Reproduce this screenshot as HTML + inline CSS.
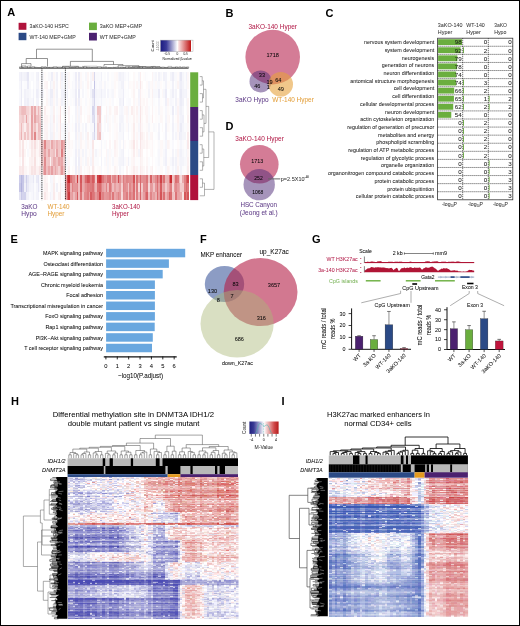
<!DOCTYPE html>
<html><head><meta charset="utf-8"><style>
html,body{margin:0;padding:0;background:#fff;}
body{width:520px;height:626px;overflow:hidden;}
svg{display:block;position:absolute;left:0;top:0;font-family:"Liberation Sans",sans-serif;will-change:transform;}
.hm{position:absolute;overflow:hidden;}
.hm i{position:absolute;left:0;width:100%;height:calc(var(--rh) + 0.6px);}
.hm2{position:absolute;transform-origin:0 0;}
.hm2 i{position:absolute;left:0;width:100%;height:1px;}
</style></head><body>
<div class="hm" style="left:19.20px;top:72.30px;width:169.90px;height:127.80px;--rh:8.520px"><i style="top:0.00px;background:linear-gradient(90deg,#f2f2fa 0 1%,#ededf7 0 2%,#f4f4fa 0 3%,#f2f2f9 0 4%,#efeff8 0 5%,#e6e6f4 0 6%,#fbfbfd 0 7%,#f9f9fd 0 8%,#f8f8fc 0 9%,#fdfdfe 0 10%,#f2f2f9 0 11%,#efeff8 0 12%,#fdfdfe 0 13%,#f7f7fc 0 14%,#f7f7fb 0 15%,#fefafa 0 16%,#fefdfd 0 17%,#f8f8fc 0 18%,#f9f9fc 0 19%,#eeeef8 0 20%,#fdf7f7 0 21%,#fafafd 0 22%,#f1f1f9 0 23%,#fefeff 0 24%,#fbf1f1 0 25%,#f0f0f9 0 26%,#f7f7fc 0 27%,#f8f8fc 0 28%,#f7f7fb 0 29%,#fdf7f7 0 30%,#fefefe 0 31%,#fdfdfe 0 32%,#fafafd 0 33%,#eeeef8 0 34%,#fefcfc 0 35%,#ececf7 0 36%,#fdf8f8 0 37%,#fcfcfe 0 38%,#fffdfd 0 39%,#f7f7fb 0 40%,#fdf6f6 0 41%,#fffefe 0 42%,#f6f6fb 0 43%,#fbf0f0 0 44%,#d8d8ee 0 45%,#f9f9fc 0 47%,#fafafd 0 48%,#f1f1f9 0 49%,#fdfdfe 0 50%,#fbfbfd 0 51%,#ffffff 0 52%,#f7f7fc 0 53%,#fefdfd 0 54%,#fbfbfd 0 56%,#fdf9f9 0 57%,#fdf7f7 0 58%,#f6f6fb 0 59%,#f1f1f9 0 60%,#f4f4fa 0 61%,#f2f2f9 0 62%,#f9f9fd 0 63%,#fcfcfe 0 64%,#f6f6fb 0 65%,#fefefe 0 66%,#ffffff 0 67%,#fdf9f9 0 68%,#fcfcfe 0 69%,#fefdfd 0 70%,#f6f6fb 0 71%,#fbeeee 0 72%,#fffefe 0 73%,#fefcfc 0 74%,#fafafd 0 75%,#fdfdfe 0 76%,#fefeff 0 77%,#ffffff 0 78%,#fcf4f5 0 79%,#f9f9fc 0 80%,#f6f6fb 0 81%,#fefdfd 0 82%,#f2f2f9 0 83%,#f8f8fc 0 84%,#fefcfc 0 85%,#f1f1f9 0 86%,#f3f3fa 0 87%,#fdfdfe 0 88%,#fefdfd 0 89%,#f4f4fa 0 90%,#ededf7 0 91%,#f8f8fc 0 92%,#f9f9fc 0 93%,#fefafa 0 94%,#f2f2f9 0 95%,#e8e8f5 0 96%,#f6f6fb 0 97%,#fbfbfd 0 98%,#f2f2fa 0 99%,#fdf7f8 0 100%)"></i><i style="top:8.52px;background:linear-gradient(90deg,#f6f6fb 0 1%,#ececf7 0 2%,#fcfcfe 0 3%,#fafafd 0 5%,#ebebf7 0 6%,#f9f9fc 0 7%,#ffffff 0 8%,#f8f8fc 0 9%,#fcfcfe 0 10%,#f4f4fa 0 11%,#f2f2f9 0 12%,#fefbfb 0 13%,#f4f4fa 0 14%,#ffffff 0 15%,#fdf6f7 0 16%,#fcf3f4 0 17%,#ffffff 0 18%,#f1f1f9 0 19%,#f7f7fb 0 20%,#fbf1f1 0 21%,#fbfbfd 0 22%,#f4f4fa 0 23%,#fffdfd 0 24%,#fbf1f1 0 25%,#f5f5fb 0 26%,#f9f9fc 0 27%,#fbfbfd 0 28%,#f5f5fa 0 29%,#fdf7f8 0 30%,#fefdfd 0 31%,#f8f8fc 0 32%,#fafafd 0 33%,#f0f0f9 0 34%,#fefafa 0 35%,#efeff8 0 36%,#fdf7f7 0 37%,#f8f8fc 0 38%,#fefefe 0 39%,#fbfbfd 0 40%,#fcf3f3 0 41%,#fefcfc 0 42%,#f4f4fa 0 43%,#fdfdfe 0 44%,#c5c5e6 0 45%,#f8f8fc 0 46%,#fbfbfd 0 47%,#f7f7fc 0 48%,#f5f5fb 0 49%,#fefbfb 0 50%,#f6f6fb 0 51%,#fefcfc 0 52%,#fbfbfd 0 53%,#fefdfd 0 54%,#fafafd 0 56%,#fdf8f8 0 57%,#fefcfc 0 58%,#f8f8fc 0 60%,#f2f2f9 0 61%,#f0f0f9 0 62%,#fefcfc 0 63%,#fffefe 0 64%,#f8f8fc 0 65%,#fefafa 0 66%,#fefbfb 0 67%,#fdf6f7 0 68%,#fcfcfe 0 69%,#fdf6f7 0 70%,#f9f9fc 0 71%,#f9e6e7 0 72%,#fdf8f8 0 73%,#ffffff 0 74%,#fefeff 0 75%,#fefafa 0 76%,#f7f7fc 0 77%,#fdf9f9 0 78%,#fdf6f6 0 79%,#fafafd 0 80%,#fdf9f9 0 81%,#f9f9fc 0 82%,#f8f8fc 0 83%,#fefafa 0 84%,#fffdfd 0 85%,#fbfbfd 0 86%,#f3f3fa 0 87%,#fefbfb 0 89%,#fcfcfe 0 90%,#f1f1f9 0 91%,#fffefe 0 92%,#f9f9fc 0 93%,#fcf4f4 0 94%,#f3f3fa 0 95%,#eeeef8 0 96%,#f4f4fa 0 97%,#fbfbfd 0 98%,#f6f6fb 0 99%,#fdf7f7 0 100%)"></i><i style="top:17.04px;background:linear-gradient(90deg,#f8f8fc 0 1%,#ebebf6 0 2%,#fbfbfd 0 3%,#f1f1f9 0 4%,#f5f5fb 0 5%,#f4f4fa 0 6%,#f7f7fc 0 7%,#fcfcfe 0 8%,#f3f3fa 0 9%,#fcfcfe 0 10%,#eeeef8 0 11%,#f1f1f9 0 12%,#fafafd 0 13%,#f0f0f9 0 14%,#f7f7fc 0 15%,#fefcfc 0 16%,#fdf7f8 0 17%,#f9f9fd 0 18%,#ededf7 0 20%,#fcf5f5 0 21%,#fafafd 0 22%,#f2f2f9 0 23%,#fffefe 0 24%,#fefcfc 0 25%,#f3f3fa 0 26%,#f2f2f9 0 27%,#f9f9fd 0 28%,#f2f2f9 0 29%,#fffefe 0 30%,#fbfbfd 0 31%,#f9f9fc 0 32%,#f8f8fc 0 33%,#ededf7 0 34%,#ffffff 0 35%,#e8e8f5 0 36%,#fefdfd 0 37%,#f6f6fb 0 38%,#fefeff 0 39%,#fbfbfd 0 40%,#fefafa 0 41%,#fefefe 0 42%,#f4f4fa 0 43%,#e2e2f2 0 44%,#d4d4ec 0 45%,#f4f4fa 0 46%,#f7f7fb 0 47%,#f6f6fb 0 48%,#efeff8 0 49%,#f7f7fc 0 50%,#f5f5fb 0 51%,#ffffff 0 52%,#f5f5fb 0 53%,#fbfbfd 0 54%,#f8f8fc 0 55%,#f6f6fb 0 56%,#fefafa 0 57%,#fffefe 0 58%,#f8f8fc 0 59%,#f7f7fb 0 60%,#f7f7fc 0 61%,#ededf7 0 62%,#fcfcfe 0 63%,#fdfdfe 0 64%,#fbfbfd 0 65%,#ffffff 0 66%,#fefbfb 0 67%,#fcf4f4 0 68%,#fdfdfe 0 69%,#fffefe 0 70%,#f3f3fa 0 71%,#fbeeef 0 72%,#fefafb 0 73%,#fefcfc 0 74%,#fcfcfe 0 75%,#fefcfc 0 76%,#f4f4fa 0 77%,#fefbfb 0 78%,#fbf1f1 0 79%,#f8f8fc 0 81%,#f9f9fc 0 82%,#ececf7 0 83%,#fdfdfe 0 84%,#fdf8f8 0 85%,#f6f6fb 0 86%,#ececf7 0 87%,#fefeff 0 88%,#fdfdfe 0 89%,#f7f7fb 0 90%,#efeff8 0 91%,#fafafd 0 92%,#f4f4fa 0 93%,#fffefe 0 94%,#f2f2f9 0 95%,#eaeaf6 0 96%,#f3f3fa 0 97%,#f5f5fb 0 98%,#f3f3fa 0 99%,#fefbfc 0 100%)"></i><i style="top:25.56px;background:linear-gradient(90deg,#f7f7fc 0 1%,#ebebf6 0 2%,#fefeff 0 3%,#f0f0f9 0 4%,#f3f3fa 0 5%,#eeeef7 0 6%,#f7f7fb 0 7%,#f7f7fc 0 8%,#efeff8 0 9%,#fefefe 0 10%,#f3f3fa 0 11%,#f2f2f9 0 12%,#ffffff 0 13%,#f8f8fc 0 14%,#fefeff 0 15%,#fefdfd 0 16%,#fcf5f5 0 17%,#f8f8fc 0 18%,#f0f0f9 0 19%,#f3f3fa 0 20%,#fdf6f6 0 21%,#fbfbfd 0 22%,#f4f4fa 0 23%,#fefafa 0 24%,#fdf5f6 0 25%,#f1f1f9 0 26%,#f7f7fc 0 27%,#fffefe 0 28%,#f5f5fb 0 29%,#fefbfb 0 30%,#fbfbfd 0 31%,#fefcfc 0 32%,#fafafd 0 33%,#ececf7 0 34%,#fdf8f8 0 35%,#eeeef8 0 36%,#fdf9f9 0 37%,#fdfdfe 0 38%,#fffdfd 0 39%,#f9f9fd 0 40%,#fefcfc 0 41%,#fdf9f9 0 42%,#f9f9fc 0 43%,#ececf7 0 44%,#d7d7ee 0 45%,#f7f7fc 0 46%,#f8f8fc 0 47%,#fafafd 0 48%,#f3f3fa 0 49%,#fbfbfd 0 51%,#fefbfb 0 52%,#fcfcfe 0 53%,#fefafa 0 54%,#fcfcfe 0 55%,#f9f9fd 0 56%,#ffffff 0 57%,#fefdfd 0 58%,#fefefe 0 59%,#f2f2f9 0 60%,#f5f5fb 0 61%,#ebebf6 0 62%,#ffffff 0 63%,#fcfcfe 0 64%,#fafafd 0 66%,#ffffff 0 67%,#fdf6f6 0 68%,#fbfbfd 0 69%,#fefafa 0 70%,#f5f5fb 0 71%,#faeded 0 72%,#fef9f9 0 73%,#fdf7f7 0 74%,#fffdfd 0 75%,#fdf7f8 0 76%,#fdfdfe 0 77%,#fefcfc 0 78%,#fcf5f5 0 79%,#fbfbfd 0 80%,#fdfdfe 0 81%,#fefefe 0 82%,#f5f5fb 0 83%,#fefcfc 0 84%,#fffdfd 0 85%,#fcfcfe 0 86%,#f0f0f9 0 87%,#fcf4f5 0 88%,#fafafd 0 89%,#f7f7fc 0 90%,#f9f9fd 0 91%,#fefefe 0 92%,#f2f2f9 0 93%,#fdf8f9 0 94%,#f3f3fa 0 95%,#ececf7 0 96%,#f1f1f9 0 97%,#fefeff 0 98%,#f7f7fc 0 99%,#fcf4f4 0 100%)"></i><i style="top:34.08px;background:linear-gradient(90deg,#f2cecf 0 1%,#efc0c1 0 2%,#eebbbd 0 3%,#eebdbe 0 4%,#f3d0d2 0 5%,#f4d4d5 0 6%,#f7dfdf 0 7%,#e9a9ab 0 8%,#f3cecf 0 9%,#e9a9ab 0 10%,#f6dadb 0 11%,#edb9bb 0 12%,#f4d5d6 0 13%,#fffefe 0 14%,#ffffff 0 15%,#fbeeee 0 16%,#fefafa 0 17%,#fefbfb 0 18%,#f8f8fc 0 19%,#f7f7fb 0 20%,#fbf1f1 0 21%,#fefefe 0 22%,#fafafd 0 23%,#fdf9f9 0 24%,#f7e1e1 0 25%,#fdfdfe 0 26%,#f9f9fc 0 27%,#fffdfd 0 28%,#fafafd 0 29%,#fcf3f4 0 30%,#fffefe 0 31%,#ffffff 0 32%,#fefeff 0 33%,#f3f3fa 0 34%,#fcf5f5 0 35%,#f5f5fb 0 36%,#fbf0f1 0 37%,#fdfdfe 0 38%,#fefbfb 0 39%,#fcfcfe 0 40%,#fefafa 0 41%,#fdf8f8 0 42%,#fafafd 0 43%,#d6d6ed 0 44%,#dedef1 0 45%,#f5f5fb 0 46%,#f0c4c5 0 47%,#f1c7c8 0 48%,#f2f2fa 0 49%,#ffffff 0 50%,#fffefe 0 51%,#fcf3f4 0 52%,#fbfbfd 0 53%,#fcf4f4 0 54%,#fefafa 0 55%,#fdfdfe 0 56%,#fcf3f3 0 57%,#fbf0f1 0 58%,#fffefe 0 59%,#f7f7fc 0 60%,#f5f5fb 0 61%,#f9f9fd 0 62%,#fdf7f7 0 63%,#fcf4f4 0 64%,#f6f6fb 0 65%,#fefcfc 0 66%,#fbeeee 0 67%,#fcf5f5 0 68%,#fefcfc 0 69%,#fcf2f2 0 70%,#f9f9fd 0 71%,#f8e5e6 0 72%,#fdf6f6 0 73%,#fefcfc 0 74%,#fdf5f6 0 75%,#fdf6f7 0 76%,#fafafd 0 77%,#fffefe 0 78%,#fcf3f3 0 79%,#fdfdfe 0 80%,#fefbfb 0 81%,#fffdfd 0 82%,#f6f6fb 0 83%,#fdf9f9 0 84%,#fef9f9 0 85%,#fdfdfe 0 86%,#f7f7fc 0 87%,#fdf9f9 0 88%,#fefcfc 0 89%,#fbfbfd 0 90%,#ececf7 0 91%,#ffffff 0 92%,#f7f7fc 0 93%,#fcf2f3 0 94%,#f4f4fa 0 95%,#f0f0f8 0 96%,#f6f6fb 0 97%,#ffffff 0 98%,#fbfbfd 0 99%,#fcf4f4 0 100%)"></i><i style="top:42.60px;background:linear-gradient(90deg,#f4d4d5 0 1%,#f3d0d1 0 2%,#f1c9ca 0 3%,#f6dbdc 0 4%,#e8a6a8 0 5%,#f5d8d9 0 6%,#f9e6e7 0 7%,#e7a1a4 0 8%,#f5d8d9 0 9%,#e7a3a5 0 10%,#efc1c3 0 11%,#edbabc 0 12%,#f2cbcc 0 13%,#fafafd 0 14%,#fefdfd 0 15%,#fcf2f3 0 16%,#fcf3f3 0 17%,#fdf9f9 0 18%,#f4f4fa 0 19%,#f7f7fb 0 20%,#faeced 0 21%,#fefefe 0 22%,#f8f8fc 0 23%,#fdf6f7 0 24%,#f6ddde 0 25%,#ffffff 0 26%,#fdfdfe 0 27%,#fefeff 0 28%,#ffffff 0 29%,#fcf4f5 0 30%,#fefeff 0 31%,#fbfbfd 0 32%,#fefefe 0 33%,#f4f4fa 0 34%,#fcf5f5 0 35%,#f4f4fa 0 36%,#fdf6f6 0 37%,#ffffff 0 38%,#fefafa 0 39%,#fefefe 0 40%,#fdf6f6 0 41%,#fcf3f3 0 42%,#f8f8fc 0 43%,#e1e1f2 0 44%,#d9d9ef 0 45%,#f8f8fc 0 46%,#f5d8d9 0 47%,#f1c8c9 0 48%,#f8f8fc 0 49%,#fffefe 0 50%,#f9f9fc 0 51%,#fcf3f3 0 52%,#f9f9fc 0 53%,#fdf9f9 0 54%,#fffdfd 0 55%,#fafafd 0 56%,#fdf7f7 0 57%,#fefbfb 0 58%,#fefeff 0 59%,#f4f4fa 0 60%,#f3f3fa 0 61%,#f6f6fb 0 62%,#fefdfd 0 63%,#fdf6f7 0 64%,#f9f9fc 0 65%,#fefbfb 0 66%,#fefcfc 0 67%,#fcf3f3 0 68%,#fefcfc 0 69%,#fdf6f6 0 70%,#f9f9fc 0 71%,#f8e3e4 0 72%,#fdf8f8 0 73%,#fffdfd 0 74%,#fefbfb 0 75%,#fcf4f4 0 76%,#fafafd 0 77%,#fefcfc 0 78%,#fbeeef 0 79%,#fffefe 0 80%,#fefbfb 0 81%,#fefcfc 0 82%,#fbfbfd 0 83%,#fdf7f7 0 84%,#fdf8f8 0 85%,#fefefe 0 86%,#f5f5fb 0 87%,#fdf8f8 0 88%,#fdf6f6 0 89%,#fefeff 0 90%,#f3f3fa 0 91%,#fffefe 0 92%,#fefbfb 0 93%,#fcf2f2 0 94%,#f7f7fc 0 95%,#f2f2fa 0 96%,#f0f0f9 0 97%,#fffefe 0 98%,#ffffff 0 99%,#fbf0f0 0 100%)"></i><i style="top:51.12px;background:linear-gradient(90deg,#f6dbdb 0 1%,#eebbbc 0 2%,#f7dedf 0 3%,#fbefef 0 4%,#f5d7d8 0 5%,#f2cccd 0 6%,#f8e5e5 0 7%,#e8a5a7 0 8%,#f4d5d6 0 9%,#efbfc0 0 10%,#f7e1e2 0 11%,#eebbbd 0 12%,#efbfc1 0 13%,#f8f8fc 0 14%,#fefeff 0 15%,#fcf3f4 0 16%,#fcf4f4 0 17%,#fafafd 0 18%,#f2f2f9 0 19%,#f6f6fb 0 20%,#fcf3f4 0 21%,#fffdfd 0 22%,#f6f6fb 0 23%,#fdf8f8 0 24%,#f8e4e5 0 25%,#f8f8fc 0 27%,#fbfbfd 0 28%,#f7f7fc 0 29%,#fdf8f9 0 30%,#fdfdfe 0 31%,#fefafa 0 32%,#fcfcfe 0 33%,#eeeef8 0 34%,#fdf9f9 0 35%,#f1f1f9 0 36%,#fefbfb 0 37%,#f8f8fc 0 38%,#fefefe 0 39%,#f3f3fa 0 40%,#fefcfc 0 41%,#fdfdfe 0 42%,#f8f8fc 0 44%,#cfcfea 0 45%,#f6f6fb 0 46%,#f2cccd 0 47%,#f5d9da 0 48%,#f3f3fa 0 49%,#fffefe 0 50%,#fafafd 0 51%,#ffffff 0 52%,#f8f8fc 0 53%,#fdf8f8 0 54%,#fffefe 0 55%,#fcfcfe 0 56%,#fefafa 0 57%,#fdf8f9 0 58%,#fefeff 0 59%,#f1f1f9 0 60%,#f7f7fb 0 61%,#f4f4fa 0 62%,#fcfcfe 0 63%,#fefafa 0 64%,#f4f4fa 0 65%,#fdfdfe 0 66%,#fefafa 0 67%,#faeded 0 68%,#fcfcfe 0 69%,#fefafa 0 70%,#f6f6fb 0 71%,#f9e9ea 0 72%,#fdf6f7 0 73%,#fefcfc 0 75%,#fdf9f9 0 76%,#f6f6fb 0 77%,#fefcfc 0 79%,#f9f9fc 0 80%,#fbfbfd 0 81%,#fffdfd 0 82%,#f4f4fa 0 83%,#fefeff 0 84%,#fdf9f9 0 85%,#fefeff 0 86%,#f0f0f8 0 87%,#fdf9f9 0 88%,#fefbfb 0 89%,#fdfdfe 0 90%,#f1f1f9 0 91%,#fcfcfe 0 92%,#fafafd 0 93%,#fcf4f4 0 94%,#f5f5fb 0 95%,#ebebf6 0 96%,#f5f5fb 0 97%,#fbfbfd 0 98%,#fafafd 0 99%,#fdf6f6 0 100%)"></i><i style="top:59.64px;background:linear-gradient(90deg,#f5d6d7 0 1%,#ecb3b5 0 2%,#f8e2e2 0 3%,#f0c3c4 0 4%,#f9e6e6 0 5%,#f1c9ca 0 6%,#f8e2e3 0 7%,#e8a4a6 0 8%,#f4d6d7 0 9%,#e08789 0 10%,#f5dadb 0 11%,#f0c3c4 0 12%,#f0c5c6 0 13%,#fdfdfe 0 15%,#fcf4f5 0 16%,#fbf1f2 0 17%,#fbfbfd 0 18%,#f1f1f9 0 19%,#f2f2f9 0 20%,#fbf1f1 0 21%,#fafafd 0 22%,#f9f9fc 0 23%,#fdf7f7 0 24%,#f8e3e3 0 25%,#fafafd 0 26%,#f9f9fc 0 27%,#fcfcfe 0 28%,#f9f9fd 0 29%,#fbefef 0 30%,#fffefe 0 32%,#fefefe 0 33%,#f1f1f9 0 34%,#fdf6f6 0 35%,#f6f6fb 0 36%,#fcf3f3 0 37%,#f8f8fc 0 38%,#fffefe 0 39%,#f7f7fb 0 40%,#fbf0f0 0 41%,#fefefe 0 42%,#fafafd 0 43%,#ececf7 0 44%,#d9d9ef 0 45%,#f5f5fb 0 46%,#f2cccd 0 47%,#efc1c2 0 48%,#f7f7fc 0 49%,#fafafd 0 50%,#fefeff 0 51%,#fffefe 0 52%,#fefeff 0 53%,#fefafa 0 54%,#ffffff 0 55%,#fcfcfe 0 56%,#fefafa 0 57%,#fdf7f7 0 58%,#fafafd 0 59%,#f8f8fc 0 61%,#f1f1f9 0 62%,#ffffff 0 63%,#fffefe 0 64%,#f7f7fc 0 65%,#ffffff 0 66%,#fefafa 0 67%,#fbefef 0 68%,#fbfbfd 0 69%,#fdf6f7 0 70%,#f9f9fd 0 71%,#f8e4e5 0 72%,#fbefef 0 73%,#fdf7f7 0 74%,#fffefe 0 75%,#fcf4f4 0 76%,#fafafd 0 77%,#fdf6f6 0 78%,#fcf4f4 0 79%,#fefeff 0 80%,#fdfdfe 0 81%,#fbfbfd 0 82%,#f2f2f9 0 83%,#ffffff 0 84%,#fffefe 0 85%,#fcfcfe 0 86%,#f1f1f9 0 87%,#fefdfd 0 88%,#fefcfc 0 89%,#fefefe 0 90%,#f3f3fa 0 91%,#fdfdfe 0 92%,#f5f5fb 0 93%,#fdf8f8 0 94%,#ededf7 0 95%,#f0f0f9 0 96%,#f5f5fa 0 98%,#fffefe 0 99%,#faeaeb 0 100%)"></i><i style="top:68.16px;background:linear-gradient(90deg,#faeaea 0 1%,#fdf9f9 0 2%,#f8e5e5 0 3%,#fefbfb 0 4%,#fdf6f6 0 5%,#fcfcfe 0 6%,#fcf5f5 0 7%,#f9e6e7 0 8%,#fbf1f1 0 9%,#f7dedf 0 10%,#fbf1f1 0 11%,#fdf8f8 0 12%,#faeaea 0 13%,#f0c3c5 0 14%,#f1c7c9 0 15%,#e08587 0 16%,#efc2c3 0 17%,#efc2c4 0 18%,#f4d5d6 0 19%,#e9a9ab 0 20%,#efbfc1 0 21%,#f2cccd 0 22%,#ecb3b5 0 23%,#f0c4c5 0 24%,#f1cacb 0 25%,#e49698 0 26%,#eaaeb0 0 27%,#fdf5f5 0 28%,#fafafd 0 29%,#fcf4f4 0 30%,#fefafa 0 31%,#fdf8f8 0 32%,#fcfcfe 0 33%,#f4f4fa 0 34%,#fdf9f9 0 35%,#f7f7fb 0 36%,#fcf4f4 0 37%,#fefbfb 0 39%,#f8f8fc 0 40%,#fcf5f5 0 41%,#fefbfb 0 42%,#fafafd 0 43%,#f9e7e8 0 44%,#fefefe 0 46%,#fefeff 0 47%,#fffdfd 0 48%,#f5f5fb 0 49%,#fefdfd 0 50%,#fbfbfd 0 51%,#fef9fa 0 52%,#ffffff 0 53%,#fdf5f6 0 54%,#ffffff 0 55%,#fcfcfe 0 56%,#fbf0f1 0 57%,#fdf7f7 0 58%,#fcfcfe 0 59%,#f7f7fc 0 60%,#fffdfd 0 61%,#f2f2f9 0 62%,#fefafb 0 63%,#fffefe 0 64%,#fdfdfe 0 65%,#fdf9f9 0 66%,#fcf4f4 0 67%,#f9e6e7 0 68%,#fefdfd 0 69%,#fcf3f4 0 70%,#fcfcfe 0 71%,#f8e5e6 0 72%,#fcf3f4 0 73%,#fcf5f5 0 74%,#fefafa 0 75%,#fcf3f3 0 76%,#fefafa 0 77%,#fefbfb 0 78%,#fdf6f7 0 79%,#fdfdfe 0 80%,#fffefe 0 81%,#fefcfd 0 82%,#f9f9fc 0 83%,#fdf8f8 0 84%,#fdf7f7 0 85%,#fbfbfd 0 86%,#f5f5fb 0 87%,#fcf4f4 0 88%,#fdf7f8 0 89%,#fdfdfe 0 90%,#f9f9fd 0 91%,#ffffff 0 92%,#fefeff 0 93%,#fefafa 0 94%,#fbfbfd 0 95%,#f5f5fb 0 96%,#fafafd 0 97%,#fefcfc 0 98%,#f9f9fc 0 99%,#f9e8e9 0 100%)"></i><i style="top:76.68px;background:linear-gradient(90deg,#faebec 0 1%,#fdf6f6 0 2%,#f8e2e3 0 3%,#fcf5f5 0 4%,#ffffff 0 5%,#f9f9fc 0 6%,#fefafa 0 7%,#faeaea 0 8%,#fcf2f2 0 9%,#f9e8e8 0 10%,#fdf7f7 0 11%,#fdf6f6 0 12%,#f9e9ea 0 13%,#f3d0d1 0 14%,#eebdbf 0 15%,#e8a4a6 0 16%,#f1c7c8 0 17%,#e8a7a9 0 18%,#f2cdce 0 19%,#f1c7c8 0 20%,#eebebf 0 21%,#f7dfe0 0 22%,#e8a5a8 0 23%,#f0c6c7 0 24%,#f4d2d3 0 25%,#de7f82 0 26%,#efc1c3 0 27%,#ffffff 0 28%,#f9f9fc 0 29%,#fdf8f8 0 30%,#fefbfb 0 31%,#fffdfd 0 32%,#fcfcfe 0 33%,#f0f0f9 0 34%,#fdf9f9 0 35%,#f1f1f9 0 36%,#fdf9f9 0 37%,#f4f4fa 0 38%,#fefbfb 0 39%,#f6f6fb 0 40%,#fefbfb 0 41%,#fdf8f8 0 42%,#f9f9fd 0 43%,#faeded 0 44%,#fbfbfd 0 45%,#f4f4fa 0 46%,#fbfbfd 0 47%,#fefafa 0 48%,#f5f5fb 0 49%,#fffefe 0 51%,#fdf5f6 0 52%,#f8f8fc 0 53%,#fdf8f9 0 54%,#fafafd 0 55%,#fcfcfe 0 56%,#fcf3f4 0 57%,#fdf7f7 0 58%,#fdfdfe 0 59%,#f7f7fb 0 60%,#f4f4fa 0 61%,#f0f0f8 0 62%,#fffefe 0 63%,#ffffff 0 64%,#fafafd 0 65%,#fffefe 0 66%,#fdf9f9 0 67%,#faedee 0 68%,#fefcfc 0 69%,#fdf6f6 0 70%,#f4f4fa 0 71%,#faeaea 0 72%,#fcf3f3 0 73%,#ffffff 0 75%,#fefafa 0 76%,#ffffff 0 77%,#fefafa 0 78%,#fdf6f6 0 79%,#fdfdfe 0 80%,#ffffff 0 81%,#fbfbfd 0 82%,#f7f7fc 0 83%,#fdf8f8 0 84%,#fefafa 0 85%,#f8f8fc 0 86%,#f1f1f9 0 87%,#fefdfd 0 88%,#fefcfd 0 89%,#fffdfd 0 90%,#f4f4fa 0 91%,#fefefe 0 92%,#f7f7fb 0 93%,#fcf4f4 0 94%,#f5f5fb 0 95%,#f1f1f9 0 96%,#f7f7fb 0 97%,#fbfbfd 0 98%,#f6f6fb 0 99%,#fcf5f5 0 100%)"></i><i style="top:85.20px;background:linear-gradient(90deg,#fdf6f6 0 1%,#fefeff 0 2%,#f8e4e5 0 3%,#fefafa 0 4%,#fffefe 0 5%,#fefefe 0 6%,#fcf3f3 0 7%,#fbefef 0 8%,#fcf4f5 0 9%,#f7e1e1 0 10%,#fdf8f8 0 11%,#fefbfb 0 12%,#fcf4f4 0 13%,#f1c7c8 0 14%,#f3ced0 0 15%,#e18b8e 0 16%,#f1c8c9 0 17%,#f0c3c4 0 18%,#fbf1f1 0 19%,#f1c8ca 0 20%,#eaadaf 0 21%,#ebb2b4 0 22%,#efc1c2 0 23%,#e8a5a7 0 24%,#ebafb1 0 25%,#e8a6a8 0 26%,#f3d1d2 0 27%,#f7f7fc 0 29%,#fdf6f7 0 30%,#fefeff 0 31%,#fefefe 0 32%,#fbfbfd 0 33%,#efeff8 0 34%,#ffffff 0 35%,#eeeef8 0 36%,#fdf6f6 0 37%,#f9f9fc 0 38%,#fefcfc 0 39%,#f5f5fa 0 40%,#fcf4f4 0 41%,#fefbfb 0 42%,#f5f5fb 0 43%,#fbeeee 0 44%,#fbfbfd 0 47%,#ffffff 0 48%,#f3f3fa 0 49%,#fffefe 0 50%,#f9f9fd 0 51%,#fdf6f6 0 52%,#f8f8fc 0 53%,#fef9f9 0 54%,#fdfdfe 0 55%,#f7f7fc 0 56%,#fefafa 0 58%,#f8f8fc 0 59%,#f4f4fa 0 61%,#f0f0f9 0 62%,#fafafd 0 63%,#fefafa 0 64%,#f2f2f9 0 65%,#fcfcfe 0 66%,#fdf7f7 0 67%,#fcf4f5 0 68%,#fcfcfe 0 69%,#fefcfc 0 70%,#fcfcfe 0 71%,#fbf0f0 0 72%,#fcf5f5 0 73%,#fefcfc 0 74%,#fffefe 0 75%,#fdf7f7 0 76%,#fcfcfe 0 77%,#ffffff 0 78%,#fdf8f9 0 79%,#fffefe 0 80%,#fcfcfe 0 81%,#fbfbfd 0 82%,#f7f7fb 0 83%,#fefbfb 0 84%,#fefcfc 0 85%,#f6f6fb 0 86%,#f0f0f9 0 87%,#fefbfb 0 88%,#fefafa 0 89%,#f8f8fc 0 90%,#f0f0f8 0 91%,#fafafd 0 92%,#f2f2f9 0 93%,#fdf7f7 0 94%,#f6f6fb 0 95%,#f3f3fa 0 96%,#f4f4fa 0 97%,#f8f8fc 0 98%,#f9f9fc 0 99%,#fbf0f1 0 100%)"></i><i style="top:93.72px;background:linear-gradient(90deg,#f9e8e9 0 1%,#faecec 0 2%,#f8e5e6 0 3%,#fcf5f5 0 5%,#fefbfb 0 6%,#fcf3f3 0 7%,#f8e4e4 0 8%,#faeaea 0 9%,#f8e3e4 0 10%,#fcf2f2 0 11%,#fbf0f1 0 12%,#f8e5e5 0 13%,#faebec 0 14%,#ecb5b6 0 15%,#e39194 0 16%,#efbfc1 0 17%,#e9a8aa 0 18%,#efbfc0 0 19%,#e69ea1 0 20%,#efbfc1 0 21%,#e9a8aa 0 22%,#efbfc0 0 23%,#f3d2d3 0 24%,#edb8b9 0 25%,#e59a9c 0 26%,#efc1c3 0 27%,#fefcfc 0 28%,#f8f8fc 0 29%,#fbf0f0 0 30%,#ffffff 0 31%,#fefbfb 0 32%,#fefcfc 0 33%,#efeff8 0 34%,#fdf7f7 0 35%,#f0f0f8 0 36%,#fbf0f1 0 37%,#fdfdfe 0 38%,#fdf8f8 0 39%,#fefbfb 0 40%,#fdf7f7 0 41%,#fbf1f1 0 42%,#fffdfe 0 43%,#f9e9ea 0 44%,#fdf7f7 0 45%,#fffefe 0 46%,#fefbfb 0 47%,#fdf9f9 0 48%,#f7f7fc 0 49%,#fffefe 0 50%,#fefbfc 0 51%,#fefafa 0 52%,#f8f8fc 0 53%,#fef9f9 0 54%,#fffefe 0 55%,#fefcfd 0 56%,#fcf3f3 0 57%,#fdf8f8 0 58%,#fefeff 0 59%,#f4f4fa 0 60%,#fbfbfd 0 61%,#f8f8fc 0 62%,#ffffff 0 63%,#fcf2f2 0 64%,#ffffff 0 65%,#fefbfb 0 66%,#fdf6f6 0 67%,#faeced 0 68%,#fdf7f7 0 69%,#fcf3f4 0 70%,#fbfbfd 0 71%,#faeaeb 0 72%,#fcf2f2 0 73%,#fdf7f7 0 74%,#fffefe 0 75%,#fbf1f2 0 76%,#fcfcfe 0 77%,#fdf6f6 0 78%,#fbf0f0 0 79%,#ffffff 0 80%,#fefbfb 0 81%,#fcfcfe 0 82%,#fbfbfd 0 83%,#fdf9f9 0 85%,#fefeff 0 86%,#f7f7fc 0 87%,#fcf3f3 0 88%,#fdf7f8 0 89%,#fcfcfe 0 90%,#f6f6fb 0 91%,#fdfdfe 0 92%,#f4f4fa 0 93%,#fbf1f1 0 94%,#fbfbfd 0 95%,#f3f3fa 0 96%,#fbfbfd 0 97%,#fefcfc 0 98%,#f9f9fc 0 99%,#faeced 0 100%)"></i><i style="top:102.24px;background:linear-gradient(90deg,#cdcdea 0 1%,#b9b9e1 0 2%,#c6c6e6 0 3%,#e8e8f5 0 4%,#cfcfea 0 5%,#e5e5f4 0 6%,#f1f1f9 0 7%,#f2f2f9 0 8%,#e8e8f5 0 9%,#f9f9fc 0 10%,#eaeaf6 0 11%,#e5e5f4 0 12%,#f8f8fc 0 13%,#fbfbfd 0 14%,#fdf9f9 0 15%,#fbf1f1 0 16%,#fdf6f6 0 17%,#ffffff 0 18%,#f5f5fb 0 19%,#f7f7fc 0 20%,#fcf2f2 0 21%,#fdfdfe 0 22%,#fefeff 0 23%,#fefafa 0 24%,#fcf4f5 0 25%,#fcfcfe 0 26%,#f8f8fc 0 27%,#e79fa2 0 28%,#d0464a 0 29%,#c8282d 0 30%,#db7174 0 31%,#e0878a 0 32%,#e28d8f 0 33%,#eaacae 0 34%,#cd3a3e 0 35%,#edb8ba 0 36%,#d4575b 0 37%,#e8a4a6 0 38%,#e49497 0 39%,#d96a6e 0 40%,#d25155 0 41%,#d4585c 0 42%,#dd787b 0 43%,#d55a5e 0 44%,#db7174 0 45%,#f1cacb 0 46%,#cf4146 0 47%,#ca2f34 0 48%,#d25054 0 49%,#dc7579 0 50%,#e28d90 0 51%,#e49799 0 52%,#dc777b 0 53%,#db7275 0 54%,#edb8b9 0 55%,#e18b8d 0 56%,#df8184 0 57%,#e7a2a4 0 58%,#d24e52 0 59%,#e28e91 0 60%,#ebb1b3 0 61%,#dd7b7e 0 62%,#e49497 0 63%,#df8486 0 64%,#e1898c 0 65%,#e28d8f 0 66%,#e39092 0 67%,#d35256 0 68%,#f0c4c5 0 69%,#db7376 0 70%,#e69c9e 0 71%,#d9696d 0 72%,#e39194 0 73%,#e28d90 0 75%,#dc7679 0 76%,#efc0c1 0 77%,#d76366 0 78%,#e9a9ab 0 79%,#e69ea0 0 80%,#e1888b 0 81%,#d76367 0 82%,#e1898c 0 83%,#cf4449 0 84%,#e39395 0 85%,#da6f72 0 86%,#ebb1b2 0 87%,#eaacae 0 88%,#da6f72 0 89%,#ca2e33 0 90%,#f0c3c4 0 91%,#e9aaac 0 92%,#da6f72 0 93%,#dd7b7f 0 94%,#eebcbe 0 95%,#f6dbdc 0 96%,#e8a7a9 0 97%,#e08487 0 98%,#d65f63 0 99%,#d0464a 0 100%)"></i><i style="top:110.76px;background:linear-gradient(90deg,#c6c6e6 0 1%,#b2b2de 0 2%,#c8c8e7 0 3%,#f0f0f8 0 4%,#d5d5ed 0 5%,#e8e8f5 0 6%,#f3f3fa 0 7%,#f5f5fb 0 8%,#f1f1f9 0 9%,#fbfbfd 0 10%,#f4f4fa 0 11%,#e7e7f5 0 12%,#f6f6fb 0 13%,#f8f8fc 0 14%,#fdf9f9 0 15%,#fbf1f1 0 16%,#fbeff0 0 17%,#fffefe 0 18%,#fafafd 0 19%,#f7f7fb 0 20%,#faeded 0 21%,#fcfcfe 0 22%,#f2f2f9 0 23%,#fefcfc 0 24%,#fbeeee 0 25%,#f8f8fc 0 26%,#fbfbfd 0 27%,#e69fa1 0 28%,#d55a5e 0 29%,#d45559 0 30%,#ebb1b3 0 31%,#df8285 0 32%,#e49799 0 33%,#e49699 0 34%,#e28c8f 0 35%,#eebdbe 0 36%,#d76165 0 37%,#e9a9ab 0 38%,#e69fa1 0 39%,#e28d8f 0 40%,#de7d80 0 41%,#de8083 0 42%,#dd7a7d 0 43%,#da7073 0 44%,#e5999b 0 45%,#ebb2b4 0 46%,#db7275 0 47%,#d9696c 0 48%,#df8284 0 49%,#e79fa2 0 50%,#eaabad 0 51%,#e08588 0 52%,#edb7b9 0 53%,#dc777a 0 54%,#e39396 0 55%,#eebcbe 0 56%,#e7a0a2 0 57%,#ecb3b5 0 58%,#eaaeb0 0 59%,#e69d9f 0 60%,#f3cfd0 0 61%,#df8184 0 62%,#e28d90 0 63%,#e49497 0 64%,#f0c3c5 0 65%,#e0888a 0 66%,#e69c9e 0 67%,#da6c70 0 68%,#efc1c3 0 69%,#dd7b7e 0 70%,#f5d7d8 0 71%,#d8686c 0 72%,#f1c9ca 0 73%,#e28e91 0 75%,#df8184 0 76%,#f5d9da 0 77%,#e5999c 0 78%,#e79fa1 0 79%,#f0c4c6 0 80%,#e4979a 0 81%,#dc7578 0 82%,#e7a0a2 0 83%,#d65e62 0 84%,#e9a9ab 0 85%,#e7a1a3 0 86%,#f2cacc 0 87%,#eaadaf 0 88%,#e39395 0 89%,#de7e81 0 90%,#f4d3d4 0 91%,#e59a9d 0 92%,#e1898c 0 93%,#e69b9e 0 94%,#e9a7a9 0 95%,#f2cbcc 0 96%,#f1c9ca 0 97%,#df8386 0 98%,#d96a6d 0 99%,#dc787b 0 100%)"></i><i style="top:119.28px;background:linear-gradient(90deg,#e4e4f3 0 1%,#c9c9e8 0 2%,#d4d4ec 0 3%,#d2d2ec 0 4%,#ededf7 0 5%,#f1f1f9 0 6%,#fafafd 0 7%,#f7f7fc 0 8%,#f1f1f9 0 9%,#f9f9fc 0 10%,#f3f3fa 0 11%,#f2f2fa 0 12%,#ffffff 0 13%,#fefcfc 0 14%,#fef9fa 0 15%,#f9e6e7 0 16%,#fcf2f2 0 17%,#fef9fa 0 18%,#f2f2fa 0 19%,#f8f8fc 0 20%,#faeaeb 0 21%,#fefafa 0 22%,#fcfcfe 0 23%,#fbf1f1 0 24%,#f9e8e9 0 25%,#fbfbfd 0 26%,#fefcfc 0 27%,#e7a2a4 0 28%,#d86669 0 29%,#cd3b40 0 30%,#e7a3a5 0 31%,#e69c9e 0 32%,#eebbbd 0 33%,#e7a1a3 0 34%,#d66064 0 35%,#eebdbf 0 36%,#dc7679 0 37%,#edbabc 0 38%,#e18b8e 0 39%,#e1888b 0 40%,#dd7b7e 0 41%,#e79fa2 0 42%,#d65d61 0 43%,#dc7578 0 44%,#de7d80 0 45%,#e59a9c 0 46%,#e08487 0 47%,#d0494d 0 48%,#e18b8d 0 49%,#df8285 0 50%,#e59a9c 0 51%,#e49799 0 52%,#e49496 0 53%,#df8486 0 54%,#eaacae 0 55%,#dd787b 0 56%,#e9a8aa 0 57%,#e69c9f 0 58%,#e08587 0 59%,#e49698 0 60%,#f5d8d9 0 61%,#e28c8f 0 62%,#e39295 0 63%,#de7d80 0 64%,#edb8ba 0 65%,#dd7b7e 0 66%,#e28f92 0 67%,#db7174 0 68%,#f2cbcc 0 69%,#de7f82 0 70%,#ecb3b5 0 71%,#d8666a 0 72%,#edb7b9 0 73%,#e69ea1 0 74%,#de7f82 0 75%,#d76266 0 76%,#eebdbf 0 77%,#e08588 0 78%,#e8a6a9 0 79%,#e69ea0 0 80%,#ebb2b3 0 81%,#da6d70 0 82%,#e59a9d 0 83%,#d45559 0 84%,#e7a0a2 0 85%,#da6f73 0 86%,#ebb1b3 0 87%,#e5989a 0 88%,#d76467 0 89%,#da6d70 0 90%,#efbfc0 0 91%,#f0c5c7 0 92%,#dc7478 0 93%,#e8a4a6 0 95%,#eaadaf 0 96%,#f8e3e3 0 97%,#d4575b 0 98%,#dc777b 0 99%,#d45559 0 100%)"></i></div><div class="hm2" style="left:67.60px;top:477.00px;width:70px;height:142px;transform:scale(2.43571,0.99859)"><i style="top:0px;background:linear-gradient(90deg,#dde 0 3px,#cce 0 4px,#eee 0 5px,#eef 0 6px,#bbd 0 7px,#dde 0 8px,#eee 0 9px,#eef 0 10px,#fee 0 11px,#fed 0 12px,#fff 0 13px,#fee 0 14px,#ecc 0 15px,#dde 0 16px,#fee 0 17px,#99d 0 18px,#fed 0 19px,#dde 0 20px,#eef 0 21px,#dde 0 22px,#fee 0 24px,#dde 0 26px,#ecc 0 27px,#fff 0 28px,#eef 0 30px,#edd 0 31px,#da9 0 32px,#ebb 0 36px,#edd 0 37px,#eaa 0 38px,#d99 0 40px,#ebb 0 41px,#eaa 0 42px,#ecc 0 43px,#ebb 0 44px,#fee 0 45px,#eaa 0 46px,#d99 0 48px,#eaa 0 49px,#ebb 0 50px,#eaa 0 51px,#d99 0 52px,#eba 0 53px,#ebb 0 54px,#d99 0 55px,#eaa 0 57px,#ebb 0 59px,#ecc 0 61px,#da9 0 62px,#eaa 0 65px,#ebb 0 66px,#d99 0 67px,#d88 0 68px,#eaa 0 70px)"></i><i style="top:1px;background:linear-gradient(90deg,#cce 0 1px,#bbd 0 2px,#eef 0 3px,#99c 0 4px,#dde 0 5px,#ccd 0 6px,#cce 0 7px,#eef 0 9px,#ffe 0 10px,#dde 0 11px,#edc 0 12px,#eee 0 13px,#dde 0 14px,#fff 0 15px,#fee 0 16px,#fff 0 18px,#dde 0 19px,#edd 0 20px,#dde 0 21px,#eee 0 22px,#cce 0 23px,#dde 0 24px,#ecc 0 25px,#edd 0 26px,#cce 0 27px,#eef 0 28px,#edd 0 29px,#fff 0 30px,#fee 0 31px,#ecc 0 32px,#fee 0 33px,#d99 0 34px,#ebb 0 36px,#da9 0 37px,#eaa 0 38px,#ebb 0 39px,#fdd 0 40px,#ebb 0 41px,#eaa 0 42px,#d99 0 43px,#eaa 0 44px,#ebb 0 45px,#d99 0 47px,#eaa 0 48px,#d99 0 49px,#da9 0 51px,#d88 0 52px,#fee 0 53px,#ecc 0 54px,#eaa 0 56px,#d99 0 57px,#ebb 0 58px,#ecb 0 59px,#ebb 0 60px,#ecc 0 61px,#d99 0 62px,#da9 0 63px,#d98 0 64px,#eaa 0 65px,#d88 0 66px,#d99 0 67px,#eaa 0 68px,#da9 0 69px,#d88 0 70px)"></i><i style="top:2px;background:linear-gradient(90deg,#dde 0 1px,#cce 0 2px,#bbd 0 3px,#aad 0 4px,#99c 0 5px,#aad 0 6px,#bbd 0 7px,#ccd 0 8px,#dde 0 9px,#bbd 0 10px,#eee 0 11px,#ccd 0 13px,#dde 0 14px,#bbd 0 15px,#cce 0 16px,#fdd 0 17px,#99c 0 18px,#dde 0 20px,#aad 0 21px,#dde 0 22px,#cce 0 23px,#fff 0 24px,#fee 0 25px,#eee 0 26px,#fff 0 27px,#dde 0 28px,#fee 0 30px,#fff 0 31px,#fee 0 32px,#eba 0 33px,#ecc 0 35px,#ebb 0 36px,#eaa 0 37px,#ecc 0 38px,#eaa 0 41px,#d99 0 42px,#fee 0 43px,#eaa 0 44px,#d99 0 45px,#d77 0 46px,#d88 0 47px,#eaa 0 48px,#ebb 0 49px,#eaa 0 50px,#d99 0 51px,#eaa 0 52px,#d99 0 53px,#eba 0 54px,#d88 0 55px,#d99 0 57px,#ebb 0 58px,#eaa 0 59px,#da9 0 60px,#ebb 0 61px,#d99 0 62px,#eaa 0 63px,#d88 0 64px,#fee 0 65px,#d99 0 67px,#d88 0 68px,#d98 0 69px,#d99 0 70px)"></i><i style="top:3px;background:linear-gradient(90deg,#dde 0 1px,#bbd 0 2px,#eef 0 3px,#cce 0 4px,#eee 0 5px,#cce 0 7px,#eee 0 8px,#cce 0 9px,#bbd 0 10px,#fff 0 11px,#eef 0 13px,#cce 0 14px,#dde 0 15px,#fee 0 16px,#fdd 0 17px,#eee 0 18px,#fee 0 19px,#eef 0 20px,#dde 0 21px,#eee 0 22px,#eef 0 23px,#fee 0 24px,#fff 0 25px,#ecc 0 26px,#fee 0 27px,#fff 0 30px,#fdd 0 31px,#ecc 0 32px,#ebb 0 33px,#ecc 0 34px,#fdd 0 35px,#fee 0 37px,#eaa 0 38px,#ebb 0 39px,#da9 0 40px,#ecc 0 41px,#ebb 0 42px,#d99 0 43px,#edd 0 44px,#ebb 0 45px,#d99 0 46px,#ebb 0 48px,#eba 0 49px,#eaa 0 50px,#d99 0 51px,#eba 0 52px,#ebb 0 53px,#eaa 0 54px,#d88 0 55px,#ebb 0 58px,#fee 0 59px,#d99 0 60px,#ebb 0 61px,#eaa 0 64px,#ebb 0 65px,#eaa 0 66px,#da9 0 67px,#d99 0 68px,#eaa 0 69px,#ebb 0 70px)"></i><i style="top:4px;background:linear-gradient(90deg,#dde 0 1px,#cce 0 2px,#bbd 0 3px,#dde 0 4px,#aad 0 5px,#cce 0 6px,#bbd 0 7px,#cce 0 8px,#fee 0 9px,#fff 0 10px,#cce 0 11px,#ecc 0 12px,#fff 0 13px,#eef 0 14px,#eee 0 15px,#fee 0 16px,#cce 0 18px,#fee 0 19px,#cce 0 20px,#fff 0 22px,#dde 0 23px,#fff 0 24px,#eef 0 25px,#fff 0 26px,#edd 0 27px,#fff 0 28px,#ebb 0 29px,#fee 0 30px,#ecc 0 32px,#ebb 0 33px,#eba 0 34px,#d99 0 36px,#ebb 0 37px,#d99 0 38px,#ecb 0 39px,#da9 0 40px,#d77 0 41px,#d88 0 43px,#d99 0 44px,#edd 0 45px,#d77 0 46px,#edd 0 47px,#da9 0 48px,#d77 0 49px,#d88 0 51px,#edd 0 52px,#ebb 0 53px,#d99 0 54px,#d76 0 55px,#eba 0 56px,#d88 0 57px,#d99 0 58px,#ecc 0 59px,#d99 0 61px,#d88 0 63px,#c66 0 64px,#d77 0 65px,#d76 0 66px,#d88 0 67px,#edc 0 68px,#d88 0 69px,#edd 0 70px)"></i><i style="top:5px;background:linear-gradient(90deg,#bbd 0 1px,#fff 0 2px,#bbd 0 3px,#eef 0 4px,#cce 0 5px,#dde 0 6px,#fff 0 7px,#fdd 0 8px,#eef 0 9px,#fff 0 10px,#d99 0 11px,#fee 0 12px,#dde 0 13px,#cce 0 14px,#edd 0 15px,#fff 0 16px,#dde 0 17px,#ecc 0 18px,#fee 0 19px,#eef 0 20px,#edd 0 21px,#fff 0 22px,#eef 0 23px,#fff 0 24px,#eee 0 25px,#dde 0 26px,#fff 0 27px,#edd 0 28px,#ecb 0 29px,#fee 0 30px,#edd 0 31px,#ebb 0 33px,#d88 0 34px,#eaa 0 35px,#d99 0 36px,#da9 0 37px,#d88 0 38px,#eaa 0 39px,#eba 0 40px,#d88 0 41px,#eaa 0 42px,#ebb 0 43px,#d87 0 44px,#d99 0 45px,#d77 0 47px,#eaa 0 48px,#d88 0 49px,#d98 0 50px,#d88 0 51px,#d99 0 52px,#eaa 0 53px,#d99 0 56px,#fee 0 57px,#eaa 0 59px,#eba 0 60px,#da9 0 61px,#d98 0 62px,#d99 0 63px,#edd 0 64px,#ecc 0 65px,#d98 0 66px,#d87 0 67px,#eaa 0 68px,#d99 0 69px,#d66 0 70px)"></i><i style="top:6px;background:linear-gradient(90deg,#fdd 0 1px,#dde 0 2px,#fee 0 3px,#bbd 0 4px,#cce 0 5px,#eee 0 6px,#dde 0 7px,#eee 0 8px,#eaa 0 9px,#fff 0 10px,#eef 0 11px,#ecc 0 12px,#fff 0 14px,#eef 0 15px,#fee 0 16px,#eef 0 17px,#edd 0 18px,#cce 0 20px,#fee 0 21px,#fdd 0 23px,#fff 0 24px,#ebb 0 25px,#fee 0 26px,#eef 0 27px,#fff 0 28px,#ecc 0 30px,#fff 0 31px,#eaa 0 33px,#d99 0 35px,#d98 0 36px,#fee 0 37px,#d88 0 38px,#d99 0 39px,#d88 0 40px,#d77 0 41px,#d99 0 43px,#d88 0 44px,#edd 0 45px,#d88 0 46px,#d87 0 47px,#d99 0 48px,#d77 0 51px,#d76 0 52px,#d99 0 53px,#eaa 0 54px,#c66 0 55px,#d99 0 56px,#d87 0 57px,#d88 0 58px,#d99 0 59px,#d77 0 60px,#d99 0 61px,#d66 0 62px,#d88 0 63px,#d66 0 64px,#d77 0 66px,#ecc 0 67px,#d66 0 68px,#d77 0 69px,#edd 0 70px)"></i><i style="top:7px;background:linear-gradient(90deg,#dde 0 1px,#eef 0 2px,#eee 0 3px,#dde 0 4px,#eef 0 5px,#fff 0 7px,#cce 0 8px,#dde 0 9px,#fee 0 10px,#dde 0 11px,#eef 0 12px,#cce 0 13px,#fed 0 14px,#edd 0 15px,#eef 0 17px,#cce 0 18px,#eef 0 19px,#fff 0 21px,#eef 0 22px,#fdd 0 23px,#fff 0 24px,#ecc 0 25px,#ebb 0 26px,#dde 0 27px,#edd 0 28px,#fff 0 29px,#dde 0 30px,#eba 0 31px,#d99 0 32px,#da9 0 33px,#eaa 0 34px,#d99 0 37px,#da9 0 38px,#eaa 0 39px,#d77 0 41px,#d99 0 42px,#d88 0 43px,#edd 0 44px,#d77 0 45px,#d76 0 46px,#d77 0 47px,#d99 0 48px,#d87 0 52px,#d77 0 53px,#d99 0 54px,#d76 0 55px,#d77 0 56px,#edd 0 57px,#d88 0 58px,#d99 0 59px,#d77 0 60px,#d88 0 61px,#c66 0 62px,#d77 0 63px,#d66 0 66px,#c66 0 67px,#d66 0 68px,#edd 0 69px,#d77 0 70px)"></i><i style="top:8px;background:linear-gradient(90deg,#cce 0 1px,#dde 0 3px,#aad 0 4px,#99c 0 5px,#cce 0 7px,#fff 0 9px,#eef 0 10px,#fee 0 11px,#fff 0 12px,#dde 0 13px,#fee 0 14px,#dde 0 16px,#eee 0 17px,#eef 0 18px,#ecc 0 19px,#bbd 0 20px,#cce 0 21px,#dde 0 22px,#fff 0 23px,#ecc 0 24px,#fee 0 25px,#eef 0 27px,#fff 0 28px,#ecc 0 29px,#fee 0 31px,#ecc 0 32px,#edc 0 33px,#eaa 0 34px,#ebb 0 35px,#d99 0 36px,#ebb 0 37px,#da9 0 38px,#eaa 0 41px,#edd 0 42px,#d99 0 43px,#eaa 0 44px,#edd 0 45px,#d88 0 46px,#edd 0 47px,#d99 0 48px,#d88 0 49px,#d99 0 50px,#d88 0 51px,#d77 0 52px,#ebb 0 54px,#d88 0 56px,#eaa 0 57px,#d88 0 58px,#da9 0 59px,#ebb 0 60px,#eaa 0 61px,#d87 0 62px,#d77 0 63px,#d99 0 64px,#d77 0 65px,#d87 0 67px,#d99 0 68px,#da9 0 69px,#fdd 0 70px)"></i><i style="top:9px;background:linear-gradient(90deg,#dde 0 1px,#cce 0 2px,#fff 0 3px,#bbd 0 4px,#cce 0 5px,#dde 0 6px,#bbd 0 7px,#fff 0 8px,#ccd 0 9px,#dde 0 10px,#fee 0 11px,#fff 0 12px,#fee 0 13px,#eef 0 14px,#edd 0 15px,#fee 0 16px,#cce 0 17px,#edd 0 18px,#dde 0 19px,#fff 0 20px,#ecc 0 22px,#eee 0 23px,#dde 0 24px,#ecc 0 25px,#eee 0 26px,#fee 0 28px,#ebb 0 29px,#eef 0 30px,#fff 0 31px,#ecc 0 32px,#eaa 0 33px,#ecc 0 34px,#eaa 0 35px,#ebb 0 37px,#eaa 0 38px,#ebb 0 40px,#eaa 0 41px,#ebb 0 42px,#ecc 0 44px,#ebb 0 45px,#eaa 0 46px,#d99 0 47px,#eaa 0 50px,#ebb 0 51px,#fdd 0 52px,#eaa 0 54px,#d88 0 55px,#ebb 0 56px,#da9 0 57px,#ebb 0 59px,#d99 0 60px,#eba 0 61px,#d98 0 62px,#eaa 0 64px,#ebb 0 65px,#d87 0 66px,#d99 0 67px,#eaa 0 69px,#ebb 0 70px)"></i><i style="top:10px;background:linear-gradient(90deg,#cce 0 1px,#eee 0 2px,#cce 0 3px,#dde 0 4px,#aad 0 5px,#bbd 0 7px,#eef 0 8px,#fff 0 9px,#fee 0 10px,#fff 0 13px,#dde 0 16px,#fee 0 17px,#ecc 0 18px,#fff 0 19px,#cce 0 20px,#fff 0 21px,#fee 0 22px,#dde 0 23px,#fff 0 24px,#edd 0 25px,#fee 0 26px,#eef 0 27px,#fff 0 28px,#eef 0 29px,#dde 0 30px,#fff 0 31px,#ecc 0 34px,#ebb 0 35px,#edd 0 36px,#ebb 0 37px,#ecc 0 38px,#ebb 0 39px,#ecc 0 40px,#ebb 0 41px,#ecc 0 42px,#da9 0 43px,#ecc 0 44px,#ebb 0 45px,#eaa 0 47px,#ecc 0 48px,#ebb 0 50px,#d99 0 51px,#fee 0 52px,#ebb 0 53px,#ecc 0 54px,#eaa 0 55px,#edd 0 56px,#ecc 0 57px,#ebb 0 58px,#ecc 0 59px,#ecb 0 60px,#ecc 0 62px,#fed 0 63px,#fee 0 64px,#eaa 0 65px,#d99 0 66px,#fee 0 67px,#d99 0 68px,#ebb 0 69px,#eaa 0 70px)"></i><i style="top:11px;background:linear-gradient(90deg,#fff 0 1px,#fee 0 2px,#ccd 0 3px,#bbd 0 4px,#fff 0 5px,#dde 0 6px,#fff 0 9px,#eef 0 10px,#edd 0 11px,#fed 0 12px,#dde 0 13px,#fdd 0 14px,#eee 0 15px,#edd 0 16px,#cce 0 17px,#eef 0 18px,#edd 0 19px,#fee 0 20px,#fff 0 22px,#dde 0 23px,#edd 0 25px,#fee 0 26px,#dde 0 27px,#fee 0 28px,#fdd 0 29px,#edd 0 31px,#ebb 0 32px,#eaa 0 33px,#ebb 0 34px,#eaa 0 37px,#ebb 0 38px,#ecc 0 39px,#da9 0 40px,#ebb 0 41px,#eaa 0 42px,#ecc 0 43px,#eaa 0 44px,#ebb 0 45px,#eaa 0 46px,#d99 0 48px,#da9 0 49px,#d99 0 50px,#da9 0 51px,#ebb 0 52px,#eba 0 53px,#ecc 0 54px,#d98 0 55px,#ebb 0 56px,#d99 0 57px,#eaa 0 58px,#ebb 0 60px,#eaa 0 61px,#d87 0 62px,#eaa 0 63px,#ebb 0 64px,#eaa 0 67px,#d88 0 68px,#eaa 0 70px)"></i><i style="top:12px;background:linear-gradient(90deg,#eef 0 1px,#eee 0 2px,#dde 0 4px,#eee 0 5px,#fff 0 6px,#eee 0 7px,#fee 0 8px,#eef 0 9px,#eee 0 10px,#fff 0 11px,#ecc 0 12px,#fff 0 13px,#ecc 0 14px,#eee 0 15px,#ecc 0 16px,#fff 0 17px,#cce 0 18px,#ecc 0 19px,#eef 0 20px,#cce 0 21px,#dde 0 22px,#eef 0 23px,#eee 0 24px,#fee 0 25px,#fff 0 26px,#edd 0 27px,#eaa 0 28px,#fdd 0 29px,#fee 0 32px,#edd 0 33px,#eaa 0 34px,#da9 0 35px,#d99 0 37px,#ecc 0 38px,#d99 0 39px,#ebb 0 40px,#d99 0 41px,#eaa 0 43px,#d99 0 44px,#eaa 0 50px,#d77 0 51px,#d87 0 52px,#d99 0 53px,#eaa 0 54px,#d99 0 55px,#eaa 0 56px,#ebb 0 57px,#eaa 0 58px,#ebb 0 59px,#eaa 0 61px,#d88 0 62px,#eaa 0 63px,#d99 0 64px,#fdd 0 65px,#d99 0 66px,#eaa 0 68px,#d88 0 69px,#fdd 0 70px)"></i><i style="top:13px;background:linear-gradient(90deg,#cce 0 1px,#dde 0 2px,#aad 0 3px,#bbd 0 4px,#aad 0 5px,#eee 0 6px,#cce 0 7px,#dde 0 9px,#cce 0 10px,#dde 0 11px,#cce 0 12px,#eee 0 14px,#aad 0 15px,#dde 0 16px,#bbd 0 17px,#dde 0 18px,#eee 0 19px,#dde 0 20px,#bbd 0 21px,#eee 0 22px,#eef 0 23px,#fdd 0 24px,#dde 0 25px,#ecc 0 26px,#fff 0 27px,#edd 0 28px,#fdd 0 29px,#edd 0 30px,#ecc 0 31px,#d99 0 32px,#eaa 0 33px,#ecc 0 34px,#edd 0 35px,#fee 0 36px,#edd 0 37px,#ecc 0 38px,#da9 0 39px,#ffe 0 40px,#d99 0 41px,#da9 0 42px,#d88 0 43px,#d99 0 45px,#d66 0 47px,#d99 0 48px,#d88 0 49px,#d76 0 50px,#d66 0 51px,#d99 0 55px,#d87 0 56px,#d99 0 57px,#d88 0 58px,#d98 0 60px,#d99 0 61px,#c55 0 62px,#d76 0 64px,#edd 0 65px,#c44 0 66px,#d66 0 67px,#d77 0 69px,#d87 0 70px)"></i><i style="top:14px;background:linear-gradient(90deg,#eef 0 1px,#fed 0 2px,#ccd 0 3px,#bbd 0 4px,#fee 0 5px,#dde 0 6px,#eef 0 7px,#fff 0 8px,#cce 0 9px,#eef 0 10px,#cce 0 11px,#eef 0 12px,#dde 0 14px,#cce 0 15px,#fff 0 16px,#dde 0 17px,#fff 0 19px,#dde 0 21px,#ccd 0 22px,#fee 0 23px,#dde 0 24px,#eef 0 25px,#edd 0 26px,#eaa 0 27px,#fee 0 28px,#eaa 0 29px,#fff 0 31px,#fee 0 32px,#ebb 0 33px,#eaa 0 34px,#ebb 0 35px,#eaa 0 36px,#fee 0 37px,#eaa 0 38px,#ecb 0 39px,#da9 0 40px,#d77 0 41px,#eaa 0 42px,#d66 0 43px,#d77 0 44px,#eaa 0 45px,#c65 0 46px,#d88 0 48px,#d99 0 49px,#d88 0 50px,#d76 0 51px,#d88 0 52px,#d99 0 54px,#d88 0 55px,#eaa 0 56px,#d99 0 58px,#d88 0 59px,#d99 0 60px,#d98 0 61px,#d76 0 62px,#d77 0 63px,#d88 0 64px,#d87 0 65px,#d77 0 66px,#d88 0 67px,#d77 0 68px,#d88 0 69px,#d76 0 70px)"></i><i style="top:15px;background:linear-gradient(90deg,#ccd 0 1px,#bbd 0 2px,#aad 0 4px,#99c 0 5px,#99d 0 6px,#dde 0 7px,#cce 0 8px,#aad 0 9px,#cce 0 10px,#bbd 0 12px,#cce 0 13px,#aad 0 14px,#eef 0 15px,#eee 0 16px,#dde 0 17px,#cce 0 20px,#fee 0 21px,#cce 0 22px,#dde 0 23px,#eef 0 24px,#ecc 0 25px,#fff 0 26px,#bbd 0 27px,#dde 0 28px,#fee 0 29px,#ecc 0 30px,#fdd 0 31px,#ecb 0 32px,#ecc 0 33px,#fff 0 34px,#ecc 0 35px,#eba 0 36px,#ebb 0 37px,#eba 0 38px,#edd 0 39px,#d98 0 40px,#d88 0 41px,#ebb 0 42px,#da9 0 43px,#edd 0 44px,#d99 0 45px,#ecc 0 46px,#d88 0 47px,#edd 0 48px,#eaa 0 49px,#d99 0 51px,#d88 0 52px,#d99 0 53px,#eaa 0 54px,#d77 0 55px,#d99 0 56px,#d88 0 58px,#d99 0 59px,#d88 0 61px,#d77 0 62px,#d76 0 64px,#d88 0 65px,#d66 0 66px,#d77 0 67px,#d88 0 68px,#d87 0 69px,#d77 0 70px)"></i><i style="top:16px;background:linear-gradient(90deg,#aad 0 1px,#dde 0 2px,#99c 0 3px,#cce 0 4px,#99d 0 5px,#88c 0 6px,#eef 0 7px,#bbd 0 8px,#99c 0 10px,#bbd 0 11px,#dde 0 12px,#aad 0 13px,#cce 0 14px,#88c 0 16px,#bbd 0 17px,#aad 0 18px,#bbd 0 19px,#ccd 0 21px,#bbd 0 22px,#cce 0 23px,#fff 0 24px,#99c 0 25px,#cce 0 26px,#ebb 0 27px,#fff 0 28px,#eee 0 29px,#dde 0 30px,#fee 0 31px,#fff 0 32px,#ebb 0 33px,#fee 0 35px,#fff 0 36px,#fee 0 37px,#edd 0 38px,#fff 0 39px,#edd 0 40px,#ecc 0 43px,#eaa 0 45px,#d88 0 46px,#d98 0 47px,#ebb 0 48px,#eba 0 49px,#d99 0 50px,#ebb 0 51px,#eaa 0 52px,#edd 0 53px,#ebb 0 54px,#eaa 0 55px,#da9 0 56px,#eaa 0 57px,#ebb 0 59px,#ecb 0 60px,#eba 0 61px,#d88 0 62px,#eaa 0 67px,#eba 0 68px,#eaa 0 69px,#ecc 0 70px)"></i><i style="top:17px;background:linear-gradient(90deg,#aad 0 1px,#fff 0 2px,#eef 0 3px,#aad 0 4px,#eee 0 5px,#ccd 0 6px,#bbd 0 7px,#eef 0 8px,#cce 0 9px,#dde 0 10px,#fff 0 11px,#eee 0 12px,#fff 0 13px,#fdd 0 14px,#dde 0 15px,#fff 0 16px,#fee 0 17px,#cce 0 18px,#edd 0 19px,#eee 0 20px,#cce 0 21px,#fff 0 24px,#ecc 0 25px,#edd 0 26px,#eef 0 27px,#ecc 0 28px,#fff 0 29px,#eef 0 30px,#fff 0 31px,#da9 0 32px,#ecc 0 33px,#eaa 0 34px,#ebb 0 35px,#fff 0 36px,#ecc 0 37px,#fee 0 38px,#ebb 0 39px,#fdd 0 40px,#ebb 0 41px,#edd 0 42px,#d99 0 43px,#eaa 0 45px,#d99 0 47px,#eaa 0 48px,#d99 0 49px,#eaa 0 50px,#ebb 0 51px,#d88 0 52px,#eaa 0 53px,#ebb 0 54px,#d99 0 55px,#d88 0 56px,#eba 0 57px,#eaa 0 58px,#ebb 0 59px,#d99 0 60px,#eaa 0 61px,#d88 0 63px,#d98 0 64px,#d88 0 65px,#d77 0 66px,#d88 0 67px,#d99 0 69px,#ebb 0 70px)"></i><i style="top:18px;background:linear-gradient(90deg,#fff 0 2px,#eee 0 3px,#cce 0 4px,#dde 0 6px,#fee 0 7px,#fff 0 8px,#cce 0 9px,#dde 0 12px,#eee 0 13px,#fff 0 14px,#dde 0 15px,#eee 0 16px,#eef 0 17px,#fff 0 18px,#fdd 0 19px,#fff 0 21px,#eef 0 22px,#cce 0 23px,#eaa 0 24px,#ecc 0 25px,#ebb 0 26px,#eaa 0 27px,#ecc 0 28px,#fee 0 30px,#fff 0 31px,#d99 0 32px,#d88 0 33px,#edd 0 34px,#eaa 0 35px,#ebb 0 36px,#d77 0 37px,#eaa 0 38px,#ebb 0 39px,#d88 0 40px,#d77 0 41px,#d99 0 42px,#d77 0 43px,#d76 0 45px,#c54 0 46px,#ecc 0 47px,#d77 0 48px,#d76 0 49px,#d77 0 50px,#c66 0 51px,#c55 0 52px,#c66 0 55px,#d66 0 56px,#c65 0 57px,#d77 0 58px,#d87 0 59px,#d76 0 60px,#d88 0 61px,#c44 0 62px,#c66 0 63px,#c65 0 64px,#d77 0 65px,#ecc 0 66px,#c44 0 67px,#c55 0 68px,#d66 0 69px,#c65 0 70px)"></i><i style="top:19px;background:linear-gradient(90deg,#bbd 0 2px,#aad 0 3px,#bbd 0 4px,#aad 0 5px,#99c 0 6px,#ccd 0 7px,#bbd 0 8px,#77c 0 9px,#cce 0 10px,#ccd 0 11px,#aad 0 13px,#fff 0 14px,#cce 0 15px,#dde 0 16px,#aad 0 17px,#cce 0 19px,#99c 0 20px,#bbd 0 21px,#99c 0 22px,#fff 0 23px,#eef 0 24px,#edd 0 25px,#dde 0 26px,#fee 0 27px,#dde 0 28px,#eef 0 29px,#edd 0 30px,#fff 0 32px,#eaa 0 33px,#edd 0 35px,#fee 0 37px,#fdd 0 38px,#edd 0 40px,#eaa 0 42px,#d99 0 43px,#eba 0 44px,#fdd 0 45px,#d77 0 46px,#da9 0 47px,#eaa 0 50px,#d99 0 51px,#d87 0 52px,#d88 0 53px,#eaa 0 54px,#d88 0 56px,#d87 0 57px,#d88 0 59px,#eaa 0 60px,#ebb 0 61px,#d66 0 62px,#d99 0 63px,#d88 0 64px,#eaa 0 65px,#d66 0 66px,#d77 0 67px,#d99 0 68px,#d88 0 69px,#d77 0 70px)"></i><i style="top:20px;background:linear-gradient(90deg,#fee 0 1px,#dde 0 2px,#eef 0 3px,#fff 0 4px,#dde 0 6px,#fff 0 7px,#ccd 0 8px,#dde 0 9px,#eee 0 10px,#fee 0 11px,#dde 0 12px,#eee 0 13px,#fee 0 14px,#fdd 0 15px,#ecc 0 16px,#fee 0 19px,#cce 0 20px,#eee 0 21px,#eef 0 22px,#fff 0 23px,#ebb 0 24px,#fff 0 26px,#dde 0 27px,#fdd 0 28px,#ebb 0 29px,#ecc 0 30px,#edd 0 31px,#fee 0 32px,#eaa 0 33px,#edd 0 34px,#eaa 0 35px,#edd 0 36px,#eaa 0 38px,#ebb 0 39px,#d88 0 40px,#d66 0 41px,#d77 0 42px,#d88 0 43px,#d77 0 45px,#d88 0 48px,#eaa 0 49px,#d77 0 50px,#d88 0 52px,#ebb 0 53px,#d99 0 54px,#c65 0 55px,#d99 0 57px,#d88 0 58px,#d99 0 61px,#d76 0 62px,#edd 0 63px,#d66 0 64px,#d99 0 65px,#d77 0 66px,#d88 0 67px,#d76 0 68px,#d77 0 69px,#eaa 0 70px)"></i><i style="top:21px;background:linear-gradient(90deg,#dde 0 1px,#cce 0 2px,#fff 0 3px,#cce 0 4px,#bbd 0 6px,#dde 0 7px,#cce 0 8px,#dde 0 9px,#aad 0 10px,#cce 0 12px,#dde 0 13px,#cce 0 16px,#eef 0 17px,#eee 0 18px,#bbd 0 19px,#fff 0 20px,#eef 0 21px,#dde 0 22px,#eef 0 23px,#eee 0 24px,#fee 0 25px,#cce 0 26px,#fff 0 27px,#cce 0 28px,#edd 0 29px,#dde 0 30px,#eef 0 31px,#ecc 0 32px,#fee 0 33px,#ebb 0 34px,#eef 0 35px,#ecc 0 36px,#eef 0 37px,#dde 0 38px,#fdd 0 39px,#edd 0 40px,#ecc 0 43px,#fee 0 44px,#ecb 0 45px,#d99 0 46px,#ebb 0 47px,#eaa 0 49px,#ecc 0 50px,#ebb 0 52px,#ecc 0 53px,#ecb 0 54px,#eaa 0 55px,#ecc 0 56px,#ebb 0 57px,#ecc 0 59px,#edd 0 60px,#ecc 0 61px,#ebb 0 64px,#eaa 0 65px,#ebb 0 66px,#eaa 0 67px,#ebb 0 69px,#edd 0 70px)"></i><i style="top:22px;background:linear-gradient(90deg,#eef 0 1px,#fff 0 2px,#eee 0 3px,#dde 0 4px,#fff 0 5px,#dde 0 7px,#aad 0 8px,#cce 0 9px,#fff 0 10px,#fee 0 11px,#bbd 0 12px,#cce 0 13px,#fee 0 14px,#dde 0 15px,#fff 0 16px,#dde 0 17px,#cce 0 18px,#edd 0 19px,#fee 0 20px,#eee 0 21px,#eef 0 22px,#fff 0 23px,#edd 0 24px,#fee 0 25px,#fdd 0 26px,#eba 0 27px,#edd 0 28px,#fee 0 29px,#edd 0 31px,#fff 0 32px,#ebb 0 33px,#eaa 0 34px,#ecb 0 35px,#edd 0 36px,#ebb 0 37px,#fdd 0 38px,#edd 0 39px,#d98 0 40px,#eaa 0 41px,#d99 0 45px,#d88 0 47px,#ebb 0 48px,#d88 0 49px,#d87 0 50px,#d88 0 51px,#d99 0 52px,#ebb 0 53px,#d99 0 55px,#eaa 0 56px,#d88 0 57px,#edd 0 58px,#d99 0 60px,#ebb 0 61px,#d99 0 62px,#d77 0 63px,#eaa 0 64px,#d76 0 65px,#d77 0 66px,#d88 0 68px,#d87 0 69px,#d88 0 70px)"></i><i style="top:23px;background:linear-gradient(90deg,#aad 0 1px,#eef 0 2px,#ccd 0 3px,#bbd 0 4px,#cce 0 6px,#bbd 0 7px,#dde 0 8px,#cce 0 9px,#eef 0 10px,#cce 0 11px,#bbd 0 12px,#eef 0 13px,#cce 0 17px,#bbd 0 18px,#eef 0 19px,#fdd 0 20px,#fff 0 23px,#fee 0 24px,#eef 0 25px,#ecc 0 26px,#cce 0 27px,#edd 0 28px,#fee 0 29px,#eef 0 30px,#ecc 0 31px,#edd 0 32px,#fee 0 33px,#fff 0 34px,#fee 0 35px,#dde 0 36px,#fee 0 37px,#fed 0 38px,#dde 0 39px,#ecc 0 41px,#da9 0 42px,#ecc 0 44px,#eaa 0 45px,#ebb 0 46px,#d99 0 47px,#ecc 0 48px,#edc 0 49px,#ebb 0 50px,#ecb 0 51px,#eaa 0 52px,#fdd 0 53px,#edc 0 54px,#eba 0 55px,#ecc 0 56px,#fee 0 57px,#ecc 0 58px,#edd 0 59px,#ebb 0 60px,#edd 0 61px,#ebb 0 62px,#eaa 0 63px,#ecc 0 64px,#ebb 0 65px,#fee 0 66px,#ebb 0 67px,#ecc 0 68px,#ecb 0 69px,#edd 0 70px)"></i><i style="top:24px;background:linear-gradient(90deg,#bbd 0 1px,#cce 0 2px,#dde 0 3px,#aad 0 4px,#cce 0 5px,#99c 0 6px,#eee 0 7px,#cce 0 8px,#bbd 0 10px,#eef 0 11px,#cce 0 12px,#dde 0 13px,#cce 0 14px,#aad 0 15px,#dde 0 17px,#eef 0 18px,#dde 0 19px,#fdd 0 20px,#dde 0 21px,#fff 0 23px,#fee 0 24px,#eef 0 25px,#fff 0 26px,#ccd 0 27px,#bbd 0 28px,#eef 0 29px,#fff 0 30px,#fee 0 31px,#edd 0 32px,#ebb 0 33px,#fdd 0 34px,#ecc 0 36px,#eef 0 37px,#cce 0 38px,#fee 0 39px,#edd 0 40px,#ecc 0 41px,#ebb 0 42px,#d99 0 46px,#d88 0 47px,#da9 0 48px,#eaa 0 49px,#ebb 0 50px,#ecc 0 51px,#eaa 0 53px,#ebb 0 54px,#eaa 0 56px,#ebb 0 58px,#eaa 0 59px,#fee 0 60px,#ebb 0 61px,#eaa 0 62px,#d99 0 63px,#fee 0 64px,#eaa 0 66px,#fee 0 67px,#eaa 0 69px,#ebb 0 70px)"></i><i style="top:25px;background:linear-gradient(90deg,#eee 0 1px,#aad 0 2px,#eee 0 3px,#aad 0 4px,#ccd 0 5px,#cce 0 6px,#ccd 0 7px,#eee 0 8px,#bbd 0 9px,#fff 0 10px,#ccd 0 11px,#cce 0 12px,#eef 0 13px,#fff 0 14px,#aad 0 15px,#cce 0 17px,#eef 0 18px,#bbd 0 19px,#fee 0 20px,#fff 0 22px,#cce 0 23px,#eee 0 25px,#fee 0 26px,#eef 0 27px,#edd 0 28px,#dde 0 29px,#fff 0 30px,#edd 0 31px,#ecb 0 32px,#fff 0 33px,#fee 0 34px,#ebb 0 36px,#eee 0 37px,#fff 0 38px,#eef 0 39px,#fff 0 40px,#ecc 0 42px,#ebb 0 43px,#eaa 0 46px,#d99 0 47px,#eba 0 48px,#da9 0 49px,#ebb 0 50px,#eaa 0 51px,#d98 0 52px,#ebb 0 53px,#ecc 0 54px,#eaa 0 55px,#ebb 0 57px,#ecc 0 60px,#eba 0 61px,#edd 0 62px,#ebb 0 64px,#eaa 0 66px,#ebb 0 67px,#eaa 0 69px,#ecc 0 70px)"></i><i style="top:26px;background:linear-gradient(90deg,#bbd 0 1px,#99c 0 2px,#aad 0 4px,#88c 0 5px,#bbd 0 6px,#aad 0 8px,#99c 0 10px,#cce 0 11px,#dde 0 12px,#aad 0 16px,#99c 0 17px,#bbd 0 18px,#cce 0 19px,#dde 0 20px,#aad 0 21px,#fff 0 22px,#cce 0 24px,#bbd 0 25px,#fff 0 27px,#eee 0 28px,#dde 0 30px,#fff 0 31px,#ebb 0 32px,#edd 0 33px,#ecc 0 34px,#fdd 0 35px,#99d 0 36px,#cce 0 37px,#eee 0 38px,#bbd 0 39px,#ccd 0 40px,#ebb 0 41px,#fdd 0 42px,#ebb 0 43px,#d99 0 44px,#da9 0 45px,#fee 0 46px,#da9 0 47px,#d99 0 49px,#eaa 0 50px,#ebb 0 52px,#ecc 0 54px,#eaa 0 55px,#d99 0 56px,#ecc 0 57px,#eaa 0 60px,#ecc 0 61px,#eaa 0 62px,#ebb 0 63px,#eaa 0 64px,#ecc 0 65px,#d99 0 66px,#d88 0 67px,#d99 0 68px,#ecc 0 69px,#eaa 0 70px)"></i><i style="top:27px;background:linear-gradient(90deg,#dde 0 1px,#cce 0 2px,#99c 0 5px,#bbd 0 7px,#cce 0 8px,#aad 0 9px,#dde 0 11px,#cce 0 13px,#bbd 0 14px,#dde 0 15px,#bbd 0 16px,#cce 0 17px,#aad 0 18px,#fff 0 20px,#eef 0 21px,#fee 0 22px,#eef 0 23px,#fff 0 24px,#eef 0 25px,#fdd 0 26px,#fee 0 27px,#ecc 0 28px,#eef 0 29px,#fff 0 30px,#eef 0 31px,#ebb 0 33px,#fee 0 34px,#ecc 0 35px,#fff 0 38px,#bbd 0 39px,#fff 0 40px,#fdd 0 41px,#ebb 0 42px,#da9 0 43px,#d77 0 44px,#d87 0 45px,#d77 0 46px,#d98 0 47px,#d99 0 48px,#d98 0 49px,#d99 0 50px,#d88 0 51px,#d77 0 52px,#eaa 0 53px,#d99 0 54px,#d77 0 55px,#da9 0 57px,#d77 0 58px,#d99 0 59px,#d77 0 60px,#eaa 0 61px,#d99 0 62px,#d77 0 63px,#d88 0 64px,#d99 0 65px,#d88 0 66px,#d99 0 67px,#d77 0 68px,#eba 0 69px,#d99 0 70px)"></i><i style="top:28px;background:linear-gradient(90deg,#fff 0 1px,#dde 0 2px,#cce 0 3px,#bbd 0 6px,#eef 0 7px,#bbd 0 8px,#cce 0 9px,#bbd 0 10px,#cce 0 11px,#dde 0 12px,#aad 0 13px,#cce 0 18px,#fff 0 19px,#eef 0 20px,#ecc 0 21px,#eef 0 23px,#cce 0 24px,#eef 0 25px,#fee 0 26px,#dde 0 27px,#fff 0 28px,#dde 0 29px,#fdd 0 30px,#fee 0 31px,#edd 0 32px,#fee 0 34px,#ebb 0 35px,#fee 0 36px,#eee 0 37px,#fff 0 38px,#dde 0 40px,#d99 0 41px,#fee 0 42px,#ebb 0 43px,#eaa 0 44px,#ebb 0 45px,#eaa 0 46px,#fee 0 47px,#eaa 0 48px,#ebb 0 49px,#d98 0 50px,#ebb 0 51px,#ecc 0 52px,#eaa 0 53px,#fff 0 54px,#d99 0 55px,#eaa 0 56px,#eba 0 57px,#edd 0 58px,#fee 0 59px,#ecc 0 60px,#eaa 0 61px,#fee 0 62px,#ebb 0 63px,#eaa 0 64px,#ecc 0 65px,#eaa 0 66px,#ebb 0 67px,#eaa 0 69px,#ebb 0 70px)"></i><i style="top:29px;background:linear-gradient(90deg,#aad 0 1px,#dde 0 2px,#aad 0 3px,#bbd 0 4px,#cce 0 6px,#eef 0 7px,#aad 0 8px,#bbd 0 9px,#cce 0 10px,#dde 0 11px,#ccd 0 12px,#dde 0 13px,#cce 0 14px,#aad 0 15px,#cce 0 16px,#dde 0 17px,#eef 0 18px,#ecc 0 19px,#dde 0 20px,#fff 0 21px,#eef 0 22px,#fff 0 23px,#eee 0 24px,#dde 0 25px,#fff 0 26px,#fee 0 27px,#dde 0 28px,#eaa 0 29px,#fee 0 30px,#eef 0 31px,#ebb 0 32px,#d88 0 33px,#edd 0 34px,#eba 0 35px,#fff 0 36px,#edd 0 37px,#eef 0 38px,#fee 0 40px,#ecc 0 41px,#ebb 0 43px,#d99 0 44px,#d88 0 45px,#d77 0 47px,#d99 0 48px,#d88 0 49px,#d77 0 50px,#d87 0 51px,#d88 0 52px,#eaa 0 53px,#d99 0 54px,#c66 0 55px,#d88 0 56px,#d99 0 58px,#fdd 0 59px,#d88 0 60px,#da9 0 61px,#d88 0 62px,#d99 0 63px,#d87 0 64px,#d99 0 65px,#d98 0 66px,#d77 0 67px,#d66 0 68px,#d88 0 69px,#d76 0 70px)"></i><i style="top:30px;background:linear-gradient(90deg,#dde 0 1px,#cce 0 2px,#aad 0 3px,#dde 0 5px,#aad 0 6px,#ccd 0 7px,#bbd 0 9px,#cce 0 10px,#bbd 0 12px,#cce 0 13px,#dde 0 14px,#bbd 0 15px,#dde 0 16px,#aad 0 17px,#dde 0 18px,#cce 0 19px,#fff 0 20px,#fdd 0 21px,#ebb 0 22px,#fff 0 23px,#eef 0 24px,#fff 0 25px,#eef 0 26px,#fee 0 27px,#eef 0 28px,#fee 0 29px,#eef 0 30px,#fee 0 31px,#d88 0 32px,#eaa 0 33px,#ecc 0 34px,#edd 0 35px,#eee 0 36px,#fff 0 38px,#eef 0 39px,#fff 0 40px,#d99 0 41px,#edd 0 42px,#eaa 0 43px,#d99 0 46px,#edd 0 47px,#ebb 0 48px,#eba 0 49px,#d99 0 51px,#d88 0 52px,#fdd 0 53px,#eaa 0 57px,#ebb 0 58px,#ecc 0 59px,#d99 0 60px,#eaa 0 61px,#d88 0 62px,#d99 0 63px,#eaa 0 64px,#da9 0 65px,#eaa 0 66px,#d88 0 67px,#eaa 0 68px,#d99 0 69px,#d98 0 70px)"></i><i style="top:31px;background:linear-gradient(90deg,#bbd 0 1px,#cce 0 2px,#eee 0 3px,#dde 0 4px,#bbd 0 5px,#aad 0 6px,#dde 0 8px,#fff 0 9px,#aad 0 10px,#bbd 0 12px,#dde 0 13px,#cce 0 15px,#dde 0 16px,#eef 0 17px,#dde 0 18px,#cce 0 19px,#fff 0 20px,#eee 0 21px,#fff 0 23px,#eef 0 24px,#fff 0 26px,#ccd 0 27px,#fee 0 28px,#edd 0 29px,#dde 0 30px,#fff 0 31px,#ebb 0 32px,#edd 0 34px,#fee 0 35px,#fff 0 36px,#eef 0 38px,#fff 0 40px,#fee 0 41px,#eaa 0 42px,#ecc 0 43px,#d99 0 44px,#eaa 0 45px,#d88 0 46px,#d99 0 47px,#ebb 0 48px,#d99 0 49px,#eaa 0 50px,#d99 0 51px,#ebb 0 52px,#eaa 0 54px,#d99 0 56px,#eaa 0 57px,#d99 0 59px,#eaa 0 60px,#ebb 0 61px,#d99 0 62px,#d88 0 63px,#d99 0 64px,#eba 0 65px,#d88 0 66px,#d99 0 67px,#d98 0 68px,#eaa 0 69px,#d99 0 70px)"></i><i style="top:32px;background:linear-gradient(90deg,#aad 0 1px,#ccd 0 2px,#bbd 0 4px,#aad 0 5px,#99c 0 6px,#dde 0 7px,#88c 0 8px,#aad 0 9px,#ccd 0 10px,#99c 0 11px,#bbd 0 13px,#eef 0 14px,#bbd 0 15px,#aad 0 18px,#cce 0 19px,#dde 0 20px,#eef 0 21px,#cce 0 22px,#fdd 0 23px,#fff 0 24px,#fee 0 25px,#eee 0 26px,#ecc 0 27px,#fff 0 28px,#ecc 0 29px,#ebb 0 30px,#fdd 0 31px,#eaa 0 32px,#ecb 0 33px,#fee 0 34px,#fff 0 35px,#fee 0 36px,#ecc 0 37px,#dde 0 38px,#fee 0 39px,#eee 0 40px,#ecc 0 41px,#eaa 0 42px,#d88 0 44px,#eaa 0 45px,#d77 0 46px,#d99 0 49px,#d88 0 50px,#ebb 0 51px,#d77 0 52px,#d98 0 53px,#d99 0 55px,#eaa 0 56px,#fdd 0 57px,#eaa 0 59px,#ebb 0 60px,#d88 0 61px,#d77 0 62px,#d76 0 63px,#d99 0 64px,#d88 0 65px,#d77 0 66px,#c66 0 67px,#d99 0 68px,#eaa 0 69px,#d99 0 70px)"></i><i style="top:33px;background:linear-gradient(90deg,#eee 0 1px,#bbd 0 2px,#fff 0 3px,#dde 0 4px,#cce 0 6px,#bbd 0 7px,#dde 0 8px,#bbd 0 9px,#fff 0 11px,#dde 0 12px,#eee 0 13px,#dde 0 16px,#fff 0 17px,#fee 0 18px,#edd 0 19px,#eef 0 20px,#fff 0 22px,#eee 0 23px,#eef 0 24px,#fff 0 25px,#eaa 0 26px,#fff 0 27px,#ecc 0 28px,#edd 0 29px,#fee 0 30px,#fdd 0 31px,#eba 0 32px,#ebb 0 34px,#ecc 0 35px,#fff 0 36px,#ecc 0 37px,#edd 0 38px,#dde 0 39px,#fdd 0 40px,#edd 0 41px,#ebb 0 42px,#da9 0 43px,#d77 0 44px,#eaa 0 45px,#d77 0 46px,#d88 0 48px,#fdd 0 49px,#d98 0 50px,#d77 0 51px,#d99 0 53px,#fee 0 54px,#d99 0 55px,#d98 0 56px,#d99 0 57px,#da9 0 58px,#d77 0 59px,#d99 0 60px,#eaa 0 61px,#d77 0 64px,#eaa 0 65px,#c66 0 66px,#d88 0 68px,#da9 0 69px,#eaa 0 70px)"></i><i style="top:34px;background:linear-gradient(90deg,#dde 0 1px,#bbd 0 2px,#cce 0 3px,#99c 0 4px,#aad 0 5px,#eef 0 6px,#eee 0 7px,#aad 0 8px,#cce 0 10px,#eef 0 11px,#aad 0 12px,#fff 0 13px,#aad 0 15px,#bbd 0 16px,#cce 0 18px,#dde 0 19px,#fee 0 20px,#eee 0 21px,#cce 0 22px,#eef 0 23px,#bbd 0 24px,#fee 0 25px,#ecc 0 26px,#fff 0 27px,#dde 0 29px,#edd 0 30px,#fee 0 31px,#eba 0 32px,#ecc 0 33px,#ebb 0 34px,#da9 0 35px,#fee 0 36px,#fdd 0 37px,#dde 0 38px,#fff 0 39px,#dde 0 40px,#eaa 0 41px,#ebb 0 42px,#eaa 0 43px,#d99 0 44px,#d77 0 45px,#d66 0 46px,#c66 0 47px,#d87 0 48px,#d99 0 49px,#d88 0 50px,#d77 0 51px,#d87 0 52px,#d99 0 53px,#eaa 0 54px,#edd 0 55px,#d99 0 58px,#d76 0 59px,#eaa 0 60px,#d99 0 61px,#d88 0 62px,#d77 0 63px,#d98 0 64px,#fed 0 65px,#c55 0 66px,#d87 0 67px,#c65 0 68px,#d99 0 70px)"></i><i style="top:35px;background:linear-gradient(90deg,#dde 0 1px,#eee 0 2px,#fff 0 3px,#eee 0 4px,#fee 0 5px,#dde 0 6px,#fff 0 8px,#cce 0 9px,#ebb 0 11px,#dde 0 12px,#fff 0 14px,#eef 0 15px,#fee 0 16px,#dde 0 17px,#edd 0 18px,#fee 0 19px,#ebb 0 20px,#fed 0 21px,#eef 0 22px,#fdd 0 23px,#fff 0 24px,#fee 0 25px,#fff 0 26px,#fee 0 27px,#dde 0 28px,#fff 0 29px,#eee 0 31px,#fee 0 32px,#eee 0 33px,#fff 0 35px,#cce 0 36px,#eee 0 37px,#eef 0 38px,#fff 0 39px,#cce 0 40px,#dde 0 42px,#eef 0 43px,#dde 0 44px,#ccd 0 45px,#eef 0 46px,#eaa 0 47px,#fee 0 48px,#eaa 0 49px,#fff 0 50px,#fee 0 52px,#ecc 0 53px,#eaa 0 54px,#ebb 0 55px,#ecc 0 57px,#fee 0 58px,#fff 0 59px,#ebb 0 61px,#eba 0 62px,#eaa 0 63px,#fee 0 64px,#ecc 0 65px,#d99 0 66px,#ebb 0 67px,#eaa 0 68px,#ecc 0 69px,#edd 0 70px)"></i><i style="top:36px;background:linear-gradient(90deg,#cce 0 1px,#fff 0 2px,#eee 0 3px,#fff 0 4px,#cce 0 5px,#aad 0 6px,#cce 0 7px,#dde 0 8px,#eee 0 9px,#bbd 0 10px,#eef 0 11px,#fee 0 12px,#dde 0 13px,#edd 0 14px,#fee 0 15px,#aad 0 16px,#eef 0 18px,#dde 0 19px,#fee 0 20px,#eef 0 21px,#dde 0 22px,#eef 0 24px,#ecc 0 25px,#fee 0 26px,#fff 0 27px,#fee 0 28px,#eef 0 30px,#eee 0 31px,#eef 0 32px,#edd 0 33px,#eee 0 34px,#99c 0 35px,#aad 0 36px,#bbd 0 37px,#aad 0 38px,#bbd 0 39px,#aad 0 41px,#dde 0 42px,#88c 0 43px,#99c 0 44px,#77b 0 45px,#bbd 0 46px,#edd 0 47px,#fee 0 49px,#ecc 0 50px,#fee 0 51px,#eaa 0 53px,#fee 0 54px,#eaa 0 55px,#fee 0 56px,#ecc 0 58px,#fee 0 59px,#ebb 0 60px,#eaa 0 62px,#ebb 0 63px,#eaa 0 64px,#ecc 0 65px,#d99 0 66px,#eaa 0 68px,#ecc 0 69px,#ebb 0 70px)"></i><i style="top:37px;background:linear-gradient(90deg,#fff 0 2px,#eba 0 3px,#fff 0 4px,#fee 0 5px,#bbd 0 6px,#fee 0 7px,#fff 0 8px,#eef 0 9px,#ebb 0 10px,#fee 0 11px,#fff 0 12px,#edd 0 13px,#ecc 0 14px,#fee 0 15px,#ebb 0 16px,#edd 0 17px,#fdd 0 18px,#ecc 0 19px,#edd 0 20px,#fdd 0 21px,#fee 0 22px,#fff 0 23px,#fee 0 24px,#edd 0 25px,#fff 0 26px,#eaa 0 27px,#ebb 0 28px,#fdd 0 29px,#fff 0 30px,#ecc 0 32px,#fff 0 33px,#ecc 0 35px,#fff 0 36px,#fdd 0 37px,#fff 0 39px,#dde 0 42px,#cce 0 43px,#dde 0 45px,#edd 0 46px,#fee 0 47px,#eaa 0 48px,#ecc 0 49px,#eaa 0 50px,#eba 0 51px,#eaa 0 52px,#ecc 0 53px,#ebb 0 54px,#eba 0 55px,#ebb 0 57px,#d99 0 58px,#ebb 0 59px,#d88 0 60px,#ebb 0 61px,#eaa 0 62px,#d98 0 63px,#fee 0 64px,#d88 0 65px,#eaa 0 66px,#d88 0 67px,#edd 0 68px,#eba 0 69px,#da9 0 70px)"></i><i style="top:38px;background:linear-gradient(90deg,#fee 0 1px,#fff 0 4px,#eee 0 5px,#fee 0 6px,#edd 0 7px,#eef 0 8px,#ebb 0 9px,#fff 0 10px,#fee 0 11px,#ecc 0 12px,#fee 0 13px,#eef 0 14px,#fff 0 16px,#eef 0 17px,#fee 0 18px,#ecc 0 19px,#fff 0 20px,#edd 0 21px,#ebb 0 22px,#cce 0 23px,#eee 0 24px,#fdd 0 25px,#fff 0 26px,#fee 0 27px,#fff 0 28px,#eef 0 29px,#fff 0 30px,#edd 0 31px,#d99 0 32px,#edd 0 33px,#eef 0 35px,#eee 0 36px,#fff 0 37px,#cce 0 38px,#bbd 0 39px,#eef 0 40px,#cce 0 41px,#dde 0 42px,#eef 0 43px,#cce 0 44px,#aad 0 45px,#dde 0 46px,#ecb 0 47px,#d99 0 48px,#fee 0 49px,#ecc 0 50px,#edc 0 51px,#ebb 0 53px,#edd 0 56px,#ebb 0 57px,#fee 0 58px,#ebb 0 59px,#edd 0 60px,#eaa 0 61px,#ecb 0 62px,#ecc 0 64px,#eaa 0 66px,#ebb 0 67px,#fee 0 69px,#ebb 0 70px)"></i><i style="top:39px;background:linear-gradient(90deg,#eef 0 2px,#fdd 0 3px,#ecc 0 5px,#fff 0 6px,#dde 0 7px,#fee 0 8px,#ecc 0 9px,#fff 0 10px,#fee 0 11px,#ecc 0 12px,#fff 0 13px,#eef 0 14px,#fee 0 17px,#edc 0 18px,#fdd 0 19px,#fff 0 20px,#ecc 0 21px,#fff 0 22px,#fee 0 23px,#ecc 0 24px,#dde 0 25px,#eef 0 26px,#fee 0 27px,#ecc 0 28px,#fff 0 29px,#eef 0 30px,#fff 0 31px,#edc 0 32px,#ecc 0 33px,#dde 0 34px,#edd 0 35px,#eee 0 36px,#fee 0 37px,#bbd 0 38px,#cce 0 41px,#aad 0 42px,#bbd 0 45px,#fff 0 46px,#edd 0 47px,#ebb 0 48px,#d77 0 49px,#d99 0 50px,#d98 0 51px,#d99 0 52px,#fee 0 53px,#ecc 0 54px,#d77 0 55px,#d99 0 57px,#d98 0 58px,#ebb 0 60px,#d99 0 61px,#eaa 0 62px,#d88 0 63px,#d99 0 66px,#d88 0 67px,#d99 0 69px,#eaa 0 70px)"></i><i style="top:40px;background:linear-gradient(90deg,#ecc 0 1px,#fdd 0 2px,#dde 0 3px,#fff 0 4px,#eee 0 5px,#fff 0 6px,#eef 0 7px,#edd 0 8px,#fff 0 9px,#ebb 0 10px,#edd 0 11px,#fee 0 12px,#da9 0 13px,#fdd 0 14px,#eaa 0 15px,#ecc 0 16px,#eef 0 17px,#fee 0 18px,#fff 0 19px,#fee 0 20px,#fdd 0 21px,#fee 0 22px,#ecc 0 23px,#fff 0 25px,#d77 0 26px,#eee 0 27px,#fee 0 28px,#fdd 0 29px,#fff 0 30px,#eef 0 31px,#ecc 0 32px,#fff 0 33px,#edd 0 34px,#ebb 0 35px,#dde 0 36px,#fdd 0 37px,#dde 0 38px,#bbd 0 39px,#cce 0 41px,#ccd 0 42px,#dde 0 43px,#bbd 0 44px,#cce 0 45px,#fff 0 46px,#fee 0 47px,#ebb 0 48px,#d88 0 49px,#eaa 0 50px,#da9 0 51px,#ebb 0 54px,#d99 0 56px,#eaa 0 57px,#ebb 0 59px,#d77 0 60px,#fee 0 61px,#d99 0 63px,#d88 0 64px,#d99 0 65px,#d88 0 66px,#d99 0 67px,#eaa 0 69px,#ebb 0 70px)"></i><i style="top:41px;background:linear-gradient(90deg,#ecc 0 1px,#eee 0 2px,#bbd 0 3px,#eee 0 4px,#fff 0 5px,#fdd 0 6px,#fee 0 7px,#fff 0 8px,#fee 0 9px,#fdd 0 10px,#fff 0 11px,#fee 0 12px,#fff 0 13px,#ccd 0 14px,#edd 0 15px,#fff 0 16px,#eee 0 17px,#dde 0 18px,#fff 0 20px,#fee 0 23px,#fff 0 24px,#fee 0 25px,#ecc 0 27px,#cce 0 28px,#edd 0 29px,#fff 0 30px,#ecc 0 31px,#fee 0 32px,#fff 0 33px,#eef 0 34px,#fff 0 35px,#dde 0 36px,#cce 0 37px,#aad 0 38px,#cce 0 39px,#dde 0 40px,#cce 0 41px,#dde 0 42px,#bbd 0 43px,#eee 0 44px,#aad 0 45px,#eef 0 46px,#ecc 0 47px,#fee 0 48px,#eaa 0 51px,#d99 0 52px,#eaa 0 53px,#ecc 0 54px,#eaa 0 55px,#d99 0 56px,#ebb 0 59px,#eaa 0 60px,#d98 0 61px,#d88 0 62px,#ebb 0 63px,#eaa 0 64px,#eba 0 65px,#d77 0 66px,#d99 0 67px,#ebb 0 68px,#edd 0 69px,#ebb 0 70px)"></i><i style="top:42px;background:linear-gradient(90deg,#dde 0 1px,#fff 0 3px,#eef 0 4px,#fee 0 5px,#ecc 0 7px,#fee 0 8px,#edd 0 9px,#eaa 0 10px,#ebb 0 11px,#edd 0 12px,#fee 0 16px,#edd 0 17px,#fff 0 19px,#d99 0 20px,#ecc 0 22px,#fee 0 24px,#ecc 0 26px,#aad 0 27px,#ecc 0 29px,#fee 0 31px,#ecc 0 33px,#ffe 0 34px,#fee 0 35px,#fff 0 36px,#dde 0 37px,#fee 0 38px,#cce 0 39px,#eee 0 41px,#fff 0 42px,#eee 0 43px,#cce 0 44px,#aad 0 45px,#fee 0 46px,#edc 0 47px,#eba 0 48px,#d88 0 49px,#eaa 0 51px,#d88 0 52px,#d98 0 53px,#ecc 0 54px,#d99 0 56px,#eaa 0 57px,#d99 0 58px,#d88 0 59px,#edd 0 60px,#d99 0 61px,#d88 0 62px,#d77 0 63px,#d98 0 65px,#d76 0 66px,#d99 0 68px,#d88 0 70px)"></i><i style="top:43px;background:linear-gradient(90deg,#fff 0 1px,#eef 0 2px,#edd 0 3px,#dde 0 4px,#fee 0 5px,#ebb 0 6px,#bbd 0 7px,#eef 0 8px,#fff 0 9px,#eef 0 10px,#ecc 0 11px,#fee 0 12px,#fff 0 13px,#aad 0 14px,#eef 0 15px,#fee 0 16px,#fff 0 17px,#ebb 0 18px,#eee 0 19px,#fee 0 20px,#fff 0 21px,#eef 0 22px,#eee 0 23px,#edd 0 24px,#eef 0 25px,#fee 0 26px,#fff 0 27px,#eee 0 28px,#edd 0 29px,#fff 0 30px,#fee 0 31px,#ebb 0 32px,#fdd 0 33px,#eef 0 34px,#fdd 0 35px,#aad 0 36px,#cce 0 37px,#dde 0 39px,#cce 0 40px,#dde 0 42px,#eef 0 43px,#cce 0 45px,#eef 0 46px,#fee 0 47px,#eaa 0 48px,#ebb 0 49px,#eaa 0 50px,#edd 0 51px,#fee 0 52px,#eaa 0 53px,#ecc 0 54px,#ebb 0 55px,#d99 0 56px,#eba 0 57px,#fee 0 58px,#eaa 0 60px,#d99 0 62px,#edd 0 63px,#eaa 0 65px,#ebb 0 67px,#eaa 0 68px,#d98 0 69px,#eba 0 70px)"></i><i style="top:44px;background:linear-gradient(90deg,#eef 0 1px,#cce 0 2px,#eee 0 3px,#cce 0 4px,#dde 0 5px,#fff 0 6px,#ebb 0 7px,#ecc 0 8px,#fdd 0 9px,#ebb 0 10px,#fee 0 11px,#ecc 0 12px,#fdd 0 13px,#fee 0 14px,#eef 0 15px,#fee 0 17px,#ecc 0 19px,#fee 0 20px,#fff 0 21px,#eee 0 22px,#fee 0 23px,#fff 0 24px,#ecc 0 25px,#fee 0 27px,#eee 0 28px,#eaa 0 29px,#eee 0 30px,#fdd 0 31px,#ebb 0 32px,#fff 0 33px,#eef 0 34px,#eee 0 35px,#dde 0 36px,#fee 0 37px,#fff 0 38px,#cce 0 39px,#eee 0 40px,#fff 0 41px,#eee 0 43px,#dde 0 45px,#fff 0 46px,#edd 0 47px,#ecc 0 48px,#fff 0 49px,#eaa 0 50px,#ecc 0 51px,#eaa 0 54px,#edd 0 55px,#eaa 0 56px,#da9 0 57px,#ebb 0 58px,#ecc 0 59px,#edd 0 60px,#ecc 0 61px,#fdd 0 62px,#ecc 0 63px,#eba 0 64px,#ecc 0 65px,#eaa 0 66px,#ebb 0 67px,#ecc 0 68px,#ebb 0 69px,#fee 0 70px)"></i><i style="top:45px;background:linear-gradient(90deg,#eee 0 1px,#eef 0 2px,#fee 0 3px,#eef 0 4px,#bbd 0 5px,#dde 0 6px,#cce 0 7px,#ecc 0 8px,#edc 0 9px,#fee 0 10px,#ecb 0 11px,#ecc 0 12px,#fff 0 13px,#eef 0 14px,#cce 0 15px,#eef 0 17px,#fff 0 20px,#ebb 0 21px,#edd 0 22px,#eee 0 23px,#ecc 0 24px,#fee 0 25px,#ebb 0 26px,#fee 0 27px,#fff 0 29px,#eef 0 30px,#fff 0 31px,#ecc 0 32px,#fff 0 34px,#fdd 0 35px,#dde 0 38px,#bbd 0 40px,#eee 0 41px,#cce 0 42px,#dde 0 43px,#eee 0 44px,#cce 0 45px,#fee 0 47px,#ebb 0 48px,#eaa 0 49px,#ecc 0 50px,#d88 0 51px,#ebb 0 52px,#fdd 0 54px,#eaa 0 55px,#ebb 0 58px,#d99 0 60px,#ebb 0 61px,#d99 0 62px,#ecc 0 63px,#eaa 0 64px,#fee 0 65px,#d99 0 66px,#d88 0 67px,#eaa 0 68px,#ebb 0 70px)"></i><i style="top:46px;background:linear-gradient(90deg,#d98 0 1px,#d99 0 2px,#d88 0 3px,#ecc 0 4px,#d66 0 5px,#d87 0 6px,#d88 0 7px,#d77 0 8px,#c66 0 9px,#d66 0 10px,#c44 0 11px,#c66 0 12px,#d66 0 13px,#d77 0 14px,#c44 0 15px,#d77 0 16px,#d88 0 17px,#d77 0 18px,#d66 0 19px,#c65 0 20px,#c66 0 21px,#d76 0 22px,#d77 0 23px,#ecc 0 24px,#d66 0 25px,#d76 0 26px,#d66 0 27px,#d88 0 29px,#d66 0 30px,#d77 0 31px,#c55 0 32px,#c66 0 33px,#c55 0 34px,#d66 0 35px,#c55 0 37px,#c54 0 38px,#d76 0 39px,#c33 0 40px,#ecc 0 41px,#d66 0 42px,#c55 0 43px,#d76 0 44px,#c55 0 45px,#c54 0 46px,#c66 0 47px,#d66 0 48px,#d77 0 49px,#c33 0 50px,#d66 0 51px,#c54 0 52px,#d77 0 54px,#c66 0 55px,#d76 0 56px,#d77 0 59px,#c65 0 60px,#d77 0 61px,#c33 0 62px,#ecc 0 64px,#c55 0 65px,#c43 0 66px,#c44 0 67px,#c54 0 68px,#d76 0 69px,#c55 0 70px)"></i><i style="top:47px;background:linear-gradient(90deg,#d99 0 1px,#d98 0 3px,#d77 0 4px,#d98 0 5px,#d66 0 6px,#d88 0 7px,#d66 0 8px,#d77 0 10px,#c55 0 11px,#d66 0 12px,#d77 0 13px,#d88 0 14px,#c55 0 15px,#d99 0 16px,#d77 0 18px,#c66 0 19px,#c55 0 21px,#d87 0 22px,#d88 0 23px,#d99 0 24px,#c55 0 25px,#d88 0 26px,#d77 0 28px,#d76 0 29px,#d99 0 30px,#ecc 0 32px,#c66 0 33px,#c55 0 34px,#c66 0 37px,#c55 0 39px,#c43 0 40px,#c65 0 41px,#d77 0 42px,#c65 0 43px,#d77 0 44px,#edc 0 45px,#c44 0 46px,#c55 0 47px,#c54 0 48px,#d88 0 49px,#c43 0 50px,#c55 0 51px,#d66 0 53px,#d87 0 54px,#c55 0 55px,#d77 0 56px,#d66 0 57px,#c66 0 58px,#d76 0 60px,#d77 0 61px,#c54 0 62px,#c66 0 63px,#c54 0 64px,#c66 0 65px,#c44 0 69px,#d76 0 70px)"></i><i style="top:48px;background:linear-gradient(90deg,#bbd 0 1px,#dde 0 2px,#cce 0 3px,#bbd 0 4px,#eef 0 5px,#aad 0 7px,#bbd 0 8px,#aad 0 11px,#bbd 0 12px,#dde 0 13px,#bbd 0 17px,#aad 0 18px,#bbd 0 19px,#ccd 0 21px,#bbd 0 22px,#ccd 0 23px,#bbd 0 24px,#dde 0 25px,#eef 0 26px,#dde 0 27px,#eee 0 28px,#dde 0 30px,#cce 0 31px,#fee 0 32px,#fff 0 33px,#cce 0 34px,#eef 0 35px,#bbd 0 36px,#eee 0 37px,#cce 0 38px,#bbd 0 39px,#cce 0 40px,#fff 0 44px,#dde 0 45px,#fff 0 46px,#dde 0 48px,#cce 0 49px,#bbd 0 51px,#dde 0 53px,#bbd 0 54px,#eef 0 55px,#cce 0 57px,#dde 0 58px,#cce 0 59px,#dde 0 60px,#ccd 0 61px,#eef 0 63px,#cce 0 64px,#ccd 0 65px,#cce 0 66px,#bbd 0 67px,#dde 0 69px,#aad 0 70px)"></i><i style="top:49px;background:linear-gradient(90deg,#bbd 0 1px,#99c 0 2px,#bbd 0 3px,#ccd 0 4px,#bbd 0 5px,#aad 0 6px,#bbd 0 7px,#cce 0 8px,#aad 0 12px,#fff 0 13px,#bbd 0 15px,#ccd 0 16px,#bbd 0 18px,#99c 0 19px,#aad 0 20px,#99c 0 21px,#bbd 0 22px,#ccd 0 23px,#cce 0 24px,#dde 0 25px,#cce 0 27px,#dde 0 28px,#fff 0 29px,#cce 0 30px,#dde 0 32px,#fff 0 33px,#eef 0 34px,#fff 0 35px,#bbd 0 36px,#dde 0 37px,#bbd 0 38px,#dde 0 39px,#aad 0 40px,#eee 0 41px,#eef 0 42px,#bbd 0 43px,#dde 0 44px,#cce 0 45px,#fee 0 46px,#dde 0 47px,#eef 0 48px,#dde 0 49px,#cce 0 51px,#bbd 0 52px,#eee 0 53px,#dde 0 54px,#ccd 0 55px,#dde 0 56px,#ccd 0 57px,#bbd 0 59px,#cce 0 60px,#fff 0 61px,#dde 0 62px,#eee 0 63px,#fff 0 64px,#cce 0 66px,#dde 0 67px,#aad 0 68px,#eee 0 69px,#aad 0 70px)"></i><i style="top:50px;background:linear-gradient(90deg,#99c 0 1px,#99d 0 2px,#99c 0 3px,#77b 0 4px,#dde 0 5px,#88c 0 6px,#99c 0 8px,#77b 0 9px,#99c 0 10px,#88c 0 12px,#99c 0 13px,#88c 0 15px,#aad 0 16px,#99c 0 18px,#77b 0 19px,#99c 0 20px,#77c 0 21px,#dde 0 22px,#99c 0 23px,#aad 0 24px,#cce 0 28px,#eee 0 29px,#aad 0 30px,#eef 0 31px,#fee 0 33px,#dde 0 36px,#99c 0 37px,#bbd 0 38px,#dde 0 39px,#bbd 0 40px,#fff 0 41px,#eef 0 42px,#edd 0 43px,#d99 0 44px,#ecc 0 45px,#edd 0 46px,#ecc 0 47px,#eef 0 48px,#fff 0 49px,#fee 0 51px,#eaa 0 53px,#ebb 0 54px,#edd 0 55px,#ecc 0 56px,#fee 0 57px,#ecc 0 58px,#eef 0 59px,#edd 0 60px,#fff 0 61px,#fdd 0 62px,#edd 0 63px,#ebb 0 64px,#edd 0 65px,#ecc 0 67px,#eaa 0 68px,#fee 0 69px,#ebb 0 70px)"></i><i style="top:51px;background:linear-gradient(90deg,#88c 0 1px,#77c 0 2px,#99c 0 3px,#cce 0 4px,#77b 0 5px,#cce 0 6px,#88c 0 8px,#66b 0 9px,#77b 0 10px,#66b 0 11px,#77b 0 12px,#99c 0 14px,#44a 0 15px,#99c 0 16px,#88c 0 17px,#55b 0 19px,#77b 0 20px,#66b 0 21px,#88c 0 22px,#99c 0 23px,#eee 0 24px,#99c 0 25px,#bbd 0 28px,#eef 0 29px,#dde 0 30px,#edd 0 32px,#fee 0 33px,#dde 0 34px,#fee 0 35px,#aad 0 36px,#cce 0 37px,#88c 0 39px,#bbd 0 40px,#eef 0 41px,#edd 0 43px,#eaa 0 44px,#da9 0 45px,#eaa 0 47px,#ebb 0 49px,#fee 0 50px,#eba 0 51px,#ebb 0 52px,#edd 0 53px,#fee 0 54px,#ebb 0 55px,#edd 0 56px,#fff 0 57px,#fee 0 58px,#d99 0 59px,#edd 0 60px,#ecc 0 61px,#d99 0 62px,#eaa 0 63px,#edd 0 64px,#d99 0 65px,#d88 0 66px,#fff 0 67px,#ebb 0 69px,#edd 0 70px)"></i><i style="top:52px;background:linear-gradient(90deg,#aad 0 1px,#bbd 0 2px,#aad 0 5px,#88c 0 6px,#aad 0 7px,#99c 0 9px,#77c 0 10px,#aad 0 11px,#99c 0 13px,#aad 0 14px,#88c 0 15px,#aad 0 16px,#99c 0 18px,#aad 0 19px,#88c 0 21px,#bbd 0 23px,#aad 0 25px,#ccd 0 26px,#cce 0 27px,#ccd 0 28px,#dde 0 29px,#eef 0 30px,#bbd 0 31px,#fee 0 33px,#eef 0 34px,#fee 0 35px,#bbd 0 36px,#cce 0 37px,#aad 0 39px,#bbd 0 40px,#dde 0 41px,#bbd 0 42px,#ecc 0 43px,#edd 0 44px,#fff 0 45px,#eee 0 46px,#fee 0 47px,#edd 0 48px,#fdd 0 49px,#fff 0 50px,#fee 0 51px,#fff 0 54px,#ebb 0 55px,#edd 0 56px,#fdd 0 57px,#fee 0 58px,#edd 0 59px,#fff 0 61px,#ebb 0 62px,#fee 0 63px,#fff 0 64px,#fed 0 65px,#fee 0 66px,#fff 0 67px,#eee 0 68px,#fee 0 70px)"></i><i style="top:53px;background:linear-gradient(90deg,#77b 0 2px,#66b 0 3px,#55b 0 4px,#66b 0 5px,#77b 0 6px,#dde 0 7px,#77c 0 8px,#66b 0 13px,#99c 0 14px,#55b 0 15px,#66b 0 16px,#88c 0 17px,#55a 0 18px,#55b 0 19px,#66b 0 20px,#cce 0 21px,#66b 0 22px,#77c 0 24px,#dde 0 25px,#bbd 0 26px,#aad 0 27px,#eee 0 28px,#dde 0 29px,#cce 0 31px,#fee 0 32px,#eee 0 33px,#bbd 0 35px,#99c 0 36px,#dde 0 37px,#aad 0 38px,#99c 0 39px,#77b 0 40px,#dde 0 41px,#fee 0 42px,#fff 0 43px,#ecc 0 44px,#ebb 0 45px,#fff 0 46px,#ecc 0 47px,#ebb 0 48px,#eaa 0 49px,#fee 0 52px,#edd 0 53px,#fee 0 54px,#ebb 0 55px,#fee 0 59px,#edd 0 61px,#eaa 0 62px,#fee 0 63px,#ecc 0 64px,#fdd 0 65px,#ecc 0 66px,#ecb 0 67px,#edd 0 68px,#fdd 0 69px,#edd 0 70px)"></i><i style="top:54px;background:linear-gradient(90deg,#aad 0 1px,#99c 0 2px,#88c 0 6px,#aad 0 7px,#99c 0 8px,#88c 0 10px,#aad 0 11px,#99c 0 12px,#aad 0 13px,#99c 0 15px,#aad 0 16px,#99c 0 17px,#88c 0 18px,#dde 0 19px,#88c 0 22px,#aad 0 24px,#99d 0 25px,#cce 0 26px,#dde 0 27px,#fee 0 28px,#dde 0 30px,#ebb 0 31px,#fff 0 32px,#eee 0 33px,#fff 0 34px,#eee 0 35px,#bbd 0 36px,#dde 0 37px,#bbd 0 38px,#dde 0 39px,#bbd 0 40px,#fff 0 41px,#ecc 0 42px,#fff 0 43px,#fee 0 44px,#ebb 0 45px,#eaa 0 46px,#ebb 0 47px,#fff 0 48px,#edd 0 49px,#ecc 0 50px,#fee 0 51px,#fff 0 52px,#fdd 0 53px,#edd 0 54px,#ecc 0 55px,#fff 0 56px,#fee 0 57px,#edd 0 58px,#fff 0 59px,#ecc 0 60px,#eaa 0 61px,#eef 0 62px,#ecc 0 64px,#edd 0 65px,#ecc 0 66px,#eaa 0 67px,#edd 0 69px,#fee 0 70px)"></i><i style="top:55px;background:linear-gradient(90deg,#88c 0 1px,#99c 0 2px,#99d 0 3px,#88c 0 7px,#99c 0 8px,#77b 0 9px,#88c 0 12px,#77c 0 13px,#dde 0 14px,#77b 0 15px,#99c 0 17px,#66b 0 19px,#88c 0 20px,#77b 0 21px,#99c 0 23px,#aad 0 24px,#99c 0 25px,#cce 0 26px,#aad 0 27px,#bbd 0 28px,#eee 0 29px,#bbd 0 30px,#fff 0 31px,#fee 0 32px,#eee 0 33px,#cce 0 34px,#bbd 0 36px,#dde 0 37px,#aad 0 40px,#fdd 0 41px,#ecc 0 42px,#fee 0 43px,#ebb 0 44px,#edd 0 46px,#eaa 0 47px,#fff 0 48px,#ecc 0 49px,#fee 0 50px,#ecc 0 52px,#fee 0 54px,#edd 0 56px,#edc 0 57px,#ecc 0 58px,#fee 0 59px,#fff 0 60px,#fee 0 61px,#edd 0 62px,#ecc 0 63px,#fee 0 65px,#da9 0 66px,#ecc 0 67px,#ebb 0 68px,#ecc 0 69px,#fdd 0 70px)"></i><i style="top:56px;background:linear-gradient(90deg,#bbd 0 3px,#aad 0 6px,#bbd 0 7px,#aad 0 9px,#bbd 0 10px,#ccd 0 11px,#aad 0 12px,#bbd 0 13px,#aad 0 14px,#99d 0 15px,#aad 0 16px,#bbd 0 17px,#99c 0 18px,#bbd 0 19px,#aad 0 20px,#99c 0 21px,#cce 0 22px,#bbd 0 23px,#dde 0 24px,#cce 0 25px,#eef 0 26px,#cce 0 27px,#dde 0 28px,#eee 0 29px,#fff 0 30px,#edd 0 31px,#fee 0 32px,#dde 0 33px,#ebb 0 35px,#dde 0 36px,#fff 0 37px,#ccd 0 38px,#aad 0 39px,#bbd 0 40px,#edd 0 41px,#ebb 0 42px,#fee 0 43px,#ebb 0 46px,#ecc 0 48px,#ebb 0 49px,#edd 0 50px,#ebb 0 52px,#fff 0 53px,#edd 0 54px,#ecc 0 56px,#fee 0 57px,#fdd 0 58px,#ebb 0 59px,#ecc 0 60px,#eaa 0 62px,#ecc 0 63px,#ebb 0 64px,#fee 0 65px,#eaa 0 66px,#fed 0 67px,#ecc 0 68px,#ebb 0 69px,#edd 0 70px)"></i><i style="top:57px;background:linear-gradient(90deg,#aad 0 1px,#99c 0 2px,#dde 0 3px,#77b 0 4px,#99c 0 5px,#88c 0 6px,#eee 0 7px,#99c 0 8px,#cce 0 9px,#99c 0 11px,#88c 0 14px,#99c 0 16px,#88c 0 17px,#99c 0 18px,#88c 0 20px,#77c 0 21px,#99c 0 22px,#aad 0 24px,#dde 0 25px,#bbd 0 28px,#cce 0 30px,#99c 0 31px,#fff 0 32px,#cce 0 33px,#dde 0 35px,#99c 0 36px,#aad 0 39px,#bbd 0 40px,#fff 0 41px,#dde 0 42px,#fff 0 43px,#edc 0 44px,#fdd 0 45px,#fff 0 47px,#fee 0 48px,#edd 0 49px,#fff 0 50px,#fee 0 51px,#fff 0 52px,#eee 0 53px,#edd 0 54px,#fdd 0 55px,#fee 0 56px,#eee 0 58px,#dde 0 59px,#ccd 0 60px,#dde 0 61px,#eee 0 62px,#fee 0 63px,#fdd 0 64px,#ecb 0 65px,#edc 0 66px,#fff 0 68px,#eef 0 69px,#dde 0 70px)"></i><i style="top:58px;background:linear-gradient(90deg,#88c 0 1px,#dde 0 2px,#99c 0 3px,#66b 0 4px,#88c 0 5px,#77b 0 6px,#99c 0 7px,#88c 0 8px,#66b 0 9px,#88c 0 10px,#77b 0 11px,#66b 0 12px,#88c 0 13px,#99c 0 14px,#66b 0 15px,#99c 0 16px,#aad 0 17px,#66b 0 19px,#77b 0 20px,#66b 0 21px,#88c 0 22px,#99d 0 23px,#aad 0 25px,#dde 0 26px,#ccd 0 27px,#eef 0 28px,#eee 0 29px,#fff 0 31px,#ecc 0 32px,#ebb 0 33px,#fff 0 34px,#eee 0 35px,#cce 0 36px,#99c 0 37px,#fff 0 38px,#aad 0 40px,#fff 0 41px,#edd 0 42px,#d99 0 43px,#ebb 0 45px,#eaa 0 46px,#ecc 0 47px,#d99 0 48px,#d88 0 49px,#eaa 0 50px,#ebb 0 52px,#eaa 0 53px,#ebb 0 54px,#edd 0 55px,#eaa 0 57px,#edd 0 58px,#ebb 0 59px,#ecc 0 60px,#eaa 0 63px,#ecc 0 64px,#ecb 0 65px,#ecc 0 66px,#ebb 0 67px,#d99 0 68px,#ebb 0 70px)"></i><i style="top:59px;background:linear-gradient(90deg,#99c 0 2px,#88c 0 3px,#77b 0 4px,#88c 0 5px,#77b 0 6px,#88c 0 12px,#77b 0 13px,#88c 0 14px,#77b 0 15px,#88c 0 16px,#99c 0 17px,#77b 0 18px,#77c 0 19px,#88c 0 20px,#66b 0 21px,#99c 0 22px,#dde 0 23px,#99c 0 24px,#aad 0 25px,#dde 0 26px,#bbd 0 27px,#aad 0 28px,#cce 0 30px,#fff 0 32px,#eef 0 33px,#cce 0 34px,#eef 0 35px,#dde 0 36px,#99c 0 37px,#bbd 0 38px,#88c 0 39px,#aad 0 40px,#fff 0 42px,#fed 0 43px,#edd 0 46px,#ecc 0 47px,#ebb 0 48px,#eef 0 49px,#fff 0 50px,#ecc 0 51px,#ebb 0 52px,#edd 0 53px,#eee 0 54px,#fee 0 55px,#fdd 0 56px,#fee 0 57px,#ecc 0 58px,#fee 0 59px,#ecc 0 60px,#eaa 0 61px,#edd 0 62px,#fee 0 63px,#edd 0 64px,#fff 0 65px,#ecc 0 66px,#eba 0 67px,#ecc 0 68px,#ebb 0 69px,#fee 0 70px)"></i><i style="top:60px;background:linear-gradient(90deg,#66b 0 2px,#55a 0 3px,#44a 0 4px,#55b 0 5px,#55a 0 6px,#77c 0 7px,#55a 0 8px,#44a 0 9px,#66b 0 10px,#44a 0 11px,#55b 0 12px,#66b 0 15px,#55a 0 16px,#66b 0 17px,#44a 0 18px,#55b 0 19px,#cce 0 20px,#44a 0 21px,#66b 0 22px,#77b 0 23px,#88c 0 25px,#dde 0 26px,#77b 0 27px,#99c 0 28px,#cce 0 29px,#eee 0 30px,#dde 0 32px,#eef 0 33px,#bbd 0 34px,#dde 0 35px,#88c 0 36px,#99c 0 37px,#88c 0 39px,#99c 0 40px,#cce 0 41px,#fee 0 42px,#eee 0 43px,#fee 0 44px,#ebb 0 45px,#eaa 0 46px,#ebb 0 47px,#ecc 0 48px,#edd 0 49px,#fee 0 50px,#ecc 0 51px,#edd 0 52px,#eef 0 53px,#fff 0 54px,#edd 0 55px,#fee 0 56px,#fff 0 59px,#eaa 0 60px,#fdd 0 61px,#edd 0 62px,#ebb 0 64px,#fff 0 65px,#d99 0 66px,#ecc 0 67px,#ebb 0 68px,#fee 0 69px,#ebb 0 70px)"></i><i style="top:61px;background:linear-gradient(90deg,#88c 0 2px,#77c 0 3px,#55a 0 4px,#77b 0 5px,#44a 0 6px,#88c 0 7px,#77b 0 11px,#66b 0 13px,#99c 0 14px,#66b 0 15px,#77c 0 16px,#88c 0 17px,#55b 0 18px,#66b 0 22px,#88c 0 23px,#aad 0 24px,#88c 0 25px,#dde 0 26px,#aad 0 28px,#bbd 0 29px,#eef 0 30px,#eee 0 31px,#fee 0 32px,#fff 0 33px,#cce 0 34px,#fee 0 35px,#99c 0 36px,#aad 0 38px,#bbd 0 39px,#99c 0 40px,#cce 0 41px,#ebb 0 42px,#ecc 0 43px,#ebb 0 44px,#d99 0 45px,#ebb 0 46px,#eba 0 47px,#eaa 0 48px,#ecc 0 49px,#edd 0 50px,#fee 0 51px,#ebb 0 52px,#edd 0 53px,#ebb 0 54px,#fee 0 55px,#eba 0 56px,#ebb 0 57px,#edd 0 58px,#d99 0 59px,#ecc 0 60px,#d99 0 61px,#ebb 0 62px,#d88 0 63px,#eaa 0 64px,#ecc 0 65px,#ebb 0 66px,#ecc 0 68px,#ebb 0 69px,#ecc 0 70px)"></i><i style="top:62px;background:linear-gradient(90deg,#88c 0 1px,#dde 0 2px,#88c 0 3px,#66b 0 4px,#77b 0 5px,#88c 0 7px,#dde 0 8px,#77c 0 10px,#77b 0 11px,#66b 0 12px,#77c 0 13px,#99c 0 14px,#cce 0 15px,#88c 0 18px,#77c 0 19px,#77b 0 20px,#66b 0 21px,#99c 0 22px,#77c 0 23px,#aad 0 24px,#99c 0 25px,#ccd 0 26px,#eee 0 27px,#bbd 0 28px,#dde 0 29px,#cce 0 30px,#dde 0 31px,#eaa 0 32px,#ecc 0 33px,#cce 0 34px,#dde 0 35px,#99c 0 36px,#eee 0 37px,#aad 0 40px,#bbd 0 41px,#fff 0 42px,#ebb 0 45px,#eba 0 46px,#da9 0 47px,#fee 0 48px,#edd 0 50px,#ecb 0 51px,#ecc 0 52px,#ebb 0 53px,#ecc 0 54px,#ebb 0 55px,#fdd 0 56px,#ecc 0 57px,#eaa 0 58px,#fee 0 59px,#edd 0 60px,#ebb 0 61px,#edd 0 62px,#ebb 0 63px,#eaa 0 66px,#ecc 0 67px,#eaa 0 68px,#eef 0 69px,#edd 0 70px)"></i><i style="top:63px;background:linear-gradient(90deg,#bbd 0 2px,#aad 0 5px,#99c 0 6px,#aad 0 8px,#88c 0 9px,#aad 0 10px,#bbd 0 13px,#cce 0 14px,#bbd 0 17px,#aad 0 18px,#bbd 0 19px,#aad 0 23px,#bbd 0 24px,#cce 0 25px,#dde 0 26px,#eef 0 27px,#fff 0 28px,#eee 0 29px,#ccd 0 30px,#dde 0 31px,#ecc 0 32px,#edd 0 33px,#fff 0 34px,#dde 0 35px,#cce 0 37px,#bbd 0 38px,#cce 0 39px,#bbd 0 40px,#cce 0 42px,#aad 0 43px,#dde 0 44px,#bbd 0 45px,#dde 0 46px,#eee 0 47px,#d99 0 48px,#eba 0 49px,#d99 0 50px,#ebb 0 51px,#d77 0 52px,#ebb 0 53px,#eaa 0 54px,#ecc 0 55px,#ebb 0 56px,#fff 0 57px,#eaa 0 58px,#ecc 0 59px,#eaa 0 60px,#ebb 0 61px,#ecc 0 63px,#fdd 0 64px,#eaa 0 65px,#ebb 0 66px,#ecc 0 67px,#edd 0 68px,#fff 0 69px,#ecc 0 70px)"></i><i style="top:64px;background:linear-gradient(90deg,#66b 0 1px,#dde 0 2px,#88c 0 3px,#cce 0 4px,#88c 0 5px,#66b 0 6px,#99c 0 7px,#55b 0 8px,#66b 0 9px,#dde 0 10px,#66b 0 13px,#77b 0 14px,#55b 0 15px,#66b 0 18px,#55a 0 19px,#66b 0 21px,#77b 0 22px,#88c 0 23px,#99c 0 24px,#88c 0 25px,#99c 0 27px,#bbd 0 29px,#88c 0 30px,#bbd 0 31px,#cce 0 32px,#aad 0 34px,#cce 0 35px,#99c 0 36px,#77b 0 37px,#77c 0 38px,#77b 0 39px,#66b 0 40px,#55b 0 41px,#88c 0 42px,#77b 0 43px,#88c 0 44px,#55b 0 45px,#77b 0 46px,#ecc 0 47px,#fdd 0 48px,#ecc 0 49px,#ebb 0 50px,#eaa 0 51px,#ebb 0 52px,#ecc 0 53px,#edd 0 54px,#fdd 0 55px,#ecc 0 56px,#fff 0 58px,#edd 0 59px,#eee 0 60px,#eef 0 61px,#edd 0 62px,#fee 0 63px,#fff 0 64px,#fee 0 65px,#ecc 0 66px,#eef 0 67px,#fee 0 68px,#fff 0 69px,#eef 0 70px)"></i><i style="top:65px;background:linear-gradient(90deg,#77c 0 3px,#55b 0 4px,#88c 0 5px,#66b 0 6px,#88c 0 8px,#66b 0 11px,#77b 0 12px,#77c 0 13px,#99c 0 14px,#88c 0 16px,#77c 0 17px,#66b 0 20px,#88c 0 21px,#dde 0 22px,#88c 0 23px,#aad 0 24px,#dde 0 25px,#bbd 0 26px,#dde 0 27px,#bbd 0 29px,#fee 0 30px,#eef 0 31px,#fff 0 33px,#eee 0 34px,#dde 0 35px,#88c 0 36px,#77c 0 37px,#99c 0 38px,#aad 0 39px,#99c 0 40px,#88c 0 41px,#99c 0 44px,#77b 0 45px,#99c 0 46px,#eee 0 47px,#eaa 0 48px,#d77 0 49px,#d76 0 50px,#d77 0 51px,#d88 0 52px,#d77 0 53px,#d99 0 55px,#ecc 0 56px,#ebb 0 57px,#edd 0 58px,#fee 0 59px,#d99 0 60px,#ecc 0 61px,#ebb 0 62px,#d99 0 64px,#eaa 0 65px,#ebb 0 67px,#eaa 0 68px,#ecc 0 70px)"></i><i style="top:66px;background:linear-gradient(90deg,#99c 0 1px,#88c 0 2px,#99c 0 3px,#77c 0 4px,#99c 0 5px,#88c 0 6px,#aad 0 7px,#88c 0 8px,#dde 0 9px,#99c 0 12px,#aad 0 13px,#dde 0 14px,#77b 0 15px,#99c 0 16px,#aad 0 17px,#77b 0 18px,#99c 0 19px,#88c 0 21px,#99c 0 22px,#aad 0 23px,#bbd 0 24px,#dde 0 26px,#cce 0 28px,#dde 0 29px,#cce 0 30px,#fff 0 33px,#dde 0 36px,#99c 0 38px,#dde 0 39px,#99c 0 41px,#bbd 0 42px,#aad 0 43px,#99c 0 45px,#fff 0 46px,#fee 0 47px,#ecc 0 48px,#d88 0 49px,#ebb 0 50px,#d99 0 52px,#fdd 0 53px,#ebb 0 54px,#d87 0 55px,#eaa 0 56px,#ebb 0 57px,#ecc 0 59px,#ebb 0 60px,#fee 0 61px,#ecc 0 63px,#ebb 0 64px,#edd 0 65px,#ebb 0 66px,#fee 0 67px,#edd 0 68px,#eaa 0 69px,#fff 0 70px)"></i><i style="top:67px;background:linear-gradient(90deg,#aad 0 1px,#bbd 0 2px,#cce 0 3px,#99c 0 4px,#bbd 0 5px,#eee 0 6px,#bbd 0 7px,#cce 0 8px,#ccd 0 9px,#bbd 0 11px,#aad 0 12px,#bbd 0 13px,#cce 0 14px,#bbd 0 15px,#cce 0 16px,#aad 0 18px,#bbd 0 20px,#aad 0 21px,#dde 0 22px,#cce 0 23px,#bbd 0 24px,#dde 0 25px,#fff 0 27px,#eee 0 28px,#eef 0 29px,#dde 0 30px,#edd 0 31px,#eaa 0 32px,#edd 0 33px,#eef 0 35px,#aad 0 36px,#ccd 0 37px,#dde 0 38px,#bbd 0 39px,#cce 0 43px,#dde 0 44px,#cce 0 45px,#eef 0 46px,#dde 0 47px,#eaa 0 49px,#ebb 0 50px,#da9 0 51px,#ebb 0 52px,#eaa 0 53px,#edd 0 54px,#ebb 0 55px,#ecc 0 56px,#fdd 0 57px,#fee 0 58px,#ecc 0 59px,#eaa 0 60px,#fee 0 61px,#eaa 0 63px,#edd 0 64px,#ecc 0 65px,#ebb 0 66px,#ecc 0 67px,#edd 0 68px,#ecc 0 69px,#ebb 0 70px)"></i><i style="top:68px;background:linear-gradient(90deg,#aad 0 1px,#99c 0 3px,#88c 0 4px,#99c 0 6px,#aad 0 8px,#77c 0 9px,#99d 0 10px,#aad 0 11px,#99c 0 12px,#aad 0 14px,#88c 0 15px,#99c 0 16px,#aad 0 17px,#77c 0 18px,#88c 0 19px,#99c 0 20px,#88c 0 21px,#aad 0 22px,#99c 0 23px,#bbd 0 26px,#eef 0 27px,#cce 0 28px,#bbd 0 29px,#dde 0 30px,#fee 0 31px,#fff 0 33px,#cce 0 34px,#dde 0 35px,#aad 0 36px,#bbd 0 37px,#aad 0 39px,#bbd 0 41px,#aad 0 42px,#99c 0 43px,#aad 0 44px,#99c 0 45px,#dde 0 46px,#edd 0 48px,#ecb 0 49px,#ebb 0 50px,#eaa 0 51px,#ecc 0 52px,#edc 0 53px,#fdd 0 54px,#ebb 0 55px,#fff 0 56px,#ebb 0 58px,#fff 0 59px,#ecc 0 60px,#fdd 0 61px,#ebb 0 62px,#edd 0 63px,#eef 0 64px,#ecc 0 65px,#edc 0 67px,#fff 0 68px,#fee 0 69px,#fff 0 70px)"></i><i style="top:69px;background:linear-gradient(90deg,#66b 0 2px,#44a 0 3px,#33a 0 4px,#55a 0 5px,#44a 0 6px,#55b 0 8px,#33a 0 9px,#44a 0 12px,#55b 0 13px,#66b 0 14px,#44a 0 15px,#66b 0 17px,#44a 0 20px,#33a 0 21px,#77b 0 22px,#66b 0 23px,#88c 0 24px,#77b 0 25px,#99c 0 28px,#bbd 0 29px,#99c 0 30px,#cce 0 31px,#fff 0 32px,#eef 0 33px,#aad 0 34px,#bbd 0 35px,#cce 0 36px,#66b 0 37px,#88c 0 39px,#55b 0 40px,#77b 0 43px,#cce 0 44px,#55b 0 45px,#99c 0 46px,#eee 0 47px,#ebb 0 49px,#eaa 0 50px,#d88 0 51px,#d99 0 52px,#ebb 0 54px,#eaa 0 55px,#ebb 0 56px,#fff 0 57px,#fee 0 58px,#edd 0 59px,#fee 0 60px,#ebb 0 61px,#edd 0 62px,#fee 0 63px,#ecc 0 65px,#edd 0 66px,#ebb 0 68px,#fff 0 69px,#ecc 0 70px)"></i><i style="top:70px;background:linear-gradient(90deg,#66b 0 1px,#55b 0 2px,#66b 0 3px,#44a 0 4px,#66b 0 5px,#55b 0 6px,#77b 0 7px,#66b 0 8px,#44a 0 9px,#66b 0 10px,#77b 0 11px,#55b 0 12px,#66b 0 16px,#77b 0 17px,#55b 0 18px,#66b 0 19px,#cce 0 20px,#44a 0 21px,#77b 0 22px,#88c 0 23px,#99c 0 24px,#dde 0 25px,#aad 0 26px,#99c 0 27px,#ccd 0 28px,#aad 0 29px,#99c 0 30px,#eee 0 31px,#eef 0 34px,#aad 0 35px,#66b 0 36px,#88c 0 38px,#77c 0 39px,#77b 0 40px,#88c 0 41px,#77c 0 42px,#88c 0 43px,#77b 0 45px,#dde 0 46px,#fee 0 47px,#edd 0 48px,#d99 0 49px,#d77 0 50px,#eaa 0 51px,#d99 0 52px,#eba 0 53px,#ecc 0 54px,#d88 0 55px,#ebb 0 57px,#fee 0 58px,#edc 0 59px,#ecc 0 60px,#ebb 0 61px,#ecc 0 62px,#edd 0 63px,#fee 0 64px,#fff 0 65px,#fee 0 66px,#eaa 0 67px,#eee 0 68px,#fee 0 69px,#edd 0 70px)"></i><i style="top:71px;background:linear-gradient(90deg,#99c 0 2px,#aad 0 3px,#88c 0 4px,#77b 0 5px,#88c 0 6px,#99c 0 7px,#88c 0 8px,#99c 0 11px,#dde 0 12px,#99c 0 14px,#88c 0 15px,#bbd 0 16px,#99c 0 17px,#77c 0 18px,#99c 0 19px,#88c 0 20px,#99c 0 22px,#bbd 0 23px,#aad 0 24px,#99c 0 25px,#dde 0 26px,#bbd 0 28px,#eee 0 29px,#cce 0 30px,#edd 0 31px,#fee 0 32px,#dde 0 33px,#fee 0 34px,#cce 0 35px,#aad 0 36px,#bbd 0 38px,#aad 0 39px,#99d 0 40px,#bbd 0 42px,#aad 0 43px,#bbd 0 44px,#dde 0 45px,#cce 0 46px,#ebb 0 47px,#fff 0 48px,#ecc 0 49px,#ebb 0 50px,#eaa 0 51px,#ecc 0 52px,#ebb 0 53px,#edd 0 54px,#ecc 0 56px,#fff 0 57px,#fed 0 58px,#fee 0 59px,#ecc 0 60px,#edd 0 61px,#fee 0 62px,#fff 0 63px,#eef 0 64px,#eaa 0 65px,#fdd 0 66px,#ecc 0 67px,#ebb 0 68px,#fdd 0 69px,#ecc 0 70px)"></i><i style="top:72px;background:linear-gradient(90deg,#99d 0 1px,#aad 0 2px,#bbd 0 3px,#88c 0 5px,#99c 0 6px,#aad 0 8px,#99c 0 10px,#aad 0 14px,#88c 0 15px,#aad 0 17px,#88c 0 21px,#aad 0 22px,#bbd 0 23px,#ccd 0 24px,#aad 0 25px,#bbd 0 26px,#cce 0 27px,#ccd 0 28px,#fff 0 29px,#edd 0 30px,#fff 0 31px,#eef 0 32px,#fee 0 33px,#eef 0 34px,#fff 0 35px,#aad 0 36px,#bbd 0 37px,#cce 0 38px,#aad 0 39px,#bbd 0 40px,#aad 0 41px,#bbd 0 42px,#aad 0 44px,#99c 0 45px,#eef 0 46px,#fee 0 47px,#ebb 0 48px,#ecb 0 49px,#eaa 0 50px,#ecc 0 51px,#d98 0 52px,#ecb 0 53px,#ecc 0 54px,#da9 0 55px,#edd 0 56px,#eef 0 57px,#edd 0 58px,#fee 0 59px,#ecc 0 62px,#eaa 0 63px,#edd 0 64px,#ecc 0 65px,#ebb 0 66px,#eaa 0 67px,#edd 0 68px,#ebb 0 69px,#edd 0 70px)"></i><i style="top:73px;background:linear-gradient(90deg,#99c 0 1px,#aad 0 2px,#88c 0 5px,#77b 0 6px,#99c 0 8px,#66b 0 9px,#88c 0 10px,#dde 0 11px,#77c 0 13px,#99c 0 14px,#88c 0 16px,#99c 0 17px,#66b 0 18px,#77b 0 19px,#88c 0 20px,#66b 0 21px,#88c 0 22px,#99c 0 23px,#aad 0 25px,#dde 0 26px,#bbd 0 28px,#cce 0 29px,#eee 0 30px,#ccd 0 31px,#edd 0 32px,#fff 0 33px,#eef 0 34px,#dde 0 35px,#99c 0 37px,#88c 0 38px,#aad 0 39px,#88c 0 41px,#aad 0 42px,#99c 0 43px,#aad 0 44px,#99c 0 45px,#dde 0 46px,#fee 0 47px,#d99 0 48px,#eaa 0 49px,#d99 0 50px,#d77 0 52px,#d99 0 53px,#ebb 0 54px,#d99 0 55px,#eaa 0 56px,#ebb 0 57px,#ecc 0 58px,#fdd 0 59px,#ecc 0 60px,#fdd 0 61px,#ecc 0 62px,#edd 0 63px,#eaa 0 64px,#ebb 0 65px,#d66 0 66px,#edd 0 67px,#ebb 0 68px,#da9 0 69px,#fee 0 70px)"></i><i style="top:74px;background:linear-gradient(90deg,#88c 0 1px,#77b 0 2px,#dde 0 3px,#55a 0 4px,#66b 0 5px,#55a 0 6px,#77b 0 7px,#66b 0 8px,#77b 0 9px,#66b 0 11px,#55a 0 12px,#66b 0 13px,#77b 0 14px,#55b 0 15px,#88c 0 17px,#66b 0 19px,#77b 0 20px,#66b 0 22px,#77b 0 23px,#99c 0 24px,#77c 0 25px,#99c 0 26px,#cce 0 27px,#aad 0 28px,#cce 0 29px,#bbd 0 31px,#eee 0 32px,#dde 0 33px,#aad 0 34px,#cce 0 35px,#dde 0 36px,#88c 0 37px,#99c 0 38px,#77c 0 39px,#77b 0 40px,#88c 0 43px,#66b 0 44px,#77b 0 45px,#aad 0 46px,#eef 0 47px,#fff 0 48px,#fdd 0 49px,#ecb 0 50px,#edd 0 51px,#ebb 0 52px,#eaa 0 53px,#fff 0 55px,#edd 0 56px,#fee 0 58px,#fff 0 59px,#fee 0 61px,#fdd 0 62px,#fff 0 64px,#fed 0 65px,#fee 0 67px,#eef 0 68px,#fff 0 70px)"></i><i style="top:75px;background:linear-gradient(90deg,#dde 0 1px,#aad 0 2px,#dde 0 3px,#ccd 0 4px,#aad 0 6px,#fee 0 7px,#bbd 0 8px,#cce 0 9px,#eef 0 10px,#eee 0 11px,#dde 0 13px,#fff 0 14px,#eef 0 15px,#cce 0 16px,#fee 0 17px,#fff 0 19px,#eef 0 22px,#dde 0 23px,#eef 0 24px,#bbd 0 25px,#fee 0 27px,#fff 0 29px,#dde 0 30px,#eee 0 31px,#fee 0 32px,#99c 0 33px,#eef 0 35px,#99c 0 36px,#aad 0 37px,#99c 0 38px,#88c 0 39px,#99c 0 40px,#dde 0 41px,#aad 0 42px,#88c 0 43px,#77c 0 44px,#77b 0 45px,#aad 0 46px,#eef 0 47px,#cce 0 48px,#ecc 0 49px,#fdd 0 50px,#ecc 0 51px,#edd 0 52px,#fff 0 53px,#edd 0 55px,#fff 0 58px,#fee 0 59px,#eef 0 60px,#ebb 0 61px,#fff 0 62px,#ebb 0 63px,#ecc 0 64px,#eef 0 65px,#fee 0 66px,#ecc 0 67px,#fee 0 68px,#ecc 0 69px,#fff 0 70px)"></i><i style="top:76px;background:linear-gradient(90deg,#bbd 0 1px,#ccd 0 2px,#cce 0 3px,#ccd 0 5px,#bbd 0 6px,#dde 0 7px,#99c 0 8px,#eee 0 10px,#fee 0 12px,#fff 0 13px,#eef 0 14px,#fee 0 15px,#eef 0 17px,#fdd 0 18px,#fee 0 19px,#cce 0 20px,#edd 0 21px,#fdd 0 22px,#cce 0 23px,#eaa 0 24px,#d99 0 25px,#eef 0 28px,#ecc 0 29px,#fff 0 30px,#dde 0 32px,#ccd 0 33px,#bbd 0 34px,#dde 0 35px,#cce 0 36px,#66b 0 37px,#77c 0 38px,#77b 0 39px,#88c 0 40px,#77b 0 42px,#77c 0 43px,#77b 0 44px,#55b 0 45px,#bbd 0 46px,#fff 0 47px,#fee 0 48px,#d88 0 53px,#ebb 0 54px,#d99 0 55px,#fee 0 56px,#fed 0 57px,#fee 0 58px,#ecc 0 59px,#ebb 0 60px,#ecc 0 61px,#eef 0 62px,#eaa 0 63px,#fff 0 64px,#ebb 0 66px,#ecc 0 67px,#edd 0 68px,#fff 0 69px,#edd 0 70px)"></i><i style="top:77px;background:linear-gradient(90deg,#eef 0 1px,#cce 0 2px,#dde 0 3px,#bbd 0 5px,#cce 0 7px,#eee 0 8px,#ccd 0 9px,#fee 0 10px,#dde 0 11px,#fff 0 14px,#eee 0 15px,#fff 0 16px,#eef 0 17px,#eee 0 18px,#fee 0 19px,#fff 0 20px,#ccd 0 21px,#fff 0 23px,#eef 0 24px,#cce 0 25px,#ebb 0 26px,#fff 0 27px,#fee 0 28px,#fff 0 29px,#bbd 0 30px,#fee 0 31px,#fff 0 32px,#eef 0 33px,#bbd 0 34px,#aad 0 35px,#88c 0 36px,#77b 0 37px,#99c 0 38px,#88c 0 39px,#77b 0 40px,#dde 0 41px,#88c 0 42px,#77b 0 43px,#77c 0 44px,#66b 0 45px,#99c 0 46px,#cce 0 47px,#fdd 0 48px,#ecc 0 50px,#d99 0 51px,#da9 0 52px,#ebb 0 54px,#da9 0 55px,#fee 0 56px,#fff 0 57px,#dde 0 58px,#edd 0 60px,#fee 0 61px,#edd 0 62px,#ebb 0 63px,#edd 0 64px,#ecc 0 65px,#fff 0 66px,#fdd 0 67px,#edd 0 68px,#fee 0 69px,#ecc 0 70px)"></i><i style="top:78px;background:linear-gradient(90deg,#bbd 0 1px,#fff 0 3px,#eef 0 4px,#bbd 0 5px,#dde 0 7px,#fff 0 8px,#dde 0 9px,#fff 0 10px,#fdd 0 11px,#fff 0 12px,#fee 0 13px,#eaa 0 14px,#edd 0 15px,#fff 0 16px,#ecc 0 17px,#fee 0 18px,#ecc 0 19px,#fff 0 20px,#ebb 0 21px,#fff 0 22px,#edd 0 23px,#ebb 0 24px,#dde 0 25px,#fee 0 26px,#fed 0 27px,#cce 0 28px,#eba 0 29px,#eef 0 30px,#fee 0 31px,#fdd 0 32px,#fee 0 33px,#eef 0 34px,#cce 0 35px,#77c 0 36px,#aad 0 40px,#bbd 0 41px,#99c 0 43px,#aad 0 44px,#88c 0 45px,#cce 0 46px,#fff 0 47px,#fee 0 48px,#d99 0 49px,#ebb 0 51px,#d99 0 53px,#ecc 0 54px,#ecb 0 55px,#ebb 0 56px,#eba 0 57px,#edd 0 59px,#fdd 0 60px,#fee 0 61px,#eba 0 62px,#ecc 0 63px,#da9 0 64px,#ecc 0 65px,#d88 0 66px,#ebb 0 67px,#da9 0 68px,#ecb 0 69px,#fee 0 70px)"></i><i style="top:79px;background:linear-gradient(90deg,#eef 0 1px,#dde 0 2px,#fff 0 3px,#eee 0 4px,#fff 0 5px,#dde 0 6px,#fff 0 7px,#dde 0 9px,#fff 0 10px,#eef 0 11px,#fff 0 13px,#ecc 0 14px,#fff 0 15px,#fee 0 18px,#edd 0 19px,#fee 0 21px,#eaa 0 22px,#fff 0 23px,#fee 0 24px,#edd 0 25px,#fff 0 26px,#eef 0 27px,#edd 0 28px,#ebb 0 29px,#fff 0 30px,#dde 0 31px,#ebb 0 32px,#fee 0 33px,#eee 0 34px,#dde 0 35px,#aad 0 36px,#cce 0 38px,#bbd 0 39px,#cce 0 40px,#bbd 0 42px,#aad 0 43px,#bbd 0 44px,#aad 0 45px,#dde 0 46px,#fff 0 47px,#ebb 0 48px,#ecc 0 50px,#eaa 0 52px,#ebb 0 53px,#edd 0 54px,#d99 0 55px,#edd 0 56px,#eaa 0 57px,#ecc 0 58px,#ebb 0 59px,#ecb 0 60px,#edd 0 61px,#ebb 0 62px,#ecc 0 63px,#ebb 0 64px,#fee 0 65px,#ecc 0 66px,#edd 0 67px,#ecc 0 68px,#ebb 0 69px,#ecc 0 70px)"></i><i style="top:80px;background:linear-gradient(90deg,#dde 0 1px,#fff 0 3px,#dde 0 4px,#eef 0 6px,#fee 0 7px,#cce 0 8px,#fee 0 9px,#fff 0 10px,#fee 0 11px,#eef 0 12px,#edd 0 13px,#fee 0 14px,#ebb 0 15px,#dde 0 16px,#fff 0 17px,#dde 0 18px,#d88 0 19px,#eaa 0 20px,#ebb 0 21px,#fff 0 22px,#fee 0 23px,#fdd 0 24px,#fee 0 25px,#ebb 0 26px,#eba 0 27px,#ebb 0 29px,#edd 0 30px,#fee 0 32px,#fff 0 33px,#eee 0 35px,#99c 0 36px,#dde 0 37px,#bbd 0 38px,#aad 0 39px,#eee 0 40px,#bbd 0 41px,#aad 0 42px,#ccd 0 43px,#99d 0 44px,#99c 0 45px,#eef 0 46px,#edd 0 47px,#d99 0 49px,#d88 0 50px,#eaa 0 51px,#d88 0 52px,#d99 0 54px,#eaa 0 55px,#eba 0 56px,#d99 0 57px,#fee 0 58px,#d99 0 59px,#d87 0 60px,#d99 0 61px,#eaa 0 63px,#d88 0 64px,#d77 0 65px,#d88 0 66px,#eaa 0 67px,#d88 0 69px,#d99 0 70px)"></i><i style="top:81px;background:linear-gradient(90deg,#cce 0 1px,#dde 0 2px,#cce 0 3px,#dde 0 5px,#bbd 0 6px,#eef 0 8px,#bbd 0 9px,#dde 0 10px,#fee 0 11px,#fed 0 12px,#eee 0 13px,#cce 0 14px,#fdd 0 15px,#fff 0 16px,#fee 0 17px,#edd 0 18px,#dde 0 19px,#fee 0 20px,#dde 0 21px,#edd 0 22px,#dde 0 23px,#fdd 0 24px,#da9 0 25px,#ecc 0 26px,#cce 0 27px,#ecc 0 28px,#ebb 0 29px,#eaa 0 30px,#eee 0 31px,#dde 0 32px,#eef 0 33px,#eee 0 34px,#cce 0 35px,#77c 0 36px,#77b 0 37px,#88c 0 38px,#77c 0 39px,#99c 0 40px,#77c 0 41px,#88c 0 42px,#66b 0 43px,#88c 0 44px,#66b 0 45px,#88c 0 46px,#dde 0 47px,#ebb 0 48px,#ecc 0 49px,#eaa 0 51px,#eba 0 52px,#ebb 0 53px,#ecc 0 54px,#ebb 0 55px,#fdd 0 56px,#edd 0 57px,#da9 0 58px,#edd 0 59px,#eaa 0 60px,#fdd 0 61px,#eaa 0 62px,#edd 0 63px,#ebb 0 64px,#fee 0 65px,#ecc 0 66px,#edd 0 67px,#fee 0 68px,#ebb 0 70px)"></i><i style="top:82px;background:linear-gradient(90deg,#fee 0 2px,#dde 0 3px,#cce 0 6px,#dde 0 8px,#fee 0 9px,#edd 0 10px,#eef 0 11px,#d99 0 12px,#eef 0 13px,#edd 0 14px,#dde 0 15px,#fff 0 16px,#eef 0 17px,#ebb 0 18px,#ecc 0 19px,#edd 0 20px,#fff 0 21px,#ecc 0 22px,#fee 0 23px,#ecc 0 24px,#edd 0 25px,#eaa 0 26px,#eba 0 27px,#ecc 0 28px,#fee 0 29px,#fff 0 31px,#fee 0 32px,#eef 0 33px,#fee 0 34px,#dde 0 35px,#bbd 0 37px,#eee 0 38px,#aad 0 39px,#bbd 0 40px,#dde 0 41px,#bbd 0 43px,#99c 0 45px,#bbd 0 46px,#fee 0 47px,#eaa 0 48px,#ebb 0 49px,#eaa 0 51px,#d88 0 52px,#ebb 0 54px,#d99 0 55px,#ebb 0 56px,#eba 0 57px,#fee 0 58px,#ecc 0 61px,#ebb 0 62px,#d99 0 63px,#eaa 0 64px,#fdd 0 65px,#eaa 0 67px,#fff 0 69px,#edd 0 70px)"></i><i style="top:83px;background:linear-gradient(90deg,#fff 0 1px,#dde 0 2px,#eee 0 3px,#dde 0 4px,#aad 0 5px,#dde 0 9px,#cce 0 10px,#eee 0 11px,#fee 0 12px,#cce 0 13px,#edd 0 14px,#fee 0 15px,#fff 0 17px,#fee 0 18px,#dde 0 19px,#fff 0 20px,#ecc 0 21px,#fdd 0 22px,#eee 0 23px,#fdd 0 24px,#edd 0 25px,#fee 0 26px,#ecc 0 27px,#dde 0 28px,#fdd 0 29px,#eef 0 30px,#fff 0 31px,#fee 0 32px,#fff 0 33px,#fee 0 34px,#dde 0 35px,#aad 0 36px,#bbd 0 38px,#aad 0 39px,#cce 0 40px,#99c 0 41px,#aad 0 43px,#bbd 0 44px,#99c 0 45px,#eee 0 46px,#fff 0 47px,#ecc 0 48px,#eaa 0 49px,#d99 0 50px,#eaa 0 52px,#fee 0 53px,#ebb 0 54px,#d99 0 55px,#eaa 0 56px,#eba 0 57px,#ecc 0 58px,#fff 0 59px,#ebb 0 60px,#fee 0 61px,#ebb 0 63px,#edd 0 64px,#fee 0 65px,#eaa 0 66px,#ebb 0 67px,#ecc 0 68px,#fdd 0 69px,#edd 0 70px)"></i><i style="top:84px;background:linear-gradient(90deg,#dde 0 1px,#cce 0 2px,#99c 0 3px,#dde 0 4px,#cce 0 5px,#dde 0 6px,#eef 0 7px,#dde 0 8px,#bbd 0 9px,#fee 0 10px,#dde 0 11px,#edc 0 12px,#ebb 0 13px,#fff 0 14px,#eef 0 15px,#fee 0 17px,#fff 0 18px,#fee 0 20px,#edd 0 21px,#fee 0 22px,#eef 0 23px,#fff 0 24px,#ebb 0 25px,#eef 0 26px,#fdd 0 28px,#eef 0 29px,#ecc 0 30px,#bbd 0 31px,#ebb 0 32px,#fee 0 33px,#eef 0 34px,#ccd 0 35px,#88c 0 36px,#dde 0 37px,#99c 0 38px,#88c 0 42px,#77b 0 44px,#66b 0 45px,#dde 0 46px,#eee 0 47px,#fff 0 48px,#d88 0 49px,#eaa 0 51px,#d99 0 53px,#ebb 0 55px,#ecb 0 56px,#edc 0 57px,#eef 0 58px,#edd 0 59px,#da9 0 60px,#edd 0 61px,#ebb 0 62px,#fee 0 63px,#eaa 0 64px,#ebb 0 67px,#ecc 0 69px,#edd 0 70px)"></i><i style="top:85px;background:linear-gradient(90deg,#88c 0 1px,#77b 0 2px,#66b 0 3px,#55a 0 4px,#55b 0 5px,#77b 0 7px,#66b 0 8px,#55a 0 9px,#77b 0 10px,#55a 0 11px,#66b 0 12px,#88c 0 13px,#99c 0 14px,#55b 0 15px,#66b 0 16px,#77c 0 17px,#55a 0 19px,#44a 0 21px,#77b 0 22px,#99c 0 23px,#88c 0 24px,#66b 0 25px,#88c 0 26px,#77c 0 27px,#dde 0 28px,#99c 0 29px,#88c 0 30px,#99c 0 31px,#eef 0 32px,#dde 0 33px,#aad 0 34px,#bbd 0 35px,#77c 0 36px,#77b 0 38px,#66b 0 40px,#bbd 0 41px,#dde 0 42px,#cce 0 43px,#ecc 0 45px,#eef 0 46px,#fff 0 47px,#eef 0 48px,#cce 0 49px,#bbd 0 50px,#eee 0 51px,#eef 0 52px,#aad 0 53px,#bbd 0 54px,#fff 0 55px,#fee 0 56px,#fff 0 57px,#fdd 0 58px,#fee 0 60px,#fff 0 61px,#ecc 0 62px,#eaa 0 63px,#edd 0 64px,#dde 0 65px,#eef 0 66px,#fee 0 67px,#fff 0 68px,#eef 0 69px,#fee 0 70px)"></i><i style="top:86px;background:linear-gradient(90deg,#bbd 0 3px,#77b 0 4px,#99c 0 5px,#99d 0 6px,#aad 0 8px,#99c 0 9px,#eee 0 10px,#99d 0 11px,#aad 0 14px,#99c 0 15px,#bbd 0 17px,#99c 0 18px,#88c 0 19px,#99c 0 20px,#88c 0 21px,#99c 0 22px,#aad 0 23px,#bbd 0 24px,#aad 0 25px,#cce 0 26px,#bbd 0 27px,#dde 0 28px,#ccd 0 29px,#cce 0 31px,#fff 0 32px,#dde 0 33px,#eee 0 35px,#aad 0 38px,#99c 0 39px,#aad 0 40px,#dde 0 41px,#fff 0 42px,#ecc 0 43px,#eaa 0 44px,#ebb 0 45px,#edd 0 46px,#da9 0 47px,#fff 0 50px,#ecc 0 51px,#fff 0 52px,#eee 0 53px,#cce 0 54px,#ebb 0 55px,#eee 0 56px,#fff 0 57px,#ebb 0 59px,#fee 0 61px,#edc 0 62px,#ecc 0 63px,#dde 0 64px,#fff 0 65px,#ecc 0 66px,#dde 0 67px,#ecc 0 68px,#fee 0 69px,#edd 0 70px)"></i><i style="top:87px;background:linear-gradient(90deg,#99c 0 1px,#dde 0 2px,#99c 0 3px,#88c 0 6px,#bbd 0 7px,#88c 0 8px,#99c 0 9px,#aad 0 10px,#99c 0 14px,#88c 0 15px,#aad 0 16px,#99c 0 17px,#88c 0 18px,#99c 0 19px,#88c 0 20px,#99c 0 23px,#eee 0 24px,#aad 0 25px,#bbd 0 28px,#cce 0 29px,#dde 0 31px,#fee 0 32px,#eef 0 33px,#cce 0 34px,#eee 0 35px,#aad 0 37px,#99c 0 38px,#dde 0 40px,#bbd 0 41px,#fff 0 43px,#ebb 0 44px,#fee 0 45px,#eba 0 46px,#edd 0 47px,#fee 0 48px,#fff 0 49px,#dde 0 50px,#edd 0 51px,#eef 0 53px,#eee 0 54px,#fee 0 55px,#fff 0 57px,#ecc 0 58px,#ebb 0 59px,#ecc 0 60px,#fff 0 61px,#ecc 0 63px,#fee 0 64px,#fdd 0 65px,#fff 0 66px,#edd 0 67px,#eef 0 68px,#ecc 0 69px,#fff 0 70px)"></i><i style="top:88px;background:linear-gradient(90deg,#88c 0 1px,#77b 0 2px,#88c 0 3px,#dde 0 4px,#77b 0 6px,#88c 0 8px,#66b 0 10px,#77b 0 12px,#88c 0 16px,#dde 0 17px,#66b 0 18px,#77b 0 19px,#66b 0 20px,#77b 0 21px,#99c 0 22px,#88c 0 23px,#99c 0 24px,#88c 0 25px,#aad 0 26px,#99c 0 27px,#aad 0 28px,#99c 0 29px,#aad 0 30px,#ccd 0 31px,#eef 0 32px,#cce 0 33px,#bbd 0 35px,#dde 0 36px,#77b 0 37px,#99c 0 38px,#dde 0 39px,#77b 0 40px,#cce 0 41px,#dde 0 42px,#ebb 0 43px,#fdd 0 44px,#fff 0 45px,#eaa 0 46px,#fee 0 47px,#eef 0 48px,#dde 0 51px,#eee 0 52px,#bbd 0 53px,#dde 0 55px,#fff 0 56px,#dde 0 57px,#ebb 0 58px,#fff 0 59px,#fee 0 60px,#fdd 0 61px,#eef 0 62px,#fff 0 63px,#eee 0 64px,#eef 0 65px,#ecc 0 66px,#fff 0 67px,#edd 0 68px,#fee 0 69px,#fff 0 70px)"></i><i style="top:89px;background:linear-gradient(90deg,#99c 0 1px,#88c 0 2px,#99c 0 3px,#66b 0 4px,#dde 0 5px,#77b 0 6px,#88c 0 7px,#dde 0 8px,#77c 0 9px,#88c 0 12px,#99c 0 14px,#77c 0 15px,#88c 0 17px,#77c 0 18px,#99c 0 19px,#66b 0 20px,#77b 0 21px,#88c 0 22px,#99c 0 24px,#cce 0 25px,#bbd 0 26px,#99c 0 27px,#88c 0 28px,#bbd 0 30px,#dde 0 33px,#cce 0 35px,#88c 0 36px,#aad 0 37px,#88c 0 38px,#77b 0 39px,#99c 0 40px,#dde 0 41px,#fee 0 42px,#ecc 0 43px,#fee 0 45px,#eef 0 46px,#dde 0 47px,#fff 0 48px,#cce 0 49px,#dde 0 50px,#cce 0 51px,#eef 0 52px,#dde 0 55px,#fff 0 60px,#ecc 0 61px,#fdd 0 62px,#edd 0 63px,#fdd 0 64px,#ecc 0 65px,#eee 0 66px,#fff 0 67px,#eaa 0 68px,#ecc 0 69px,#fff 0 70px)"></i><i style="top:90px;background:linear-gradient(90deg,#aad 0 2px,#88c 0 3px,#77c 0 4px,#dde 0 5px,#88c 0 6px,#aad 0 7px,#88c 0 8px,#77c 0 9px,#88c 0 10px,#77c 0 12px,#88c 0 13px,#99c 0 17px,#77b 0 21px,#88c 0 23px,#bbd 0 24px,#99c 0 25px,#88c 0 26px,#99c 0 27px,#88c 0 28px,#aad 0 29px,#dde 0 30px,#bbd 0 31px,#ccd 0 32px,#cce 0 34px,#aad 0 35px,#99c 0 37px,#dde 0 38px,#99c 0 40px,#dde 0 41px,#cce 0 43px,#edd 0 44px,#fdd 0 45px,#eef 0 46px,#fff 0 47px,#dde 0 48px,#cce 0 49px,#ccd 0 50px,#eef 0 51px,#dde 0 53px,#bbd 0 54px,#fff 0 55px,#dde 0 57px,#bbd 0 58px,#fff 0 60px,#fee 0 61px,#fff 0 62px,#fdd 0 63px,#fff 0 65px,#fee 0 66px,#fff 0 67px,#dde 0 69px,#cce 0 70px)"></i><i style="top:91px;background:linear-gradient(90deg,#88c 0 1px,#aad 0 2px,#99c 0 3px,#88c 0 4px,#99c 0 6px,#bbd 0 7px,#99c 0 8px,#aad 0 9px,#bbd 0 10px,#aad 0 11px,#99c 0 12px,#aad 0 13px,#bbd 0 14px,#99c 0 16px,#dde 0 17px,#88c 0 19px,#99c 0 21px,#bbd 0 22px,#eee 0 23px,#aad 0 24px,#99c 0 25px,#eee 0 26px,#99c 0 27px,#ccd 0 28px,#cce 0 29px,#dde 0 30px,#cce 0 31px,#fff 0 33px,#cce 0 34px,#fff 0 35px,#99c 0 36px,#aad 0 37px,#bbd 0 38px,#aad 0 40px,#cce 0 41px,#edd 0 42px,#fff 0 43px,#edd 0 44px,#ebb 0 45px,#fee 0 46px,#eee 0 48px,#dde 0 50px,#fee 0 51px,#eee 0 52px,#dde 0 53px,#fff 0 54px,#eee 0 55px,#ecb 0 56px,#fff 0 57px,#fed 0 58px,#edd 0 59px,#fee 0 60px,#edd 0 61px,#fff 0 62px,#fee 0 63px,#aad 0 64px,#eef 0 65px,#fff 0 66px,#fee 0 67px,#eef 0 68px,#dde 0 69px,#fee 0 70px)"></i><i style="top:92px;background:linear-gradient(90deg,#aad 0 1px,#99c 0 2px,#99d 0 3px,#99c 0 6px,#bbd 0 7px,#99c 0 8px,#88c 0 9px,#aad 0 10px,#99c 0 11px,#aad 0 12px,#99c 0 13px,#aad 0 14px,#99c 0 16px,#bbd 0 17px,#88c 0 19px,#99c 0 20px,#88c 0 21px,#aad 0 24px,#bbd 0 26px,#aad 0 28px,#cce 0 29px,#ccd 0 31px,#dde 0 32px,#eef 0 33px,#bbd 0 36px,#aad 0 38px,#bbd 0 39px,#99c 0 40px,#fff 0 41px,#ecc 0 42px,#cce 0 43px,#edd 0 45px,#fff 0 46px,#fee 0 47px,#fff 0 48px,#eef 0 49px,#cce 0 50px,#dde 0 51px,#fee 0 52px,#fff 0 54px,#fee 0 55px,#fff 0 56px,#edd 0 57px,#fff 0 59px,#fdd 0 60px,#fee 0 61px,#fff 0 62px,#ecb 0 63px,#fee 0 64px,#ecb 0 65px,#fff 0 66px,#eee 0 67px,#fee 0 68px,#ecc 0 69px,#fee 0 70px)"></i><i style="top:93px;background:linear-gradient(90deg,#aad 0 1px,#88c 0 4px,#77c 0 5px,#66b 0 6px,#88c 0 7px,#99c 0 8px,#66b 0 9px,#77b 0 12px,#88c 0 13px,#99c 0 14px,#77b 0 15px,#aad 0 16px,#99c 0 17px,#77c 0 19px,#77b 0 20px,#88c 0 21px,#77c 0 22px,#99c 0 23px,#aad 0 24px,#88c 0 25px,#99c 0 28px,#99d 0 29px,#aad 0 31px,#bbd 0 33px,#99c 0 34px,#bbd 0 35px,#77b 0 36px,#88c 0 37px,#77c 0 38px,#77b 0 39px,#88c 0 40px,#eef 0 41px,#dde 0 42px,#cce 0 43px,#dde 0 44px,#eef 0 45px,#ecc 0 46px,#eef 0 48px,#dde 0 49px,#cce 0 51px,#dde 0 52px,#eef 0 53px,#dde 0 54px,#eef 0 55px,#fff 0 56px,#ccd 0 57px,#fff 0 59px,#eee 0 60px,#fee 0 61px,#dde 0 63px,#fee 0 64px,#fff 0 65px,#fee 0 66px,#fff 0 67px,#fdd 0 68px,#fee 0 69px,#eee 0 70px)"></i><i style="top:94px;background:linear-gradient(90deg,#bbd 0 1px,#aad 0 2px,#bbd 0 3px,#aad 0 4px,#99c 0 5px,#bbd 0 8px,#99c 0 10px,#bbd 0 11px,#aad 0 13px,#bbd 0 14px,#99c 0 15px,#cce 0 16px,#eee 0 17px,#aad 0 18px,#99c 0 21px,#fff 0 22px,#aad 0 23px,#dde 0 24px,#99c 0 25px,#cce 0 26px,#eee 0 27px,#cce 0 29px,#bbd 0 30px,#ccd 0 31px,#fff 0 32px,#dde 0 33px,#bbd 0 35px,#aad 0 37px,#bbd 0 38px,#dde 0 39px,#99c 0 40px,#eef 0 41px,#dde 0 42px,#fdd 0 43px,#fed 0 44px,#edd 0 45px,#fee 0 46px,#fed 0 47px,#eef 0 48px,#fee 0 49px,#eee 0 50px,#eef 0 51px,#fff 0 52px,#ebb 0 53px,#eef 0 54px,#dde 0 55px,#fff 0 56px,#ebb 0 59px,#fff 0 61px,#ecc 0 62px,#fee 0 63px,#fff 0 64px,#fdd 0 65px,#eaa 0 66px,#fee 0 67px,#eaa 0 68px,#fee 0 70px)"></i><i style="top:95px;background:linear-gradient(90deg,#88c 0 1px,#99c 0 3px,#77b 0 4px,#99c 0 5px,#88c 0 6px,#99d 0 7px,#88c 0 8px,#77b 0 9px,#88c 0 10px,#77b 0 12px,#99c 0 14px,#88c 0 15px,#99c 0 16px,#88c 0 17px,#77c 0 18px,#77b 0 19px,#88c 0 22px,#dde 0 23px,#bbd 0 24px,#88c 0 25px,#aad 0 26px,#99c 0 28px,#aad 0 30px,#88c 0 31px,#bbd 0 32px,#99c 0 34px,#aad 0 35px,#77b 0 36px,#88c 0 37px,#77b 0 38px,#88c 0 40px,#cce 0 41px,#eef 0 42px,#ecc 0 43px,#fee 0 45px,#fff 0 46px,#eef 0 48px,#dde 0 50px,#fff 0 51px,#eee 0 52px,#cce 0 53px,#bbd 0 54px,#fff 0 55px,#fee 0 56px,#dde 0 57px,#fff 0 58px,#eef 0 59px,#ecc 0 60px,#edd 0 61px,#ebb 0 62px,#fee 0 63px,#ccd 0 64px,#fdd 0 65px,#ecc 0 66px,#cce 0 67px,#fee 0 69px,#eee 0 70px)"></i><i style="top:96px;background:linear-gradient(90deg,#dde 0 1px,#88c 0 2px,#99c 0 3px,#66b 0 4px,#99c 0 5px,#66b 0 6px,#88c 0 8px,#77b 0 9px,#88c 0 11px,#66b 0 12px,#88c 0 13px,#dde 0 15px,#88c 0 16px,#bbd 0 17px,#cce 0 18px,#88c 0 19px,#cce 0 20px,#dde 0 21px,#88c 0 23px,#aad 0 24px,#88c 0 25px,#99c 0 27px,#88c 0 28px,#aad 0 29px,#99c 0 30px,#aad 0 31px,#cce 0 32px,#99c 0 33px,#88c 0 34px,#bbd 0 35px,#77b 0 36px,#88c 0 38px,#77c 0 39px,#77b 0 40px,#bbd 0 42px,#dde 0 43px,#fff 0 44px,#ecc 0 45px,#eee 0 46px,#dde 0 47px,#fff 0 48px,#bbd 0 49px,#dde 0 50px,#cce 0 51px,#dde 0 52px,#fff 0 53px,#bbd 0 54px,#fff 0 55px,#edd 0 56px,#fee 0 57px,#eef 0 58px,#dde 0 59px,#eef 0 60px,#fdd 0 62px,#fee 0 63px,#eef 0 64px,#dde 0 65px,#edd 0 66px,#eef 0 67px,#eee 0 68px,#ecc 0 69px,#fdd 0 70px)"></i><i style="top:97px;background:linear-gradient(90deg,#66b 0 2px,#55a 0 3px,#44a 0 4px,#55b 0 5px,#55a 0 6px,#66b 0 7px,#55b 0 8px,#44a 0 9px,#55a 0 10px,#66b 0 11px,#cce 0 12px,#55b 0 13px,#66b 0 14px,#55a 0 15px,#77b 0 16px,#88c 0 17px,#44a 0 18px,#55a 0 19px,#66b 0 20px,#44a 0 21px,#66b 0 23px,#88c 0 24px,#44a 0 25px,#88c 0 26px,#66b 0 27px,#88c 0 28px,#aad 0 29px,#88c 0 30px,#77b 0 31px,#99c 0 32px,#aad 0 33px,#77b 0 34px,#88c 0 35px,#44a 0 37px,#77b 0 38px,#55b 0 40px,#aad 0 41px,#eef 0 43px,#ebb 0 44px,#fee 0 45px,#fff 0 46px,#ecc 0 47px,#fee 0 48px,#cce 0 49px,#aad 0 50px,#cce 0 51px,#dde 0 52px,#eee 0 53px,#dde 0 54px,#eee 0 55px,#fff 0 56px,#fdd 0 57px,#edd 0 59px,#fdd 0 61px,#fee 0 62px,#fdd 0 63px,#fee 0 64px,#fff 0 65px,#edd 0 66px,#fdd 0 67px,#fff 0 68px,#dde 0 69px,#fff 0 70px)"></i><i style="top:98px;background:linear-gradient(90deg,#88c 0 1px,#77b 0 2px,#88c 0 3px,#55a 0 4px,#77b 0 5px,#88c 0 7px,#77b 0 8px,#77c 0 9px,#88c 0 14px,#77b 0 15px,#99c 0 16px,#88c 0 18px,#77c 0 19px,#55b 0 20px,#77b 0 21px,#66b 0 22px,#77c 0 23px,#88c 0 24px,#77b 0 25px,#99c 0 26px,#77b 0 27px,#88c 0 28px,#aad 0 30px,#99c 0 32px,#aad 0 33px,#99c 0 35px,#66b 0 36px,#77b 0 37px,#88c 0 38px,#77c 0 40px,#bbd 0 41px,#dde 0 42px,#cce 0 43px,#fdd 0 44px,#edd 0 45px,#dde 0 46px,#cce 0 47px,#eee 0 48px,#cce 0 49px,#fff 0 50px,#bbd 0 51px,#eef 0 52px,#bbd 0 54px,#fff 0 57px,#eef 0 58px,#cce 0 59px,#eef 0 60px,#fff 0 61px,#dde 0 62px,#eee 0 64px,#bbd 0 65px,#fee 0 66px,#fff 0 67px,#dde 0 68px,#fee 0 70px)"></i><i style="top:99px;background:linear-gradient(90deg,#44a 0 2px,#55b 0 3px,#44a 0 4px,#66b 0 5px,#44a 0 6px,#55b 0 7px,#44a 0 8px,#33a 0 9px,#55b 0 10px,#44a 0 12px,#66b 0 13px,#55b 0 14px,#44a 0 15px,#66b 0 17px,#33a 0 18px,#44a 0 21px,#66b 0 22px,#55b 0 23px,#66b 0 24px,#55b 0 25px,#77c 0 26px,#55b 0 27px,#88c 0 30px,#cce 0 31px,#bbd 0 32px,#88c 0 33px,#66b 0 34px,#88c 0 35px,#33a 0 36px,#44a 0 37px,#cce 0 38px,#44a 0 40px,#cce 0 41px,#eef 0 42px,#fee 0 44px,#ebb 0 45px,#eee 0 46px,#edd 0 47px,#fff 0 48px,#ccd 0 49px,#aad 0 51px,#eee 0 52px,#bbd 0 53px,#88c 0 54px,#edd 0 55px,#cce 0 56px,#dde 0 57px,#fff 0 58px,#fee 0 59px,#fed 0 60px,#fdd 0 61px,#fff 0 63px,#ecc 0 64px,#fff 0 65px,#cce 0 66px,#fff 0 68px,#fee 0 69px,#cce 0 70px)"></i><i style="top:100px;background:linear-gradient(90deg,#77b 0 1px,#66b 0 2px,#55b 0 3px,#44a 0 5px,#55a 0 6px,#55b 0 7px,#55a 0 8px,#33a 0 9px,#44a 0 10px,#55a 0 12px,#77b 0 13px,#88c 0 14px,#44a 0 15px,#55b 0 16px,#66b 0 17px,#44a 0 21px,#55b 0 22px,#66b 0 23px,#77b 0 24px,#55b 0 25px,#cce 0 26px,#88c 0 27px,#77c 0 28px,#88c 0 29px,#66b 0 31px,#99c 0 32px,#88c 0 33px,#66b 0 34px,#88c 0 35px,#44a 0 36px,#77b 0 37px,#44a 0 40px,#99c 0 41px,#dde 0 42px,#eef 0 43px,#fdd 0 44px,#fff 0 45px,#fee 0 46px,#eef 0 47px,#dde 0 49px,#aad 0 50px,#eef 0 51px,#cce 0 53px,#dde 0 54px,#fee 0 55px,#eef 0 57px,#fed 0 58px,#fee 0 60px,#fff 0 61px,#fee 0 62px,#fff 0 63px,#fee 0 64px,#dde 0 65px,#eef 0 66px,#dde 0 67px,#fff 0 68px,#dde 0 69px,#edd 0 70px)"></i><i style="top:101px;background:linear-gradient(90deg,#aad 0 2px,#99c 0 3px,#77b 0 4px,#77c 0 5px,#77b 0 6px,#99c 0 7px,#aad 0 8px,#77c 0 9px,#aad 0 10px,#99c 0 11px,#88c 0 13px,#aad 0 14px,#77c 0 15px,#88c 0 16px,#eee 0 17px,#88c 0 19px,#77c 0 20px,#88c 0 21px,#99c 0 23px,#aad 0 24px,#dde 0 25px,#aad 0 27px,#bbd 0 28px,#cce 0 29px,#99c 0 30px,#bbd 0 31px,#aad 0 32px,#cce 0 33px,#99c 0 34px,#aad 0 35px,#88c 0 37px,#99c 0 38px,#88c 0 40px,#fff 0 41px,#eef 0 42px,#eee 0 43px,#fff 0 44px,#edd 0 45px,#fff 0 46px,#fee 0 47px,#ecc 0 48px,#dde 0 50px,#fff 0 51px,#dde 0 52px,#cce 0 53px,#eef 0 54px,#fee 0 55px,#fff 0 57px,#eef 0 58px,#ecc 0 59px,#fee 0 62px,#edd 0 63px,#ebb 0 64px,#fff 0 65px,#fee 0 66px,#dde 0 67px,#fff 0 68px,#fee 0 69px,#fff 0 70px)"></i><i style="top:102px;background:linear-gradient(90deg,#77b 0 1px,#88c 0 4px,#55b 0 5px,#66b 0 6px,#88c 0 7px,#77c 0 8px,#77b 0 9px,#88c 0 13px,#77b 0 15px,#88c 0 17px,#77b 0 21px,#88c 0 22px,#99c 0 24px,#dde 0 25px,#99c 0 26px,#aad 0 27px,#88c 0 29px,#99c 0 31px,#ccd 0 32px,#99c 0 33px,#88c 0 34px,#aad 0 35px,#88c 0 37px,#77c 0 38px,#88c 0 39px,#99c 0 40px,#dde 0 41px,#aad 0 42px,#fff 0 43px,#fdd 0 44px,#eef 0 45px,#cce 0 46px,#eef 0 47px,#cce 0 49px,#aad 0 50px,#bbd 0 51px,#eef 0 52px,#cce 0 53px,#bbd 0 55px,#fff 0 56px,#dde 0 57px,#eef 0 60px,#fff 0 62px,#eee 0 63px,#dde 0 64px,#bbd 0 65px,#fff 0 67px,#eee 0 68px,#bbd 0 69px,#fee 0 70px)"></i><i style="top:103px;background:linear-gradient(90deg,#33a 0 10px,#aad 0 11px,#33a 0 22px,#44a 0 23px,#33a 0 25px,#44a 0 26px,#33a 0 29px,#44a 0 30px,#33a 0 31px,#66b 0 32px,#33a 0 34px,#55a 0 35px,#33a 0 41px,#55a 0 42px,#44a 0 43px,#33a 0 46px,#88c 0 47px,#aad 0 48px,#77c 0 49px,#77b 0 50px,#99c 0 51px,#88c 0 52px,#aad 0 53px,#99c 0 54px,#88c 0 55px,#aad 0 56px,#99c 0 57px,#dde 0 59px,#99c 0 61px,#dde 0 62px,#88c 0 63px,#dde 0 64px,#77c 0 65px,#88c 0 66px,#77c 0 67px,#88c 0 68px,#99c 0 69px,#aad 0 70px)"></i><i style="top:104px;background:linear-gradient(90deg,#33a 0 6px,#cce 0 7px,#33a 0 15px,#44a 0 17px,#33a 0 18px,#aad 0 19px,#33a 0 22px,#44a 0 24px,#33a 0 25px,#44a 0 26px,#55a 0 28px,#44a 0 29px,#55a 0 30px,#44a 0 31px,#66b 0 32px,#55b 0 33px,#33a 0 34px,#55a 0 35px,#33a 0 40px,#44a 0 42px,#55a 0 43px,#44a 0 46px,#88c 0 47px,#99c 0 48px,#dde 0 49px,#99c 0 50px,#aad 0 51px,#99c 0 52px,#bbd 0 53px,#aad 0 56px,#bbd 0 57px,#99c 0 59px,#aad 0 60px,#88c 0 61px,#99c 0 62px,#77b 0 63px,#dde 0 64px,#99c 0 65px,#88c 0 67px,#99c 0 68px,#99d 0 69px,#99c 0 70px)"></i><i style="top:105px;background:linear-gradient(90deg,#33a 0 2px,#bbd 0 3px,#33a 0 23px,#44a 0 24px,#33a 0 27px,#44a 0 29px,#33a 0 30px,#44a 0 31px,#55b 0 32px,#44a 0 33px,#33a 0 34px,#66b 0 35px,#bbd 0 36px,#aad 0 37px,#33a 0 39px,#bbd 0 40px,#33a 0 41px,#44a 0 44px,#33a 0 45px,#44a 0 46px,#88c 0 47px,#99c 0 50px,#aad 0 51px,#88c 0 52px,#aad 0 53px,#88c 0 54px,#99c 0 56px,#88c 0 57px,#dde 0 58px,#99c 0 59px,#dde 0 60px,#99c 0 61px,#88c 0 64px,#aad 0 65px,#88c 0 68px,#dde 0 69px,#88c 0 70px)"></i><i style="top:106px;background:linear-gradient(90deg,#66b 0 1px,#55a 0 2px,#66b 0 3px,#33a 0 4px,#ccd 0 5px,#33a 0 6px,#66b 0 7px,#55a 0 8px,#33a 0 9px,#cce 0 10px,#33a 0 11px,#ccd 0 12px,#55a 0 13px,#66b 0 14px,#44a 0 15px,#66b 0 16px,#55a 0 17px,#44a 0 18px,#55b 0 19px,#55a 0 21px,#66b 0 24px,#44a 0 25px,#77b 0 26px,#66b 0 28px,#77b 0 29px,#55b 0 30px,#66b 0 31px,#88c 0 33px,#55a 0 34px,#77b 0 35px,#66b 0 36px,#33a 0 37px,#66b 0 38px,#55b 0 39px,#55a 0 40px,#66b 0 41px,#88c 0 42px,#cce 0 43px,#77b 0 45px,#77c 0 46px,#99c 0 47px,#aad 0 52px,#bbd 0 54px,#aad 0 58px,#bbd 0 59px,#cce 0 60px,#bbd 0 61px,#99d 0 62px,#aad 0 64px,#bbd 0 66px,#aad 0 67px,#dde 0 69px,#aad 0 70px)"></i><i style="top:107px;background:linear-gradient(90deg,#33a 0 16px,#bbd 0 17px,#33a 0 23px,#44a 0 24px,#33a 0 25px,#44a 0 26px,#33a 0 27px,#44a 0 29px,#33a 0 31px,#55b 0 32px,#66b 0 33px,#33a 0 34px,#44a 0 35px,#33a 0 41px,#44a 0 42px,#55a 0 43px,#33a 0 46px,#77b 0 47px,#99c 0 48px,#88c 0 49px,#99c 0 50px,#88c 0 52px,#aad 0 53px,#dde 0 54px,#88c 0 55px,#bbd 0 56px,#99c 0 57px,#77c 0 58px,#99c 0 61px,#77b 0 62px,#99c 0 63px,#77b 0 64px,#88c 0 68px,#99c 0 69px,#88c 0 70px)"></i><i style="top:108px;background:linear-gradient(90deg,#88c 0 2px,#99c 0 3px,#77b 0 4px,#88c 0 6px,#77b 0 7px,#88c 0 8px,#77b 0 9px,#99d 0 10px,#99c 0 12px,#aad 0 13px,#99c 0 15px,#cce 0 16px,#ccd 0 17px,#bbd 0 20px,#77c 0 21px,#aad 0 22px,#bbd 0 23px,#cce 0 24px,#bbd 0 25px,#eef 0 26px,#aad 0 27px,#99c 0 28px,#cce 0 29px,#aad 0 30px,#bbd 0 31px,#cce 0 32px,#99c 0 33px,#88c 0 34px,#dde 0 35px,#55a 0 36px,#66b 0 38px,#55b 0 39px,#cce 0 40px,#33a 0 41px,#55a 0 42px,#33a 0 45px,#88c 0 46px,#dde 0 47px,#fff 0 48px,#ecc 0 49px,#ebb 0 50px,#ecc 0 51px,#eaa 0 52px,#ecc 0 53px,#fee 0 54px,#fed 0 55px,#ebb 0 56px,#dde 0 57px,#bbd 0 58px,#eee 0 59px,#99c 0 60px,#dde 0 61px,#99c 0 62px,#aad 0 63px,#cce 0 64px,#fff 0 65px,#eee 0 66px,#bbd 0 67px,#eee 0 68px,#dde 0 69px,#ccd 0 70px)"></i><i style="top:109px;background:linear-gradient(90deg,#aad 0 3px,#77c 0 4px,#88c 0 5px,#99c 0 6px,#aad 0 7px,#bbd 0 8px,#aad 0 9px,#bbd 0 11px,#eee 0 12px,#aad 0 13px,#dde 0 14px,#aad 0 15px,#cce 0 16px,#dde 0 17px,#aad 0 18px,#dde 0 19px,#aad 0 20px,#cce 0 21px,#bbd 0 23px,#fee 0 24px,#bbd 0 25px,#eee 0 26px,#cce 0 28px,#dde 0 30px,#aad 0 31px,#cce 0 33px,#99c 0 34px,#aad 0 35px,#77c 0 36px,#88c 0 38px,#77b 0 39px,#88c 0 40px,#77c 0 41px,#77b 0 42px,#dde 0 43px,#77b 0 44px,#66b 0 45px,#99c 0 46px,#fff 0 47px,#edd 0 48px,#eaa 0 49px,#ecc 0 50px,#ebb 0 52px,#d99 0 53px,#eaa 0 54px,#edd 0 55px,#fff 0 57px,#cce 0 59px,#bbd 0 60px,#fff 0 61px,#cce 0 63px,#dde 0 64px,#fff 0 65px,#eef 0 66px,#dde 0 67px,#fff 0 68px,#fee 0 69px,#aad 0 70px)"></i><i style="top:110px;background:linear-gradient(90deg,#99c 0 1px,#aad 0 3px,#99c 0 5px,#aad 0 6px,#99c 0 7px,#bbd 0 10px,#99c 0 11px,#aad 0 12px,#bbd 0 14px,#aad 0 15px,#bbd 0 16px,#fff 0 17px,#bbd 0 18px,#aad 0 19px,#bbd 0 20px,#dde 0 21px,#eee 0 22px,#cce 0 23px,#eef 0 24px,#ccd 0 25px,#eee 0 26px,#eef 0 27px,#dde 0 29px,#bbd 0 31px,#aad 0 32px,#bbd 0 34px,#aad 0 35px,#77c 0 36px,#77b 0 37px,#99c 0 38px,#88c 0 39px,#77b 0 41px,#99c 0 42px,#66b 0 43px,#cce 0 44px,#44a 0 45px,#bbd 0 46px,#fff 0 47px,#fee 0 48px,#edd 0 49px,#eba 0 50px,#eaa 0 51px,#ecc 0 53px,#fee 0 54px,#ecc 0 55px,#dde 0 56px,#eef 0 57px,#dde 0 58px,#eef 0 59px,#bbd 0 60px,#fff 0 61px,#cce 0 62px,#eef 0 63px,#dde 0 64px,#cce 0 65px,#aad 0 66px,#fee 0 67px,#fff 0 68px,#dde 0 69px,#bbd 0 70px)"></i><i style="top:111px;background:linear-gradient(90deg,#99c 0 1px,#aad 0 2px,#99c 0 3px,#dde 0 4px,#99c 0 6px,#ccd 0 7px,#88c 0 8px,#dde 0 9px,#88c 0 11px,#bbd 0 12px,#aad 0 13px,#bbd 0 16px,#aad 0 17px,#bbd 0 21px,#cce 0 22px,#bbd 0 24px,#cce 0 25px,#eef 0 26px,#dde 0 27px,#aad 0 28px,#cce 0 29px,#aad 0 31px,#bbd 0 32px,#cce 0 33px,#99c 0 35px,#44a 0 36px,#55b 0 38px,#88c 0 39px,#55b 0 40px,#55a 0 41px,#66b 0 42px,#55b 0 43px,#44a 0 44px,#33a 0 45px,#99c 0 46px,#eef 0 47px,#eaa 0 48px,#fee 0 49px,#d87 0 50px,#fdd 0 51px,#eaa 0 52px,#ecc 0 53px,#da9 0 54px,#eba 0 55px,#dde 0 56px,#eee 0 57px,#dde 0 59px,#bbd 0 60px,#dde 0 61px,#cce 0 62px,#dde 0 64px,#eee 0 65px,#dde 0 66px,#eee 0 67px,#fff 0 68px,#99d 0 69px,#fff 0 70px)"></i><i style="top:112px;background:linear-gradient(90deg,#aad 0 2px,#bbd 0 3px,#99c 0 4px,#aad 0 8px,#dde 0 9px,#aad 0 11px,#bbd 0 12px,#eee 0 13px,#aad 0 14px,#dde 0 15px,#bbd 0 16px,#dde 0 17px,#bbd 0 18px,#eee 0 19px,#dde 0 20px,#bbd 0 22px,#eee 0 23px,#cce 0 24px,#bbd 0 25px,#dde 0 26px,#eee 0 27px,#aad 0 28px,#cce 0 29px,#aad 0 30px,#eee 0 31px,#dde 0 32px,#bbd 0 33px,#aad 0 34px,#99c 0 35px,#77c 0 36px,#88c 0 38px,#99c 0 39px,#88c 0 40px,#77c 0 41px,#88c 0 42px,#77b 0 43px,#55b 0 44px,#66b 0 45px,#bbd 0 46px,#dde 0 48px,#ebb 0 49px,#fdd 0 50px,#edd 0 51px,#ebb 0 52px,#fff 0 53px,#ecc 0 54px,#edd 0 55px,#fee 0 56px,#fff 0 57px,#cce 0 58px,#ccd 0 59px,#bbd 0 60px,#eee 0 61px,#ccd 0 63px,#dde 0 64px,#cce 0 65px,#eef 0 66px,#dde 0 67px,#cce 0 69px,#dde 0 70px)"></i><i style="top:113px;background:linear-gradient(90deg,#88c 0 2px,#99c 0 3px,#66b 0 5px,#77b 0 6px,#99c 0 7px,#88c 0 9px,#99c 0 11px,#88c 0 12px,#aad 0 13px,#eef 0 14px,#aad 0 15px,#99c 0 16px,#bbd 0 17px,#77c 0 18px,#dde 0 19px,#aad 0 21px,#bbd 0 25px,#dde 0 26px,#bbd 0 27px,#cce 0 28px,#bbd 0 29px,#ccd 0 30px,#99c 0 32px,#aad 0 33px,#66b 0 34px,#99c 0 35px,#55a 0 37px,#66b 0 38px,#55b 0 39px,#55a 0 40px,#44a 0 41px,#66b 0 42px,#55b 0 43px,#33a 0 45px,#99c 0 46px,#eee 0 47px,#ebb 0 48px,#eaa 0 49px,#d99 0 50px,#d88 0 52px,#d99 0 53px,#fdd 0 54px,#edd 0 55px,#fed 0 56px,#fff 0 57px,#eef 0 59px,#dde 0 61px,#bbd 0 62px,#cce 0 63px,#eef 0 64px,#fff 0 65px,#cce 0 66px,#eef 0 68px,#dde 0 69px,#fff 0 70px)"></i><i style="top:114px;background:linear-gradient(90deg,#99c 0 3px,#77c 0 4px,#99c 0 5px,#88c 0 6px,#99c 0 7px,#dde 0 8px,#77c 0 9px,#aad 0 10px,#99c 0 11px,#77b 0 12px,#bbd 0 15px,#aad 0 16px,#dde 0 17px,#bbd 0 18px,#cce 0 19px,#99c 0 20px,#88c 0 21px,#aad 0 22px,#bbd 0 23px,#cce 0 28px,#99c 0 29px,#bbd 0 30px,#cce 0 31px,#bbd 0 32px,#cce 0 33px,#77c 0 34px,#aad 0 35px,#55b 0 36px,#66b 0 37px,#55b 0 38px,#66b 0 40px,#77b 0 41px,#66b 0 43px,#44a 0 44px,#33a 0 45px,#99c 0 46px,#eee 0 47px,#dde 0 48px,#ebb 0 50px,#eaa 0 51px,#edd 0 52px,#ebb 0 53px,#ecc 0 54px,#fee 0 55px,#eef 0 57px,#bbd 0 59px,#cce 0 60px,#aad 0 62px,#dde 0 63px,#bbd 0 64px,#dde 0 65px,#bbd 0 67px,#99c 0 68px,#fee 0 69px,#dde 0 70px)"></i><i style="top:115px;background:linear-gradient(90deg,#dde 0 1px,#bbd 0 2px,#dde 0 3px,#99c 0 4px,#bbd 0 7px,#cce 0 8px,#99d 0 9px,#cce 0 11px,#bbd 0 12px,#dde 0 14px,#eee 0 15px,#fff 0 16px,#eee 0 17px,#cce 0 18px,#fee 0 19px,#fff 0 20px,#eef 0 21px,#dde 0 22px,#eee 0 23px,#eef 0 24px,#fff 0 26px,#dde 0 27px,#eef 0 28px,#dde 0 29px,#fff 0 30px,#dde 0 31px,#eef 0 32px,#dde 0 33px,#cce 0 34px,#dde 0 35px,#aad 0 39px,#ccd 0 40px,#aad 0 41px,#bbd 0 43px,#99c 0 45px,#dde 0 46px,#fee 0 47px,#ecc 0 48px,#d88 0 49px,#d99 0 50px,#ebb 0 51px,#ecc 0 53px,#ebb 0 55px,#fee 0 57px,#eef 0 58px,#eee 0 59px,#fdd 0 60px,#eef 0 61px,#fff 0 62px,#edd 0 63px,#bbd 0 64px,#edd 0 65px,#fee 0 67px,#eef 0 68px,#fff 0 70px)"></i><i style="top:116px;background:linear-gradient(90deg,#aad 0 1px,#99d 0 2px,#99c 0 3px,#77b 0 4px,#99c 0 7px,#99d 0 8px,#99c 0 9px,#aad 0 10px,#99d 0 11px,#bbd 0 13px,#eee 0 14px,#99d 0 15px,#aad 0 16px,#bbd 0 18px,#eef 0 19px,#88c 0 20px,#bbd 0 21px,#dde 0 22px,#bbd 0 23px,#eef 0 24px,#aad 0 25px,#dde 0 26px,#cce 0 27px,#bbd 0 29px,#ccd 0 30px,#eef 0 31px,#cce 0 32px,#aad 0 33px,#88c 0 34px,#aad 0 35px,#66b 0 37px,#99c 0 38px,#66b 0 39px,#77b 0 41px,#66b 0 43px,#44a 0 45px,#88c 0 46px,#fdd 0 47px,#bbd 0 48px,#fee 0 49px,#ecc 0 51px,#ebb 0 52px,#edd 0 53px,#fee 0 55px,#edd 0 56px,#cce 0 57px,#bbd 0 58px,#eee 0 59px,#cce 0 60px,#99c 0 61px,#bbd 0 63px,#eee 0 64px,#ccd 0 65px,#bbd 0 66px,#cce 0 67px,#fff 0 68px,#dde 0 69px,#bbd 0 70px)"></i><i style="top:117px;background:linear-gradient(90deg,#cce 0 1px,#ccd 0 2px,#bbd 0 3px,#aad 0 4px,#ccd 0 5px,#99d 0 6px,#cce 0 7px,#bbd 0 8px,#cce 0 9px,#eef 0 10px,#ccd 0 11px,#dde 0 12px,#cce 0 13px,#eef 0 14px,#bbd 0 15px,#eef 0 16px,#dde 0 17px,#aad 0 18px,#cce 0 20px,#bbd 0 21px,#dde 0 22px,#eef 0 23px,#eee 0 24px,#dde 0 25px,#cce 0 26px,#fff 0 27px,#dde 0 29px,#eef 0 30px,#dde 0 31px,#cce 0 32px,#dde 0 33px,#bbd 0 34px,#cce 0 35px,#aad 0 36px,#88c 0 37px,#99c 0 40px,#aad 0 42px,#99c 0 44px,#88c 0 45px,#bbd 0 46px,#fee 0 47px,#edd 0 48px,#eaa 0 49px,#ebb 0 50px,#ecc 0 51px,#eaa 0 53px,#ebb 0 55px,#d99 0 56px,#cce 0 57px,#dde 0 58px,#fff 0 59px,#fdd 0 60px,#fee 0 61px,#dde 0 62px,#aad 0 63px,#dde 0 64px,#fff 0 67px,#dde 0 70px)"></i><i style="top:118px;background:linear-gradient(90deg,#99c 0 2px,#aad 0 3px,#88c 0 4px,#99c 0 7px,#bbd 0 8px,#99c 0 9px,#eee 0 10px,#aad 0 11px,#bbd 0 12px,#aad 0 13px,#cce 0 14px,#aad 0 16px,#dde 0 17px,#bbd 0 18px,#ccd 0 19px,#eef 0 20px,#aad 0 21px,#cce 0 22px,#eef 0 23px,#eee 0 24px,#dde 0 27px,#cce 0 28px,#ccd 0 29px,#bbd 0 30px,#cce 0 31px,#eef 0 32px,#aad 0 33px,#99c 0 34px,#aad 0 35px,#66b 0 38px,#77b 0 42px,#55b 0 43px,#44a 0 44px,#33a 0 45px,#99c 0 46px,#dde 0 47px,#edd 0 48px,#d99 0 49px,#d88 0 51px,#eaa 0 52px,#ecc 0 53px,#d99 0 54px,#fee 0 55px,#eef 0 56px,#dde 0 59px,#cce 0 60px,#bbd 0 61px,#eee 0 62px,#dde 0 63px,#eee 0 64px,#dde 0 65px,#fee 0 66px,#fff 0 67px,#fee 0 68px,#dde 0 69px,#eef 0 70px)"></i><i style="top:119px;background:linear-gradient(90deg,#aad 0 1px,#bbd 0 3px,#aad 0 4px,#99c 0 5px,#aad 0 7px,#99c 0 8px,#bbd 0 10px,#cce 0 11px,#aad 0 13px,#bbd 0 14px,#cce 0 15px,#eef 0 16px,#dde 0 17px,#cce 0 18px,#ccd 0 19px,#dde 0 24px,#eee 0 25px,#eef 0 26px,#eee 0 27px,#cce 0 28px,#eee 0 29px,#dde 0 30px,#aad 0 31px,#cce 0 32px,#bbd 0 33px,#aad 0 34px,#eee 0 35px,#77b 0 36px,#77c 0 37px,#88c 0 38px,#99c 0 39px,#88c 0 40px,#77b 0 41px,#88c 0 42px,#dde 0 43px,#88c 0 44px,#77b 0 45px,#bbd 0 46px,#fff 0 47px,#fdd 0 48px,#ebb 0 49px,#da9 0 50px,#ecc 0 51px,#eaa 0 52px,#ebb 0 53px,#ecc 0 54px,#ecb 0 55px,#fee 0 56px,#fff 0 57px,#dde 0 59px,#fff 0 61px,#cce 0 62px,#dde 0 65px,#bbd 0 66px,#fff 0 68px,#dde 0 69px,#fff 0 70px)"></i><i style="top:120px;background:linear-gradient(90deg,#cce 0 1px,#bbd 0 2px,#dde 0 3px,#aad 0 4px,#bbd 0 5px,#cce 0 7px,#dde 0 8px,#cce 0 10px,#bbd 0 11px,#dde 0 14px,#eee 0 15px,#eef 0 16px,#bbd 0 17px,#dde 0 18px,#eef 0 19px,#cce 0 20px,#fff 0 23px,#dde 0 25px,#eee 0 27px,#eef 0 28px,#fff 0 29px,#cce 0 30px,#fff 0 31px,#cce 0 33px,#bbd 0 34px,#eef 0 35px,#aad 0 36px,#bbd 0 38px,#aad 0 42px,#99c 0 43px,#88c 0 45px,#cce 0 46px,#ecc 0 48px,#ebb 0 50px,#fee 0 51px,#da9 0 52px,#edd 0 53px,#fdd 0 54px,#fee 0 55px,#ebb 0 56px,#bbd 0 57px,#eee 0 58px,#fff 0 60px,#fee 0 61px,#fff 0 62px,#dde 0 64px,#fee 0 65px,#dde 0 66px,#edd 0 67px,#eee 0 68px,#fff 0 69px,#fee 0 70px)"></i><i style="top:121px;background:linear-gradient(90deg,#44a 0 1px,#33a 0 2px,#44a 0 3px,#33a 0 4px,#44a 0 5px,#33a 0 6px,#55a 0 7px,#33a 0 12px,#55a 0 14px,#33a 0 15px,#44a 0 16px,#55b 0 17px,#44a 0 21px,#66b 0 22px,#55b 0 23px,#dde 0 24px,#44a 0 25px,#77b 0 27px,#66b 0 28px,#77b 0 29px,#88c 0 30px,#77b 0 31px,#88c 0 32px,#77b 0 33px,#66b 0 34px,#77b 0 35px,#44a 0 36px,#55b 0 37px,#66b 0 38px,#33a 0 39px,#55a 0 40px,#44a 0 41px,#55a 0 42px,#33a 0 45px,#88c 0 46px,#dde 0 47px,#fff 0 48px,#ebb 0 49px,#d88 0 50px,#da9 0 51px,#ecc 0 52px,#eaa 0 53px,#ecc 0 54px,#fee 0 55px,#eee 0 56px,#eef 0 57px,#bbd 0 58px,#eee 0 59px,#99c 0 60px,#bbd 0 62px,#88c 0 63px,#cce 0 64px,#aad 0 65px,#dde 0 67px,#eef 0 68px,#dde 0 70px)"></i><i style="top:122px;background:linear-gradient(90deg,#33a 0 2px,#44a 0 3px,#33a 0 6px,#44a 0 7px,#33a 0 12px,#55a 0 14px,#33a 0 15px,#55a 0 16px,#66b 0 17px,#33a 0 18px,#55a 0 19px,#33a 0 22px,#55b 0 23px,#cce 0 24px,#44a 0 25px,#88c 0 27px,#77b 0 28px,#77c 0 29px,#77b 0 30px,#55b 0 31px,#aad 0 32px,#66b 0 34px,#77b 0 35px,#44a 0 37px,#55a 0 39px,#66b 0 40px,#55a 0 41px,#55b 0 42px,#33a 0 43px,#44a 0 44px,#33a 0 45px,#66b 0 46px,#aad 0 47px,#fee 0 48px,#ecc 0 49px,#edd 0 50px,#d98 0 51px,#eaa 0 52px,#fee 0 53px,#fff 0 54px,#dde 0 55px,#cce 0 56px,#aad 0 57px,#99c 0 58px,#eef 0 59px,#aad 0 60px,#cce 0 61px,#99d 0 62px,#bbd 0 63px,#99c 0 64px,#ccd 0 65px,#bbd 0 66px,#ccd 0 67px,#bbd 0 68px,#fff 0 69px,#cce 0 70px)"></i><i style="top:123px;background:linear-gradient(90deg,#66b 0 1px,#cce 0 2px,#44a 0 3px,#33a 0 4px,#55a 0 5px,#44a 0 6px,#66b 0 7px,#55b 0 8px,#55a 0 9px,#66b 0 10px,#55a 0 11px,#55b 0 12px,#cce 0 13px,#88c 0 14px,#55b 0 15px,#66b 0 16px,#77c 0 17px,#44a 0 18px,#66b 0 20px,#55a 0 21px,#77b 0 23px,#88c 0 24px,#66b 0 25px,#88c 0 26px,#66b 0 27px,#88c 0 29px,#99c 0 30px,#88c 0 31px,#99c 0 33px,#88c 0 34px,#77c 0 35px,#66b 0 36px,#55b 0 37px,#66b 0 39px,#55b 0 40px,#66b 0 41px,#77b 0 42px,#66b 0 43px,#55a 0 44px,#55b 0 45px,#88c 0 46px,#fff 0 47px,#fee 0 48px,#eaa 0 49px,#d99 0 50px,#ebb 0 51px,#eaa 0 52px,#ebb 0 53px,#ecc 0 54px,#fee 0 55px,#dde 0 56px,#eee 0 57px,#dde 0 58px,#aad 0 59px,#eef 0 61px,#aad 0 63px,#dde 0 64px,#ccd 0 65px,#aad 0 66px,#dde 0 67px,#fff 0 68px,#aad 0 69px,#eef 0 70px)"></i><i style="top:124px;background:linear-gradient(90deg,#55b 0 1px,#66b 0 2px,#55a 0 3px,#33a 0 4px,#44a 0 6px,#55b 0 8px,#55a 0 9px,#55b 0 10px,#66b 0 13px,#77b 0 15px,#77c 0 16px,#88c 0 17px,#66b 0 18px,#cce 0 19px,#66b 0 20px,#55b 0 21px,#99c 0 22px,#77b 0 23px,#aad 0 24px,#77c 0 25px,#99c 0 26px,#88c 0 28px,#99c 0 30px,#77c 0 31px,#99c 0 32px,#dde 0 33px,#77c 0 34px,#99c 0 35px,#66b 0 36px,#cce 0 37px,#88c 0 38px,#66b 0 40px,#77b 0 42px,#66b 0 43px,#55b 0 44px,#44a 0 45px,#aad 0 46px,#eef 0 47px,#fee 0 48px,#eaa 0 50px,#ecc 0 51px,#eaa 0 52px,#fed 0 53px,#fee 0 54px,#fff 0 55px,#fee 0 56px,#bbd 0 58px,#eee 0 60px,#dde 0 61px,#bbd 0 62px,#cce 0 64px,#fee 0 65px,#cce 0 66px,#eef 0 67px,#fff 0 68px,#dde 0 69px,#edd 0 70px)"></i><i style="top:125px;background:linear-gradient(90deg,#88c 0 1px,#99c 0 2px,#aad 0 3px,#77b 0 4px,#88c 0 5px,#77c 0 6px,#99c 0 7px,#88c 0 9px,#99c 0 11px,#88c 0 12px,#dde 0 13px,#99d 0 14px,#dde 0 15px,#99c 0 18px,#aad 0 20px,#88c 0 21px,#aad 0 23px,#cce 0 24px,#aad 0 25px,#cce 0 26px,#bbd 0 27px,#ccd 0 28px,#bbd 0 30px,#cce 0 31px,#bbd 0 32px,#aad 0 34px,#cce 0 35px,#aad 0 36px,#99c 0 37px,#aad 0 38px,#99c 0 39px,#aad 0 40px,#99c 0 41px,#bbd 0 42px,#99c 0 45px,#dde 0 46px,#fee 0 47px,#fff 0 48px,#fee 0 49px,#eaa 0 50px,#ebb 0 51px,#eaa 0 52px,#edc 0 53px,#ebb 0 55px,#eef 0 56px,#eee 0 57px,#dde 0 59px,#fff 0 60px,#eef 0 61px,#dde 0 62px,#fee 0 63px,#cce 0 64px,#fee 0 65px,#eef 0 66px,#fff 0 67px,#fdd 0 68px,#fff 0 70px)"></i><i style="top:126px;background:linear-gradient(90deg,#cce 0 1px,#ccd 0 2px,#55a 0 3px,#33a 0 12px,#66b 0 14px,#55a 0 15px,#55b 0 16px,#66b 0 17px,#33a 0 18px,#44a 0 19px,#33a 0 20px,#44a 0 21px,#77b 0 22px,#44a 0 23px,#66b 0 25px,#dde 0 26px,#77c 0 27px,#dde 0 28px,#88c 0 30px,#77c 0 31px,#88c 0 32px,#dde 0 33px,#55b 0 34px,#66b 0 35px,#33a 0 36px,#44a 0 39px,#55b 0 40px,#33a 0 41px,#55a 0 43px,#33a 0 45px,#aad 0 46px,#cce 0 47px,#fff 0 48px,#eaa 0 49px,#ecc 0 50px,#d99 0 51px,#d98 0 52px,#ebb 0 53px,#ecc 0 55px,#fee 0 56px,#eef 0 57px,#aad 0 58px,#99c 0 59px,#cce 0 60px,#eef 0 61px,#eee 0 62px,#bbd 0 63px,#aad 0 64px,#eee 0 65px,#cce 0 66px,#99c 0 67px,#dde 0 69px,#aad 0 70px)"></i><i style="top:127px;background:linear-gradient(90deg,#66b 0 1px,#99c 0 2px,#88c 0 3px,#cce 0 4px,#66b 0 5px,#55b 0 6px,#88c 0 7px,#77c 0 8px,#55a 0 9px,#77b 0 10px,#66b 0 11px,#77b 0 12px,#99c 0 14px,#88c 0 15px,#99c 0 17px,#66b 0 18px,#77b 0 21px,#88c 0 22px,#99c 0 24px,#88c 0 26px,#99c 0 27px,#aad 0 29px,#99c 0 30px,#aad 0 31px,#bbd 0 32px,#aad 0 33px,#88c 0 34px,#aad 0 35px,#88c 0 38px,#77b 0 40px,#88c 0 41px,#77b 0 42px,#88c 0 43px,#77b 0 44px,#55b 0 45px,#99c 0 46px,#fff 0 47px,#fee 0 48px,#ecc 0 50px,#ebb 0 51px,#ecc 0 54px,#fdd 0 55px,#ebb 0 56px,#cce 0 57px,#dde 0 58px,#bbd 0 59px,#cce 0 60px,#eef 0 61px,#bbd 0 62px,#dde 0 63px,#bbd 0 64px,#dde 0 65px,#eef 0 66px,#eee 0 67px,#fff 0 69px,#cce 0 70px)"></i><i style="top:128px;background:linear-gradient(90deg,#77b 0 1px,#66b 0 4px,#55a 0 5px,#55b 0 6px,#88c 0 7px,#66b 0 9px,#cce 0 10px,#66b 0 11px,#77b 0 13px,#88c 0 14px,#66b 0 15px,#88c 0 17px,#66b 0 18px,#77c 0 19px,#66b 0 20px,#77b 0 22px,#77c 0 23px,#dde 0 24px,#88c 0 25px,#99c 0 26px,#88c 0 27px,#99c 0 30px,#88c 0 31px,#aad 0 32px,#99c 0 33px,#88c 0 34px,#aad 0 35px,#77b 0 38px,#66b 0 39px,#77b 0 41px,#88c 0 42px,#66b 0 44px,#55b 0 45px,#aad 0 46px,#eef 0 47px,#fdd 0 48px,#d99 0 49px,#eaa 0 50px,#d99 0 51px,#ecc 0 52px,#eaa 0 53px,#edd 0 54px,#fee 0 56px,#dde 0 57px,#cce 0 59px,#dde 0 61px,#bbd 0 62px,#aad 0 63px,#ccd 0 64px,#fff 0 65px,#dde 0 67px,#fff 0 68px,#dde 0 69px,#fff 0 70px)"></i><i style="top:129px;background:linear-gradient(90deg,#66b 0 1px,#88c 0 2px,#dde 0 3px,#66b 0 4px,#77c 0 5px,#66b 0 6px,#88c 0 7px,#77c 0 8px,#77b 0 9px,#88c 0 10px,#77c 0 11px,#77b 0 12px,#88c 0 13px,#aad 0 14px,#77b 0 15px,#88c 0 16px,#99d 0 17px,#77b 0 18px,#88c 0 21px,#aad 0 22px,#99c 0 23px,#aad 0 25px,#cce 0 26px,#aad 0 27px,#bbd 0 30px,#aad 0 31px,#cce 0 32px,#bbd 0 33px,#99c 0 34px,#bbd 0 35px,#99c 0 36px,#dde 0 37px,#aad 0 38px,#88c 0 39px,#99c 0 40px,#88c 0 42px,#77c 0 43px,#77b 0 45px,#bbd 0 46px,#fee 0 47px,#da9 0 48px,#ebb 0 49px,#eaa 0 51px,#d99 0 53px,#eaa 0 54px,#edc 0 55px,#ebb 0 56px,#ecc 0 57px,#edd 0 58px,#eee 0 59px,#dde 0 60px,#eef 0 61px,#dde 0 62px,#fee 0 63px,#fff 0 64px,#edd 0 65px,#eef 0 66px,#fee 0 67px,#fff 0 68px,#bbd 0 69px,#dde 0 70px)"></i><i style="top:130px;background:linear-gradient(90deg,#66b 0 1px,#77b 0 3px,#55a 0 4px,#66b 0 5px,#55a 0 6px,#88c 0 7px,#66b 0 8px,#44a 0 9px,#55b 0 10px,#88c 0 11px,#55b 0 12px,#77c 0 13px,#88c 0 14px,#66b 0 15px,#88c 0 17px,#cce 0 18px,#66b 0 20px,#77b 0 21px,#dde 0 22px,#77c 0 23px,#88c 0 24px,#77c 0 25px,#99c 0 27px,#88c 0 28px,#99c 0 30px,#88c 0 31px,#aad 0 32px,#88c 0 34px,#99c 0 35px,#66b 0 36px,#77b 0 37px,#88c 0 38px,#66b 0 39px,#77b 0 41px,#66b 0 42px,#55b 0 44px,#66b 0 45px,#88c 0 46px,#fff 0 47px,#fee 0 49px,#eaa 0 51px,#ecc 0 52px,#edd 0 53px,#fee 0 54px,#fff 0 56px,#eef 0 57px,#aad 0 58px,#dde 0 59px,#cce 0 60px,#eee 0 61px,#bbd 0 62px,#cce 0 63px,#ccd 0 64px,#eef 0 65px,#dde 0 66px,#cce 0 67px,#dde 0 68px,#cce 0 70px)"></i><i style="top:131px;background:linear-gradient(90deg,#77b 0 1px,#77c 0 2px,#88c 0 3px,#99c 0 4px,#88c 0 6px,#aad 0 8px,#88c 0 9px,#99c 0 13px,#aad 0 14px,#99c 0 15px,#aad 0 16px,#ccd 0 17px,#99c 0 18px,#88c 0 19px,#aad 0 20px,#99c 0 21px,#aad 0 24px,#bbd 0 25px,#cce 0 26px,#ccd 0 27px,#aad 0 28px,#bbd 0 30px,#aad 0 34px,#bbd 0 35px,#aad 0 38px,#99c 0 39px,#bbd 0 40px,#aad 0 42px,#99c 0 43px,#88c 0 45px,#cce 0 46px,#fff 0 47px,#eef 0 48px,#ecc 0 50px,#ebb 0 51px,#edd 0 52px,#fee 0 53px,#ecc 0 54px,#fff 0 55px,#fee 0 56px,#dde 0 58px,#fff 0 60px,#eee 0 61px,#eef 0 62px,#eee 0 63px,#fee 0 66px,#eef 0 68px,#cce 0 69px,#fff 0 70px)"></i><i style="top:132px;background:linear-gradient(90deg,#33a 0 1px,#55a 0 2px,#55b 0 3px,#33a 0 4px,#44a 0 6px,#55b 0 7px,#44a 0 8px,#33a 0 9px,#66b 0 10px,#55a 0 11px,#44a 0 12px,#66b 0 13px,#77b 0 14px,#44a 0 15px,#77b 0 17px,#44a 0 18px,#66b 0 20px,#55a 0 21px,#88c 0 22px,#cce 0 23px,#88c 0 24px,#55b 0 25px,#99c 0 26px,#88c 0 28px,#77c 0 29px,#dde 0 30px,#77c 0 31px,#aad 0 32px,#dde 0 33px,#77b 0 34px,#99c 0 35px,#55a 0 36px,#66b 0 37px,#55a 0 38px,#44a 0 39px,#55b 0 41px,#55a 0 42px,#33a 0 44px,#44a 0 45px,#aad 0 46px,#fee 0 47px,#edd 0 48px,#eaa 0 51px,#d99 0 52px,#d88 0 53px,#edd 0 54px,#fdd 0 55px,#fee 0 56px,#bbd 0 58px,#eef 0 59px,#dde 0 60px,#bbd 0 61px,#aad 0 62px,#cce 0 63px,#eee 0 64px,#dde 0 65px,#cce 0 66px,#eef 0 69px,#fff 0 70px)"></i><i style="top:133px;background:linear-gradient(90deg,#88c 0 1px,#dde 0 2px,#99c 0 3px,#88c 0 4px,#77b 0 5px,#66b 0 6px,#99c 0 7px,#88c 0 9px,#99c 0 10px,#77b 0 11px,#88c 0 12px,#99c 0 13px,#aad 0 14px,#77c 0 15px,#aad 0 16px,#99c 0 17px,#88c 0 18px,#99c 0 20px,#88c 0 21px,#99c 0 23px,#bbd 0 24px,#88c 0 25px,#aad 0 26px,#99c 0 27px,#bbd 0 28px,#eef 0 29px,#aad 0 30px,#99c 0 31px,#cce 0 32px,#bbd 0 33px,#99c 0 34px,#aad 0 35px,#99c 0 36px,#88c 0 37px,#99c 0 38px,#77b 0 39px,#99c 0 40px,#77b 0 41px,#99c 0 42px,#77b 0 44px,#66b 0 45px,#eef 0 46px,#fee 0 48px,#d98 0 49px,#d99 0 50px,#eaa 0 51px,#d88 0 52px,#ecc 0 53px,#d99 0 54px,#ecc 0 55px,#fdd 0 56px,#eee 0 57px,#dde 0 58px,#cce 0 59px,#eee 0 61px,#fff 0 62px,#cce 0 63px,#fff 0 65px,#eef 0 66px,#fff 0 67px,#dde 0 69px,#fff 0 70px)"></i><i style="top:134px;background:linear-gradient(90deg,#66b 0 3px,#55a 0 4px,#66b 0 5px,#44a 0 6px,#88c 0 7px,#77c 0 8px,#44a 0 9px,#66b 0 10px,#55b 0 12px,#88c 0 14px,#44a 0 15px,#77b 0 16px,#88c 0 17px,#55a 0 18px,#66b 0 19px,#77b 0 20px,#66b 0 21px,#88c 0 26px,#99c 0 28px,#aad 0 29px,#99c 0 31px,#cce 0 32px,#99c 0 33px,#88c 0 34px,#dde 0 35px,#77b 0 37px,#66b 0 39px,#55b 0 40px,#66b 0 41px,#44a 0 42px,#55b 0 43px,#66b 0 44px,#44a 0 45px,#99c 0 46px,#eef 0 47px,#fdd 0 48px,#edd 0 50px,#ecc 0 51px,#ebb 0 52px,#edd 0 53px,#ecc 0 54px,#fee 0 55px,#fff 0 56px,#dde 0 57px,#cce 0 58px,#eee 0 59px,#dde 0 60px,#cce 0 61px,#aad 0 62px,#cce 0 63px,#dde 0 64px,#ccd 0 65px,#dde 0 66px,#eef 0 67px,#dde 0 68px,#eee 0 69px,#fee 0 70px)"></i><i style="top:135px;background:linear-gradient(90deg,#33a 0 6px,#66b 0 7px,#33a 0 12px,#66b 0 13px,#55a 0 14px,#33a 0 15px,#55a 0 16px,#66b 0 17px,#33a 0 18px,#44a 0 19px,#33a 0 20px,#44a 0 21px,#66b 0 22px,#55b 0 23px,#66b 0 24px,#44a 0 25px,#66b 0 26px,#55b 0 27px,#77c 0 29px,#66b 0 30px,#77b 0 31px,#99c 0 32px,#66b 0 33px,#44a 0 34px,#77b 0 35px,#33a 0 36px,#44a 0 37px,#55a 0 38px,#55b 0 39px,#44a 0 41px,#33a 0 45px,#77c 0 46px,#aad 0 47px,#fff 0 48px,#fee 0 49px,#fdd 0 50px,#ecc 0 51px,#eba 0 52px,#fff 0 53px,#fdd 0 54px,#fee 0 55px,#eee 0 56px,#dde 0 57px,#bbd 0 58px,#aad 0 59px,#bbd 0 61px,#99c 0 62px,#aad 0 63px,#dde 0 64px,#99c 0 65px,#aad 0 66px,#dde 0 67px,#99c 0 68px,#bbd 0 69px,#dde 0 70px)"></i><i style="top:136px;background:linear-gradient(90deg,#55a 0 3px,#33a 0 4px,#44a 0 6px,#55a 0 7px,#44a 0 9px,#ccd 0 10px,#55a 0 11px,#44a 0 12px,#55b 0 13px,#77b 0 14px,#44a 0 15px,#66b 0 16px,#cce 0 17px,#44a 0 18px,#55a 0 19px,#44a 0 20px,#33a 0 21px,#66b 0 23px,#77b 0 25px,#88c 0 27px,#77b 0 28px,#88c 0 29px,#77b 0 30px,#66b 0 31px,#aad 0 32px,#88c 0 33px,#55a 0 34px,#88c 0 35px,#66b 0 38px,#44a 0 39px,#55a 0 40px,#55b 0 41px,#66b 0 42px,#44a 0 44px,#33a 0 45px,#88c 0 46px,#dde 0 47px,#fee 0 48px,#ebb 0 49px,#eaa 0 50px,#ecc 0 51px,#d99 0 52px,#ebb 0 53px,#eaa 0 54px,#fee 0 57px,#bbd 0 58px,#aad 0 60px,#fff 0 61px,#bbd 0 63px,#eef 0 64px,#cce 0 65px,#eef 0 66px,#eee 0 67px,#fff 0 68px,#cce 0 70px)"></i><i style="top:137px;background:linear-gradient(90deg,#55b 0 1px,#44a 0 3px,#33a 0 4px,#44a 0 5px,#55a 0 6px,#66b 0 7px,#55a 0 8px,#33a 0 9px,#cce 0 10px,#55b 0 11px,#44a 0 12px,#55a 0 13px,#77c 0 14px,#44a 0 15px,#66b 0 16px,#77c 0 17px,#66b 0 19px,#55b 0 21px,#77b 0 22px,#cce 0 23px,#77b 0 24px,#66b 0 25px,#99c 0 26px,#77b 0 27px,#88c 0 28px,#99c 0 29px,#77b 0 30px,#66b 0 31px,#88c 0 32px,#77b 0 33px,#66b 0 34px,#99c 0 35px,#66b 0 36px,#55b 0 37px,#66b 0 38px,#33a 0 39px,#55b 0 40px,#55a 0 41px,#55b 0 42px,#55a 0 43px,#55b 0 44px,#33a 0 45px,#77c 0 46px,#dde 0 47px,#ebb 0 48px,#fee 0 49px,#ebb 0 50px,#ecc 0 51px,#d99 0 52px,#ebb 0 55px,#fee 0 56px,#cce 0 57px,#aad 0 58px,#dde 0 59px,#aad 0 60px,#dde 0 61px,#bbd 0 63px,#aad 0 64px,#bbd 0 65px,#fff 0 66px,#dde 0 67px,#fff 0 68px,#eef 0 70px)"></i><i style="top:138px;background:linear-gradient(90deg,#55a 0 2px,#44a 0 3px,#bbd 0 4px,#33a 0 6px,#44a 0 7px,#33a 0 9px,#55a 0 10px,#bbd 0 11px,#33a 0 12px,#66b 0 13px,#44a 0 14px,#55b 0 15px,#77b 0 16px,#88c 0 17px,#44a 0 18px,#55b 0 19px,#55a 0 20px,#44a 0 21px,#77b 0 22px,#66b 0 23px,#77b 0 24px,#44a 0 25px,#88c 0 26px,#77c 0 27px,#77b 0 28px,#dde 0 29px,#88c 0 30px,#77b 0 31px,#99c 0 32px,#77c 0 33px,#77b 0 34px,#99c 0 35px,#33a 0 36px,#55a 0 38px,#66b 0 40px,#44a 0 41px,#cce 0 42px,#44a 0 45px,#99c 0 46px,#cce 0 47px,#ecb 0 48px,#edd 0 49px,#d99 0 50px,#fdd 0 51px,#eba 0 52px,#ecc 0 53px,#edd 0 54px,#ebb 0 55px,#eef 0 57px,#aad 0 58px,#dde 0 59px,#aad 0 60px,#dde 0 61px,#bbd 0 62px,#dde 0 63px,#bbd 0 64px,#cce 0 65px,#dde 0 67px,#aad 0 68px,#dde 0 69px,#aad 0 70px)"></i><i style="top:139px;background:linear-gradient(90deg,#66b 0 3px,#33a 0 4px,#55b 0 5px,#44a 0 6px,#66b 0 8px,#55a 0 9px,#66b 0 10px,#55b 0 11px,#55a 0 12px,#66b 0 13px,#dde 0 14px,#55b 0 15px,#77b 0 17px,#55b 0 18px,#66b 0 20px,#55a 0 21px,#77b 0 22px,#88c 0 26px,#77b 0 27px,#99c 0 28px,#88c 0 31px,#bbd 0 32px,#99c 0 33px,#88c 0 34px,#77b 0 35px,#66b 0 36px,#77b 0 37px,#66b 0 39px,#dde 0 40px,#55b 0 41px,#66b 0 42px,#55b 0 44px,#55a 0 45px,#88c 0 46px,#dde 0 47px,#cce 0 48px,#edd 0 51px,#fff 0 52px,#fee 0 53px,#fdd 0 54px,#dde 0 55px,#fee 0 56px,#bbd 0 57px,#99c 0 58px,#dde 0 59px,#cce 0 60px,#aad 0 61px,#bbd 0 62px,#99c 0 63px,#88c 0 64px,#eef 0 65px,#cce 0 67px,#eef 0 68px,#bbd 0 69px,#aad 0 70px)"></i><i style="top:140px;background:linear-gradient(90deg,#aad 0 3px,#dde 0 4px,#bbd 0 5px,#99c 0 6px,#bbd 0 7px,#99c 0 9px,#aad 0 13px,#99c 0 14px,#aad 0 15px,#99c 0 16px,#cce 0 17px,#aad 0 20px,#88c 0 21px,#cce 0 22px,#aad 0 23px,#cce 0 24px,#bbd 0 28px,#cce 0 31px,#eee 0 32px,#dde 0 33px,#bbd 0 34px,#dde 0 35px,#99c 0 36px,#bbd 0 37px,#aad 0 38px,#99c 0 40px,#aad 0 42px,#99c 0 44px,#88c 0 45px,#cce 0 46px,#fee 0 47px,#edd 0 48px,#d99 0 49px,#ecb 0 50px,#d99 0 51px,#ecc 0 52px,#fee 0 53px,#eaa 0 54px,#fff 0 55px,#d99 0 56px,#fff 0 57px,#eee 0 61px,#dde 0 62px,#fee 0 63px,#fff 0 65px,#fee 0 67px,#edd 0 69px,#dde 0 70px)"></i><i style="top:141px;background:linear-gradient(90deg,#55b 0 1px,#66b 0 3px,#44a 0 4px,#66b 0 5px,#55b 0 6px,#66b 0 8px,#77c 0 9px,#66b 0 10px,#cce 0 11px,#66b 0 13px,#77b 0 14px,#77c 0 15px,#88c 0 17px,#66b 0 18px,#77c 0 19px,#77b 0 21px,#77c 0 22px,#77b 0 23px,#88c 0 25px,#99c 0 27px,#77c 0 28px,#99c 0 29px,#88c 0 32px,#99c 0 34px,#dde 0 35px,#88c 0 36px,#66b 0 37px,#77c 0 38px,#66b 0 39px,#77c 0 40px,#77b 0 41px,#66b 0 42px,#44a 0 43px,#66b 0 44px,#44a 0 45px,#77c 0 46px,#dde 0 47px,#eef 0 48px,#ecc 0 49px,#ebb 0 50px,#edd 0 51px,#ebb 0 52px,#fee 0 53px,#fff 0 54px,#eee 0 55px,#fee 0 56px,#dde 0 58px,#bbd 0 59px,#dde 0 60px,#eee 0 61px,#cce 0 62px,#eef 0 63px,#cce 0 64px,#aad 0 65px,#bbd 0 66px,#dde 0 67px,#eef 0 68px,#eee 0 69px,#dde 0 70px)"></i></div><div class="hm2" style="left:328.80px;top:477.70px;width:50px;height:138px;transform:scale(2.78200,1.00435)"><i style="top:0px;background:linear-gradient(90deg,#dde 0 1px,#fff 0 2px,#eef 0 3px,#ecc 0 4px,#eee 0 5px,#eef 0 6px,#fee 0 7px,#bcd 0 8px,#cde 0 9px,#dde 0 11px,#d99 0 12px,#dde 0 13px,#fff 0 14px,#edd 0 16px,#fee 0 17px,#ecc 0 18px,#d9a 0 19px,#eef 0 20px,#ecc 0 21px,#ebb 0 22px,#ebc 0 23px,#ebb 0 25px,#ecc 0 26px,#ebb 0 27px,#ecc 0 28px,#d88 0 29px,#edd 0 30px,#fee 0 31px,#dde 0 32px,#bbd 0 33px,#cce 0 34px,#fdd 0 35px,#ecc 0 36px,#d88 0 38px,#daa 0 39px,#d99 0 41px,#d89 0 42px,#c56 0 43px,#d88 0 47px,#d77 0 48px,#eaa 0 49px,#d88 0 50px)"></i><i style="top:1px;background:linear-gradient(90deg,#fff 0 1px,#dde 0 2px,#fee 0 3px,#fde 0 4px,#fff 0 5px,#eef 0 6px,#fff 0 7px,#dde 0 8px,#eef 0 9px,#aad 0 10px,#cde 0 11px,#fff 0 12px,#eee 0 13px,#eef 0 14px,#fff 0 15px,#ebb 0 16px,#ecc 0 17px,#fee 0 18px,#edd 0 19px,#fff 0 20px,#ebb 0 22px,#fdd 0 23px,#ecc 0 24px,#edd 0 26px,#eab 0 27px,#ebb 0 28px,#d88 0 29px,#ecc 0 30px,#eee 0 31px,#dde 0 32px,#aad 0 33px,#fff 0 34px,#eff 0 35px,#fee 0 36px,#eaa 0 37px,#d99 0 38px,#ebc 0 39px,#eaa 0 40px,#fee 0 41px,#ebb 0 42px,#d89 0 43px,#d88 0 44px,#d99 0 46px,#ebb 0 47px,#d9a 0 48px,#eab 0 49px,#d9a 0 50px)"></i><i style="top:2px;background:linear-gradient(90deg,#fdd 0 2px,#fee 0 4px,#eef 0 5px,#edd 0 6px,#89c 0 7px,#fff 0 8px,#eef 0 11px,#fee 0 12px,#fef 0 13px,#fff 0 14px,#ecc 0 15px,#fee 0 16px,#ecc 0 17px,#ebb 0 19px,#eaa 0 22px,#ebb 0 24px,#d88 0 25px,#ecc 0 26px,#ebb 0 27px,#ecc 0 28px,#daa 0 29px,#ebb 0 30px,#edd 0 31px,#eef 0 32px,#cce 0 33px,#fee 0 34px,#edd 0 35px,#d99 0 36px,#d77 0 37px,#d88 0 38px,#d99 0 41px,#d88 0 42px,#d77 0 43px,#d89 0 45px,#d77 0 46px,#d88 0 49px,#d77 0 50px)"></i><i style="top:3px;background:linear-gradient(90deg,#cce 0 1px,#ecc 0 2px,#edd 0 3px,#fee 0 4px,#eaa 0 5px,#dde 0 7px,#eef 0 9px,#ecc 0 11px,#fff 0 12px,#abd 0 13px,#ecc 0 14px,#d99 0 15px,#edd 0 16px,#eef 0 17px,#ecd 0 18px,#ebb 0 19px,#ecc 0 20px,#ebb 0 22px,#ecc 0 23px,#eaa 0 25px,#edd 0 26px,#eab 0 27px,#daa 0 28px,#d78 0 29px,#eaa 0 30px,#fee 0 31px,#fff 0 34px,#edd 0 35px,#ebb 0 36px,#d99 0 39px,#d9a 0 40px,#eab 0 41px,#d9a 0 42px,#d89 0 43px,#d77 0 44px,#d88 0 45px,#d78 0 46px,#d77 0 47px,#c66 0 48px,#d88 0 49px,#d77 0 50px)"></i><i style="top:4px;background:linear-gradient(90deg,#fff 0 1px,#eef 0 2px,#edd 0 3px,#fef 0 4px,#eef 0 6px,#fee 0 7px,#eee 0 8px,#eef 0 10px,#edd 0 11px,#fff 0 12px,#dde 0 13px,#eef 0 14px,#fdd 0 15px,#ecc 0 16px,#fee 0 17px,#ecc 0 18px,#ebb 0 20px,#fee 0 21px,#eaa 0 22px,#fee 0 23px,#d77 0 24px,#d99 0 25px,#ecc 0 26px,#d99 0 27px,#eaa 0 28px,#d88 0 29px,#eaa 0 30px,#fff 0 31px,#dde 0 32px,#89c 0 33px,#eef 0 34px,#ecc 0 35px,#d88 0 36px,#c66 0 37px,#d67 0 38px,#d88 0 39px,#d77 0 40px,#d88 0 42px,#c56 0 43px,#c66 0 44px,#d77 0 45px,#c66 0 46px,#d77 0 47px,#c55 0 48px,#d78 0 49px,#d77 0 50px)"></i><i style="top:5px;background:linear-gradient(90deg,#abd 0 1px,#fff 0 2px,#bbd 0 3px,#fee 0 4px,#fff 0 5px,#bbd 0 6px,#9ad 0 7px,#cce 0 8px,#dee 0 9px,#cde 0 10px,#cce 0 11px,#edd 0 13px,#ecc 0 14px,#fff 0 15px,#fee 0 16px,#edd 0 17px,#fdd 0 18px,#eef 0 19px,#ecc 0 20px,#fff 0 21px,#ecc 0 23px,#eaa 0 24px,#ecc 0 26px,#fee 0 27px,#ebb 0 28px,#eab 0 29px,#edd 0 30px,#eef 0 31px,#fff 0 32px,#89c 0 33px,#dde 0 34px,#edd 0 35px,#ecc 0 36px,#daa 0 37px,#d99 0 38px,#ebb 0 40px,#eaa 0 42px,#d99 0 43px,#eaa 0 45px,#d99 0 47px,#daa 0 49px,#ebb 0 50px)"></i><i style="top:6px;background:linear-gradient(90deg,#eee 0 1px,#fff 0 2px,#fee 0 3px,#eef 0 4px,#cde 0 5px,#eef 0 6px,#cce 0 7px,#eef 0 9px,#dee 0 10px,#fee 0 11px,#dde 0 12px,#eef 0 13px,#cde 0 14px,#ecc 0 18px,#fee 0 19px,#ecc 0 20px,#ebb 0 21px,#fdd 0 22px,#edd 0 23px,#ebb 0 24px,#edd 0 26px,#ebb 0 27px,#ecc 0 29px,#fee 0 30px,#fff 0 32px,#cce 0 33px,#cde 0 34px,#edd 0 35px,#fee 0 36px,#ebb 0 38px,#ecc 0 41px,#eab 0 42px,#ebb 0 45px,#eaa 0 46px,#edd 0 47px,#ebb 0 48px,#d99 0 49px,#ecc 0 50px)"></i><i style="top:7px;background:linear-gradient(90deg,#fee 0 1px,#ecc 0 2px,#fff 0 3px,#fee 0 4px,#fff 0 5px,#fdd 0 6px,#fee 0 8px,#eef 0 9px,#fff 0 10px,#cce 0 11px,#fff 0 12px,#ebb 0 13px,#fff 0 14px,#fdd 0 15px,#edd 0 16px,#eef 0 17px,#edd 0 18px,#fee 0 19px,#ebb 0 20px,#daa 0 21px,#edd 0 22px,#daa 0 23px,#ecc 0 24px,#ebc 0 25px,#fff 0 26px,#ebb 0 27px,#ecc 0 28px,#d99 0 29px,#edd 0 31px,#bbd 0 33px,#eff 0 34px,#fff 0 35px,#ebb 0 36px,#ebc 0 37px,#d99 0 38px,#daa 0 39px,#ecc 0 40px,#ebb 0 42px,#eaa 0 44px,#d88 0 46px,#edd 0 47px,#ebb 0 48px,#eaa 0 49px,#d99 0 50px)"></i><i style="top:8px;background:linear-gradient(90deg,#eef 0 1px,#dde 0 2px,#edd 0 3px,#ebb 0 4px,#eef 0 5px,#dee 0 7px,#dde 0 8px,#fee 0 9px,#fff 0 10px,#fee 0 11px,#edd 0 12px,#fee 0 14px,#ebb 0 15px,#d9a 0 16px,#fdd 0 17px,#ebb 0 18px,#fee 0 19px,#edd 0 20px,#ebb 0 21px,#edd 0 22px,#ecc 0 23px,#daa 0 24px,#eaa 0 26px,#edd 0 27px,#ebb 0 28px,#d88 0 29px,#ebb 0 30px,#fee 0 31px,#bce 0 32px,#bbd 0 33px,#dee 0 34px,#ecd 0 35px,#eab 0 36px,#d78 0 37px,#c66 0 38px,#d89 0 39px,#d99 0 40px,#d89 0 41px,#d88 0 42px,#c66 0 43px,#d88 0 46px,#d77 0 47px,#d67 0 48px,#d89 0 49px,#d77 0 50px)"></i><i style="top:9px;background:linear-gradient(90deg,#fee 0 1px,#eef 0 2px,#edd 0 3px,#fee 0 4px,#dde 0 6px,#fff 0 7px,#dde 0 8px,#eef 0 9px,#abd 0 10px,#fff 0 11px,#eaa 0 12px,#fee 0 13px,#edd 0 14px,#ebb 0 15px,#edd 0 16px,#fee 0 17px,#fdd 0 18px,#fee 0 19px,#ebb 0 20px,#ecc 0 21px,#eaa 0 22px,#ebb 0 23px,#ecc 0 24px,#ecd 0 25px,#ecc 0 27px,#fee 0 28px,#ecc 0 30px,#dde 0 31px,#cce 0 32px,#fff 0 33px,#dee 0 34px,#ebb 0 35px,#ecc 0 36px,#eaa 0 37px,#fee 0 38px,#daa 0 40px,#eaa 0 41px,#daa 0 42px,#d99 0 43px,#d88 0 44px,#eaa 0 45px,#eab 0 46px,#daa 0 47px,#d99 0 49px,#eaa 0 50px)"></i><i style="top:10px;background:linear-gradient(90deg,#fee 0 1px,#d99 0 2px,#edd 0 3px,#eef 0 4px,#dde 0 5px,#edd 0 6px,#fee 0 7px,#fff 0 8px,#fee 0 9px,#cce 0 10px,#edd 0 11px,#eee 0 12px,#fdd 0 13px,#ebb 0 14px,#edd 0 15px,#eab 0 16px,#ebb 0 17px,#ecc 0 18px,#d99 0 19px,#ebb 0 20px,#eaa 0 21px,#d9a 0 22px,#edd 0 23px,#d88 0 25px,#d99 0 28px,#d88 0 29px,#fee 0 30px,#fff 0 32px,#cde 0 33px,#fff 0 34px,#ecc 0 35px,#d99 0 36px,#d77 0 37px,#d88 0 38px,#d77 0 39px,#d78 0 41px,#d88 0 42px,#c56 0 43px,#c44 0 44px,#d77 0 45px,#c66 0 47px,#d77 0 48px,#c66 0 49px,#d88 0 50px)"></i><i style="top:11px;background:linear-gradient(90deg,#fff 0 1px,#ecd 0 2px,#fff 0 3px,#fee 0 4px,#fff 0 5px,#dee 0 6px,#9ad 0 7px,#dde 0 8px,#fee 0 9px,#dde 0 10px,#fee 0 11px,#fff 0 12px,#eef 0 13px,#cce 0 14px,#fee 0 15px,#ecc 0 16px,#fee 0 17px,#eef 0 18px,#edd 0 19px,#ecc 0 20px,#ebb 0 21px,#edd 0 23px,#ecc 0 24px,#edd 0 25px,#eee 0 26px,#ecd 0 27px,#edd 0 28px,#ecc 0 29px,#fff 0 30px,#fde 0 31px,#dde 0 32px,#bbd 0 33px,#cde 0 34px,#cce 0 35px,#fee 0 36px,#ebb 0 37px,#eaa 0 38px,#ecc 0 39px,#ebb 0 40px,#eaa 0 41px,#fee 0 42px,#d9a 0 43px,#d99 0 44px,#daa 0 45px,#eaa 0 46px,#ebb 0 47px,#daa 0 48px,#d99 0 49px,#eaa 0 50px)"></i><i style="top:12px;background:linear-gradient(90deg,#cce 0 1px,#cde 0 2px,#fff 0 3px,#fee 0 5px,#cce 0 6px,#eef 0 7px,#dde 0 8px,#fee 0 9px,#dde 0 10px,#fdd 0 11px,#ebb 0 12px,#fff 0 13px,#fee 0 14px,#fdd 0 15px,#fff 0 16px,#fdd 0 17px,#eef 0 18px,#ecc 0 19px,#fee 0 22px,#ecc 0 23px,#eaa 0 24px,#ecc 0 25px,#ebb 0 26px,#eaa 0 27px,#d9a 0 28px,#d99 0 29px,#fee 0 31px,#ecc 0 32px,#dde 0 33px,#fff 0 34px,#ecc 0 35px,#d99 0 36px,#edd 0 37px,#c66 0 38px,#d77 0 39px,#d88 0 40px,#d77 0 41px,#d88 0 42px,#c66 0 43px,#c55 0 44px,#c66 0 45px,#d77 0 46px,#d88 0 48px,#d77 0 49px,#c66 0 50px)"></i><i style="top:13px;background:linear-gradient(90deg,#cce 0 1px,#bce 0 2px,#abd 0 3px,#bcd 0 4px,#eee 0 6px,#fff 0 8px,#dde 0 9px,#eef 0 10px,#fff 0 11px,#edd 0 13px,#eef 0 14px,#edd 0 15px,#eef 0 16px,#fff 0 17px,#eef 0 18px,#edd 0 19px,#fff 0 23px,#eef 0 24px,#edd 0 25px,#fff 0 26px,#ebc 0 27px,#ecc 0 28px,#ebb 0 29px,#edd 0 31px,#dde 0 32px,#bcd 0 33px,#cde 0 34px,#fee 0 35px,#ebb 0 36px,#d99 0 37px,#d89 0 38px,#eaa 0 39px,#ebb 0 40px,#fee 0 41px,#fdd 0 42px,#daa 0 43px,#d99 0 44px,#d77 0 45px,#d88 0 46px,#daa 0 47px,#d99 0 49px,#eaa 0 50px)"></i><i style="top:14px;background:linear-gradient(90deg,#dde 0 1px,#eee 0 2px,#bce 0 3px,#dde 0 4px,#fff 0 5px,#dde 0 7px,#fff 0 8px,#fee 0 9px,#edd 0 10px,#cde 0 11px,#dde 0 12px,#bbd 0 13px,#dde 0 14px,#fff 0 15px,#fee 0 19px,#ecd 0 20px,#ecc 0 21px,#fee 0 22px,#fff 0 23px,#edd 0 24px,#fdd 0 25px,#ecc 0 26px,#ebb 0 27px,#eaa 0 28px,#d88 0 29px,#fee 0 30px,#eef 0 31px,#fee 0 32px,#bce 0 33px,#eef 0 34px,#fee 0 35px,#d99 0 36px,#ecc 0 37px,#c66 0 38px,#d88 0 40px,#d77 0 42px,#c66 0 43px,#d77 0 44px,#c56 0 45px,#c44 0 46px,#d89 0 47px,#c66 0 49px,#d77 0 50px)"></i><i style="top:15px;background:linear-gradient(90deg,#abd 0 1px,#eef 0 2px,#bbd 0 3px,#abd 0 4px,#dee 0 5px,#cde 0 6px,#fff 0 7px,#dee 0 8px,#fee 0 9px,#cde 0 10px,#cce 0 11px,#fee 0 12px,#bce 0 13px,#fff 0 14px,#fee 0 16px,#cde 0 17px,#fff 0 18px,#bbd 0 19px,#eef 0 20px,#bcd 0 21px,#fff 0 22px,#fee 0 23px,#fde 0 24px,#fee 0 25px,#fff 0 26px,#ecc 0 27px,#edd 0 28px,#daa 0 29px,#fff 0 30px,#eef 0 32px,#bbd 0 33px,#eee 0 34px,#fee 0 35px,#eaa 0 37px,#daa 0 38px,#eaa 0 39px,#ebb 0 40px,#ecc 0 42px,#d99 0 43px,#eaa 0 44px,#d99 0 45px,#eaa 0 46px,#ebc 0 47px,#eaa 0 48px,#d99 0 49px,#d88 0 50px)"></i><i style="top:16px;background:linear-gradient(90deg,#fff 0 1px,#dee 0 2px,#eef 0 5px,#dde 0 7px,#eef 0 8px,#fff 0 9px,#eee 0 10px,#fff 0 11px,#eff 0 12px,#fdd 0 13px,#fff 0 14px,#fee 0 15px,#bce 0 16px,#bbd 0 17px,#edd 0 18px,#fff 0 20px,#edd 0 22px,#d9a 0 23px,#ebb 0 24px,#ecc 0 25px,#edd 0 26px,#fee 0 27px,#d89 0 28px,#d77 0 29px,#ecc 0 30px,#eef 0 32px,#cde 0 34px,#ebb 0 35px,#eaa 0 36px,#d99 0 37px,#d88 0 38px,#d99 0 39px,#d9a 0 40px,#daa 0 41px,#d9a 0 42px,#d77 0 43px,#d78 0 44px,#d88 0 45px,#d77 0 46px,#d9a 0 47px,#edd 0 48px,#d88 0 49px,#d77 0 50px)"></i><i style="top:17px;background:linear-gradient(90deg,#dde 0 1px,#bbd 0 2px,#bce 0 3px,#dde 0 4px,#eef 0 5px,#cce 0 6px,#dee 0 7px,#dde 0 9px,#eef 0 10px,#fee 0 11px,#dde 0 12px,#fff 0 13px,#eef 0 14px,#fee 0 15px,#ebb 0 16px,#eaa 0 17px,#fff 0 18px,#dde 0 19px,#fee 0 20px,#edd 0 21px,#fdd 0 22px,#ebc 0 23px,#fee 0 24px,#ecc 0 27px,#d99 0 28px,#ebb 0 29px,#ecc 0 30px,#eef 0 32px,#aad 0 33px,#dde 0 34px,#dee 0 35px,#edd 0 36px,#d89 0 37px,#d88 0 38px,#eaa 0 39px,#d89 0 40px,#d9a 0 41px,#d99 0 43px,#d77 0 44px,#d99 0 45px,#d77 0 47px,#d88 0 49px,#d99 0 50px)"></i><i style="top:18px;background:linear-gradient(90deg,#bbd 0 2px,#abd 0 3px,#cce 0 4px,#dde 0 5px,#abd 0 6px,#eef 0 8px,#fff 0 10px,#cce 0 11px,#fee 0 12px,#edd 0 13px,#dde 0 14px,#bbd 0 15px,#fee 0 16px,#fff 0 17px,#edd 0 19px,#fee 0 20px,#ecc 0 21px,#fdd 0 22px,#d9a 0 23px,#fff 0 24px,#eab 0 25px,#fff 0 26px,#edd 0 29px,#fff 0 32px,#abd 0 34px,#edd 0 35px,#ecc 0 36px,#daa 0 37px,#eaa 0 39px,#ecc 0 40px,#eaa 0 41px,#ebb 0 42px,#d9a 0 43px,#d99 0 44px,#daa 0 45px,#d99 0 46px,#daa 0 47px,#eaa 0 49px,#fdd 0 50px)"></i><i style="top:19px;background:linear-gradient(90deg,#d99 0 1px,#d88 0 2px,#d77 0 3px,#d99 0 5px,#d88 0 6px,#eaa 0 7px,#d99 0 9px,#daa 0 10px,#d88 0 11px,#d9a 0 12px,#d99 0 13px,#d77 0 14px,#c66 0 15px,#c56 0 16px,#d77 0 17px,#c55 0 18px,#c66 0 19px,#d88 0 20px,#c66 0 21px,#d77 0 23px,#c66 0 24px,#c55 0 25px,#c66 0 26px,#d88 0 27px,#c66 0 28px,#ecc 0 29px,#ebb 0 30px,#eaa 0 31px,#ebb 0 32px,#abd 0 33px,#dde 0 34px,#c66 0 35px,#d77 0 36px,#c66 0 37px,#c55 0 38px,#c66 0 39px,#c55 0 40px,#d67 0 41px,#d78 0 42px,#ecc 0 43px,#c33 0 45px,#c55 0 46px,#c44 0 47px,#c55 0 48px,#c56 0 49px,#c44 0 50px)"></i><i style="top:20px;background:linear-gradient(90deg,#eaa 0 1px,#ecc 0 2px,#d88 0 3px,#daa 0 4px,#d99 0 5px,#daa 0 6px,#ebb 0 8px,#d99 0 9px,#daa 0 10px,#d88 0 11px,#d99 0 12px,#ebb 0 13px,#edd 0 14px,#d78 0 15px,#d77 0 17px,#c66 0 18px,#d89 0 19px,#edd 0 20px,#d88 0 23px,#c66 0 24px,#d77 0 25px,#d99 0 26px,#d88 0 28px,#d67 0 29px,#edd 0 30px,#ebb 0 31px,#fee 0 32px,#abd 0 33px,#eef 0 34px,#ebb 0 35px,#d88 0 36px,#c66 0 37px,#d77 0 38px,#d99 0 39px,#d77 0 40px,#d78 0 41px,#d88 0 42px,#c66 0 43px,#c56 0 44px,#c66 0 45px,#d77 0 46px,#d67 0 47px,#c56 0 48px,#d77 0 49px,#c66 0 50px)"></i><i style="top:21px;background:linear-gradient(90deg,#d99 0 4px,#daa 0 5px,#d77 0 6px,#d88 0 7px,#ebb 0 9px,#d88 0 12px,#daa 0 13px,#edd 0 14px,#d77 0 15px,#d67 0 16px,#d99 0 17px,#d88 0 18px,#c56 0 19px,#c66 0 20px,#d78 0 21px,#c66 0 24px,#c55 0 25px,#d88 0 28px,#c66 0 29px,#d99 0 30px,#edd 0 31px,#fee 0 32px,#bbd 0 33px,#eef 0 34px,#d99 0 35px,#edd 0 36px,#c66 0 37px,#c44 0 38px,#d77 0 40px,#d99 0 41px,#d77 0 42px,#c55 0 44px,#c56 0 45px,#c55 0 47px,#d77 0 50px)"></i><i style="top:22px;background:linear-gradient(90deg,#d88 0 1px,#edd 0 2px,#d99 0 3px,#ebb 0 4px,#d99 0 5px,#d77 0 6px,#d99 0 7px,#daa 0 8px,#ebb 0 9px,#d78 0 10px,#d88 0 11px,#d78 0 12px,#eaa 0 13px,#daa 0 14px,#d88 0 15px,#d77 0 16px,#d88 0 17px,#d78 0 18px,#d77 0 19px,#c66 0 20px,#d88 0 21px,#c66 0 22px,#d77 0 23px,#c55 0 24px,#c66 0 25px,#d99 0 26px,#d88 0 27px,#d77 0 28px,#c66 0 29px,#ecc 0 30px,#edd 0 31px,#eef 0 32px,#bcd 0 33px,#fff 0 34px,#ebb 0 35px,#d88 0 36px,#d77 0 37px,#c55 0 38px,#d77 0 40px,#edd 0 41px,#d77 0 42px,#c55 0 43px,#c66 0 47px,#c55 0 48px,#c66 0 49px,#d77 0 50px)"></i><i style="top:23px;background:linear-gradient(90deg,#ecc 0 1px,#edd 0 2px,#d77 0 3px,#d99 0 5px,#d89 0 6px,#daa 0 7px,#d99 0 8px,#ebb 0 9px,#d88 0 10px,#d77 0 11px,#daa 0 12px,#d99 0 15px,#d77 0 16px,#d88 0 17px,#d67 0 18px,#d89 0 19px,#c66 0 20px,#d77 0 21px,#c66 0 22px,#d77 0 23px,#d67 0 24px,#c55 0 25px,#d88 0 26px,#d78 0 27px,#d77 0 28px,#c55 0 29px,#ecc 0 30px,#d9a 0 31px,#ecc 0 32px,#bce 0 33px,#cce 0 34px,#ebb 0 35px,#c66 0 36px,#c34 0 37px,#c44 0 38px,#c66 0 40px,#c56 0 41px,#c66 0 42px,#c33 0 43px,#c55 0 44px,#c66 0 45px,#c55 0 46px,#c56 0 47px,#c45 0 48px,#c55 0 49px,#c66 0 50px)"></i><i style="top:24px;background:linear-gradient(90deg,#ebb 0 3px,#daa 0 4px,#d88 0 5px,#ecc 0 6px,#edd 0 7px,#ebb 0 8px,#daa 0 9px,#d77 0 10px,#ebb 0 14px,#d99 0 15px,#d88 0 16px,#eaa 0 17px,#d89 0 18px,#ebb 0 19px,#d99 0 22px,#d88 0 24px,#c66 0 25px,#daa 0 26px,#eaa 0 27px,#d89 0 28px,#d77 0 29px,#ecc 0 30px,#fee 0 32px,#fff 0 33px,#dde 0 34px,#ebb 0 35px,#d99 0 36px,#d88 0 37px,#d77 0 38px,#d99 0 40px,#edd 0 41px,#ebb 0 42px,#c66 0 43px,#d77 0 44px,#d88 0 45px,#c66 0 46px,#d88 0 47px,#d77 0 48px,#d9a 0 49px,#d78 0 50px)"></i><i style="top:25px;background:linear-gradient(90deg,#d77 0 1px,#d9a 0 2px,#d88 0 3px,#eaa 0 4px,#daa 0 5px,#d88 0 7px,#c66 0 8px,#fdd 0 9px,#d99 0 11px,#d88 0 12px,#d67 0 13px,#d78 0 14px,#c66 0 16px,#d88 0 17px,#c66 0 18px,#d67 0 19px,#c66 0 20px,#c55 0 21px,#d77 0 22px,#c66 0 24px,#c55 0 25px,#d89 0 26px,#c66 0 27px,#d77 0 28px,#c55 0 29px,#d88 0 30px,#fee 0 32px,#bce 0 33px,#ecc 0 34px,#ebb 0 35px,#d99 0 36px,#c66 0 37px,#c55 0 38px,#ecc 0 39px,#d88 0 40px,#d77 0 41px,#c67 0 42px,#c44 0 45px,#c45 0 46px,#c55 0 48px,#c66 0 49px,#c55 0 50px)"></i><i style="top:26px;background:linear-gradient(90deg,#46b 0 1px,#67c 0 2px,#35b 0 3px,#78c 0 5px,#45b 0 6px,#67b 0 9px,#45b 0 10px,#46b 0 11px,#78c 0 12px,#57b 0 13px,#67c 0 14px,#45b 0 15px,#46b 0 16px,#57b 0 17px,#56b 0 18px,#67b 0 19px,#56b 0 20px,#9ad 0 21px,#78c 0 22px,#67c 0 23px,#56b 0 24px,#57b 0 25px,#67b 0 26px,#56b 0 27px,#78c 0 28px,#cde 0 29px,#67b 0 30px,#78c 0 31px,#57b 0 32px,#67b 0 33px,#99c 0 34px,#cce 0 35px,#bce 0 36px,#fee 0 38px,#fdd 0 39px,#eef 0 40px,#ecc 0 41px,#edd 0 42px,#dde 0 43px,#ecc 0 44px,#fff 0 45px,#edd 0 47px,#eef 0 48px,#fee 0 50px)"></i><i style="top:27px;background:linear-gradient(90deg,#35b 0 1px,#67c 0 2px,#56b 0 3px,#cde 0 4px,#67b 0 5px,#35a 0 6px,#67b 0 7px,#67c 0 8px,#78c 0 9px,#56b 0 10px,#67b 0 11px,#78c 0 13px,#67b 0 14px,#45b 0 15px,#46b 0 16px,#67b 0 17px,#56b 0 18px,#78c 0 19px,#67b 0 20px,#dde 0 21px,#cde 0 22px,#67b 0 23px,#56b 0 24px,#35a 0 25px,#57b 0 26px,#67c 0 27px,#56b 0 29px,#78c 0 31px,#57b 0 32px,#67b 0 33px,#89c 0 34px,#dde 0 35px,#bce 0 36px,#cde 0 37px,#dde 0 38px,#fee 0 39px,#eee 0 40px,#eef 0 41px,#bbd 0 42px,#fff 0 43px,#fdd 0 44px,#eff 0 45px,#cce 0 46px,#ecc 0 47px,#fee 0 48px,#fff 0 49px,#ebb 0 50px)"></i><i style="top:28px;background:linear-gradient(90deg,#24a 0 5px,#abd 0 6px,#24a 0 12px,#35a 0 13px,#24a 0 31px,#bbd 0 32px,#24a 0 33px,#46b 0 34px,#9ad 0 35px,#78c 0 36px,#cce 0 37px,#dde 0 38px,#abd 0 39px,#cce 0 40px,#eef 0 41px,#dde 0 42px,#fff 0 43px,#dde 0 45px,#fff 0 46px,#dde 0 47px,#fee 0 48px,#eff 0 49px,#eef 0 50px)"></i><i style="top:29px;background:linear-gradient(90deg,#24a 0 8px,#34a 0 9px,#24a 0 11px,#35a 0 13px,#24a 0 18px,#35a 0 19px,#24a 0 20px,#46b 0 21px,#24a 0 29px,#34a 0 30px,#24a 0 33px,#46b 0 34px,#aad 0 35px,#89c 0 36px,#cce 0 37px,#bcd 0 38px,#eef 0 39px,#dde 0 40px,#fff 0 41px,#ebb 0 42px,#edd 0 44px,#eee 0 45px,#fee 0 46px,#edd 0 47px,#ebb 0 48px,#fee 0 49px,#eef 0 50px)"></i><i style="top:30px;background:linear-gradient(90deg,#67c 0 1px,#89c 0 2px,#46b 0 3px,#67c 0 4px,#68c 0 5px,#57b 0 6px,#68c 0 7px,#67c 0 8px,#78c 0 9px,#56b 0 10px,#57b 0 11px,#89c 0 13px,#67c 0 15px,#67b 0 17px,#56b 0 18px,#89c 0 19px,#67b 0 20px,#89c 0 21px,#68c 0 22px,#78c 0 23px,#dde 0 24px,#67b 0 25px,#dde 0 26px,#78c 0 28px,#cde 0 29px,#78c 0 31px,#67c 0 32px,#78c 0 33px,#89c 0 34px,#abd 0 35px,#cce 0 36px,#fff 0 37px,#fee 0 38px,#fff 0 39px,#eee 0 40px,#fdd 0 41px,#eee 0 42px,#ebb 0 43px,#fee 0 44px,#fff 0 45px,#fee 0 46px,#fff 0 47px,#ebb 0 48px,#ecc 0 49px,#fff 0 50px)"></i><i style="top:31px;background:linear-gradient(90deg,#56b 0 1px,#dde 0 2px,#56b 0 3px,#89c 0 4px,#67b 0 5px,#35a 0 6px,#67c 0 7px,#57b 0 8px,#78c 0 9px,#56b 0 11px,#68c 0 12px,#78c 0 13px,#46b 0 14px,#57b 0 15px,#67b 0 17px,#56b 0 18px,#78c 0 19px,#67c 0 20px,#79c 0 21px,#68c 0 22px,#67c 0 23px,#78c 0 24px,#56b 0 26px,#67b 0 27px,#78c 0 28px,#56b 0 29px,#89c 0 30px,#78c 0 31px,#67c 0 32px,#67b 0 33px,#9ad 0 34px,#cce 0 35px,#dde 0 36px,#cce 0 37px,#fee 0 39px,#eef 0 40px,#cde 0 41px,#fee 0 42px,#eef 0 43px,#edd 0 44px,#fee 0 45px,#eaa 0 46px,#fff 0 47px,#fee 0 49px,#bce 0 50px)"></i><i style="top:32px;background:linear-gradient(90deg,#45b 0 1px,#78c 0 2px,#46b 0 3px,#78c 0 4px,#67c 0 5px,#56b 0 6px,#67c 0 8px,#89c 0 9px,#67c 0 10px,#57b 0 11px,#89c 0 13px,#56b 0 14px,#45b 0 15px,#56b 0 16px,#67c 0 17px,#cde 0 18px,#67c 0 19px,#89c 0 21px,#56b 0 22px,#57b 0 23px,#67c 0 24px,#68c 0 25px,#67c 0 26px,#78c 0 27px,#67c 0 28px,#57b 0 29px,#89c 0 30px,#78c 0 31px,#67b 0 32px,#68c 0 33px,#dde 0 34px,#bbd 0 35px,#aad 0 36px,#dde 0 37px,#cde 0 38px,#dde 0 39px,#eef 0 40px,#dee 0 41px,#bce 0 42px,#fff 0 45px,#dee 0 46px,#edd 0 47px,#cce 0 48px,#fee 0 50px)"></i><i style="top:33px;background:linear-gradient(90deg,#24a 0 3px,#35a 0 5px,#24a 0 11px,#45b 0 12px,#56b 0 13px,#24a 0 16px,#34a 0 17px,#24a 0 18px,#bce 0 19px,#35a 0 20px,#45b 0 21px,#35a 0 22px,#24a 0 26px,#45b 0 27px,#34a 0 28px,#24a 0 29px,#34a 0 30px,#24a 0 33px,#78c 0 34px,#9ad 0 35px,#89c 0 36px,#cce 0 37px,#bcd 0 38px,#eef 0 40px,#ecc 0 41px,#eef 0 42px,#edd 0 43px,#dee 0 44px,#dde 0 45px,#fff 0 46px,#cde 0 47px,#fff 0 48px,#edd 0 50px)"></i><i style="top:34px;background:linear-gradient(90deg,#46b 0 1px,#89c 0 2px,#46b 0 3px,#89c 0 4px,#67c 0 5px,#45b 0 6px,#78c 0 7px,#68c 0 8px,#78c 0 9px,#56b 0 10px,#67b 0 11px,#89c 0 12px,#dde 0 13px,#67b 0 14px,#78c 0 15px,#67c 0 16px,#cde 0 17px,#56b 0 18px,#78c 0 20px,#89c 0 21px,#57b 0 22px,#46b 0 23px,#57b 0 24px,#56b 0 25px,#67c 0 26px,#78c 0 27px,#dde 0 28px,#57b 0 29px,#68c 0 30px,#9ad 0 31px,#89c 0 32px,#67c 0 33px,#9ad 0 34px,#bbd 0 35px,#cce 0 36px,#eef 0 37px,#dee 0 38px,#dde 0 39px,#dee 0 40px,#eef 0 41px,#edd 0 42px,#eee 0 43px,#ecc 0 44px,#dee 0 45px,#ecc 0 46px,#edd 0 47px,#fee 0 49px,#eef 0 50px)"></i><i style="top:35px;background:linear-gradient(90deg,#24a 0 6px,#bcd 0 7px,#24a 0 12px,#35a 0 13px,#24a 0 25px,#abd 0 26px,#24a 0 33px,#45b 0 34px,#abd 0 35px,#67c 0 36px,#dde 0 38px,#aad 0 39px,#bbd 0 40px,#bce 0 41px,#dde 0 43px,#fff 0 44px,#dde 0 45px,#fff 0 47px,#edd 0 48px,#dde 0 49px,#cde 0 50px)"></i><i style="top:36px;background:linear-gradient(90deg,#78c 0 1px,#89c 0 2px,#57b 0 3px,#89c 0 5px,#67b 0 6px,#89c 0 7px,#78c 0 8px,#89c 0 9px,#57b 0 10px,#67c 0 11px,#9ad 0 12px,#99c 0 13px,#67c 0 15px,#67b 0 16px,#78c 0 17px,#68c 0 18px,#78c 0 19px,#89c 0 20px,#99d 0 21px,#68c 0 22px,#78c 0 24px,#67b 0 25px,#78c 0 26px,#9ad 0 27px,#89c 0 29px,#9ad 0 30px,#89c 0 31px,#78c 0 32px,#67c 0 33px,#9ad 0 34px,#dde 0 35px,#bbd 0 36px,#fff 0 37px,#ecc 0 38px,#cce 0 39px,#eef 0 40px,#fff 0 41px,#fee 0 43px,#eef 0 44px,#fee 0 45px,#ebb 0 46px,#fff 0 47px,#edd 0 48px,#fff 0 50px)"></i><i style="top:37px;background:linear-gradient(90deg,#67b 0 1px,#68c 0 2px,#56b 0 3px,#67c 0 4px,#46b 0 5px,#45b 0 7px,#56b 0 8px,#67c 0 9px,#35a 0 10px,#45b 0 11px,#78c 0 12px,#68c 0 13px,#35a 0 14px,#cce 0 15px,#67b 0 16px,#67c 0 17px,#35a 0 18px,#56b 0 19px,#67c 0 20px,#78c 0 21px,#56b 0 22px,#57b 0 23px,#45b 0 24px,#35a 0 25px,#56b 0 26px,#78c 0 27px,#67b 0 28px,#45b 0 29px,#56b 0 30px,#cde 0 31px,#57b 0 32px,#56b 0 33px,#89c 0 34px,#abd 0 35px,#9ad 0 36px,#dee 0 37px,#dde 0 38px,#eff 0 39px,#bce 0 40px,#cde 0 41px,#dee 0 42px,#eef 0 43px,#ebb 0 44px,#fff 0 45px,#ecc 0 46px,#ebb 0 47px,#fde 0 48px,#fee 0 50px)"></i><i style="top:38px;background:linear-gradient(90deg,#24a 0 1px,#56b 0 2px,#24a 0 3px,#34a 0 4px,#35a 0 5px,#24a 0 6px,#35b 0 7px,#24a 0 8px,#56b 0 9px,#24a 0 11px,#56b 0 13px,#24a 0 14px,#cce 0 15px,#24a 0 16px,#35a 0 17px,#24a 0 18px,#46b 0 19px,#45b 0 20px,#35a 0 21px,#46b 0 22px,#34a 0 23px,#35a 0 24px,#24a 0 25px,#46b 0 26px,#35b 0 27px,#34a 0 28px,#24a 0 29px,#45b 0 30px,#56b 0 31px,#35a 0 32px,#45b 0 33px,#78c 0 34px,#abd 0 35px,#bbd 0 36px,#abd 0 37px,#dde 0 38px,#fee 0 39px,#eef 0 41px,#edd 0 42px,#cde 0 43px,#fff 0 44px,#ecc 0 45px,#fff 0 46px,#fee 0 47px,#dde 0 48px,#fde 0 49px,#ebb 0 50px)"></i><i style="top:39px;background:linear-gradient(90deg,#35a 0 1px,#56b 0 2px,#24a 0 3px,#35b 0 4px,#34a 0 5px,#24a 0 6px,#35a 0 7px,#35b 0 8px,#57b 0 9px,#24a 0 10px,#45b 0 11px,#56b 0 12px,#35a 0 13px,#34a 0 14px,#24a 0 16px,#45b 0 17px,#24a 0 18px,#46b 0 19px,#35b 0 20px,#45b 0 21px,#35a 0 22px,#35b 0 24px,#24a 0 25px,#45b 0 27px,#46b 0 28px,#24a 0 29px,#45b 0 30px,#35b 0 31px,#57b 0 32px,#35a 0 33px,#67b 0 34px,#abd 0 35px,#89c 0 36px,#eef 0 37px,#bbd 0 38px,#cde 0 39px,#fff 0 40px,#dde 0 42px,#fff 0 43px,#bce 0 44px,#ebb 0 45px,#edd 0 46px,#fff 0 47px,#eee 0 48px,#ecc 0 49px,#fee 0 50px)"></i><i style="top:40px;background:linear-gradient(90deg,#67c 0 1px,#89c 0 2px,#67b 0 3px,#9ad 0 4px,#78c 0 5px,#67b 0 6px,#89c 0 8px,#9ad 0 9px,#cde 0 10px,#67b 0 11px,#9ad 0 13px,#67b 0 14px,#89c 0 15px,#78c 0 19px,#dde 0 20px,#9ad 0 21px,#89c 0 22px,#78c 0 23px,#89c 0 24px,#cde 0 25px,#68c 0 26px,#78c 0 27px,#89c 0 28px,#9ad 0 29px,#89c 0 31px,#78c 0 32px,#89c 0 33px,#9ad 0 34px,#eff 0 35px,#dde 0 36px,#fff 0 38px,#eee 0 39px,#dde 0 40px,#eef 0 41px,#ecc 0 42px,#eff 0 43px,#fee 0 46px,#fdd 0 48px,#fee 0 50px)"></i><i style="top:41px;background:linear-gradient(90deg,#78c 0 1px,#9ad 0 2px,#67b 0 3px,#aad 0 4px,#89c 0 5px,#78c 0 6px,#89c 0 7px,#78c 0 8px,#89c 0 10px,#78c 0 11px,#89c 0 12px,#abd 0 13px,#78c 0 14px,#89c 0 15px,#78c 0 18px,#9ad 0 19px,#89c 0 20px,#9ad 0 21px,#89c 0 22px,#dde 0 23px,#78c 0 26px,#89c 0 28px,#78c 0 29px,#89c 0 30px,#78c 0 31px,#dde 0 32px,#78c 0 33px,#9ad 0 34px,#dee 0 35px,#eef 0 37px,#fee 0 38px,#dde 0 39px,#edd 0 40px,#fff 0 41px,#eef 0 42px,#ecc 0 43px,#fee 0 44px,#edd 0 46px,#ebb 0 47px,#edd 0 48px,#daa 0 49px,#eef 0 50px)"></i><i style="top:42px;background:linear-gradient(90deg,#24a 0 1px,#46b 0 2px,#24a 0 3px,#35a 0 4px,#24a 0 11px,#45b 0 12px,#35a 0 13px,#24a 0 14px,#34a 0 15px,#24a 0 18px,#35a 0 20px,#46b 0 21px,#24a 0 25px,#34a 0 26px,#24a 0 27px,#45b 0 28px,#24a 0 29px,#35a 0 30px,#34a 0 31px,#24a 0 32px,#34a 0 33px,#56b 0 34px,#aad 0 35px,#abd 0 37px,#dee 0 38px,#fff 0 39px,#bce 0 40px,#eef 0 41px,#dde 0 42px,#fff 0 44px,#dde 0 45px,#ecc 0 46px,#ebb 0 47px,#cde 0 48px,#fee 0 49px,#fff 0 50px)"></i><i style="top:43px;background:linear-gradient(90deg,#67b 0 1px,#68c 0 2px,#56b 0 3px,#78c 0 4px,#57b 0 5px,#56b 0 6px,#67b 0 7px,#56b 0 8px,#67c 0 9px,#56b 0 10px,#67b 0 11px,#78c 0 12px,#67c 0 13px,#67b 0 14px,#56b 0 16px,#67c 0 17px,#57b 0 18px,#67c 0 19px,#67b 0 20px,#dee 0 21px,#56b 0 23px,#67c 0 24px,#56b 0 26px,#67c 0 28px,#57b 0 30px,#78c 0 33px,#9ad 0 34px,#abd 0 35px,#bce 0 36px,#dde 0 37px,#cde 0 38px,#cce 0 39px,#bce 0 40px,#dde 0 41px,#fee 0 42px,#fff 0 43px,#eee 0 44px,#fee 0 45px,#ecc 0 46px,#eef 0 47px,#fff 0 48px,#eef 0 49px,#cce 0 50px)"></i><i style="top:44px;background:linear-gradient(90deg,#34a 0 1px,#67c 0 2px,#24a 0 3px,#68c 0 4px,#67c 0 5px,#35a 0 6px,#35b 0 7px,#56b 0 8px,#46b 0 11px,#78c 0 12px,#56b 0 13px,#46b 0 14px,#56b 0 16px,#45b 0 17px,#35b 0 18px,#67c 0 19px,#57b 0 20px,#78c 0 21px,#35a 0 22px,#56b 0 25px,#46b 0 26px,#78c 0 27px,#56b 0 28px,#45b 0 29px,#67c 0 30px,#56b 0 31px,#57b 0 33px,#78c 0 34px,#bbd 0 35px,#abd 0 36px,#eff 0 37px,#fff 0 38px,#dde 0 39px,#eef 0 41px,#fff 0 43px,#dee 0 44px,#fdd 0 45px,#fff 0 46px,#eff 0 47px,#eef 0 48px,#edd 0 49px,#eef 0 50px)"></i><i style="top:45px;background:linear-gradient(90deg,#24a 0 1px,#46b 0 2px,#bbd 0 3px,#34a 0 4px,#24a 0 6px,#35a 0 7px,#46b 0 9px,#24a 0 11px,#45b 0 12px,#34a 0 13px,#24a 0 14px,#34a 0 15px,#24a 0 16px,#35a 0 17px,#24a 0 18px,#45b 0 19px,#34a 0 20px,#56b 0 21px,#24a 0 23px,#35a 0 24px,#24a 0 26px,#35a 0 27px,#24a 0 28px,#34a 0 29px,#45b 0 30px,#24a 0 31px,#35b 0 32px,#45b 0 33px,#67c 0 34px,#aad 0 35px,#9ad 0 36px,#bbd 0 37px,#abd 0 38px,#bce 0 39px,#dde 0 40px,#cde 0 41px,#fff 0 42px,#cde 0 43px,#fff 0 45px,#fee 0 46px,#cde 0 47px,#eef 0 48px,#eee 0 49px,#fff 0 50px)"></i><i style="top:46px;background:linear-gradient(90deg,#56b 0 1px,#89c 0 2px,#67c 0 3px,#78c 0 4px,#89c 0 5px,#57b 0 6px,#67c 0 7px,#78c 0 8px,#89c 0 9px,#57b 0 10px,#56b 0 11px,#89c 0 13px,#56b 0 14px,#57b 0 15px,#78c 0 18px,#9ad 0 19px,#dde 0 20px,#99d 0 21px,#78c 0 22px,#89c 0 23px,#78c 0 24px,#67b 0 25px,#79c 0 26px,#78c 0 28px,#67c 0 29px,#9ad 0 30px,#78c 0 33px,#abd 0 34px,#bce 0 35px,#cce 0 36px,#fee 0 37px,#eef 0 38px,#ecc 0 39px,#ebb 0 40px,#eef 0 41px,#edd 0 43px,#fee 0 44px,#edd 0 45px,#ecc 0 46px,#edd 0 47px,#d9a 0 48px,#ecc 0 49px,#edd 0 50px)"></i><i style="top:47px;background:linear-gradient(90deg,#79c 0 1px,#89c 0 2px,#67c 0 3px,#aad 0 4px,#89c 0 5px,#67b 0 6px,#89c 0 8px,#9ad 0 9px,#57b 0 10px,#67b 0 11px,#aad 0 12px,#abd 0 13px,#78c 0 15px,#89c 0 16px,#9ad 0 17px,#78c 0 19px,#89c 0 20px,#9ad 0 22px,#79c 0 23px,#89c 0 24px,#68c 0 25px,#67c 0 26px,#78c 0 27px,#67b 0 28px,#78c 0 29px,#89c 0 30px,#78c 0 31px,#89c 0 32px,#9ad 0 34px,#abd 0 35px,#cde 0 36px,#fff 0 37px,#fee 0 38px,#dde 0 39px,#bce 0 40px,#edd 0 41px,#ecc 0 42px,#fff 0 45px,#edd 0 47px,#fff 0 48px,#fee 0 49px,#edd 0 50px)"></i><i style="top:48px;background:linear-gradient(90deg,#24a 0 3px,#45b 0 4px,#34a 0 5px,#24a 0 11px,#45b 0 12px,#34a 0 13px,#24a 0 18px,#45b 0 19px,#bce 0 20px,#46b 0 21px,#24a 0 30px,#35a 0 31px,#24a 0 33px,#57b 0 34px,#89c 0 35px,#78c 0 36px,#cce 0 37px,#fff 0 38px,#cde 0 39px,#bce 0 40px,#ebb 0 41px,#fff 0 42px,#dde 0 43px,#fdd 0 44px,#edd 0 45px,#dde 0 46px,#ecc 0 47px,#fee 0 49px,#cce 0 50px)"></i><i style="top:49px;background:linear-gradient(90deg,#24a 0 3px,#35a 0 4px,#24a 0 11px,#35b 0 12px,#34a 0 13px,#24a 0 16px,#35a 0 17px,#24a 0 18px,#bbd 0 19px,#35a 0 20px,#35b 0 21px,#24a 0 29px,#35a 0 30px,#24a 0 33px,#56b 0 34px,#89c 0 35px,#9ad 0 36px,#aad 0 37px,#bce 0 38px,#eff 0 39px,#bcd 0 40px,#bbd 0 41px,#dde 0 42px,#eee 0 43px,#dde 0 44px,#bce 0 45px,#eef 0 46px,#fee 0 47px,#fff 0 48px,#fee 0 49px,#fff 0 50px)"></i><i style="top:50px;background:linear-gradient(90deg,#24a 0 1px,#46b 0 2px,#24a 0 3px,#34a 0 4px,#24a 0 7px,#34a 0 9px,#24a 0 11px,#46b 0 12px,#35b 0 13px,#24a 0 16px,#34a 0 17px,#24a 0 18px,#35a 0 20px,#34a 0 21px,#24a 0 23px,#bbd 0 24px,#24a 0 26px,#34a 0 27px,#24a 0 29px,#35a 0 30px,#45b 0 31px,#24a 0 32px,#bcd 0 33px,#67b 0 34px,#89c 0 36px,#eff 0 37px,#bbd 0 39px,#fff 0 40px,#abd 0 41px,#eef 0 43px,#fee 0 45px,#fdd 0 46px,#fff 0 50px)"></i><i style="top:51px;background:linear-gradient(90deg,#57b 0 1px,#78c 0 2px,#57b 0 3px,#67c 0 4px,#78c 0 5px,#45b 0 6px,#68c 0 7px,#67c 0 8px,#dde 0 9px,#67b 0 10px,#57b 0 11px,#78c 0 12px,#67b 0 13px,#57b 0 14px,#78c 0 17px,#67c 0 18px,#9ad 0 19px,#89c 0 21px,#57b 0 22px,#78c 0 23px,#cde 0 24px,#67b 0 25px,#67c 0 26px,#9ad 0 27px,#78c 0 28px,#67b 0 29px,#dde 0 30px,#78c 0 31px,#67c 0 32px,#78c 0 33px,#9ad 0 34px,#bce 0 35px,#cce 0 36px,#fee 0 37px,#dee 0 38px,#bce 0 39px,#fff 0 40px,#cce 0 41px,#bbd 0 42px,#dde 0 43px,#fdd 0 44px,#eff 0 45px,#fff 0 46px,#dde 0 47px,#fff 0 48px,#eef 0 49px,#ebb 0 50px)"></i><i style="top:52px;background:linear-gradient(90deg,#24a 0 1px,#46b 0 2px,#24a 0 3px,#35a 0 5px,#bbd 0 6px,#34a 0 8px,#24a 0 11px,#56b 0 12px,#45b 0 13px,#24a 0 15px,#bcd 0 16px,#45b 0 17px,#24a 0 18px,#46b 0 19px,#57b 0 20px,#56b 0 21px,#24a 0 22px,#35a 0 24px,#34a 0 25px,#cce 0 26px,#34a 0 27px,#24a 0 29px,#56b 0 30px,#24a 0 31px,#35a 0 32px,#45b 0 33px,#56b 0 34px,#89c 0 35px,#78c 0 36px,#aad 0 37px,#dde 0 38px,#fff 0 39px,#eef 0 40px,#dde 0 41px,#eee 0 43px,#dde 0 44px,#fee 0 45px,#dde 0 46px,#fff 0 47px,#dde 0 48px,#edd 0 49px,#dde 0 50px)"></i><i style="top:53px;background:linear-gradient(90deg,#24a 0 6px,#bbd 0 7px,#24a 0 11px,#46b 0 12px,#35a 0 13px,#24a 0 18px,#46b 0 19px,#35a 0 21px,#24a 0 31px,#45b 0 32px,#24a 0 33px,#67c 0 34px,#9ad 0 35px,#abd 0 36px,#fee 0 37px,#eef 0 38px,#cce 0 39px,#eef 0 40px,#fee 0 41px,#dde 0 42px,#edd 0 43px,#eef 0 44px,#dee 0 45px,#fff 0 46px,#ecc 0 47px,#fdd 0 48px,#ebb 0 49px,#fee 0 50px)"></i><i style="top:54px;background:linear-gradient(90deg,#24a 0 1px,#67b 0 2px,#45b 0 3px,#57b 0 4px,#67c 0 5px,#45b 0 6px,#46b 0 7px,#35a 0 8px,#67c 0 9px,#34a 0 11px,#67b 0 12px,#78c 0 13px,#45b 0 15px,#cce 0 16px,#56b 0 17px,#46b 0 18px,#56b 0 19px,#57b 0 20px,#78c 0 21px,#35a 0 22px,#cce 0 24px,#35a 0 25px,#57b 0 26px,#56b 0 27px,#46b 0 28px,#35a 0 29px,#56b 0 31px,#46b 0 32px,#56b 0 33px,#89c 0 34px,#bbd 0 35px,#dee 0 36px,#eef 0 38px,#bce 0 39px,#eef 0 40px,#fdd 0 42px,#fee 0 43px,#eef 0 44px,#ecc 0 45px,#ebb 0 46px,#edd 0 47px,#ebc 0 48px,#eef 0 49px,#dde 0 50px)"></i><i style="top:55px;background:linear-gradient(90deg,#aad 0 1px,#eef 0 2px,#abd 0 3px,#aad 0 4px,#abd 0 5px,#89c 0 6px,#abd 0 7px,#dde 0 8px,#fff 0 9px,#eef 0 10px,#fff 0 12px,#fee 0 13px,#eff 0 14px,#fee 0 15px,#eef 0 16px,#fff 0 17px,#ebb 0 18px,#fff 0 19px,#fee 0 21px,#fff 0 22px,#fee 0 23px,#cce 0 24px,#bbd 0 25px,#dee 0 26px,#fff 0 27px,#fee 0 28px,#eef 0 29px,#cde 0 30px,#bcd 0 31px,#78c 0 32px,#46b 0 33px,#89c 0 34px,#ebb 0 35px,#ecc 0 36px,#d77 0 38px,#d99 0 39px,#d9a 0 40px,#d88 0 41px,#d99 0 42px,#c66 0 43px,#d77 0 44px,#d67 0 45px,#c66 0 48px,#d88 0 49px,#d77 0 50px)"></i><i style="top:56px;background:linear-gradient(90deg,#78c 0 1px,#9ad 0 2px,#67c 0 3px,#9ad 0 5px,#78c 0 6px,#89c 0 7px,#abd 0 8px,#cce 0 9px,#cde 0 10px,#eef 0 12px,#fee 0 13px,#9ad 0 14px,#fee 0 15px,#dde 0 16px,#fee 0 17px,#fff 0 18px,#eef 0 19px,#fff 0 20px,#cde 0 21px,#bbd 0 22px,#eef 0 23px,#dde 0 24px,#dee 0 25px,#bcd 0 26px,#dde 0 28px,#eef 0 29px,#aad 0 30px,#bbd 0 31px,#57b 0 32px,#abd 0 33px,#67c 0 34px,#fff 0 35px,#ebb 0 36px,#c55 0 37px,#c33 0 38px,#d77 0 39px,#c56 0 40px,#c66 0 41px,#c55 0 42px,#c44 0 43px,#b22 0 44px,#c33 0 45px,#c44 0 46px,#c34 0 47px,#b22 0 48px,#c55 0 49px,#c44 0 50px)"></i><i style="top:57px;background:linear-gradient(90deg,#99d 0 1px,#9ad 0 2px,#dde 0 3px,#9ad 0 6px,#bbd 0 7px,#9ad 0 8px,#dee 0 9px,#fff 0 10px,#eef 0 11px,#fff 0 12px,#eef 0 13px,#dde 0 15px,#fff 0 16px,#fee 0 17px,#fff 0 18px,#eef 0 19px,#fee 0 20px,#eef 0 21px,#dde 0 22px,#fff 0 23px,#bce 0 24px,#eef 0 25px,#cde 0 26px,#cce 0 27px,#bbd 0 28px,#cce 0 30px,#89c 0 31px,#78c 0 32px,#bce 0 33px,#89c 0 34px,#dde 0 35px,#fee 0 36px,#d88 0 37px,#d99 0 38px,#edd 0 39px,#d99 0 40px,#d9a 0 41px,#eaa 0 42px,#d77 0 43px,#d88 0 45px,#d89 0 46px,#c66 0 47px,#d77 0 48px,#d88 0 50px)"></i><i style="top:58px;background:linear-gradient(90deg,#78c 0 1px,#89c 0 2px,#67c 0 3px,#99c 0 4px,#89c 0 5px,#67c 0 6px,#9ad 0 7px,#abd 0 8px,#cde 0 9px,#bce 0 10px,#cde 0 11px,#fee 0 12px,#bce 0 13px,#eef 0 14px,#abd 0 15px,#fdd 0 16px,#edd 0 17px,#eee 0 18px,#fff 0 20px,#dee 0 21px,#fee 0 22px,#9ad 0 23px,#bbd 0 24px,#cce 0 25px,#eef 0 26px,#bce 0 27px,#cde 0 28px,#eff 0 29px,#abd 0 30px,#99d 0 31px,#67b 0 32px,#24a 0 33px,#78c 0 34px,#eef 0 35px,#ecc 0 36px,#d99 0 37px,#c66 0 38px,#daa 0 39px,#eaa 0 40px,#ebb 0 41px,#d89 0 42px,#c55 0 43px,#d77 0 46px,#edd 0 47px,#c66 0 48px,#d88 0 49px,#d77 0 50px)"></i><i style="top:59px;background:linear-gradient(90deg,#99d 0 1px,#bcd 0 2px,#dde 0 3px,#bcd 0 4px,#bbd 0 5px,#9ad 0 6px,#bcd 0 7px,#eef 0 8px,#bbd 0 9px,#cde 0 10px,#eee 0 11px,#fff 0 12px,#eff 0 13px,#dde 0 14px,#ecc 0 15px,#fff 0 16px,#dee 0 17px,#bbd 0 18px,#eef 0 19px,#fff 0 20px,#fdd 0 21px,#cde 0 22px,#eef 0 23px,#fee 0 24px,#eef 0 25px,#fee 0 26px,#dde 0 27px,#eef 0 28px,#eee 0 29px,#dde 0 30px,#abd 0 31px,#89c 0 32px,#35b 0 33px,#9ad 0 34px,#fff 0 35px,#ebb 0 36px,#d88 0 37px,#d99 0 39px,#d9a 0 40px,#eaa 0 41px,#d88 0 43px,#d77 0 46px,#d89 0 47px,#d88 0 48px,#d99 0 49px,#d89 0 50px)"></i><i style="top:60px;background:linear-gradient(90deg,#68c 0 1px,#57b 0 2px,#89c 0 4px,#67c 0 5px,#89c 0 6px,#78c 0 7px,#bbd 0 8px,#bce 0 9px,#fff 0 10px,#dde 0 11px,#eef 0 12px,#dde 0 13px,#fff 0 14px,#ebb 0 15px,#fee 0 16px,#eef 0 18px,#fff 0 21px,#cce 0 22px,#dde 0 23px,#abd 0 24px,#bbd 0 25px,#cce 0 26px,#eee 0 28px,#fff 0 29px,#bce 0 30px,#abd 0 31px,#56b 0 32px,#24a 0 33px,#89c 0 34px,#dde 0 35px,#eaa 0 36px,#c44 0 37px,#ecc 0 38px,#c66 0 39px,#d78 0 40px,#c56 0 41px,#c34 0 42px,#c44 0 43px,#c45 0 44px,#c33 0 45px,#c44 0 46px,#ecc 0 47px,#b33 0 48px,#c66 0 49px,#c45 0 50px)"></i><i style="top:61px;background:linear-gradient(90deg,#78c 0 1px,#89c 0 2px,#68c 0 3px,#89c 0 4px,#dde 0 5px,#78c 0 6px,#abd 0 8px,#eef 0 9px,#abd 0 10px,#dee 0 11px,#fee 0 12px,#fff 0 13px,#dde 0 14px,#fee 0 16px,#fff 0 17px,#edd 0 18px,#cde 0 19px,#cce 0 20px,#edd 0 21px,#bbd 0 22px,#fff 0 23px,#cce 0 24px,#fff 0 25px,#9ad 0 26px,#eef 0 27px,#fff 0 28px,#eee 0 29px,#bbd 0 30px,#78c 0 31px,#57b 0 32px,#24a 0 33px,#78c 0 34px,#dde 0 35px,#ebb 0 36px,#c66 0 38px,#d88 0 42px,#c55 0 43px,#c44 0 44px,#c45 0 45px,#c66 0 46px,#d88 0 47px,#c56 0 48px,#d77 0 49px,#c55 0 50px)"></i><i style="top:62px;background:linear-gradient(90deg,#89c 0 1px,#aad 0 2px,#78c 0 3px,#abd 0 5px,#89c 0 7px,#bce 0 8px,#eef 0 10px,#fff 0 11px,#cce 0 12px,#fff 0 13px,#eff 0 14px,#daa 0 15px,#eff 0 16px,#eef 0 17px,#ebb 0 18px,#edd 0 19px,#eff 0 20px,#dde 0 21px,#fff 0 22px,#bbd 0 23px,#dde 0 24px,#bce 0 25px,#dde 0 26px,#eff 0 27px,#dde 0 28px,#9ad 0 29px,#abd 0 30px,#99d 0 31px,#89c 0 32px,#34a 0 33px,#78c 0 34px,#dee 0 35px,#ecc 0 36px,#c66 0 37px,#c55 0 38px,#d88 0 39px,#d89 0 40px,#d99 0 41px,#c66 0 42px,#c55 0 43px,#c45 0 44px,#c66 0 45px,#c56 0 46px,#ecc 0 47px,#c55 0 48px,#edd 0 49px,#d77 0 50px)"></i><i style="top:63px;background:linear-gradient(90deg,#9ad 0 2px,#89c 0 4px,#bce 0 5px,#89c 0 6px,#abd 0 7px,#fff 0 8px,#bcd 0 9px,#dee 0 10px,#eef 0 11px,#cde 0 12px,#fee 0 14px,#fff 0 15px,#cde 0 16px,#ecc 0 17px,#fff 0 18px,#edd 0 19px,#cde 0 20px,#dde 0 21px,#eef 0 22px,#cde 0 23px,#fff 0 24px,#fee 0 25px,#bce 0 26px,#fff 0 27px,#fee 0 29px,#cce 0 30px,#9ad 0 31px,#89c 0 32px,#24a 0 33px,#aad 0 34px,#dde 0 35px,#eaa 0 36px,#d77 0 37px,#c66 0 38px,#d99 0 39px,#d88 0 40px,#d99 0 41px,#d88 0 42px,#c55 0 44px,#c66 0 45px,#c55 0 46px,#d77 0 47px,#c55 0 48px,#d77 0 49px,#c66 0 50px)"></i><i style="top:64px;background:linear-gradient(90deg,#9ad 0 1px,#bbd 0 2px,#aad 0 3px,#bce 0 4px,#abd 0 5px,#9ad 0 6px,#cde 0 7px,#9ad 0 8px,#eef 0 9px,#bce 0 10px,#eef 0 11px,#dde 0 12px,#fee 0 13px,#fff 0 14px,#edd 0 15px,#fff 0 17px,#edd 0 19px,#dee 0 20px,#fee 0 21px,#dde 0 22px,#fff 0 23px,#dee 0 24px,#eff 0 25px,#fff 0 26px,#cce 0 27px,#fee 0 29px,#dee 0 30px,#cce 0 31px,#99d 0 32px,#35a 0 33px,#abd 0 34px,#cce 0 35px,#ecc 0 36px,#edd 0 37px,#d77 0 38px,#d99 0 41px,#d88 0 42px,#ecc 0 43px,#c55 0 44px,#ecc 0 45px,#c66 0 46px,#d88 0 47px,#c56 0 48px,#c66 0 49px,#d77 0 50px)"></i><i style="top:65px;background:linear-gradient(90deg,#9ad 0 1px,#99d 0 2px,#78c 0 3px,#aad 0 4px,#bce 0 5px,#99c 0 6px,#abd 0 7px,#cde 0 8px,#dee 0 9px,#bbd 0 10px,#dde 0 11px,#eee 0 12px,#dde 0 13px,#eef 0 14px,#bbd 0 15px,#fff 0 16px,#bcd 0 17px,#fff 0 19px,#dde 0 20px,#eef 0 21px,#cce 0 22px,#fff 0 23px,#eef 0 24px,#fff 0 25px,#cde 0 26px,#dde 0 27px,#dee 0 28px,#fff 0 29px,#cce 0 31px,#78c 0 32px,#24a 0 33px,#78c 0 34px,#fff 0 35px,#eaa 0 36px,#d78 0 37px,#c66 0 38px,#d99 0 39px,#ecd 0 40px,#d88 0 41px,#d77 0 42px,#c44 0 43px,#c55 0 44px,#c66 0 45px,#d77 0 46px,#c55 0 47px,#c45 0 48px,#c56 0 49px,#c66 0 50px)"></i><i style="top:66px;background:linear-gradient(90deg,#abd 0 1px,#bce 0 2px,#99d 0 3px,#aad 0 4px,#9ad 0 5px,#79c 0 6px,#bbd 0 7px,#cce 0 9px,#dde 0 11px,#eef 0 13px,#fff 0 15px,#ecc 0 16px,#fff 0 18px,#eef 0 19px,#eee 0 20px,#eef 0 21px,#dde 0 22px,#cde 0 23px,#dee 0 24px,#fff 0 25px,#cde 0 26px,#dde 0 27px,#fff 0 29px,#bce 0 30px,#abd 0 31px,#9ad 0 32px,#35a 0 33px,#9ad 0 34px,#fff 0 35px,#d99 0 37px,#c55 0 38px,#d89 0 39px,#d67 0 40px,#d77 0 42px,#c55 0 45px,#c44 0 46px,#d77 0 47px,#c55 0 50px)"></i><i style="top:67px;background:linear-gradient(90deg,#89c 0 1px,#cce 0 2px,#abd 0 3px,#eef 0 4px,#bcd 0 5px,#89c 0 6px,#abd 0 7px,#dde 0 8px,#fff 0 9px,#dde 0 10px,#fff 0 11px,#ecc 0 12px,#fff 0 13px,#bcd 0 14px,#fff 0 15px,#ecc 0 16px,#eef 0 17px,#dde 0 18px,#fee 0 19px,#dde 0 20px,#ecc 0 21px,#dde 0 22px,#fff 0 24px,#cde 0 25px,#eff 0 26px,#cce 0 27px,#fff 0 28px,#fee 0 29px,#fff 0 30px,#bce 0 31px,#99c 0 32px,#67b 0 33px,#abd 0 34px,#fff 0 35px,#ebb 0 36px,#eaa 0 37px,#daa 0 38px,#fee 0 39px,#eaa 0 40px,#daa 0 41px,#eaa 0 42px,#d99 0 44px,#eaa 0 45px,#d99 0 48px,#daa 0 50px)"></i><i style="top:68px;background:linear-gradient(90deg,#67c 0 1px,#9ad 0 2px,#56b 0 3px,#89c 0 4px,#78c 0 5px,#89c 0 6px,#78c 0 7px,#9ad 0 8px,#cce 0 9px,#abd 0 10px,#bce 0 11px,#eee 0 12px,#cce 0 13px,#cde 0 14px,#bbd 0 15px,#fee 0 16px,#fff 0 17px,#dde 0 19px,#eef 0 20px,#fff 0 21px,#eee 0 22px,#bcd 0 23px,#dde 0 24px,#dee 0 25px,#abd 0 26px,#eef 0 28px,#dde 0 29px,#bbd 0 30px,#78c 0 31px,#57b 0 32px,#24a 0 33px,#57b 0 34px,#cce 0 35px,#ecc 0 36px,#d88 0 37px,#c66 0 38px,#d99 0 39px,#d89 0 40px,#d88 0 41px,#d77 0 42px,#c44 0 43px,#c66 0 44px,#c56 0 45px,#c55 0 46px,#d77 0 49px,#d78 0 50px)"></i><i style="top:69px;background:linear-gradient(90deg,#67c 0 1px,#89c 0 4px,#9ad 0 5px,#67b 0 6px,#9ad 0 7px,#dde 0 8px,#9ad 0 9px,#aad 0 10px,#cce 0 11px,#eef 0 12px,#fff 0 13px,#dde 0 14px,#eef 0 15px,#fff 0 16px,#edd 0 17px,#fff 0 18px,#fee 0 19px,#cce 0 20px,#9ad 0 21px,#dde 0 22px,#abd 0 23px,#cde 0 24px,#89c 0 25px,#dde 0 26px,#eff 0 27px,#dee 0 28px,#aad 0 29px,#bce 0 30px,#dde 0 31px,#68c 0 32px,#24a 0 33px,#57b 0 34px,#fdd 0 35px,#fee 0 36px,#d77 0 37px,#d88 0 39px,#d99 0 40px,#d78 0 41px,#d99 0 42px,#c66 0 43px,#c44 0 44px,#c45 0 45px,#c66 0 47px,#c55 0 48px,#c56 0 49px,#c66 0 50px)"></i><i style="top:70px;background:linear-gradient(90deg,#9ad 0 1px,#eef 0 2px,#bcd 0 3px,#bbd 0 5px,#abd 0 6px,#cde 0 7px,#eef 0 8px,#cde 0 9px,#edd 0 10px,#dde 0 11px,#fee 0 12px,#fff 0 13px,#dde 0 14px,#cce 0 15px,#fee 0 16px,#edd 0 17px,#fff 0 18px,#dee 0 19px,#dde 0 20px,#bce 0 21px,#fff 0 22px,#dee 0 23px,#eee 0 24px,#eef 0 25px,#eee 0 26px,#fff 0 27px,#dde 0 28px,#cde 0 29px,#cce 0 30px,#abd 0 31px,#9ad 0 32px,#78c 0 33px,#bbd 0 34px,#edd 0 35px,#fee 0 36px,#d88 0 37px,#d99 0 38px,#eaa 0 39px,#daa 0 41px,#eaa 0 42px,#d99 0 43px,#d88 0 44px,#ebb 0 45px,#d77 0 46px,#daa 0 47px,#d88 0 48px,#d78 0 49px,#daa 0 50px)"></i><i style="top:71px;background:linear-gradient(90deg,#abd 0 1px,#bbd 0 2px,#89c 0 3px,#bce 0 4px,#aad 0 7px,#dde 0 8px,#eef 0 9px,#fff 0 10px,#eef 0 11px,#cde 0 12px,#fee 0 13px,#eef 0 16px,#fdd 0 17px,#fee 0 19px,#fff 0 20px,#cde 0 21px,#eef 0 22px,#cce 0 23px,#bbd 0 25px,#eef 0 26px,#fff 0 27px,#fee 0 28px,#dde 0 30px,#bbd 0 31px,#9ad 0 32px,#67c 0 33px,#89c 0 34px,#fff 0 35px,#edd 0 36px,#eab 0 37px,#d88 0 38px,#ebb 0 39px,#daa 0 40px,#eaa 0 41px,#daa 0 42px,#d78 0 43px,#d88 0 44px,#edd 0 46px,#eaa 0 47px,#d99 0 48px,#eaa 0 49px,#d88 0 50px)"></i><i style="top:72px;background:linear-gradient(90deg,#56b 0 1px,#89c 0 2px,#67c 0 3px,#9ad 0 4px,#68c 0 5px,#56b 0 6px,#89c 0 7px,#99d 0 8px,#dde 0 9px,#abd 0 10px,#aad 0 11px,#eef 0 13px,#abd 0 14px,#eef 0 16px,#fee 0 17px,#edd 0 18px,#eef 0 19px,#dde 0 20px,#fff 0 21px,#dde 0 22px,#bbd 0 23px,#cce 0 24px,#bbd 0 25px,#bce 0 26px,#dde 0 27px,#eee 0 28px,#abd 0 29px,#cce 0 30px,#9ad 0 31px,#78c 0 32px,#34a 0 33px,#78c 0 34px,#cde 0 35px,#ebb 0 36px,#ecc 0 37px,#eaa 0 38px,#ecc 0 39px,#ebb 0 40px,#eaa 0 41px,#d99 0 42px,#ecc 0 43px,#d89 0 44px,#d9a 0 45px,#d99 0 46px,#ebb 0 47px,#d88 0 48px,#d99 0 50px)"></i><i style="top:73px;background:linear-gradient(90deg,#57b 0 1px,#abd 0 2px,#78c 0 4px,#89c 0 5px,#67c 0 6px,#89c 0 8px,#aad 0 9px,#bbd 0 10px,#bce 0 11px,#cce 0 12px,#dee 0 13px,#cce 0 14px,#dde 0 15px,#cde 0 16px,#dde 0 20px,#abd 0 21px,#cde 0 22px,#89c 0 23px,#aad 0 24px,#9ad 0 25px,#abd 0 26px,#eef 0 27px,#dde 0 29px,#cce 0 30px,#89c 0 32px,#46b 0 33px,#78c 0 34px,#cde 0 35px,#cce 0 36px,#ebb 0 37px,#edd 0 38px,#fee 0 40px,#edd 0 41px,#ebb 0 44px,#daa 0 45px,#ebb 0 46px,#d9a 0 47px,#d99 0 48px,#ebb 0 49px,#ecc 0 50px)"></i><i style="top:74px;background:linear-gradient(90deg,#aad 0 1px,#99d 0 2px,#89c 0 3px,#9ad 0 4px,#99c 0 5px,#78c 0 6px,#bcd 0 7px,#dde 0 8px,#bbd 0 10px,#cde 0 11px,#dde 0 12px,#bbd 0 13px,#cce 0 14px,#abd 0 15px,#dde 0 16px,#eef 0 17px,#edd 0 18px,#dee 0 20px,#fff 0 21px,#cde 0 22px,#bce 0 24px,#cde 0 25px,#bce 0 26px,#dde 0 27px,#eef 0 28px,#bcd 0 29px,#bce 0 30px,#aad 0 31px,#9ad 0 32px,#67b 0 33px,#9ad 0 34px,#eef 0 36px,#fee 0 37px,#fdd 0 38px,#ecc 0 40px,#fee 0 41px,#edd 0 42px,#fee 0 44px,#ebb 0 45px,#ecc 0 46px,#edd 0 47px,#daa 0 48px,#ebb 0 49px,#ecc 0 50px)"></i><i style="top:75px;background:linear-gradient(90deg,#78c 0 1px,#9ad 0 2px,#57b 0 3px,#68c 0 4px,#89c 0 5px,#56b 0 6px,#89c 0 7px,#abd 0 8px,#bbd 0 9px,#abd 0 10px,#cce 0 11px,#abd 0 12px,#cde 0 13px,#abd 0 14px,#dde 0 15px,#eef 0 16px,#eee 0 17px,#fff 0 19px,#dde 0 21px,#bbd 0 23px,#abd 0 24px,#bce 0 25px,#cce 0 26px,#dee 0 27px,#bbd 0 28px,#eee 0 29px,#cce 0 30px,#9ad 0 31px,#67c 0 32px,#34a 0 33px,#89c 0 34px,#cde 0 35px,#fee 0 36px,#d77 0 37px,#eaa 0 38px,#d88 0 40px,#d99 0 43px,#d77 0 44px,#eaa 0 45px,#c66 0 46px,#d78 0 48px,#d99 0 49px,#daa 0 50px)"></i><i style="top:76px;background:linear-gradient(90deg,#24a 0 1px,#45b 0 2px,#24a 0 3px,#34a 0 4px,#46b 0 5px,#24a 0 6px,#35a 0 7px,#57b 0 8px,#67c 0 10px,#78c 0 11px,#9ad 0 12px,#78c 0 13px,#dde 0 14px,#89c 0 15px,#eef 0 16px,#cce 0 17px,#eef 0 18px,#fff 0 19px,#eee 0 20px,#bbd 0 21px,#89c 0 22px,#46b 0 23px,#cde 0 24px,#67b 0 25px,#68c 0 26px,#bbd 0 27px,#cce 0 28px,#9ad 0 29px,#89c 0 30px,#78c 0 31px,#35a 0 32px,#24a 0 33px,#35a 0 34px,#aad 0 35px,#edd 0 36px,#ebb 0 37px,#d99 0 38px,#edd 0 40px,#ebb 0 41px,#fee 0 42px,#ecc 0 43px,#eaa 0 44px,#edd 0 45px,#d88 0 46px,#ecc 0 47px,#ebb 0 49px,#fee 0 50px)"></i><i style="top:77px;background:linear-gradient(90deg,#cce 0 1px,#67b 0 2px,#45b 0 3px,#57b 0 4px,#68c 0 5px,#56b 0 6px,#57b 0 8px,#9ad 0 9px,#78c 0 10px,#9ad 0 11px,#bbd 0 12px,#9ad 0 13px,#dde 0 14px,#dee 0 15px,#bbd 0 16px,#eef 0 17px,#abd 0 18px,#fee 0 19px,#cde 0 20px,#abd 0 21px,#9ad 0 23px,#89c 0 25px,#99d 0 26px,#cce 0 27px,#9ad 0 28px,#abd 0 30px,#89c 0 31px,#46b 0 32px,#24a 0 33px,#67c 0 34px,#abd 0 35px,#eef 0 36px,#ecc 0 37px,#fdd 0 38px,#dee 0 39px,#fff 0 41px,#ecc 0 42px,#edd 0 44px,#fff 0 45px,#ebb 0 46px,#fee 0 47px,#edd 0 49px,#fee 0 50px)"></i><i style="top:78px;background:linear-gradient(90deg,#45b 0 1px,#57b 0 2px,#24a 0 3px,#57b 0 4px,#67b 0 5px,#46b 0 6px,#57b 0 8px,#9ad 0 9px,#89c 0 10px,#79c 0 11px,#9ad 0 12px,#89c 0 15px,#bcd 0 18px,#dde 0 19px,#bcd 0 20px,#cde 0 21px,#89c 0 22px,#79c 0 23px,#aad 0 24px,#dde 0 25px,#78c 0 26px,#bcd 0 27px,#eee 0 28px,#9ad 0 29px,#abd 0 30px,#68c 0 31px,#67c 0 32px,#abd 0 33px,#56b 0 34px,#bce 0 35px,#dde 0 36px,#ecc 0 39px,#fee 0 40px,#ecc 0 41px,#fee 0 42px,#ebb 0 43px,#fee 0 44px,#edd 0 45px,#ebb 0 46px,#ecc 0 47px,#ebb 0 48px,#edd 0 49px,#fdd 0 50px)"></i><i style="top:79px;background:linear-gradient(90deg,#67c 0 1px,#abd 0 2px,#56b 0 3px,#68c 0 4px,#89c 0 5px,#57b 0 6px,#89c 0 7px,#9ad 0 8px,#aad 0 9px,#cce 0 10px,#bbd 0 11px,#eef 0 12px,#cde 0 13px,#abd 0 14px,#eee 0 15px,#eef 0 18px,#eff 0 19px,#eee 0 20px,#eef 0 21px,#9ad 0 22px,#bbd 0 23px,#dde 0 24px,#abd 0 25px,#bce 0 26px,#eef 0 28px,#dde 0 29px,#bce 0 30px,#9ad 0 31px,#89c 0 32px,#45b 0 33px,#9ad 0 34px,#fff 0 35px,#eef 0 36px,#eaa 0 37px,#d88 0 38px,#fee 0 39px,#eaa 0 40px,#d77 0 41px,#ecc 0 42px,#eab 0 43px,#d99 0 44px,#d9a 0 45px,#d88 0 46px,#d99 0 48px,#ebb 0 49px,#ecc 0 50px)"></i><i style="top:80px;background:linear-gradient(90deg,#67b 0 1px,#79c 0 2px,#57b 0 3px,#89c 0 4px,#78c 0 5px,#57b 0 6px,#67c 0 7px,#9ad 0 8px,#abd 0 9px,#89c 0 10px,#bbd 0 11px,#cce 0 12px,#bce 0 13px,#cce 0 14px,#abd 0 15px,#fff 0 16px,#eee 0 17px,#dee 0 18px,#fff 0 19px,#dde 0 21px,#aad 0 22px,#bce 0 23px,#9ad 0 24px,#aad 0 25px,#cde 0 26px,#eef 0 27px,#dde 0 28px,#eef 0 29px,#9ad 0 30px,#89c 0 32px,#24a 0 33px,#89c 0 34px,#abd 0 35px,#ecc 0 37px,#eaa 0 38px,#ebb 0 39px,#daa 0 40px,#edd 0 42px,#d88 0 43px,#ebb 0 44px,#d99 0 46px,#eaa 0 47px,#ebb 0 48px,#ecc 0 49px,#daa 0 50px)"></i><i style="top:81px;background:linear-gradient(90deg,#67b 0 1px,#89c 0 2px,#57b 0 3px,#89c 0 4px,#78c 0 5px,#67b 0 6px,#78c 0 7px,#abd 0 8px,#9ad 0 10px,#bce 0 11px,#dde 0 12px,#bbd 0 13px,#bce 0 14px,#bbd 0 15px,#fff 0 16px,#fdd 0 17px,#fee 0 18px,#dde 0 21px,#bbd 0 23px,#bcd 0 24px,#9ad 0 26px,#cce 0 28px,#eef 0 29px,#abd 0 30px,#89c 0 31px,#67c 0 32px,#24a 0 33px,#67b 0 34px,#fff 0 35px,#edd 0 36px,#daa 0 37px,#ecc 0 39px,#ebb 0 40px,#daa 0 41px,#d99 0 42px,#eaa 0 43px,#d99 0 44px,#ebb 0 45px,#eaa 0 46px,#fdd 0 47px,#eaa 0 48px,#ecc 0 49px,#edd 0 50px)"></i><i style="top:82px;background:linear-gradient(90deg,#24a 0 1px,#56b 0 2px,#24a 0 3px,#67b 0 4px,#46b 0 5px,#24a 0 6px,#67c 0 7px,#78c 0 8px,#89c 0 10px,#9ad 0 12px,#bce 0 13px,#9ad 0 14px,#dde 0 15px,#9ad 0 17px,#fee 0 18px,#fff 0 19px,#dde 0 20px,#cce 0 21px,#67c 0 22px,#9ad 0 23px,#78c 0 25px,#89c 0 26px,#cce 0 27px,#eee 0 28px,#abd 0 29px,#bbd 0 30px,#78c 0 31px,#35a 0 32px,#24a 0 33px,#46b 0 34px,#eef 0 35px,#fff 0 36px,#ebb 0 37px,#ecc 0 38px,#fde 0 39px,#fee 0 40px,#eaa 0 41px,#ecc 0 42px,#d89 0 43px,#d99 0 44px,#daa 0 45px,#d99 0 46px,#edd 0 47px,#d99 0 48px,#fee 0 49px,#daa 0 50px)"></i><i style="top:83px;background:linear-gradient(90deg,#35a 0 1px,#56b 0 2px,#45b 0 3px,#78c 0 4px,#67c 0 5px,#46b 0 6px,#67c 0 7px,#57b 0 8px,#aad 0 9px,#89c 0 10px,#dde 0 12px,#abd 0 13px,#dee 0 14px,#dde 0 16px,#aad 0 17px,#fff 0 18px,#cce 0 19px,#fee 0 20px,#dde 0 21px,#9ad 0 23px,#bbd 0 24px,#abd 0 26px,#cce 0 27px,#bce 0 28px,#abd 0 30px,#78c 0 31px,#46b 0 32px,#24a 0 33px,#57b 0 34px,#dde 0 35px,#fff 0 36px,#ebc 0 37px,#edd 0 38px,#ebb 0 39px,#eaa 0 41px,#edd 0 42px,#d99 0 43px,#d88 0 44px,#eaa 0 45px,#d88 0 46px,#daa 0 47px,#ebb 0 49px,#daa 0 50px)"></i><i style="top:84px;background:linear-gradient(90deg,#24a 0 1px,#35a 0 2px,#24a 0 3px,#45b 0 4px,#46b 0 5px,#24a 0 6px,#46b 0 7px,#56b 0 8px,#57b 0 9px,#cde 0 10px,#89c 0 11px,#9ad 0 13px,#89c 0 14px,#dde 0 15px,#9ad 0 16px,#bcd 0 17px,#bbd 0 18px,#abd 0 19px,#89c 0 21px,#78c 0 22px,#67c 0 23px,#78c 0 25px,#9ad 0 26px,#89c 0 27px,#9ad 0 28px,#89c 0 30px,#57b 0 31px,#35a 0 32px,#24a 0 33px,#67b 0 34px,#fee 0 35px,#ebb 0 36px,#c66 0 37px,#d77 0 38px,#edd 0 39px,#c66 0 40px,#d88 0 42px,#c66 0 43px,#c34 0 44px,#c56 0 45px,#c66 0 46px,#c45 0 47px,#c66 0 48px,#d77 0 49px,#d88 0 50px)"></i><i style="top:85px;background:linear-gradient(90deg,#46b 0 1px,#57b 0 2px,#56b 0 3px,#78c 0 4px,#56b 0 5px,#bce 0 6px,#57b 0 7px,#67b 0 8px,#78c 0 9px,#67c 0 10px,#78c 0 11px,#abd 0 13px,#dde 0 14px,#9ad 0 15px,#99d 0 16px,#eef 0 17px,#abd 0 18px,#9ad 0 19px,#bbd 0 20px,#aad 0 21px,#89c 0 22px,#67b 0 23px,#78c 0 25px,#99d 0 26px,#abd 0 27px,#bbd 0 28px,#cce 0 29px,#9ad 0 30px,#89c 0 31px,#cde 0 32px,#24a 0 33px,#78c 0 34px,#fee 0 35px,#d99 0 36px,#c66 0 37px,#d77 0 38px,#d99 0 39px,#d88 0 41px,#d67 0 42px,#c44 0 43px,#c56 0 44px,#c66 0 46px,#d77 0 47px,#d78 0 48px,#d88 0 49px,#d77 0 50px)"></i><i style="top:86px;background:linear-gradient(90deg,#46b 0 1px,#67c 0 2px,#45b 0 3px,#89c 0 4px,#57b 0 5px,#24a 0 6px,#67c 0 7px,#68c 0 8px,#9ad 0 9px,#89c 0 10px,#9ad 0 11px,#cce 0 12px,#abd 0 13px,#9ad 0 14px,#eef 0 15px,#dde 0 16px,#bcd 0 17px,#bbd 0 18px,#eef 0 19px,#bbd 0 20px,#dde 0 21px,#89c 0 23px,#78c 0 24px,#99c 0 25px,#89c 0 26px,#abd 0 27px,#bbd 0 28px,#aad 0 30px,#78c 0 32px,#24a 0 33px,#9ad 0 34px,#fff 0 35px,#d88 0 36px,#c66 0 37px,#c55 0 38px,#d88 0 39px,#c66 0 40px,#d77 0 41px,#c66 0 42px,#c44 0 43px,#c45 0 44px,#ecc 0 45px,#c56 0 46px,#c55 0 47px,#c44 0 48px,#c55 0 49px,#c66 0 50px)"></i><i style="top:87px;background:linear-gradient(90deg,#45b 0 1px,#cde 0 2px,#45b 0 3px,#67b 0 5px,#34a 0 6px,#78c 0 7px,#cde 0 8px,#9ad 0 9px,#78c 0 10px,#89c 0 11px,#abd 0 12px,#9ad 0 13px,#bbd 0 14px,#9ad 0 15px,#abd 0 16px,#bcd 0 17px,#abd 0 18px,#dde 0 19px,#bcd 0 20px,#cce 0 21px,#9ad 0 23px,#89c 0 25px,#99d 0 26px,#bcd 0 27px,#9ad 0 29px,#dee 0 30px,#78c 0 31px,#56b 0 32px,#24a 0 33px,#89c 0 34px,#fee 0 35px,#d88 0 36px,#d77 0 37px,#c66 0 38px,#d67 0 39px,#c66 0 40px,#d78 0 41px,#c45 0 42px,#c55 0 43px,#c44 0 44px,#c45 0 45px,#c44 0 46px,#c55 0 47px,#c45 0 48px,#c55 0 49px,#d77 0 50px)"></i><i style="top:88px;background:linear-gradient(90deg,#24a 0 1px,#45b 0 2px,#24a 0 3px,#35b 0 4px,#35a 0 5px,#34a 0 6px,#45b 0 7px,#46b 0 8px,#67c 0 9px,#67b 0 10px,#68c 0 11px,#89c 0 13px,#78c 0 14px,#dde 0 15px,#78c 0 16px,#9ad 0 17px,#abd 0 19px,#79c 0 20px,#9ad 0 21px,#67c 0 22px,#56b 0 23px,#78c 0 24px,#67c 0 26px,#99c 0 27px,#89c 0 28px,#9ad 0 29px,#79c 0 30px,#56b 0 32px,#24a 0 33px,#35a 0 34px,#cce 0 35px,#fee 0 36px,#d88 0 39px,#d9a 0 40px,#d99 0 42px,#c66 0 44px,#d99 0 45px,#d77 0 46px,#edd 0 47px,#c66 0 48px,#d77 0 49px,#eaa 0 50px)"></i><i style="top:89px;background:linear-gradient(90deg,#34a 0 1px,#57b 0 2px,#34a 0 3px,#56b 0 4px,#dde 0 5px,#35a 0 6px,#78c 0 7px,#57b 0 8px,#dde 0 9px,#89c 0 10px,#aad 0 11px,#bcd 0 12px,#89c 0 15px,#bbd 0 16px,#cce 0 17px,#abd 0 18px,#eef 0 19px,#9ad 0 20px,#abd 0 21px,#9ad 0 22px,#78c 0 23px,#89c 0 24px,#67b 0 25px,#89c 0 26px,#9ad 0 27px,#bce 0 28px,#bbd 0 29px,#dde 0 30px,#78c 0 31px,#56b 0 32px,#24a 0 33px,#67c 0 34px,#fee 0 35px,#ecc 0 36px,#d77 0 37px,#c66 0 38px,#d88 0 39px,#c67 0 40px,#d77 0 41px,#d88 0 42px,#c66 0 46px,#d77 0 47px,#c55 0 48px,#c66 0 49px,#d67 0 50px)"></i><i style="top:90px;background:linear-gradient(90deg,#24a 0 1px,#67b 0 2px,#45b 0 3px,#56b 0 4px,#46b 0 5px,#24a 0 7px,#35a 0 8px,#89c 0 9px,#78c 0 10px,#68c 0 11px,#9ad 0 13px,#99d 0 14px,#78c 0 15px,#89c 0 16px,#bbd 0 17px,#abd 0 18px,#cce 0 19px,#dde 0 20px,#89c 0 22px,#67c 0 23px,#67b 0 24px,#56b 0 25px,#67c 0 26px,#89c 0 27px,#78c 0 28px,#aad 0 29px,#9ad 0 30px,#46b 0 31px,#56b 0 32px,#24a 0 33px,#dde 0 34px,#abd 0 35px,#fee 0 36px,#d77 0 38px,#d99 0 39px,#d88 0 40px,#d99 0 41px,#edd 0 42px,#c66 0 44px,#d77 0 45px,#c66 0 46px,#d78 0 47px,#d88 0 48px,#d77 0 49px,#d88 0 50px)"></i><i style="top:91px;background:linear-gradient(90deg,#78c 0 1px,#89c 0 2px,#78c 0 3px,#9ad 0 4px,#abd 0 5px,#78c 0 6px,#9ad 0 7px,#89c 0 8px,#bcd 0 9px,#9ad 0 10px,#bcd 0 11px,#cce 0 12px,#cde 0 13px,#eef 0 15px,#abd 0 16px,#cce 0 17px,#bce 0 19px,#cde 0 20px,#dee 0 21px,#bbd 0 23px,#cce 0 24px,#9ad 0 26px,#cce 0 27px,#dde 0 28px,#eef 0 29px,#bce 0 30px,#9ad 0 31px,#89c 0 32px,#67b 0 33px,#eee 0 34px,#cde 0 35px,#edd 0 36px,#d99 0 37px,#eaa 0 39px,#ebb 0 42px,#eaa 0 43px,#d9a 0 44px,#d88 0 46px,#eaa 0 47px,#d88 0 48px,#edd 0 49px,#d99 0 50px)"></i><i style="top:92px;background:linear-gradient(90deg,#78c 0 1px,#dde 0 2px,#67b 0 3px,#89c 0 4px,#9ad 0 5px,#78c 0 6px,#89c 0 7px,#9ad 0 8px,#abd 0 9px,#9ad 0 10px,#bcd 0 11px,#bce 0 12px,#cde 0 13px,#9ad 0 14px,#bbd 0 15px,#bcd 0 16px,#cde 0 17px,#bcd 0 18px,#cde 0 20px,#dde 0 22px,#aad 0 23px,#dee 0 24px,#9ad 0 26px,#cce 0 27px,#cde 0 28px,#dde 0 29px,#bbd 0 30px,#89c 0 32px,#57b 0 33px,#aad 0 34px,#eff 0 35px,#ebb 0 36px,#eab 0 37px,#d9a 0 38px,#d88 0 39px,#eaa 0 40px,#d99 0 41px,#fdd 0 42px,#d77 0 43px,#d88 0 44px,#d99 0 45px,#d88 0 48px,#d78 0 49px,#d88 0 50px)"></i><i style="top:93px;background:linear-gradient(90deg,#67b 0 1px,#89c 0 2px,#56b 0 3px,#78c 0 4px,#67b 0 6px,#78c 0 8px,#abd 0 9px,#99d 0 10px,#9ad 0 11px,#bce 0 12px,#cce 0 13px,#bbd 0 14px,#9ad 0 15px,#dde 0 16px,#eef 0 17px,#fff 0 18px,#eef 0 19px,#cde 0 20px,#eef 0 21px,#bbd 0 22px,#abd 0 23px,#9ad 0 26px,#bce 0 27px,#cce 0 28px,#bce 0 30px,#99d 0 31px,#78c 0 32px,#34a 0 33px,#aad 0 34px,#edd 0 35px,#daa 0 36px,#c55 0 37px,#c66 0 38px,#ecd 0 39px,#c66 0 42px,#c55 0 43px,#c45 0 44px,#c55 0 47px,#b33 0 48px,#c44 0 49px,#c56 0 50px)"></i><i style="top:94px;background:linear-gradient(90deg,#67c 0 1px,#dde 0 2px,#67c 0 3px,#89c 0 4px,#78c 0 5px,#cce 0 6px,#78c 0 7px,#89c 0 8px,#bbd 0 9px,#9ad 0 11px,#abd 0 12px,#cde 0 13px,#bcd 0 14px,#aad 0 15px,#bbd 0 16px,#bcd 0 17px,#fff 0 18px,#eef 0 19px,#cde 0 20px,#bce 0 21px,#9ad 0 26px,#abd 0 27px,#bce 0 28px,#89c 0 29px,#9ad 0 30px,#78c 0 31px,#57b 0 32px,#45b 0 33px,#9ad 0 34px,#eab 0 35px,#ebb 0 36px,#d77 0 37px,#ecc 0 38px,#d99 0 40px,#eaa 0 41px,#d88 0 42px,#d99 0 43px,#d77 0 44px,#d88 0 45px,#edd 0 46px,#d77 0 47px,#edd 0 48px,#d67 0 49px,#d88 0 50px)"></i><i style="top:95px;background:linear-gradient(90deg,#cde 0 1px,#89c 0 2px,#56b 0 3px,#99d 0 4px,#78c 0 5px,#79c 0 6px,#89c 0 7px,#9ad 0 8px,#bbd 0 9px,#89c 0 11px,#bbd 0 12px,#cde 0 13px,#9ad 0 14px,#abd 0 15px,#eef 0 16px,#eee 0 17px,#abd 0 18px,#eef 0 19px,#bbd 0 20px,#cce 0 21px,#abd 0 22px,#9ad 0 23px,#aad 0 24px,#9ad 0 26px,#bce 0 27px,#bbd 0 28px,#eef 0 29px,#bce 0 30px,#89c 0 31px,#78c 0 32px,#57b 0 33px,#89c 0 34px,#eef 0 35px,#ebb 0 36px,#d99 0 37px,#d89 0 39px,#daa 0 40px,#d99 0 42px,#d88 0 43px,#d78 0 44px,#d88 0 45px,#daa 0 47px,#d77 0 48px,#d99 0 50px)"></i><i style="top:96px;background:linear-gradient(90deg,#45b 0 1px,#67c 0 2px,#45b 0 3px,#56b 0 4px,#57b 0 5px,#45b 0 6px,#56b 0 7px,#67b 0 8px,#68c 0 9px,#89c 0 11px,#abd 0 12px,#bbd 0 13px,#78c 0 14px,#bbd 0 15px,#9ad 0 16px,#bce 0 17px,#bcd 0 18px,#abd 0 20px,#aad 0 21px,#99c 0 22px,#78c 0 23px,#89c 0 24px,#68c 0 25px,#78c 0 26px,#abd 0 28px,#bce 0 29px,#9ad 0 30px,#78c 0 31px,#45b 0 32px,#24a 0 33px,#67b 0 34px,#fff 0 35px,#edd 0 36px,#c66 0 38px,#d89 0 39px,#d78 0 40px,#d88 0 42px,#c55 0 44px,#c56 0 45px,#c66 0 46px,#d77 0 47px,#c55 0 48px,#d78 0 49px,#d88 0 50px)"></i><i style="top:97px;background:linear-gradient(90deg,#89c 0 1px,#abd 0 2px,#89c 0 3px,#abd 0 4px,#9ad 0 5px,#78c 0 6px,#aad 0 7px,#bbd 0 8px,#eef 0 9px,#bbd 0 10px,#cde 0 11px,#dee 0 12px,#fff 0 13px,#cce 0 14px,#cde 0 15px,#bbd 0 16px,#cce 0 17px,#eef 0 18px,#fff 0 19px,#dde 0 21px,#fff 0 22px,#abd 0 23px,#bce 0 24px,#bbd 0 25px,#abd 0 28px,#bce 0 29px,#99c 0 30px,#9ad 0 31px,#89c 0 32px,#78c 0 33px,#aad 0 34px,#fff 0 35px,#eaa 0 36px,#edd 0 37px,#d78 0 38px,#ebb 0 39px,#d99 0 41px,#d89 0 42px,#d77 0 43px,#d78 0 44px,#d89 0 45px,#d99 0 46px,#d88 0 47px,#d77 0 48px,#d88 0 50px)"></i><i style="top:98px;background:linear-gradient(90deg,#35b 0 1px,#57b 0 2px,#45b 0 3px,#46b 0 5px,#35a 0 6px,#78c 0 7px,#67c 0 8px,#89c 0 9px,#78c 0 11px,#bce 0 13px,#89c 0 14px,#cce 0 15px,#aad 0 16px,#abd 0 17px,#bce 0 19px,#aad 0 20px,#abd 0 21px,#89c 0 23px,#9ad 0 24px,#78c 0 25px,#89c 0 26px,#78c 0 28px,#67c 0 29px,#78c 0 30px,#67b 0 31px,#35a 0 32px,#24a 0 33px,#78c 0 34px,#dde 0 35px,#ecc 0 36px,#c66 0 37px,#d78 0 38px,#eaa 0 39px,#d77 0 40px,#daa 0 41px,#d88 0 42px,#ecc 0 43px,#c66 0 44px,#d77 0 46px,#c66 0 47px,#d67 0 48px,#ecc 0 49px,#d77 0 50px)"></i><i style="top:99px;background:linear-gradient(90deg,#78c 0 1px,#9ad 0 2px,#cce 0 3px,#67c 0 4px,#aad 0 5px,#67b 0 6px,#78c 0 7px,#89c 0 8px,#bbd 0 9px,#abd 0 10px,#bbd 0 12px,#cce 0 13px,#aad 0 14px,#cde 0 15px,#abd 0 16px,#bbd 0 17px,#cce 0 18px,#fff 0 20px,#bce 0 21px,#99d 0 22px,#bbd 0 23px,#9ad 0 27px,#bbd 0 28px,#78c 0 29px,#9ad 0 30px,#89c 0 31px,#cde 0 32px,#56b 0 33px,#aad 0 34px,#fee 0 36px,#daa 0 37px,#d88 0 38px,#eab 0 39px,#daa 0 40px,#eaa 0 41px,#daa 0 42px,#c66 0 43px,#d99 0 45px,#c66 0 46px,#d9a 0 47px,#d88 0 48px,#d99 0 50px)"></i><i style="top:100px;background:linear-gradient(90deg,#bcd 0 1px,#57b 0 2px,#34a 0 3px,#67b 0 4px,#57b 0 5px,#24a 0 6px,#67b 0 8px,#89c 0 9px,#dde 0 10px,#9ad 0 11px,#bce 0 12px,#bbd 0 13px,#89c 0 14px,#abd 0 15px,#89c 0 16px,#dde 0 17px,#abd 0 18px,#cce 0 19px,#abd 0 21px,#89c 0 22px,#9ad 0 23px,#abd 0 24px,#78c 0 25px,#9ad 0 26px,#67c 0 28px,#67b 0 29px,#56b 0 31px,#35b 0 32px,#24a 0 33px,#67c 0 34px,#eef 0 35px,#edd 0 36px,#d88 0 37px,#d77 0 38px,#d99 0 39px,#d88 0 40px,#d99 0 41px,#d77 0 42px,#c44 0 43px,#c55 0 44px,#c56 0 46px,#c66 0 48px,#c55 0 49px,#c56 0 50px)"></i><i style="top:101px;background:linear-gradient(90deg,#89c 0 1px,#bbd 0 2px,#89c 0 3px,#abd 0 5px,#9ad 0 6px,#aad 0 7px,#bbd 0 8px,#dde 0 9px,#cde 0 10px,#dde 0 11px,#fee 0 12px,#fff 0 13px,#bce 0 14px,#eee 0 15px,#fff 0 16px,#dde 0 17px,#eee 0 18px,#fee 0 19px,#fff 0 21px,#abd 0 22px,#dde 0 24px,#abd 0 25px,#cde 0 27px,#bce 0 28px,#9ad 0 29px,#abd 0 30px,#aad 0 31px,#9ad 0 32px,#78c 0 33px,#bce 0 34px,#fff 0 35px,#eaa 0 36px,#c66 0 37px,#c55 0 38px,#d88 0 39px,#d89 0 40px,#d67 0 41px,#d77 0 42px,#c45 0 43px,#c55 0 44px,#d67 0 45px,#c66 0 48px,#c55 0 49px,#c56 0 50px)"></i><i style="top:102px;background:linear-gradient(90deg,#34a 0 1px,#67b 0 2px,#24a 0 3px,#56b 0 4px,#67b 0 5px,#24a 0 6px,#45b 0 7px,#57b 0 8px,#78c 0 9px,#89c 0 11px,#aad 0 12px,#abd 0 13px,#78c 0 14px,#89c 0 15px,#cce 0 16px,#89c 0 17px,#9ad 0 18px,#cde 0 19px,#9ad 0 20px,#cce 0 21px,#9ad 0 22px,#89c 0 23px,#9ad 0 24px,#89c 0 25px,#67c 0 26px,#78c 0 27px,#67b 0 28px,#56b 0 30px,#35a 0 32px,#24a 0 33px,#46b 0 34px,#eef 0 35px,#edd 0 36px,#c55 0 37px,#d77 0 38px,#d99 0 39px,#d88 0 41px,#d77 0 42px,#c55 0 43px,#c66 0 45px,#c55 0 46px,#d77 0 47px,#c55 0 49px,#c56 0 50px)"></i><i style="top:103px;background:linear-gradient(90deg,#67b 0 1px,#9ad 0 2px,#68c 0 3px,#89c 0 5px,#78c 0 7px,#9ad 0 8px,#bbd 0 9px,#9ad 0 10px,#abd 0 11px,#dde 0 12px,#bbd 0 13px,#abd 0 14px,#cce 0 15px,#dde 0 16px,#cce 0 17px,#abd 0 18px,#dee 0 19px,#bbd 0 20px,#cce 0 21px,#9ad 0 22px,#bbd 0 23px,#cde 0 24px,#abd 0 25px,#aad 0 26px,#89c 0 28px,#78c 0 30px,#68c 0 31px,#67b 0 32px,#57b 0 33px,#9ad 0 34px,#fff 0 35px,#ecc 0 36px,#d99 0 37px,#eaa 0 38px,#daa 0 39px,#d9a 0 40px,#eaa 0 41px,#d99 0 43px,#d78 0 44px,#d88 0 45px,#d77 0 46px,#d99 0 48px,#d88 0 49px,#daa 0 50px)"></i><i style="top:104px;background:linear-gradient(90deg,#35a 0 1px,#cde 0 2px,#35a 0 3px,#67b 0 4px,#56b 0 5px,#35a 0 6px,#56b 0 7px,#67b 0 8px,#89c 0 9px,#78c 0 10px,#9ad 0 12px,#dde 0 13px,#89c 0 14px,#9ad 0 16px,#abd 0 17px,#bbd 0 18px,#abd 0 19px,#cce 0 20px,#abd 0 21px,#dee 0 22px,#78c 0 23px,#89c 0 24px,#78c 0 25px,#89c 0 26px,#78c 0 27px,#56b 0 28px,#57b 0 29px,#56b 0 30px,#46b 0 31px,#35a 0 32px,#34a 0 33px,#78c 0 34px,#dde 0 35px,#ebb 0 36px,#d88 0 38px,#d99 0 40px,#edd 0 41px,#d99 0 42px,#d77 0 43px,#ecc 0 44px,#c66 0 46px,#d88 0 47px,#c66 0 48px,#d77 0 49px,#d78 0 50px)"></i><i style="top:105px;background:linear-gradient(90deg,#67b 0 1px,#89c 0 2px,#67b 0 3px,#78c 0 4px,#67c 0 5px,#46b 0 6px,#78c 0 7px,#67c 0 8px,#78c 0 10px,#68c 0 11px,#99c 0 12px,#78c 0 14px,#89c 0 16px,#abd 0 17px,#89c 0 18px,#aad 0 19px,#99d 0 20px,#89c 0 22px,#68c 0 23px,#89c 0 24px,#67b 0 25px,#78c 0 26px,#89c 0 27px,#78c 0 29px,#89c 0 30px,#78c 0 32px,#45b 0 33px,#99d 0 34px,#dde 0 35px,#cde 0 36px,#eab 0 37px,#ecc 0 38px,#edd 0 39px,#ebc 0 40px,#fee 0 41px,#ebb 0 42px,#ecc 0 43px,#eaa 0 44px,#daa 0 45px,#fee 0 46px,#ebb 0 47px,#eab 0 48px,#eaa 0 49px,#ebb 0 50px)"></i><i style="top:106px;background:linear-gradient(90deg,#34a 0 1px,#67c 0 2px,#35a 0 3px,#67c 0 4px,#78c 0 5px,#35b 0 6px,#56b 0 7px,#46b 0 8px,#67c 0 9px,#46b 0 10px,#78c 0 11px,#89c 0 12px,#dde 0 13px,#57b 0 14px,#68c 0 15px,#67c 0 16px,#89c 0 17px,#67b 0 18px,#9ad 0 19px,#78c 0 23px,#67c 0 24px,#67b 0 26px,#78c 0 27px,#68c 0 28px,#67c 0 30px,#56b 0 32px,#45b 0 33px,#89c 0 34px,#dde 0 35px,#ebc 0 36px,#d89 0 37px,#d99 0 38px,#d9a 0 39px,#d99 0 40px,#d88 0 42px,#d77 0 44px,#ebb 0 45px,#d78 0 46px,#daa 0 47px,#d77 0 48px,#d88 0 49px,#d99 0 50px)"></i><i style="top:107px;background:linear-gradient(90deg,#34a 0 1px,#57b 0 2px,#34a 0 3px,#56b 0 4px,#67c 0 5px,#24a 0 6px,#56b 0 7px,#46b 0 8px,#78c 0 9px,#56b 0 10px,#45b 0 11px,#99d 0 12px,#cde 0 13px,#57b 0 14px,#67c 0 15px,#68c 0 16px,#67c 0 17px,#78c 0 19px,#9ad 0 20px,#78c 0 22px,#67c 0 23px,#56b 0 24px,#67b 0 25px,#cde 0 26px,#67c 0 27px,#67b 0 28px,#56b 0 29px,#78c 0 30px,#57b 0 31px,#56b 0 32px,#34a 0 33px,#78c 0 34px,#abd 0 35px,#fdd 0 36px,#ebc 0 37px,#fee 0 38px,#eab 0 39px,#edd 0 40px,#ebb 0 42px,#d99 0 43px,#daa 0 44px,#eaa 0 45px,#daa 0 46px,#ebb 0 47px,#ecc 0 48px,#ebb 0 49px,#ecc 0 50px)"></i><i style="top:108px;background:linear-gradient(90deg,#24a 0 8px,#35a 0 9px,#24a 0 10px,#34a 0 11px,#56b 0 12px,#35b 0 13px,#24a 0 15px,#45b 0 16px,#46b 0 17px,#35a 0 18px,#46b 0 19px,#56b 0 21px,#35a 0 22px,#34a 0 23px,#24a 0 24px,#34a 0 25px,#46b 0 26px,#35a 0 27px,#24a 0 29px,#56b 0 30px,#24a 0 33px,#56b 0 34px,#cce 0 35px,#ecc 0 36px,#ebb 0 38px,#ecc 0 39px,#eab 0 40px,#edd 0 41px,#d88 0 46px,#d99 0 47px,#d77 0 48px,#d99 0 50px)"></i><i style="top:109px;background:linear-gradient(90deg,#24a 0 1px,#45b 0 2px,#34a 0 3px,#46b 0 4px,#35a 0 5px,#24a 0 6px,#34a 0 7px,#35a 0 8px,#67c 0 9px,#35a 0 10px,#67b 0 11px,#78c 0 12px,#57b 0 13px,#46b 0 14px,#56b 0 15px,#78c 0 16px,#67c 0 17px,#57b 0 18px,#56b 0 19px,#68c 0 20px,#78c 0 21px,#57b 0 22px,#45b 0 23px,#56b 0 24px,#cce 0 25px,#56b 0 26px,#67c 0 28px,#45b 0 29px,#56b 0 30px,#35a 0 31px,#56b 0 32px,#24a 0 33px,#57b 0 34px,#eef 0 36px,#eaa 0 37px,#daa 0 38px,#fee 0 39px,#d99 0 40px,#ebb 0 41px,#d88 0 42px,#d77 0 43px,#d88 0 44px,#d77 0 45px,#d99 0 48px,#d77 0 49px,#eaa 0 50px)"></i><i style="top:110px;background:linear-gradient(90deg,#56b 0 1px,#78c 0 2px,#35b 0 3px,#89c 0 4px,#67c 0 5px,#46b 0 6px,#67c 0 7px,#67b 0 8px,#89c 0 9px,#68c 0 10px,#cde 0 11px,#99d 0 12px,#89c 0 13px,#56b 0 14px,#dde 0 15px,#89c 0 16px,#9ad 0 17px,#89c 0 19px,#9ad 0 20px,#abd 0 21px,#78c 0 24px,#56b 0 25px,#78c 0 26px,#57b 0 27px,#78c 0 28px,#67b 0 29px,#67c 0 30px,#78c 0 31px,#56b 0 32px,#35a 0 33px,#89c 0 34px,#fee 0 35px,#ebb 0 36px,#d99 0 37px,#eaa 0 38px,#d99 0 41px,#d88 0 42px,#c56 0 43px,#d67 0 44px,#d77 0 46px,#c55 0 47px,#d77 0 48px,#c55 0 49px,#d77 0 50px)"></i><i style="top:111px;background:linear-gradient(90deg,#cce 0 1px,#78c 0 2px,#45b 0 3px,#78c 0 4px,#89c 0 5px,#45b 0 6px,#67c 0 7px,#56b 0 8px,#9ad 0 9px,#67b 0 11px,#89c 0 12px,#68c 0 13px,#89c 0 14px,#78c 0 15px,#89c 0 16px,#aad 0 17px,#dde 0 18px,#78c 0 19px,#9ad 0 21px,#68c 0 22px,#78c 0 23px,#89c 0 24px,#78c 0 26px,#9ad 0 27px,#78c 0 30px,#67b 0 31px,#56b 0 32px,#46b 0 33px,#78c 0 34px,#bce 0 35px,#fff 0 36px,#ecc 0 37px,#edd 0 38px,#fee 0 39px,#ecc 0 41px,#fdd 0 42px,#ebb 0 43px,#fee 0 44px,#ecc 0 45px,#ebb 0 47px,#ecc 0 49px,#ebb 0 50px)"></i><i style="top:112px;background:linear-gradient(90deg,#57b 0 1px,#9ad 0 2px,#67c 0 3px,#89c 0 4px,#abd 0 5px,#78c 0 6px,#89c 0 8px,#aad 0 9px,#9ad 0 12px,#bbd 0 13px,#abd 0 14px,#9ad 0 15px,#89c 0 16px,#9ad 0 17px,#68c 0 18px,#abd 0 19px,#bbd 0 20px,#abd 0 21px,#78c 0 22px,#9ad 0 24px,#78c 0 26px,#89c 0 27px,#78c 0 30px,#67c 0 31px,#45b 0 33px,#89c 0 34px,#eef 0 35px,#dee 0 36px,#ebb 0 37px,#d99 0 38px,#ebc 0 39px,#daa 0 40px,#eaa 0 41px,#ebb 0 42px,#d88 0 43px,#d78 0 44px,#d99 0 46px,#daa 0 47px,#d88 0 48px,#d99 0 50px)"></i><i style="top:113px;background:linear-gradient(90deg,#78c 0 1px,#abd 0 2px,#89c 0 3px,#bce 0 4px,#89c 0 5px,#9ad 0 6px,#abd 0 7px,#bcd 0 8px,#cce 0 9px,#abd 0 11px,#dde 0 12px,#bbd 0 13px,#abd 0 16px,#aad 0 17px,#abd 0 18px,#cde 0 19px,#cce 0 21px,#9ad 0 23px,#aad 0 24px,#9ad 0 27px,#bbd 0 28px,#9ad 0 29px,#abd 0 30px,#99d 0 31px,#67c 0 32px,#56b 0 33px,#9ad 0 34px,#eef 0 35px,#fee 0 36px,#ebb 0 38px,#ebc 0 39px,#daa 0 40px,#ebb 0 41px,#eaa 0 42px,#d99 0 44px,#eaa 0 45px,#d99 0 46px,#eaa 0 47px,#d99 0 48px,#daa 0 49px,#d89 0 50px)"></i><i style="top:114px;background:linear-gradient(90deg,#9ad 0 1px,#bce 0 2px,#9ad 0 3px,#bbd 0 4px,#9ad 0 5px,#89c 0 6px,#abd 0 8px,#dee 0 9px,#aad 0 10px,#abd 0 11px,#eef 0 12px,#dde 0 13px,#abd 0 14px,#bbd 0 15px,#abd 0 16px,#cde 0 17px,#aad 0 18px,#cde 0 19px,#bce 0 21px,#bbd 0 22px,#abd 0 25px,#9ad 0 26px,#aad 0 27px,#bbd 0 28px,#bce 0 29px,#78c 0 30px,#dde 0 31px,#67c 0 32px,#67b 0 33px,#9ad 0 34px,#fee 0 36px,#eaa 0 37px,#edd 0 38px,#eab 0 39px,#ecc 0 41px,#ebb 0 42px,#d9a 0 43px,#ebb 0 44px,#eaa 0 45px,#d88 0 46px,#ecc 0 47px,#edd 0 48px,#ebb 0 49px,#daa 0 50px)"></i><i style="top:115px;background:linear-gradient(90deg,#68c 0 1px,#67c 0 2px,#67b 0 3px,#dde 0 4px,#78c 0 5px,#56b 0 6px,#89c 0 7px,#78c 0 8px,#abd 0 9px,#89c 0 11px,#9ad 0 12px,#abd 0 13px,#9ad 0 15px,#dde 0 16px,#9ad 0 17px,#78c 0 18px,#eee 0 19px,#9ad 0 20px,#dee 0 21px,#79c 0 22px,#89c 0 24px,#78c 0 27px,#67b 0 28px,#57b 0 29px,#78c 0 30px,#56b 0 31px,#35a 0 32px,#24a 0 33px,#68c 0 34px,#bce 0 35px,#ebb 0 36px,#d77 0 37px,#daa 0 38px,#d9a 0 39px,#edd 0 40px,#ebb 0 41px,#d99 0 42px,#c55 0 43px,#c56 0 44px,#d88 0 46px,#d99 0 47px,#c66 0 48px,#d88 0 49px,#d99 0 50px)"></i><i style="top:116px;background:linear-gradient(90deg,#78c 0 1px,#89c 0 2px,#78c 0 4px,#9ad 0 5px,#67b 0 6px,#dde 0 7px,#9ad 0 8px,#abd 0 9px,#9ad 0 10px,#89c 0 11px,#abd 0 12px,#9ad 0 13px,#abd 0 14px,#89c 0 15px,#aad 0 17px,#99c 0 18px,#abd 0 19px,#9ad 0 20px,#abd 0 21px,#89c 0 22px,#78c 0 23px,#89c 0 25px,#78c 0 26px,#89c 0 28px,#57b 0 29px,#78c 0 30px,#56b 0 31px,#46b 0 32px,#35a 0 33px,#9ad 0 34px,#fee 0 35px,#fdd 0 36px,#d88 0 37px,#d99 0 39px,#ebb 0 40px,#d99 0 42px,#c66 0 43px,#d88 0 44px,#c66 0 45px,#d88 0 46px,#d99 0 47px,#c66 0 48px,#d88 0 49px,#eaa 0 50px)"></i><i style="top:117px;background:linear-gradient(90deg,#35a 0 1px,#78c 0 2px,#35a 0 3px,#56b 0 4px,#67b 0 5px,#24a 0 6px,#56b 0 8px,#78c 0 10px,#67c 0 11px,#89c 0 12px,#9ad 0 13px,#78c 0 14px,#57b 0 15px,#78c 0 16px,#67c 0 17px,#56b 0 18px,#cde 0 19px,#89c 0 21px,#57b 0 22px,#78c 0 23px,#67b 0 24px,#46b 0 25px,#56b 0 27px,#45b 0 30px,#24a 0 31px,#bbd 0 32px,#24a 0 33px,#35a 0 34px,#abd 0 35px,#edd 0 36px,#d99 0 37px,#daa 0 38px,#d99 0 39px,#d9a 0 40px,#eaa 0 41px,#d88 0 42px,#d67 0 43px,#c56 0 44px,#d77 0 45px,#c66 0 46px,#d89 0 47px,#d77 0 49px,#d89 0 50px)"></i><i style="top:118px;background:linear-gradient(90deg,#46b 0 1px,#67c 0 2px,#35a 0 3px,#56b 0 4px,#cce 0 5px,#45b 0 6px,#67b 0 7px,#56b 0 8px,#89c 0 9px,#56b 0 10px,#67b 0 11px,#79c 0 12px,#78c 0 13px,#67b 0 14px,#78c 0 16px,#67c 0 17px,#78c 0 19px,#89c 0 21px,#78c 0 22px,#56b 0 23px,#67b 0 24px,#46b 0 25px,#67b 0 27px,#56b 0 28px,#35a 0 29px,#56b 0 30px,#bce 0 31px,#bbd 0 32px,#abd 0 33px,#56b 0 34px,#abd 0 35px,#fdd 0 36px,#d88 0 37px,#eaa 0 38px,#ebb 0 39px,#eaa 0 40px,#d99 0 41px,#d88 0 42px,#d77 0 44px,#d88 0 46px,#d99 0 47px,#d77 0 48px,#d99 0 49px,#d88 0 50px)"></i><i style="top:119px;background:linear-gradient(90deg,#89c 0 1px,#bbd 0 2px,#9ad 0 3px,#aad 0 4px,#eef 0 5px,#89c 0 6px,#9ad 0 7px,#bbd 0 10px,#bcd 0 11px,#cce 0 12px,#bbd 0 13px,#9ad 0 14px,#99d 0 15px,#bbd 0 16px,#abd 0 17px,#bcd 0 18px,#bbd 0 21px,#abd 0 23px,#bbd 0 24px,#89c 0 25px,#abd 0 26px,#9ad 0 27px,#dde 0 28px,#89c 0 29px,#9ad 0 31px,#dde 0 32px,#cde 0 33px,#9ad 0 34px,#fff 0 35px,#fee 0 36px,#ebb 0 37px,#fee 0 38px,#edd 0 39px,#fee 0 40px,#ebb 0 41px,#ecc 0 42px,#ebb 0 45px,#d88 0 46px,#fee 0 47px,#d9a 0 48px,#ebb 0 50px)"></i><i style="top:120px;background:linear-gradient(90deg,#bcd 0 1px,#56b 0 2px,#24a 0 3px,#35a 0 4px,#57b 0 5px,#24a 0 6px,#45b 0 7px,#46b 0 8px,#78c 0 9px,#45b 0 10px,#46b 0 11px,#78c 0 13px,#56b 0 14px,#78c 0 15px,#67c 0 16px,#89c 0 18px,#78c 0 19px,#89c 0 20px,#9ad 0 21px,#57b 0 22px,#78c 0 23px,#68c 0 24px,#57b 0 25px,#67b 0 27px,#46b 0 29px,#56b 0 30px,#24a 0 33px,#56b 0 34px,#dde 0 35px,#eef 0 36px,#d9a 0 37px,#d99 0 38px,#fee 0 39px,#d9a 0 40px,#d99 0 41px,#d78 0 42px,#c56 0 43px,#d77 0 47px,#c66 0 48px,#d78 0 49px,#d67 0 50px)"></i><i style="top:121px;background:linear-gradient(90deg,#46b 0 1px,#78c 0 2px,#45b 0 3px,#67c 0 4px,#78c 0 5px,#56b 0 6px,#67c 0 7px,#78c 0 9px,#67c 0 10px,#78c 0 11px,#89c 0 13px,#78c 0 14px,#89c 0 15px,#aad 0 16px,#89c 0 18px,#bcd 0 19px,#9ad 0 20px,#abd 0 22px,#9ad 0 23px,#aad 0 24px,#78c 0 25px,#89c 0 28px,#57b 0 29px,#89c 0 30px,#78c 0 31px,#cce 0 32px,#24a 0 33px,#78c 0 34px,#fff 0 35px,#eaa 0 36px,#daa 0 37px,#d88 0 38px,#fee 0 39px,#d99 0 40px,#eaa 0 41px,#d88 0 42px,#d67 0 43px,#d77 0 44px,#d88 0 45px,#d77 0 46px,#d88 0 48px,#d89 0 49px,#d88 0 50px)"></i><i style="top:122px;background:linear-gradient(90deg,#24a 0 1px,#56b 0 2px,#24a 0 3px,#56b 0 4px,#45b 0 5px,#24a 0 6px,#46b 0 7px,#57b 0 8px,#78c 0 9px,#45b 0 10px,#57b 0 11px,#78c 0 12px,#89c 0 13px,#46b 0 14px,#67c 0 15px,#78c 0 16px,#89c 0 17px,#abd 0 18px,#9ad 0 20px,#89c 0 21px,#78c 0 23px,#89c 0 24px,#cde 0 25px,#67b 0 26px,#56b 0 27px,#78c 0 28px,#45b 0 29px,#67b 0 30px,#35a 0 31px,#24a 0 33px,#67b 0 34px,#cce 0 35px,#ecc 0 36px,#d77 0 37px,#d9a 0 38px,#fdd 0 39px,#d88 0 40px,#d89 0 41px,#d78 0 42px,#c45 0 43px,#c44 0 44px,#c55 0 45px,#c66 0 46px,#c55 0 47px,#c44 0 48px,#c66 0 50px)"></i><i style="top:123px;background:linear-gradient(90deg,#78c 0 1px,#9ad 0 2px,#78c 0 5px,#56b 0 6px,#cde 0 7px,#68c 0 8px,#9ad 0 9px,#78c 0 10px,#89c 0 11px,#9ad 0 14px,#99d 0 15px,#89c 0 17px,#abd 0 18px,#cce 0 19px,#eef 0 20px,#dde 0 21px,#eef 0 22px,#9ad 0 24px,#dde 0 25px,#9ad 0 27px,#89c 0 28px,#78c 0 29px,#89c 0 30px,#68c 0 31px,#78c 0 32px,#45b 0 33px,#89c 0 34px,#cde 0 35px,#fee 0 36px,#ecc 0 38px,#eab 0 39px,#ebb 0 41px,#d99 0 42px,#d88 0 43px,#d99 0 45px,#d88 0 48px,#d99 0 50px)"></i><i style="top:124px;background:linear-gradient(90deg,#67b 0 1px,#89c 0 2px,#57b 0 3px,#dde 0 4px,#78c 0 5px,#cce 0 6px,#67c 0 7px,#78c 0 8px,#89c 0 11px,#9ad 0 13px,#89c 0 14px,#aad 0 15px,#89c 0 16px,#9ad 0 17px,#89c 0 18px,#9ad 0 19px,#abd 0 21px,#9ad 0 22px,#aad 0 23px,#89c 0 25px,#78c 0 27px,#89c 0 28px,#67b 0 29px,#89c 0 30px,#57b 0 31px,#56b 0 32px,#24a 0 33px,#9ad 0 34px,#fff 0 35px,#edd 0 36px,#daa 0 37px,#d99 0 38px,#ebb 0 39px,#eaa 0 40px,#eab 0 41px,#daa 0 42px,#d77 0 43px,#d88 0 44px,#c66 0 45px,#c67 0 46px,#d99 0 47px,#d77 0 48px,#d88 0 50px)"></i><i style="top:125px;background:linear-gradient(90deg,#35a 0 1px,#67c 0 2px,#35b 0 3px,#56b 0 4px,#46b 0 5px,#24a 0 6px,#46b 0 7px,#45b 0 8px,#67c 0 9px,#46b 0 10px,#35b 0 11px,#78c 0 13px,#56b 0 14px,#57b 0 15px,#78c 0 16px,#89c 0 20px,#aad 0 21px,#78c 0 24px,#67b 0 25px,#57b 0 26px,#78c 0 27px,#56b 0 28px,#57b 0 29px,#67b 0 30px,#56b 0 31px,#57b 0 32px,#24a 0 33px,#56b 0 34px,#cde 0 35px,#fff 0 36px,#daa 0 37px,#d89 0 38px,#ebb 0 39px,#ecc 0 40px,#daa 0 42px,#d67 0 43px,#d77 0 46px,#d88 0 47px,#ecc 0 48px,#d88 0 50px)"></i><i style="top:126px;background:linear-gradient(90deg,#67b 0 1px,#89c 0 2px,#67b 0 3px,#89c 0 4px,#78c 0 7px,#cde 0 8px,#89c 0 9px,#67b 0 10px,#9ad 0 11px,#aad 0 12px,#9ad 0 13px,#78c 0 14px,#89c 0 15px,#dde 0 16px,#99d 0 17px,#aad 0 18px,#bbd 0 19px,#aad 0 20px,#eee 0 21px,#9ad 0 23px,#89c 0 24px,#78c 0 25px,#89c 0 26px,#aad 0 27px,#78c 0 31px,#57b 0 32px,#56b 0 33px,#9ad 0 34px,#fee 0 35px,#fef 0 36px,#edd 0 37px,#ebb 0 38px,#ecc 0 41px,#eaa 0 42px,#fdd 0 43px,#d9a 0 44px,#d88 0 45px,#d99 0 46px,#d89 0 47px,#daa 0 48px,#d99 0 49px,#d88 0 50px)"></i><i style="top:127px;background:linear-gradient(90deg,#78c 0 1px,#aad 0 2px,#99d 0 3px,#9ad 0 4px,#78c 0 5px,#67c 0 6px,#89c 0 7px,#9ad 0 8px,#bbd 0 9px,#89c 0 10px,#9ad 0 11px,#bce 0 12px,#abd 0 13px,#9ad 0 14px,#bbd 0 16px,#dde 0 17px,#abd 0 18px,#eef 0 19px,#cde 0 20px,#cce 0 21px,#abd 0 22px,#bce 0 23px,#bcd 0 24px,#9ad 0 25px,#dee 0 26px,#abd 0 27px,#aad 0 28px,#89c 0 29px,#9ad 0 30px,#89c 0 32px,#45b 0 33px,#9ad 0 34px,#fff 0 35px,#fee 0 36px,#d99 0 37px,#d89 0 38px,#d67 0 39px,#eaa 0 40px,#edd 0 41px,#d88 0 42px,#c66 0 43px,#c55 0 44px,#c66 0 46px,#d77 0 47px,#c66 0 48px,#d88 0 49px,#c55 0 50px)"></i><i style="top:128px;background:linear-gradient(90deg,#67b 0 1px,#89c 0 2px,#57b 0 3px,#89c 0 5px,#cce 0 6px,#89c 0 7px,#67b 0 8px,#89c 0 11px,#aad 0 12px,#9ad 0 13px,#78c 0 14px,#9ad 0 15px,#89c 0 16px,#bbd 0 17px,#89c 0 18px,#abd 0 19px,#89c 0 20px,#aad 0 21px,#abd 0 22px,#aad 0 23px,#bbd 0 24px,#9ad 0 25px,#aad 0 26px,#9ad 0 28px,#78c 0 30px,#67b 0 31px,#56b 0 32px,#46b 0 33px,#89c 0 34px,#cde 0 35px,#fff 0 36px,#ebb 0 38px,#ecd 0 39px,#ebb 0 41px,#eaa 0 42px,#d88 0 43px,#d77 0 44px,#d99 0 45px,#d88 0 49px,#d99 0 50px)"></i><i style="top:129px;background:linear-gradient(90deg,#46b 0 1px,#9ad 0 2px,#78c 0 4px,#67c 0 5px,#67b 0 6px,#89c 0 7px,#68c 0 8px,#89c 0 10px,#78c 0 12px,#abd 0 13px,#89c 0 14px,#78c 0 15px,#89c 0 17px,#9ad 0 18px,#cde 0 19px,#9ad 0 20px,#abd 0 21px,#89c 0 22px,#dde 0 23px,#9ad 0 24px,#89c 0 26px,#abd 0 27px,#78c 0 28px,#89c 0 29px,#79c 0 30px,#67c 0 31px,#78c 0 32px,#46b 0 33px,#89c 0 34px,#eef 0 35px,#edd 0 36px,#ebb 0 37px,#eaa 0 38px,#fee 0 39px,#ebb 0 42px,#d99 0 43px,#d88 0 44px,#edd 0 45px,#d99 0 46px,#d89 0 48px,#fdd 0 49px,#d88 0 50px)"></i><i style="top:130px;background:linear-gradient(90deg,#46b 0 1px,#67b 0 2px,#46b 0 3px,#67c 0 4px,#89c 0 5px,#35b 0 6px,#78c 0 7px,#56b 0 8px,#89c 0 9px,#67b 0 10px,#67c 0 11px,#abd 0 12px,#89c 0 16px,#abd 0 17px,#9ad 0 18px,#bce 0 19px,#abd 0 22px,#89c 0 24px,#78c 0 25px,#67c 0 26px,#89c 0 27px,#67c 0 28px,#cde 0 29px,#68c 0 30px,#57b 0 31px,#35a 0 32px,#24a 0 33px,#9ad 0 34px,#dde 0 35px,#fff 0 36px,#ebb 0 37px,#daa 0 38px,#edd 0 39px,#eaa 0 40px,#d99 0 41px,#fdd 0 42px,#c66 0 43px,#d78 0 44px,#d99 0 45px,#d88 0 48px,#d99 0 49px,#edd 0 50px)"></i><i style="top:131px;background:linear-gradient(90deg,#35a 0 1px,#57b 0 3px,#46b 0 4px,#78c 0 5px,#24a 0 6px,#57b 0 7px,#67b 0 8px,#78c 0 9px,#56b 0 10px,#78c 0 11px,#9ad 0 12px,#78c 0 13px,#67c 0 14px,#89c 0 15px,#9ad 0 16px,#89c 0 18px,#9ad 0 19px,#89c 0 21px,#78c 0 22px,#89c 0 23px,#78c 0 25px,#68c 0 26px,#78c 0 27px,#57b 0 28px,#56b 0 30px,#57b 0 31px,#bce 0 32px,#24a 0 33px,#78c 0 34px,#cce 0 35px,#fff 0 36px,#ebb 0 37px,#ecd 0 38px,#ebb 0 39px,#daa 0 40px,#eaa 0 41px,#d99 0 42px,#d78 0 43px,#d77 0 44px,#edd 0 45px,#d99 0 46px,#d88 0 47px,#d89 0 48px,#d9a 0 49px,#eaa 0 50px)"></i><i style="top:132px;background:linear-gradient(90deg,#24a 0 1px,#45b 0 2px,#24a 0 3px,#45b 0 5px,#24a 0 6px,#35a 0 7px,#34a 0 8px,#cce 0 9px,#46b 0 11px,#dde 0 12px,#56b 0 13px,#35a 0 14px,#46b 0 15px,#35b 0 16px,#67b 0 18px,#89c 0 19px,#68c 0 20px,#67b 0 21px,#cde 0 22px,#67c 0 23px,#56b 0 24px,#cce 0 25px,#46b 0 26px,#57b 0 27px,#35a 0 30px,#24a 0 33px,#34a 0 34px,#bce 0 35px,#dde 0 36px,#d88 0 37px,#eaa 0 38px,#ebb 0 39px,#fee 0 40px,#daa 0 41px,#d9a 0 42px,#d88 0 43px,#d77 0 45px,#d88 0 48px,#d99 0 50px)"></i><i style="top:133px;background:linear-gradient(90deg,#89c 0 1px,#bbd 0 2px,#78c 0 3px,#89c 0 5px,#78c 0 6px,#89c 0 8px,#abd 0 9px,#89c 0 10px,#9ad 0 12px,#aad 0 13px,#89c 0 14px,#9ad 0 15px,#abd 0 16px,#eee 0 17px,#abd 0 18px,#aad 0 19px,#cde 0 20px,#cce 0 21px,#bbd 0 22px,#89c 0 23px,#bce 0 24px,#9ad 0 26px,#dde 0 28px,#9ad 0 30px,#89c 0 32px,#67b 0 33px,#abd 0 34px,#cce 0 35px,#ecc 0 36px,#eaa 0 37px,#ebb 0 40px,#ecc 0 41px,#d99 0 42px,#d77 0 43px,#d88 0 45px,#d77 0 46px,#d99 0 47px,#d89 0 48px,#d77 0 49px,#d99 0 50px)"></i><i style="top:134px;background:linear-gradient(90deg,#89c 0 1px,#9ad 0 3px,#abd 0 4px,#89c 0 5px,#68c 0 6px,#9ad 0 8px,#cce 0 9px,#89c 0 10px,#aad 0 11px,#bbd 0 12px,#bce 0 13px,#9ad 0 14px,#abd 0 16px,#9ad 0 17px,#abd 0 18px,#cde 0 19px,#bbd 0 20px,#cce 0 21px,#eef 0 22px,#cce 0 23px,#abd 0 24px,#9ad 0 25px,#aad 0 26px,#abd 0 27px,#89c 0 28px,#aad 0 29px,#9ad 0 30px,#89c 0 31px,#67c 0 32px,#56b 0 33px,#9ad 0 34px,#fee 0 35px,#eaa 0 36px,#ecc 0 37px,#fdd 0 38px,#ebb 0 39px,#eab 0 40px,#d99 0 42px,#d77 0 44px,#d88 0 46px,#d77 0 47px,#edd 0 48px,#d88 0 50px)"></i><i style="top:135px;background:linear-gradient(90deg,#67c 0 1px,#89c 0 2px,#78c 0 4px,#89c 0 5px,#78c 0 8px,#aad 0 9px,#cde 0 10px,#78c 0 11px,#9ad 0 12px,#abd 0 13px,#89c 0 15px,#9ad 0 16px,#89c 0 17px,#abd 0 18px,#eee 0 19px,#bbd 0 21px,#abd 0 22px,#9ad 0 23px,#eef 0 24px,#89c 0 25px,#abd 0 27px,#99d 0 28px,#89c 0 29px,#78c 0 30px,#68c 0 31px,#89c 0 32px,#35a 0 33px,#9ad 0 34px,#eef 0 35px,#eaa 0 36px,#d99 0 37px,#ecc 0 38px,#ebb 0 39px,#ecc 0 40px,#eaa 0 42px,#d88 0 43px,#d78 0 44px,#d88 0 46px,#daa 0 47px,#d99 0 49px,#eaa 0 50px)"></i><i style="top:136px;background:linear-gradient(90deg,#bbd 0 2px,#dde 0 3px,#bce 0 5px,#89c 0 6px,#eee 0 7px,#cce 0 8px,#bcd 0 9px,#abd 0 10px,#cce 0 11px,#dde 0 12px,#bce 0 13px,#cde 0 14px,#dee 0 15px,#eee 0 16px,#dee 0 17px,#cde 0 18px,#eef 0 19px,#fff 0 20px,#eef 0 22px,#cce 0 23px,#cde 0 24px,#cce 0 25px,#abd 0 26px,#cce 0 27px,#bce 0 28px,#aad 0 29px,#bce 0 30px,#abd 0 31px,#9ad 0 32px,#89c 0 33px,#abd 0 34px,#fff 0 35px,#ebb 0 36px,#d99 0 37px,#daa 0 38px,#eaa 0 39px,#daa 0 40px,#eaa 0 41px,#d99 0 42px,#d77 0 44px,#d99 0 45px,#d88 0 46px,#d99 0 47px,#d78 0 49px,#daa 0 50px)"></i><i style="top:137px;background:linear-gradient(90deg,#57b 0 1px,#68c 0 2px,#46b 0 3px,#67b 0 4px,#78c 0 5px,#46b 0 6px,#56b 0 7px,#67c 0 8px,#78c 0 9px,#cce 0 10px,#67c 0 11px,#aad 0 12px,#78c 0 13px,#67b 0 14px,#78c 0 16px,#67c 0 17px,#89c 0 18px,#9ad 0 20px,#89c 0 22px,#67c 0 23px,#78c 0 24px,#67b 0 25px,#57b 0 26px,#78c 0 27px,#67c 0 28px,#56b 0 30px,#46b 0 31px,#57b 0 32px,#24a 0 33px,#78c 0 34px,#dde 0 36px,#ecd 0 37px,#ebb 0 38px,#edd 0 40px,#ecc 0 41px,#ebb 0 42px,#d99 0 43px,#d9a 0 44px,#fee 0 45px,#d99 0 46px,#ebb 0 47px,#edd 0 48px,#eaa 0 49px,#ebb 0 50px)"></i></div>
<svg width="520" height="626" viewBox="0 0 520 626">
<text x="7.30" y="16.40" font-size="11" fill="#000" font-weight="bold">A</text>
<rect x="18.60" y="22.80" width="7.80" height="7.00" fill="#b0123b"/>
<text x="29.60" y="28.20" font-size="5.4" fill="#333" stroke="#333" stroke-width="0.04" textLength="39.20" lengthAdjust="spacingAndGlyphs">3aKO-140 HSPC</text>
<rect x="18.60" y="32.80" width="7.80" height="7.40" fill="#2b4a86"/>
<text x="29.60" y="38.60" font-size="5.4" fill="#333" stroke="#333" stroke-width="0.04" textLength="46.10" lengthAdjust="spacingAndGlyphs">WT-140 MEP+GMP</text>
<rect x="89.00" y="22.60" width="7.90" height="7.50" fill="#6aae3e"/>
<text x="99.80" y="28.20" font-size="5.4" fill="#333" stroke="#333" stroke-width="0.04" textLength="42.30" lengthAdjust="spacingAndGlyphs">3aKO MEP+GMP</text>
<rect x="89.00" y="32.80" width="7.90" height="7.70" fill="#4b216f"/>
<text x="99.80" y="38.60" font-size="5.4" fill="#333" stroke="#333" stroke-width="0.04" textLength="36.00" lengthAdjust="spacingAndGlyphs">WT MEP+GMP</text>
<defs><linearGradient id="gA" x1="0" x2="1" y1="0" y2="0"><stop offset="0" stop-color="#1a1a80"/><stop offset="0.18" stop-color="#3a3a98"/><stop offset="0.52" stop-color="#ffffff"/><stop offset="0.55" stop-color="#fbe6e6"/><stop offset="0.93" stop-color="#c01818"/><stop offset="0.94" stop-color="#ffffff"/><stop offset="1" stop-color="#ffffff"/></linearGradient></defs>
<rect x="160.50" y="40.10" width="32.50" height="11.60" fill="url(#gA)" stroke="#999" stroke-width="0.4"/>
<text x="153.80" y="45.80" font-size="4.2" fill="#333" stroke="#333" stroke-width="0.04" text-anchor="middle" transform="rotate(-90 153.80 45.80)">Count</text>
<text x="158.90" y="46.00" font-size="2.6" fill="#555" stroke="#555" stroke-width="0.04" text-anchor="middle" textLength="9.00" lengthAdjust="spacingAndGlyphs" transform="rotate(-90 158.90 46.00)">-1.0.0.0.0</text>
<text x="166.80" y="55.30" font-size="3.2" fill="#444" stroke="#444" stroke-width="0.04" text-anchor="middle">−0.5</text>
<text x="177.30" y="55.30" font-size="3.2" fill="#444" stroke="#444" stroke-width="0.04" text-anchor="middle">0</text>
<text x="185.60" y="55.30" font-size="3.2" fill="#444" stroke="#444" stroke-width="0.04" text-anchor="middle">0.5</text>
<text x="162.40" y="60.30" font-size="4.4" fill="#333" stroke="#333" stroke-width="0.04" textLength="29.20" lengthAdjust="spacingAndGlyphs">Normalized β-value</text>
<path d="M36.5 58.5V49.2H92.3V61.4" stroke="#3a3a3a" stroke-width="0.55" fill="none"/>
<path d="M26.2 63.6V58.5H47.5V66.6" stroke="#3a3a3a" stroke-width="0.55" fill="none"/>
<path d="M21.5 67.6V63.6H31V66.2" stroke="#3a3a3a" stroke-width="0.5" fill="none"/>
<path d="M70.4 66.3V61.4H113.5V64.5" stroke="#3a3a3a" stroke-width="0.55" fill="none"/>
<path d="M62.5 67.6V66.3H78.5V67.2" stroke="#3a3a3a" stroke-width="0.5" fill="none"/>
<path d="M104 66.6V64.5H123V65.7" stroke="#3a3a3a" stroke-width="0.5" fill="none"/>
<path d="M118 67V65.7H139V66.6" stroke="#3a3a3a" stroke-width="0.5" fill="none"/>
<path d="M132 67.2V66.6H160V67.2" stroke="#3a3a3a" stroke-width="0.5" fill="none"/>
<path d="M84 67.4V66.2H97V67.4" stroke="#777" stroke-width="0.4" fill="none"/>
<path d="M22 67.6V65.8H26V67.6M27.5 67.6V66H30.5V67.6" stroke="#555" stroke-width="0.4" fill="none"/>
<path d="M19.6 68V66.7H22.5V68M23.7 68V66.7H27.6V68M29.0 68V67.0H30.2V68M31.7 68V66.5H34.7V68M34.8 68V67.3H37.4V68M38.2 68V67.6H41.0V68M41.3 68V66.5H43.3V68M44.4 68V66.6H46.1V68M46.3 68V67.4H49.2V68M49.2 68V67.3H52.9V68M53.2 68V66.6H57.1V68M57.6 68V67.0H61.5V68M62.5 68V66.5H64.3V68M65.3 68V66.5H69.2V68M69.6 68V67.4H71.9V68M72.1 68V67.2H73.5V68M74.4 68V66.8H75.6V68M76.1 68V66.6H78.1V68M78.9 68V67.0H80.9V68M82.0 68V66.4H83.4V68M83.4 68V66.6H86.7V68M86.7 68V67.2H90.1V68M91.0 68V67.5H92.2V68M92.5 68V67.4H96.4V68M97.5 68V66.5H101.3V68M101.8 68V67.0H104.0V68M105.2 68V66.7H106.7V68M107.9 68V67.6H111.5V68M112.9 68V67.2H114.4V68M115.3 68V67.2H119.0V68M120.4 68V67.2H123.2V68M123.6 68V67.5H125.3V68M125.6 68V66.4H128.7V68M128.9 68V66.4H130.3V68M131.1 68V67.3H133.4V68M134.3 68V67.1H137.8V68M138.4 68V66.5H139.8V68M139.8 68V66.6H142.4V68M142.6 68V66.5H145.9V68M146.8 68V67.5H150.2V68M150.9 68V66.6H152.5V68M152.9 68V66.4H155.4V68M156.7 68V67.1H160.6V68M161.3 68V67.0H164.6V68M165.0 68V67.4H167.4V68M167.9 68V66.4H171.9V68M172.8 68V67.2H175.4V68M175.6 68V66.7H177.5V68M178.8 68V66.7H181.0V68M182.2 68V66.8H185.3V68M186.5 68V66.8H188.7V68" stroke="#444" stroke-width="0.35" fill="none"/>
<line x1="19.30" y1="68.10" x2="188.60" y2="68.10" stroke="#222" stroke-width="1.0"/>
<line x1="41.90" y1="68.50" x2="41.90" y2="200.10" stroke="#000" stroke-width="0.9" stroke-dasharray="0.9 0.9"/>
<line x1="65.40" y1="68.50" x2="65.40" y2="200.10" stroke="#000" stroke-width="0.9" stroke-dasharray="0.9 0.9"/>
<rect x="190.20" y="72.30" width="8.00" height="34.70" fill="#6aae3e"/>
<rect x="190.20" y="107.00" width="8.00" height="34.00" fill="#4b216f"/>
<rect x="190.20" y="141.00" width="8.00" height="34.00" fill="#2b4a86"/>
<rect x="190.20" y="175.00" width="8.00" height="25.10" fill="#b0123b"/>
<path d="M199.8 76.6H202.2V85.1H199.8M199.8 93.6H202.5V102.1H199.8M202.2 80.8H203.5V97.9H202.5M199.8 110.6H202.3V119.2H199.8M199.8 127.7H202.6V136.2H199.8M202.3 114.9H204.0V131.9H202.6M203.5 89.3H206.0V123.4H204.0M199.8 144.7H202.2V153.2H199.8M199.8 161.8H202.6V170.3H199.8M202.2 149.0H203.8V166.0H202.6M206.0 106.4H208.7V157.5H203.8M199.8 178.8H202.5V187.3H199.8M202.5 183.1H204.5V195.8H199.8M208.7 131.9H214.0V189.4H204.5" stroke="#555" stroke-width="0.45" fill="none"/>
<text x="21.30" y="208.80" font-size="6.8" fill="#5e3b86" stroke="#5e3b86" stroke-width="0.04" textLength="16.20" lengthAdjust="spacingAndGlyphs">3aKO</text>
<text x="21.30" y="215.70" font-size="6.8" fill="#5e3b86" stroke="#5e3b86" stroke-width="0.04" textLength="15.50" lengthAdjust="spacingAndGlyphs">Hypo</text>
<text x="47.50" y="208.80" font-size="6.8" fill="#e3a03e" stroke="#e3a03e" stroke-width="0.04" textLength="22.00" lengthAdjust="spacingAndGlyphs">WT-140</text>
<text x="47.50" y="215.70" font-size="6.8" fill="#e3a03e" stroke="#e3a03e" stroke-width="0.04" textLength="17.00" lengthAdjust="spacingAndGlyphs">Hyper</text>
<text x="112.00" y="208.80" font-size="6.8" fill="#b3204c" stroke="#b3204c" stroke-width="0.04" textLength="28.00" lengthAdjust="spacingAndGlyphs">3aKO-140</text>
<text x="112.00" y="215.70" font-size="6.8" fill="#b3204c" stroke="#b3204c" stroke-width="0.04" textLength="16.80" lengthAdjust="spacingAndGlyphs">Hyper</text>
<text x="225.60" y="17.40" font-size="11" fill="#000" font-weight="bold">B</text>
<text x="248.50" y="28.60" font-size="6.4" fill="#b3204c" stroke="#b3204c" stroke-width="0.04" textLength="48.50" lengthAdjust="spacingAndGlyphs">3aKO-140 Hyper</text>
<circle cx="272.7" cy="57.1" r="27.3" fill="#b72550" fill-opacity="0.6"/>
<circle cx="260.5" cy="81.4" r="11.0" fill="#4e2a78" fill-opacity="0.5"/>
<circle cx="280.7" cy="84.3" r="12.3" fill="#e6a23c" fill-opacity="0.6"/>
<text x="272.70" y="56.70" font-size="5.6" stroke="#222" stroke-width="0.04" text-anchor="middle">1718</text>
<text x="261.90" y="76.60" font-size="5.6" stroke="#222" stroke-width="0.04" text-anchor="middle">33</text>
<text x="269.50" y="84.00" font-size="5.6" stroke="#222" stroke-width="0.04" text-anchor="middle">19</text>
<text x="278.30" y="81.60" font-size="5.6" stroke="#222" stroke-width="0.04" text-anchor="middle">64</text>
<text x="257.30" y="88.00" font-size="5.6" stroke="#222" stroke-width="0.04" text-anchor="middle">46</text>
<text x="268.30" y="89.00" font-size="5.6" stroke="#222" stroke-width="0.04" text-anchor="middle">1</text>
<text x="280.80" y="90.90" font-size="5.6" stroke="#222" stroke-width="0.04" text-anchor="middle">49</text>
<text x="235.30" y="102.30" font-size="6.4" fill="#5e3b86" stroke="#5e3b86" stroke-width="0.04" textLength="33.30" lengthAdjust="spacingAndGlyphs">3aKO Hypo</text>
<text x="272.30" y="102.30" font-size="6.4" fill="#e3a03e" stroke="#e3a03e" stroke-width="0.04" textLength="41.50" lengthAdjust="spacingAndGlyphs">WT-140 Hyper</text>
<text x="325.60" y="17.40" font-size="11" fill="#000" font-weight="bold">C</text>
<text x="437.80" y="27.30" font-size="5.4" fill="#333" stroke="#333" stroke-width="0.04" textLength="24.60" lengthAdjust="spacingAndGlyphs">3aKO-140</text>
<text x="437.80" y="33.80" font-size="5.4" fill="#333" stroke="#333" stroke-width="0.04" textLength="14.40" lengthAdjust="spacingAndGlyphs">Hyper</text>
<text x="466.30" y="27.30" font-size="5.4" fill="#333" stroke="#333" stroke-width="0.04" textLength="18.50" lengthAdjust="spacingAndGlyphs">WT-140</text>
<text x="466.30" y="33.80" font-size="5.4" fill="#333" stroke="#333" stroke-width="0.04" textLength="14.40" lengthAdjust="spacingAndGlyphs">Hyper</text>
<text x="494.20" y="27.30" font-size="5.4" fill="#333" stroke="#333" stroke-width="0.04" textLength="12.80" lengthAdjust="spacingAndGlyphs">3aKO</text>
<text x="494.20" y="33.80" font-size="5.4" fill="#333" stroke="#333" stroke-width="0.04" textLength="12.30" lengthAdjust="spacingAndGlyphs">Hypo</text>
<rect x="438.10" y="39.20" width="23.90" height="5.88" fill="#6aae3e"/>
<text x="461.70" y="44.44" font-size="6.2" fill="#1a1a1a" stroke="#1a1a1a" stroke-width="0.04" text-anchor="end">98</text>
<text x="487.30" y="44.44" font-size="6.2" fill="#1a1a1a" stroke="#1a1a1a" stroke-width="0.04" text-anchor="end">0</text>
<text x="511.80" y="44.44" font-size="6.2" fill="#1a1a1a" stroke="#1a1a1a" stroke-width="0.04" text-anchor="end">0</text>
<rect x="438.10" y="47.28" width="22.44" height="5.88" fill="#6aae3e"/>
<rect x="463.10" y="47.28" width="0.90" height="5.88" fill="#6aae3e"/>
<text x="461.70" y="52.52" font-size="6.2" fill="#1a1a1a" stroke="#1a1a1a" stroke-width="0.04" text-anchor="end">92</text>
<text x="487.30" y="52.52" font-size="6.2" fill="#1a1a1a" stroke="#1a1a1a" stroke-width="0.04" text-anchor="end">2</text>
<text x="511.80" y="52.52" font-size="6.2" fill="#1a1a1a" stroke="#1a1a1a" stroke-width="0.04" text-anchor="end">0</text>
<line x1="437.60" y1="46.28" x2="512.80" y2="46.28" stroke="#000" stroke-width="0.7" stroke-dasharray="1 1"/>
<rect x="438.10" y="55.36" width="19.27" height="5.88" fill="#6aae3e"/>
<text x="461.70" y="60.60" font-size="6.2" fill="#1a1a1a" stroke="#1a1a1a" stroke-width="0.04" text-anchor="end">79</text>
<text x="487.30" y="60.60" font-size="6.2" fill="#1a1a1a" stroke="#1a1a1a" stroke-width="0.04" text-anchor="end">0</text>
<text x="511.80" y="60.60" font-size="6.2" fill="#1a1a1a" stroke="#1a1a1a" stroke-width="0.04" text-anchor="end">0</text>
<line x1="437.60" y1="54.36" x2="512.80" y2="54.36" stroke="#000" stroke-width="0.7" stroke-dasharray="1 1"/>
<rect x="438.10" y="63.44" width="19.02" height="5.88" fill="#6aae3e"/>
<text x="461.70" y="68.68" font-size="6.2" fill="#1a1a1a" stroke="#1a1a1a" stroke-width="0.04" text-anchor="end">78</text>
<text x="487.30" y="68.68" font-size="6.2" fill="#1a1a1a" stroke="#1a1a1a" stroke-width="0.04" text-anchor="end">0</text>
<text x="511.80" y="68.68" font-size="6.2" fill="#1a1a1a" stroke="#1a1a1a" stroke-width="0.04" text-anchor="end">0</text>
<line x1="437.60" y1="62.44" x2="512.80" y2="62.44" stroke="#000" stroke-width="0.7" stroke-dasharray="1 1"/>
<rect x="438.10" y="71.52" width="18.05" height="5.88" fill="#6aae3e"/>
<text x="461.70" y="76.76" font-size="6.2" fill="#1a1a1a" stroke="#1a1a1a" stroke-width="0.04" text-anchor="end">74</text>
<text x="487.30" y="76.76" font-size="6.2" fill="#1a1a1a" stroke="#1a1a1a" stroke-width="0.04" text-anchor="end">0</text>
<text x="511.80" y="76.76" font-size="6.2" fill="#1a1a1a" stroke="#1a1a1a" stroke-width="0.04" text-anchor="end">0</text>
<line x1="437.60" y1="70.52" x2="512.80" y2="70.52" stroke="#000" stroke-width="0.7" stroke-dasharray="1 1"/>
<rect x="438.10" y="79.60" width="18.05" height="5.88" fill="#6aae3e"/>
<rect x="463.10" y="79.60" width="0.90" height="5.88" fill="#6aae3e"/>
<text x="461.70" y="84.84" font-size="6.2" fill="#1a1a1a" stroke="#1a1a1a" stroke-width="0.04" text-anchor="end">74</text>
<text x="487.30" y="84.84" font-size="6.2" fill="#1a1a1a" stroke="#1a1a1a" stroke-width="0.04" text-anchor="end">3</text>
<text x="511.80" y="84.84" font-size="6.2" fill="#1a1a1a" stroke="#1a1a1a" stroke-width="0.04" text-anchor="end">0</text>
<line x1="437.60" y1="78.60" x2="512.80" y2="78.60" stroke="#000" stroke-width="0.7" stroke-dasharray="1 1"/>
<rect x="438.10" y="87.68" width="16.10" height="5.88" fill="#6aae3e"/>
<rect x="463.10" y="87.68" width="0.90" height="5.88" fill="#6aae3e"/>
<text x="461.70" y="92.92" font-size="6.2" fill="#1a1a1a" stroke="#1a1a1a" stroke-width="0.04" text-anchor="end">66</text>
<text x="487.30" y="92.92" font-size="6.2" fill="#1a1a1a" stroke="#1a1a1a" stroke-width="0.04" text-anchor="end">2</text>
<text x="511.80" y="92.92" font-size="6.2" fill="#1a1a1a" stroke="#1a1a1a" stroke-width="0.04" text-anchor="end">0</text>
<line x1="437.60" y1="86.68" x2="512.80" y2="86.68" stroke="#000" stroke-width="0.7" stroke-dasharray="1 1"/>
<rect x="438.10" y="95.76" width="15.85" height="5.88" fill="#6aae3e"/>
<rect x="463.10" y="95.76" width="0.90" height="5.88" fill="#6aae3e"/>
<rect x="488.70" y="95.76" width="0.90" height="5.88" fill="#6aae3e"/>
<text x="461.70" y="101.00" font-size="6.2" fill="#1a1a1a" stroke="#1a1a1a" stroke-width="0.04" text-anchor="end">65</text>
<text x="487.30" y="101.00" font-size="6.2" fill="#1a1a1a" stroke="#1a1a1a" stroke-width="0.04" text-anchor="end">1</text>
<text x="511.80" y="101.00" font-size="6.2" fill="#1a1a1a" stroke="#1a1a1a" stroke-width="0.04" text-anchor="end">2</text>
<line x1="437.60" y1="94.76" x2="512.80" y2="94.76" stroke="#000" stroke-width="0.7" stroke-dasharray="1 1"/>
<rect x="438.10" y="103.84" width="15.12" height="5.88" fill="#6aae3e"/>
<rect x="463.10" y="103.84" width="0.90" height="5.88" fill="#6aae3e"/>
<rect x="488.70" y="103.84" width="0.90" height="5.88" fill="#6aae3e"/>
<text x="461.70" y="109.08" font-size="6.2" fill="#1a1a1a" stroke="#1a1a1a" stroke-width="0.04" text-anchor="end">62</text>
<text x="487.30" y="109.08" font-size="6.2" fill="#1a1a1a" stroke="#1a1a1a" stroke-width="0.04" text-anchor="end">2</text>
<text x="511.80" y="109.08" font-size="6.2" fill="#1a1a1a" stroke="#1a1a1a" stroke-width="0.04" text-anchor="end">2</text>
<line x1="437.60" y1="102.84" x2="512.80" y2="102.84" stroke="#000" stroke-width="0.7" stroke-dasharray="1 1"/>
<rect x="438.10" y="111.92" width="13.17" height="5.88" fill="#6aae3e"/>
<text x="461.70" y="117.16" font-size="6.2" fill="#1a1a1a" stroke="#1a1a1a" stroke-width="0.04" text-anchor="end">54</text>
<text x="487.30" y="117.16" font-size="6.2" fill="#1a1a1a" stroke="#1a1a1a" stroke-width="0.04" text-anchor="end">0</text>
<text x="511.80" y="117.16" font-size="6.2" fill="#1a1a1a" stroke="#1a1a1a" stroke-width="0.04" text-anchor="end">0</text>
<line x1="437.60" y1="110.92" x2="512.80" y2="110.92" stroke="#000" stroke-width="0.7" stroke-dasharray="1 1"/>
<rect x="463.10" y="120.00" width="0.90" height="5.88" fill="#6aae3e"/>
<text x="461.70" y="125.24" font-size="6.2" fill="#1a1a1a" stroke="#1a1a1a" stroke-width="0.04" text-anchor="end">0</text>
<text x="487.30" y="125.24" font-size="6.2" fill="#1a1a1a" stroke="#1a1a1a" stroke-width="0.04" text-anchor="end">2</text>
<text x="511.80" y="125.24" font-size="6.2" fill="#1a1a1a" stroke="#1a1a1a" stroke-width="0.04" text-anchor="end">0</text>
<line x1="437.60" y1="119.00" x2="512.80" y2="119.00" stroke="#000" stroke-width="0.7" stroke-dasharray="1 1"/>
<rect x="463.10" y="128.08" width="0.90" height="5.88" fill="#6aae3e"/>
<text x="461.70" y="133.32" font-size="6.2" fill="#1a1a1a" stroke="#1a1a1a" stroke-width="0.04" text-anchor="end">0</text>
<text x="487.30" y="133.32" font-size="6.2" fill="#1a1a1a" stroke="#1a1a1a" stroke-width="0.04" text-anchor="end">2</text>
<text x="511.80" y="133.32" font-size="6.2" fill="#1a1a1a" stroke="#1a1a1a" stroke-width="0.04" text-anchor="end">0</text>
<line x1="437.60" y1="127.08" x2="512.80" y2="127.08" stroke="#000" stroke-width="0.7" stroke-dasharray="1 1"/>
<rect x="463.10" y="136.16" width="0.90" height="5.88" fill="#6aae3e"/>
<text x="461.70" y="141.40" font-size="6.2" fill="#1a1a1a" stroke="#1a1a1a" stroke-width="0.04" text-anchor="end">0</text>
<text x="487.30" y="141.40" font-size="6.2" fill="#1a1a1a" stroke="#1a1a1a" stroke-width="0.04" text-anchor="end">2</text>
<text x="511.80" y="141.40" font-size="6.2" fill="#1a1a1a" stroke="#1a1a1a" stroke-width="0.04" text-anchor="end">0</text>
<line x1="437.60" y1="135.16" x2="512.80" y2="135.16" stroke="#000" stroke-width="0.7" stroke-dasharray="1 1"/>
<rect x="463.10" y="144.24" width="0.90" height="5.88" fill="#6aae3e"/>
<text x="461.70" y="149.48" font-size="6.2" fill="#1a1a1a" stroke="#1a1a1a" stroke-width="0.04" text-anchor="end">0</text>
<text x="487.30" y="149.48" font-size="6.2" fill="#1a1a1a" stroke="#1a1a1a" stroke-width="0.04" text-anchor="end">2</text>
<text x="511.80" y="149.48" font-size="6.2" fill="#1a1a1a" stroke="#1a1a1a" stroke-width="0.04" text-anchor="end">0</text>
<line x1="437.60" y1="143.24" x2="512.80" y2="143.24" stroke="#000" stroke-width="0.7" stroke-dasharray="1 1"/>
<rect x="463.10" y="152.32" width="0.90" height="5.88" fill="#6aae3e"/>
<text x="461.70" y="157.56" font-size="6.2" fill="#1a1a1a" stroke="#1a1a1a" stroke-width="0.04" text-anchor="end">0</text>
<text x="487.30" y="157.56" font-size="6.2" fill="#1a1a1a" stroke="#1a1a1a" stroke-width="0.04" text-anchor="end">2</text>
<text x="511.80" y="157.56" font-size="6.2" fill="#1a1a1a" stroke="#1a1a1a" stroke-width="0.04" text-anchor="end">0</text>
<line x1="437.60" y1="151.32" x2="512.80" y2="151.32" stroke="#000" stroke-width="0.7" stroke-dasharray="1 1"/>
<rect x="488.70" y="160.40" width="0.90" height="5.88" fill="#6aae3e"/>
<text x="461.70" y="165.64" font-size="6.2" fill="#1a1a1a" stroke="#1a1a1a" stroke-width="0.04" text-anchor="end">0</text>
<text x="487.30" y="165.64" font-size="6.2" fill="#1a1a1a" stroke="#1a1a1a" stroke-width="0.04" text-anchor="end">0</text>
<text x="511.80" y="165.64" font-size="6.2" fill="#1a1a1a" stroke="#1a1a1a" stroke-width="0.04" text-anchor="end">3</text>
<line x1="437.60" y1="159.40" x2="512.80" y2="159.40" stroke="#000" stroke-width="0.7" stroke-dasharray="1 1"/>
<rect x="488.70" y="168.48" width="0.90" height="5.88" fill="#6aae3e"/>
<text x="461.70" y="173.72" font-size="6.2" fill="#1a1a1a" stroke="#1a1a1a" stroke-width="0.04" text-anchor="end">0</text>
<text x="487.30" y="173.72" font-size="6.2" fill="#1a1a1a" stroke="#1a1a1a" stroke-width="0.04" text-anchor="end">0</text>
<text x="511.80" y="173.72" font-size="6.2" fill="#1a1a1a" stroke="#1a1a1a" stroke-width="0.04" text-anchor="end">3</text>
<line x1="437.60" y1="167.48" x2="512.80" y2="167.48" stroke="#000" stroke-width="0.7" stroke-dasharray="1 1"/>
<rect x="488.70" y="176.56" width="0.90" height="5.88" fill="#6aae3e"/>
<text x="461.70" y="181.80" font-size="6.2" fill="#1a1a1a" stroke="#1a1a1a" stroke-width="0.04" text-anchor="end">0</text>
<text x="487.30" y="181.80" font-size="6.2" fill="#1a1a1a" stroke="#1a1a1a" stroke-width="0.04" text-anchor="end">0</text>
<text x="511.80" y="181.80" font-size="6.2" fill="#1a1a1a" stroke="#1a1a1a" stroke-width="0.04" text-anchor="end">3</text>
<line x1="437.60" y1="175.56" x2="512.80" y2="175.56" stroke="#000" stroke-width="0.7" stroke-dasharray="1 1"/>
<rect x="488.70" y="184.64" width="0.90" height="5.88" fill="#6aae3e"/>
<text x="461.70" y="189.88" font-size="6.2" fill="#1a1a1a" stroke="#1a1a1a" stroke-width="0.04" text-anchor="end">0</text>
<text x="487.30" y="189.88" font-size="6.2" fill="#1a1a1a" stroke="#1a1a1a" stroke-width="0.04" text-anchor="end">0</text>
<text x="511.80" y="189.88" font-size="6.2" fill="#1a1a1a" stroke="#1a1a1a" stroke-width="0.04" text-anchor="end">3</text>
<line x1="437.60" y1="183.64" x2="512.80" y2="183.64" stroke="#000" stroke-width="0.7" stroke-dasharray="1 1"/>
<rect x="488.70" y="192.72" width="0.90" height="5.88" fill="#6aae3e"/>
<text x="461.70" y="197.96" font-size="6.2" fill="#1a1a1a" stroke="#1a1a1a" stroke-width="0.04" text-anchor="end">0</text>
<text x="487.30" y="197.96" font-size="6.2" fill="#1a1a1a" stroke="#1a1a1a" stroke-width="0.04" text-anchor="end">0</text>
<text x="511.80" y="197.96" font-size="6.2" fill="#1a1a1a" stroke="#1a1a1a" stroke-width="0.04" text-anchor="end">3</text>
<line x1="437.60" y1="191.72" x2="512.80" y2="191.72" stroke="#000" stroke-width="0.7" stroke-dasharray="1 1"/>
<line x1="462.70" y1="38.20" x2="462.70" y2="199.80" stroke="#000" stroke-width="0.7" stroke-dasharray="1 1"/>
<line x1="488.30" y1="38.20" x2="488.30" y2="199.80" stroke="#000" stroke-width="0.7" stroke-dasharray="1 1"/>
<rect x="437.6" y="38.2" width="75.20" height="161.60" fill="none" stroke="#333" stroke-width="0.8"/>
<text x="434.20" y="44.20" font-size="5.5" fill="#1e1e1e" stroke="#1e1e1e" stroke-width="0.04" text-anchor="end" textLength="70.23" lengthAdjust="spacingAndGlyphs">nervous system development</text>
<text x="434.20" y="51.90" font-size="5.5" fill="#1e1e1e" stroke="#1e1e1e" stroke-width="0.04" text-anchor="end" textLength="49.52" lengthAdjust="spacingAndGlyphs">system development</text>
<text x="434.20" y="59.60" font-size="5.5" fill="#1e1e1e" stroke="#1e1e1e" stroke-width="0.04" text-anchor="end" textLength="32.42" lengthAdjust="spacingAndGlyphs">neurogenesis</text>
<text x="434.20" y="67.30" font-size="5.5" fill="#1e1e1e" stroke="#1e1e1e" stroke-width="0.04" text-anchor="end" textLength="52.53" lengthAdjust="spacingAndGlyphs">generation of neurons</text>
<text x="434.20" y="75.00" font-size="5.5" fill="#1e1e1e" stroke="#1e1e1e" stroke-width="0.04" text-anchor="end" textLength="50.63" lengthAdjust="spacingAndGlyphs">neuron differentiation</text>
<text x="434.20" y="82.70" font-size="5.5" fill="#1e1e1e" stroke="#1e1e1e" stroke-width="0.04" text-anchor="end" textLength="84.03" lengthAdjust="spacingAndGlyphs">antomical structure morphogenesis</text>
<text x="434.20" y="90.40" font-size="5.5" fill="#1e1e1e" stroke="#1e1e1e" stroke-width="0.04" text-anchor="end" textLength="40.52" lengthAdjust="spacingAndGlyphs">cell development</text>
<text x="434.20" y="98.10" font-size="5.5" fill="#1e1e1e" stroke="#1e1e1e" stroke-width="0.04" text-anchor="end" textLength="41.92" lengthAdjust="spacingAndGlyphs">cell differentiation</text>
<text x="434.20" y="105.80" font-size="5.5" fill="#1e1e1e" stroke="#1e1e1e" stroke-width="0.04" text-anchor="end" textLength="74.13" lengthAdjust="spacingAndGlyphs">cellular developmental process</text>
<text x="434.20" y="113.50" font-size="5.5" fill="#1e1e1e" stroke="#1e1e1e" stroke-width="0.04" text-anchor="end" textLength="49.23" lengthAdjust="spacingAndGlyphs">neuron development</text>
<text x="434.20" y="121.20" font-size="5.5" fill="#1e1e1e" stroke="#1e1e1e" stroke-width="0.04" text-anchor="end" textLength="73.84" lengthAdjust="spacingAndGlyphs">actin cytoskeleton organization</text>
<text x="434.20" y="128.90" font-size="5.5" fill="#1e1e1e" stroke="#1e1e1e" stroke-width="0.04" text-anchor="end" textLength="87.05" lengthAdjust="spacingAndGlyphs">regulation of generation of precursor</text>
<text x="434.20" y="136.60" font-size="5.5" fill="#1e1e1e" stroke="#1e1e1e" stroke-width="0.04" text-anchor="end" textLength="56.13" lengthAdjust="spacingAndGlyphs">metabolites and energy</text>
<text x="434.20" y="144.30" font-size="5.5" fill="#1e1e1e" stroke="#1e1e1e" stroke-width="0.04" text-anchor="end" textLength="57.93" lengthAdjust="spacingAndGlyphs">phospholipid scrambling</text>
<text x="434.20" y="152.00" font-size="5.5" fill="#1e1e1e" stroke="#1e1e1e" stroke-width="0.04" text-anchor="end" textLength="85.94" lengthAdjust="spacingAndGlyphs">regulation of ATP metabolic process</text>
<text x="434.20" y="159.70" font-size="5.5" fill="#1e1e1e" stroke="#1e1e1e" stroke-width="0.04" text-anchor="end" textLength="73.53" lengthAdjust="spacingAndGlyphs">regulation of glycolytic process</text>
<text x="434.20" y="167.40" font-size="5.5" fill="#1e1e1e" stroke="#1e1e1e" stroke-width="0.04" text-anchor="end" textLength="53.13" lengthAdjust="spacingAndGlyphs">organelle organization</text>
<text x="434.20" y="175.10" font-size="5.5" fill="#1e1e1e" stroke="#1e1e1e" stroke-width="0.04" text-anchor="end" textLength="106.26" lengthAdjust="spacingAndGlyphs">organonitrogen compound catabolic process</text>
<text x="434.20" y="182.80" font-size="5.5" fill="#1e1e1e" stroke="#1e1e1e" stroke-width="0.04" text-anchor="end" textLength="59.73" lengthAdjust="spacingAndGlyphs">protein catabolic process</text>
<text x="434.20" y="190.50" font-size="5.5" fill="#1e1e1e" stroke="#1e1e1e" stroke-width="0.04" text-anchor="end" textLength="46.83" lengthAdjust="spacingAndGlyphs">protein ubiquitintion</text>
<text x="434.20" y="198.20" font-size="5.5" fill="#1e1e1e" stroke="#1e1e1e" stroke-width="0.04" text-anchor="end" textLength="78.33" lengthAdjust="spacingAndGlyphs">cellular protein catabolic process</text>
<text x="441.90" y="205.90" font-size="5.2" fill="#333" stroke="#333" stroke-width="0.04">-log</text>
<text x="450.50" y="207.00" font-size="2.8" fill="#333" stroke="#333" stroke-width="0.04">10</text>
<text x="453.50" y="205.90" font-size="5.2" fill="#333" stroke="#333" stroke-width="0.04">P</text>
<text x="467.90" y="205.90" font-size="5.2" fill="#333" stroke="#333" stroke-width="0.04">-log</text>
<text x="476.50" y="207.00" font-size="2.8" fill="#333" stroke="#333" stroke-width="0.04">10</text>
<text x="479.50" y="205.90" font-size="5.2" fill="#333" stroke="#333" stroke-width="0.04">P</text>
<text x="492.90" y="205.90" font-size="5.2" fill="#333" stroke="#333" stroke-width="0.04">-log</text>
<text x="501.50" y="207.00" font-size="2.8" fill="#333" stroke="#333" stroke-width="0.04">10</text>
<text x="504.50" y="205.90" font-size="5.2" fill="#333" stroke="#333" stroke-width="0.04">P</text>
<text x="225.60" y="129.70" font-size="11" fill="#000" font-weight="bold">D</text>
<text x="235.30" y="141.00" font-size="6.4" fill="#b3204c" stroke="#b3204c" stroke-width="0.04" textLength="48.50" lengthAdjust="spacingAndGlyphs">3aKO-140 Hyper</text>
<circle cx="259.3" cy="164.3" r="19.3" fill="#b72550" fill-opacity="0.6"/>
<circle cx="259.2" cy="184.6" r="15.7" fill="#4e2a78" fill-opacity="0.5"/>
<text x="257.20" y="163.10" font-size="6.2" stroke="#222" stroke-width="0.04" text-anchor="middle" textLength="12.00" lengthAdjust="spacingAndGlyphs">1713</text>
<text x="258.50" y="179.90" font-size="6.2" stroke="#222" stroke-width="0.04" text-anchor="middle" textLength="8.40" lengthAdjust="spacingAndGlyphs">252</text>
<text x="257.80" y="193.70" font-size="6.2" stroke="#222" stroke-width="0.04" text-anchor="middle" textLength="11.20" lengthAdjust="spacingAndGlyphs">1068</text>
<line x1="268.00" y1="178.90" x2="280.30" y2="178.90" stroke="#666" stroke-width="1.0"/>
<text x="280.80" y="180.80" font-size="5.6" fill="#333" stroke="#333" stroke-width="0.04" textLength="23.70" lengthAdjust="spacingAndGlyphs">p=2.5X10</text>
<text x="304.60" y="178.30" font-size="3.0" fill="#333" stroke="#333" stroke-width="0.04" textLength="4.50" lengthAdjust="spacingAndGlyphs">-46</text>
<text x="240.40" y="207.20" font-size="6.4" fill="#5e3b86" stroke="#5e3b86" stroke-width="0.04" textLength="36.50" lengthAdjust="spacingAndGlyphs">HSC Canyon</text>
<text x="239.70" y="215.40" font-size="6.4" fill="#5e3b86" stroke="#5e3b86" stroke-width="0.04" textLength="38.10" lengthAdjust="spacingAndGlyphs">(Jeong et al.)</text>
<text x="10.60" y="243.20" font-size="11" fill="#000" font-weight="bold">E</text>
<rect x="106.10" y="248.80" width="79.10" height="8.50" fill="#69a7df"/>
<text x="103.00" y="255.10" font-size="5.7" stroke="#222" stroke-width="0.04" text-anchor="end" textLength="59.95" lengthAdjust="spacingAndGlyphs">MAPK signaling pathway</text>
<rect x="106.10" y="259.35" width="62.80" height="8.50" fill="#69a7df"/>
<text x="103.00" y="265.65" font-size="5.7" stroke="#222" stroke-width="0.04" text-anchor="end" textLength="59.55" lengthAdjust="spacingAndGlyphs">Osteoclast differentiation</text>
<rect x="106.10" y="269.90" width="56.60" height="8.50" fill="#69a7df"/>
<text x="103.00" y="276.20" font-size="5.7" stroke="#222" stroke-width="0.04" text-anchor="end" textLength="74.56" lengthAdjust="spacingAndGlyphs">AGE−RAGE signaling pathway</text>
<rect x="106.10" y="280.45" width="48.80" height="8.50" fill="#69a7df"/>
<text x="103.00" y="286.75" font-size="5.7" stroke="#222" stroke-width="0.04" text-anchor="end" textLength="62.05" lengthAdjust="spacingAndGlyphs">Chronic myeloid leukemia</text>
<rect x="106.10" y="291.00" width="48.80" height="8.50" fill="#69a7df"/>
<text x="103.00" y="297.30" font-size="5.7" stroke="#222" stroke-width="0.04" text-anchor="end" textLength="36.76" lengthAdjust="spacingAndGlyphs">Focal adhesion</text>
<rect x="106.10" y="301.55" width="48.80" height="8.50" fill="#69a7df"/>
<text x="103.00" y="307.85" font-size="5.7" stroke="#222" stroke-width="0.04" text-anchor="end" textLength="92.58" lengthAdjust="spacingAndGlyphs">Transcriptional misregulation in cancer</text>
<rect x="106.10" y="312.10" width="48.80" height="8.50" fill="#69a7df"/>
<text x="103.00" y="318.40" font-size="5.7" stroke="#222" stroke-width="0.04" text-anchor="end" textLength="57.84" lengthAdjust="spacingAndGlyphs">FoxO signaling pathway</text>
<rect x="106.10" y="322.65" width="48.60" height="8.50" fill="#69a7df"/>
<text x="103.00" y="328.95" font-size="5.7" stroke="#222" stroke-width="0.04" text-anchor="end" textLength="57.55" lengthAdjust="spacingAndGlyphs">Rap1 signaling pathway</text>
<rect x="106.10" y="333.20" width="46.70" height="8.50" fill="#69a7df"/>
<text x="103.00" y="339.50" font-size="5.7" stroke="#222" stroke-width="0.04" text-anchor="end" textLength="67.34" lengthAdjust="spacingAndGlyphs">PI3K−Akt signaling pathway</text>
<rect x="106.10" y="343.75" width="45.90" height="8.50" fill="#69a7df"/>
<text x="103.00" y="350.05" font-size="5.7" stroke="#222" stroke-width="0.04" text-anchor="end" textLength="78.83" lengthAdjust="spacingAndGlyphs">T cell receptor signaling pathway</text>
<line x1="103.80" y1="356.90" x2="176.70" y2="356.90" stroke="#111" stroke-width="1.1"/>
<line x1="105.90" y1="356.40" x2="105.90" y2="359.40" stroke="#111" stroke-width="0.9"/>
<text x="105.90" y="368.20" font-size="5.8" stroke="#222" stroke-width="0.04" text-anchor="middle">0</text>
<line x1="117.28" y1="356.40" x2="117.28" y2="359.40" stroke="#111" stroke-width="0.9"/>
<text x="117.28" y="368.20" font-size="5.8" stroke="#222" stroke-width="0.04" text-anchor="middle">1</text>
<line x1="128.66" y1="356.40" x2="128.66" y2="359.40" stroke="#111" stroke-width="0.9"/>
<text x="128.66" y="368.20" font-size="5.8" stroke="#222" stroke-width="0.04" text-anchor="middle">2</text>
<line x1="140.04" y1="356.40" x2="140.04" y2="359.40" stroke="#111" stroke-width="0.9"/>
<text x="140.04" y="368.20" font-size="5.8" stroke="#222" stroke-width="0.04" text-anchor="middle">3</text>
<line x1="151.42" y1="356.40" x2="151.42" y2="359.40" stroke="#111" stroke-width="0.9"/>
<text x="151.42" y="368.20" font-size="5.8" stroke="#222" stroke-width="0.04" text-anchor="middle">4</text>
<line x1="162.80" y1="356.40" x2="162.80" y2="359.40" stroke="#111" stroke-width="0.9"/>
<text x="162.80" y="368.20" font-size="5.8" stroke="#222" stroke-width="0.04" text-anchor="middle">5</text>
<line x1="174.18" y1="356.40" x2="174.18" y2="359.40" stroke="#111" stroke-width="0.9"/>
<text x="174.18" y="368.20" font-size="5.8" stroke="#222" stroke-width="0.04" text-anchor="middle">6</text>
<text x="140.50" y="378.00" font-size="7.4" stroke="#222" stroke-width="0.04" text-anchor="middle" textLength="45.00" lengthAdjust="spacingAndGlyphs">−log10(P.adjust)</text>
<text x="200.00" y="243.20" font-size="11" fill="#000" font-weight="bold">F</text>
<text x="200.50" y="257.00" font-size="6.3" stroke="#222" stroke-width="0.04" textLength="41.50" lengthAdjust="spacingAndGlyphs">MKP enhancer</text>
<text x="259.50" y="253.60" font-size="6.3" stroke="#222" stroke-width="0.04" textLength="29.30" lengthAdjust="spacingAndGlyphs">up_K27ac</text>
<ellipse cx="224.5" cy="284.0" rx="19.7" ry="18.0" fill="rgb(46,75,148)" fill-opacity="0.55"/>
<ellipse cx="260.6" cy="292.1" rx="36.9" ry="34.0" fill="rgb(180,30,70)" fill-opacity="0.6"/>
<ellipse cx="237.1" cy="323.8" rx="36.6" ry="33.8" fill="rgb(170,185,120)" fill-opacity="0.45"/>
<text x="212.50" y="292.60" font-size="5.6" stroke="#222" stroke-width="0.04" text-anchor="middle">130</text>
<text x="235.50" y="286.30" font-size="5.6" stroke="#222" stroke-width="0.04" text-anchor="middle">83</text>
<text x="274.00" y="286.60" font-size="5.6" stroke="#222" stroke-width="0.04" text-anchor="middle">3657</text>
<text x="218.30" y="301.60" font-size="5.6" stroke="#222" stroke-width="0.04" text-anchor="middle">8</text>
<text x="232.00" y="297.60" font-size="5.6" stroke="#222" stroke-width="0.04" text-anchor="middle">7</text>
<text x="261.30" y="319.60" font-size="5.6" stroke="#222" stroke-width="0.04" text-anchor="middle">316</text>
<text x="239.30" y="341.30" font-size="5.6" stroke="#222" stroke-width="0.04" text-anchor="middle">686</text>
<text x="222.00" y="365.00" font-size="6.0" stroke="#222" stroke-width="0.04" textLength="31.00" lengthAdjust="spacingAndGlyphs">down_K27ac</text>
<text x="312.00" y="243.20" font-size="11" fill="#000" font-weight="bold">G</text>
<text x="359.20" y="253.30" font-size="5.4" stroke="#222" stroke-width="0.04" textLength="12.60" lengthAdjust="spacingAndGlyphs">Scale</text>
<text x="392.70" y="255.40" font-size="5.4" stroke="#222" stroke-width="0.04" textLength="10.00" lengthAdjust="spacingAndGlyphs">2 kb</text>
<line x1="404.20" y1="253.50" x2="433.50" y2="253.50" stroke="#333" stroke-width="0.6"/>
<line x1="404.40" y1="252.30" x2="404.40" y2="254.70" stroke="#333" stroke-width="0.6"/>
<line x1="433.30" y1="252.30" x2="433.30" y2="254.70" stroke="#333" stroke-width="0.6"/>
<text x="435.00" y="255.40" font-size="5.4" stroke="#222" stroke-width="0.04" textLength="12.00" lengthAdjust="spacingAndGlyphs">mm9</text>
<text x="326.50" y="261.40" font-size="5.3" fill="#b3204c" stroke="#b3204c" stroke-width="0.04" textLength="31.20" lengthAdjust="spacingAndGlyphs">WT H3K27ac</text>
<text x="318.20" y="271.50" font-size="5.3" fill="#b3204c" stroke="#b3204c" stroke-width="0.04" textLength="39.50" lengthAdjust="spacingAndGlyphs">3a-140 H3K27ac</text>
<text x="360.60" y="258.50" font-size="2.4" fill="#b3204c" stroke="#b3204c" stroke-width="0.04" text-anchor="middle">5</text>
<text x="360.60" y="263.60" font-size="2.4" fill="#b3204c" stroke="#b3204c" stroke-width="0.04" text-anchor="middle">0</text>
<text x="360.60" y="268.30" font-size="2.4" fill="#b3204c" stroke="#b3204c" stroke-width="0.04" text-anchor="middle">5</text>
<text x="360.60" y="273.20" font-size="2.4" fill="#b3204c" stroke="#b3204c" stroke-width="0.04" text-anchor="middle">0</text>
<line x1="364.40" y1="256.50" x2="364.40" y2="263.00" stroke="#333" stroke-width="0.6"/>
<line x1="364.40" y1="266.20" x2="364.40" y2="272.40" stroke="#333" stroke-width="0.6"/>
<rect x="364.60" y="262.00" width="109.60" height="1.10" fill="#b01535"/>
<rect x="398.60" y="261.45" width="3.60" height="0.60" fill="#b01535" fill-opacity="0.6"/>
<rect x="372.21" y="261.56" width="2.46" height="0.60" fill="#b01535" fill-opacity="0.6"/>
<rect x="370.69" y="261.55" width="1.15" height="0.60" fill="#b01535" fill-opacity="0.6"/>
<rect x="410.13" y="261.42" width="1.36" height="0.60" fill="#b01535" fill-opacity="0.6"/>
<rect x="409.17" y="261.65" width="1.50" height="0.60" fill="#b01535" fill-opacity="0.6"/>
<rect x="388.04" y="261.59" width="4.79" height="0.60" fill="#b01535" fill-opacity="0.6"/>
<rect x="425.20" y="261.52" width="4.91" height="0.60" fill="#b01535" fill-opacity="0.6"/>
<rect x="369.49" y="261.66" width="2.16" height="0.60" fill="#b01535" fill-opacity="0.6"/>
<rect x="379.75" y="261.44" width="2.23" height="0.60" fill="#b01535" fill-opacity="0.6"/>
<rect x="450.29" y="261.45" width="3.33" height="0.60" fill="#b01535" fill-opacity="0.6"/>
<rect x="431.69" y="261.51" width="3.19" height="0.60" fill="#b01535" fill-opacity="0.6"/>
<rect x="371.19" y="261.42" width="1.82" height="0.60" fill="#b01535" fill-opacity="0.6"/>
<rect x="436.04" y="261.53" width="2.26" height="0.60" fill="#b01535" fill-opacity="0.6"/>
<rect x="426.08" y="261.54" width="2.20" height="0.60" fill="#b01535" fill-opacity="0.6"/>
<rect x="448.01" y="261.61" width="1.98" height="0.60" fill="#b01535" fill-opacity="0.6"/>
<rect x="424.91" y="261.56" width="4.50" height="0.60" fill="#b01535" fill-opacity="0.6"/>
<rect x="441.19" y="261.49" width="4.92" height="0.60" fill="#b01535" fill-opacity="0.6"/>
<rect x="377.00" y="261.53" width="4.03" height="0.60" fill="#b01535" fill-opacity="0.6"/>
<rect x="380.56" y="261.55" width="1.16" height="0.60" fill="#b01535" fill-opacity="0.6"/>
<rect x="434.76" y="261.63" width="3.29" height="0.60" fill="#b01535" fill-opacity="0.6"/>
<rect x="456.53" y="261.49" width="3.78" height="0.60" fill="#b01535" fill-opacity="0.6"/>
<rect x="427.01" y="261.57" width="2.82" height="0.60" fill="#b01535" fill-opacity="0.6"/>
<rect x="452.80" y="261.68" width="2.90" height="0.60" fill="#b01535" fill-opacity="0.6"/>
<rect x="434.34" y="261.42" width="3.81" height="0.60" fill="#b01535" fill-opacity="0.6"/>
<rect x="432.55" y="261.70" width="4.29" height="0.60" fill="#b01535" fill-opacity="0.6"/>
<rect x="394.48" y="261.52" width="3.67" height="0.60" fill="#b01535" fill-opacity="0.6"/>
<rect x="366.97" y="261.54" width="1.67" height="0.60" fill="#b01535" fill-opacity="0.6"/>
<rect x="376.90" y="261.42" width="4.07" height="0.60" fill="#b01535" fill-opacity="0.6"/>
<rect x="378.18" y="261.47" width="2.56" height="0.60" fill="#b01535" fill-opacity="0.6"/>
<rect x="456.10" y="261.42" width="2.80" height="0.60" fill="#b01535" fill-opacity="0.6"/>
<path d="M364.6 272.2L364.6 270.5L365.3 270.2L366.0 269.5L366.7 269.3L367.3 268.6L368.0 268.4L368.7 268.2L369.4 268.3L370.1 268.1L370.8 267.3L371.5 267.1L372.2 267.2L372.9 267.3L373.6 267.6L374.3 267.8L375.0 267.6L375.6 267.3L376.2 267.4L376.8 267.2L377.4 267.2L378.0 267.3L378.6 267.2L379.2 267.2L379.8 267.4L380.4 267.5L381.0 267.2L381.7 267.7L382.3 267.5L383.0 267.5L383.6 267.6L384.2 267.5L384.8 267.7L385.4 267.7L386.0 268.3L386.6 268.0L387.2 268.1L387.8 268.2L388.4 268.3L389.0 268.5L389.6 268.2L390.2 268.0L390.9 268.0L391.5 267.8L392.2 268.6L392.8 269.0L393.5 270.3L394.2 269.5L395.0 268.7L395.7 268.4L396.3 268.1L397.0 267.8L397.7 268.7L398.3 270.2L399.0 271.3L399.6 270.4L400.2 269.7L400.9 268.8L401.5 268.2L402.1 268.2L402.8 268.0L403.4 268.2L404.0 267.6L404.6 267.5L405.2 268.2L405.8 267.9L406.4 267.7L407.0 268.0L407.6 267.5L408.2 267.7L408.8 267.9L409.4 267.6L410.0 267.3L410.6 267.2L411.2 267.4L411.8 267.4L412.4 268.0L413.0 267.9L413.6 268.0L414.2 267.6L414.8 267.4L415.4 267.7L416.0 267.7L416.7 267.7L417.3 267.7L418.0 267.7L418.7 267.7L419.3 267.4L420.0 267.6L420.7 268.3L421.3 268.9L422.0 269.7L422.7 269.2L423.3 268.6L424.0 268.3L424.7 268.1L425.3 267.4L426.0 267.3L426.7 267.6L427.4 267.8L428.1 267.7L428.8 267.8L429.6 267.5L430.5 267.1L431.1 266.7L431.7 266.7L432.3 266.5L433.0 267.0L433.8 267.4L434.5 268.1L435.2 268.7L435.8 268.6L436.5 269.5L437.2 270.2L438.0 270.7L438.7 270.4L439.3 269.9L440.0 269.4L440.8 269.3L441.5 268.5L442.1 268.7L442.8 268.7L443.4 268.2L444.0 268.1L444.7 268.6L445.3 268.5L446.0 268.2L446.6 268.2L447.2 268.3L447.9 268.9L448.5 268.9L449.6 269.8L450.4 270.4L451.2 270.7L452.0 270.6L452.6 270.4L453.2 270.5L453.8 270.2L454.4 270.1L455.0 270.7L455.7 270.6L456.4 270.5L457.0 270.9L457.7 270.6L458.4 271.3L459.0 271.6L459.6 271.2L460.2 271.3L460.8 271.4L461.4 271.4L462.0 271.7L462.7 271.4L463.3 271.5L464.0 271.3L464.7 271.8L465.3 271.4L466.0 271.5L466.7 271.3L467.3 271.2L468.0 270.5L469.2 269.9L469.8 269.7L470.4 269.9L471.0 270.0L471.9 269.9L472.7 270.5L473.4 270.4L474.2 270.8L474.2 272.2Z" stroke="none" stroke-width="1" fill="#b01535"/>
<text x="329.10" y="282.50" font-size="5.3" fill="#7cb45c" stroke="#7cb45c" stroke-width="0.04" textLength="28.80" lengthAdjust="spacingAndGlyphs">CpG islands</text>
<rect x="365.80" y="280.10" width="14.80" height="1.40" fill="#6aae3e"/>
<rect x="405.80" y="280.10" width="14.80" height="1.40" fill="#6aae3e"/>
<rect x="435.00" y="280.10" width="19.80" height="1.40" fill="#6aae3e"/>
<text x="421.20" y="279.10" font-size="5.3" stroke="#222" stroke-width="0.04" textLength="13.40" lengthAdjust="spacingAndGlyphs">Gata2</text>
<line x1="437.90" y1="277.10" x2="474.20" y2="277.10" stroke="#2b4a86" stroke-width="0.5"/>
<rect x="450.60" y="276.30" width="4.00" height="1.60" fill="#2b4a86"/>
<rect x="460.40" y="276.30" width="9.20" height="1.60" fill="#2b4a86"/>
<path d="M440.5 276.4L441.3 277.1L440.5 277.8" stroke="#2b4a86" stroke-width="0.35" fill="none"/>
<path d="M445.5 276.4L446.3 277.1L445.5 277.8" stroke="#2b4a86" stroke-width="0.35" fill="none"/>
<path d="M456.5 276.4L457.3 277.1L456.5 277.8" stroke="#2b4a86" stroke-width="0.35" fill="none"/>
<path d="M471.5 276.4L472.3 277.1L471.5 277.8" stroke="#2b4a86" stroke-width="0.35" fill="none"/>
<rect x="412.30" y="283.20" width="4.80" height="1.60" fill="#000"/>
<rect x="467.10" y="282.70" width="6.40" height="1.60" fill="#000"/>
<text x="402.30" y="290.00" font-size="5.4" stroke="#222" stroke-width="0.04" textLength="36.20" lengthAdjust="spacingAndGlyphs">CpG Upstream</text>
<text x="461.90" y="289.40" font-size="5.4" stroke="#222" stroke-width="0.04" textLength="16.10" lengthAdjust="spacingAndGlyphs">Exon 3</text>
<path d="M400.6 290.7V293.5L361.3 302.8" stroke="#777" stroke-width="0.6" fill="none"/>
<line x1="411.00" y1="291.00" x2="411.00" y2="302.80" stroke="#777" stroke-width="0.6"/>
<path d="M469.2 291.0V293.5L450.2 305.7" stroke="#777" stroke-width="0.6" fill="none"/>
<path d="M477.7 291.0V293.5L504.1 305.7" stroke="#777" stroke-width="0.6" fill="none"/>
<line x1="351.60" y1="308.40" x2="351.60" y2="349.30" stroke="#111" stroke-width="1.0"/>
<line x1="351.60" y1="349.30" x2="411.00" y2="349.30" stroke="#111" stroke-width="1.0"/>
<line x1="348.60" y1="349.30" x2="351.60" y2="349.30" stroke="#111" stroke-width="0.8"/>
<text x="345.60" y="351.20" font-size="5.4" stroke="#222" stroke-width="0.04" text-anchor="end">0</text>
<line x1="348.60" y1="337.40" x2="351.60" y2="337.40" stroke="#111" stroke-width="0.8"/>
<text x="345.60" y="339.30" font-size="5.4" stroke="#222" stroke-width="0.04" text-anchor="end">10</text>
<line x1="348.60" y1="325.50" x2="351.60" y2="325.50" stroke="#111" stroke-width="0.8"/>
<text x="345.60" y="327.40" font-size="5.4" stroke="#222" stroke-width="0.04" text-anchor="end">20</text>
<line x1="348.60" y1="313.60" x2="351.60" y2="313.60" stroke="#111" stroke-width="0.8"/>
<text x="345.60" y="315.50" font-size="5.4" stroke="#222" stroke-width="0.04" text-anchor="end">30</text>
<line x1="359.10" y1="336.21" x2="359.10" y2="335.73" stroke="#777" stroke-width="0.8"/>
<line x1="357.30" y1="335.73" x2="360.90" y2="335.73" stroke="#555" stroke-width="0.8"/>
<rect x="355.30" y="336.21" width="7.60" height="13.09" fill="#4b216f" stroke="#222" stroke-width="0.3"/>
<line x1="359.10" y1="349.30" x2="359.10" y2="351.90" stroke="#111" stroke-width="0.7"/>
<text x="361.30" y="355.80" font-size="5.5" stroke="#222" stroke-width="0.04" text-anchor="end" transform="rotate(-45 361.30 355.80)">WT</text>
<line x1="374.05" y1="339.54" x2="374.05" y2="335.73" stroke="#777" stroke-width="0.8"/>
<line x1="372.25" y1="335.73" x2="375.85" y2="335.73" stroke="#555" stroke-width="0.8"/>
<rect x="370.30" y="339.54" width="7.50" height="9.76" fill="#6aae3e" stroke="#222" stroke-width="0.3"/>
<line x1="374.05" y1="349.30" x2="374.05" y2="351.90" stroke="#111" stroke-width="0.7"/>
<text x="376.25" y="355.80" font-size="5.5" stroke="#222" stroke-width="0.04" text-anchor="end" transform="rotate(-45 376.25 355.80)">3a-KO</text>
<line x1="388.95" y1="324.79" x2="388.95" y2="311.46" stroke="#777" stroke-width="0.8"/>
<line x1="387.15" y1="311.46" x2="390.75" y2="311.46" stroke="#555" stroke-width="0.8"/>
<rect x="385.10" y="324.79" width="7.70" height="24.51" fill="#2b4a86" stroke="#222" stroke-width="0.3"/>
<line x1="388.95" y1="349.30" x2="388.95" y2="351.90" stroke="#111" stroke-width="0.7"/>
<text x="391.15" y="355.80" font-size="5.5" stroke="#222" stroke-width="0.04" text-anchor="end" transform="rotate(-45 391.15 355.80)">WT-140</text>
<line x1="404.05" y1="348.59" x2="404.05" y2="347.63" stroke="#777" stroke-width="0.8"/>
<line x1="402.25" y1="347.63" x2="405.85" y2="347.63" stroke="#555" stroke-width="0.8"/>
<rect x="400.30" y="348.59" width="7.50" height="0.71" fill="#c0143c" stroke="#222" stroke-width="0.3"/>
<line x1="404.05" y1="349.30" x2="404.05" y2="351.90" stroke="#111" stroke-width="0.7"/>
<text x="406.25" y="355.80" font-size="5.5" stroke="#222" stroke-width="0.04" text-anchor="end" transform="rotate(-45 406.25 355.80)">3aKO-140</text>
<text x="374.60" y="306.80" font-size="5.4" stroke="#222" stroke-width="0.04" textLength="35.20" lengthAdjust="spacingAndGlyphs">CpG Upstream</text>
<line x1="447.00" y1="307.20" x2="447.00" y2="349.50" stroke="#111" stroke-width="1.0"/>
<line x1="447.00" y1="349.50" x2="505.00" y2="349.50" stroke="#111" stroke-width="1.0"/>
<line x1="444.00" y1="349.50" x2="447.00" y2="349.50" stroke="#111" stroke-width="0.8"/>
<text x="441.00" y="351.40" font-size="5.4" stroke="#222" stroke-width="0.04" text-anchor="end">0</text>
<line x1="444.00" y1="339.57" x2="447.00" y2="339.57" stroke="#111" stroke-width="0.8"/>
<text x="441.00" y="341.47" font-size="5.4" stroke="#222" stroke-width="0.04" text-anchor="end">10</text>
<line x1="444.00" y1="329.64" x2="447.00" y2="329.64" stroke="#111" stroke-width="0.8"/>
<text x="441.00" y="331.54" font-size="5.4" stroke="#222" stroke-width="0.04" text-anchor="end">20</text>
<line x1="444.00" y1="319.71" x2="447.00" y2="319.71" stroke="#111" stroke-width="0.8"/>
<text x="441.00" y="321.61" font-size="5.4" stroke="#222" stroke-width="0.04" text-anchor="end">30</text>
<line x1="444.00" y1="309.78" x2="447.00" y2="309.78" stroke="#111" stroke-width="0.8"/>
<text x="441.00" y="311.68" font-size="5.4" stroke="#222" stroke-width="0.04" text-anchor="end">40</text>
<line x1="453.90" y1="328.75" x2="453.90" y2="321.89" stroke="#777" stroke-width="0.8"/>
<line x1="452.10" y1="321.89" x2="455.70" y2="321.89" stroke="#555" stroke-width="0.8"/>
<rect x="450.20" y="328.75" width="7.40" height="20.75" fill="#4b216f" stroke="#222" stroke-width="0.3"/>
<line x1="453.90" y1="349.50" x2="453.90" y2="352.10" stroke="#111" stroke-width="0.7"/>
<text x="456.10" y="356.00" font-size="5.5" stroke="#222" stroke-width="0.04" text-anchor="end" transform="rotate(-45 456.10 356.00)">WT</text>
<line x1="469.10" y1="329.74" x2="469.10" y2="325.57" stroke="#777" stroke-width="0.8"/>
<line x1="467.30" y1="325.57" x2="470.90" y2="325.57" stroke="#555" stroke-width="0.8"/>
<rect x="465.40" y="329.74" width="7.40" height="19.76" fill="#6aae3e" stroke="#222" stroke-width="0.3"/>
<line x1="469.10" y1="349.50" x2="469.10" y2="352.10" stroke="#111" stroke-width="0.7"/>
<text x="471.30" y="356.00" font-size="5.5" stroke="#222" stroke-width="0.04" text-anchor="end" transform="rotate(-45 471.30 356.00)">3a-KO</text>
<line x1="484.15" y1="318.72" x2="484.15" y2="311.27" stroke="#777" stroke-width="0.8"/>
<line x1="482.35" y1="311.27" x2="485.95" y2="311.27" stroke="#555" stroke-width="0.8"/>
<rect x="480.40" y="318.72" width="7.50" height="30.78" fill="#2b4a86" stroke="#222" stroke-width="0.3"/>
<line x1="484.15" y1="349.50" x2="484.15" y2="352.10" stroke="#111" stroke-width="0.7"/>
<text x="486.35" y="356.00" font-size="5.5" stroke="#222" stroke-width="0.04" text-anchor="end" transform="rotate(-45 486.35 356.00)">WT-140</text>
<line x1="499.20" y1="340.96" x2="499.20" y2="339.37" stroke="#777" stroke-width="0.8"/>
<line x1="497.40" y1="339.37" x2="501.00" y2="339.37" stroke="#555" stroke-width="0.8"/>
<rect x="495.30" y="340.96" width="7.80" height="8.54" fill="#c0143c" stroke="#222" stroke-width="0.3"/>
<line x1="499.20" y1="349.50" x2="499.20" y2="352.10" stroke="#111" stroke-width="0.7"/>
<text x="501.40" y="356.00" font-size="5.5" stroke="#222" stroke-width="0.04" text-anchor="end" transform="rotate(-45 501.40 356.00)">3aKO-140</text>
<text x="467.10" y="307.00" font-size="5.4" stroke="#222" stroke-width="0.04" textLength="15.90" lengthAdjust="spacingAndGlyphs">Exon 3</text>
<text x="326.00" y="328.50" font-size="6.6" stroke="#222" stroke-width="0.04" text-anchor="middle" textLength="40.80" lengthAdjust="spacingAndGlyphs" transform="rotate(-90 326.00 328.50)">mC reads / total</text>
<text x="335.00" y="328.70" font-size="6.6" stroke="#222" stroke-width="0.04" text-anchor="middle" textLength="20.10" lengthAdjust="spacingAndGlyphs" transform="rotate(-90 335.00 328.70)">reads %</text>
<text x="422.00" y="325.00" font-size="6.6" stroke="#222" stroke-width="0.04" text-anchor="middle" textLength="40.80" lengthAdjust="spacingAndGlyphs" transform="rotate(-90 422.00 325.00)">mC reads / total</text>
<text x="430.80" y="325.00" font-size="6.6" stroke="#222" stroke-width="0.04" text-anchor="middle" textLength="20.10" lengthAdjust="spacingAndGlyphs" transform="rotate(-90 430.80 325.00)">reads %</text>
<text x="11.00" y="405.20" font-size="11" fill="#000" font-weight="bold">H</text>
<text x="133.40" y="417.40" font-size="7.8" stroke="#222" stroke-width="0.03" text-anchor="middle" textLength="161.30" lengthAdjust="spacingAndGlyphs">Differential methylation site in DNMT3A IDH1/2</text>
<text x="133.60" y="425.80" font-size="7.8" stroke="#222" stroke-width="0.03" text-anchor="middle" textLength="131.60" lengthAdjust="spacingAndGlyphs">double mutant patient vs single mutant</text>
<defs><linearGradient id="gH" x1="0" x2="1" y1="0" y2="0"><stop offset="0" stop-color="#20207e"/><stop offset="0.15" stop-color="#3a3a95"/><stop offset="0.5" stop-color="#ffffff"/><stop offset="0.85" stop-color="#d04848"/><stop offset="1" stop-color="#b41c1c"/></linearGradient></defs>
<rect x="249.40" y="421.50" width="29.20" height="12.40" fill="url(#gH)"/>
<path d="M255 433.9 C257 433 258 425 259 424 C260 423 261 423.5 262 424.5 C263 425.5 264 426.8 265 426 C266 425 267 424.5 268 425.5 C269.5 427 270 433 272.5 433.9" stroke="#4fb3b0" stroke-width="0.6" fill="none"/>
<line x1="263.60" y1="423.00" x2="263.60" y2="433.90" stroke="#4fb3b0" stroke-width="0.5" stroke-dasharray="0.8 0.8"/>
<line x1="251.30" y1="433.90" x2="251.30" y2="436.60" stroke="#222" stroke-width="0.6"/>
<line x1="255.45" y1="433.90" x2="255.45" y2="436.60" stroke="#222" stroke-width="0.6"/>
<line x1="259.60" y1="433.90" x2="259.60" y2="436.60" stroke="#222" stroke-width="0.6"/>
<line x1="263.75" y1="433.90" x2="263.75" y2="436.60" stroke="#222" stroke-width="0.6"/>
<line x1="267.90" y1="433.90" x2="267.90" y2="436.60" stroke="#222" stroke-width="0.6"/>
<line x1="272.05" y1="433.90" x2="272.05" y2="436.60" stroke="#222" stroke-width="0.6"/>
<line x1="276.20" y1="433.90" x2="276.20" y2="436.60" stroke="#222" stroke-width="0.6"/>
<text x="251.20" y="441.30" font-size="3.6" fill="#333" stroke="#333" stroke-width="0.04" text-anchor="middle">−4</text>
<text x="263.80" y="441.30" font-size="3.6" fill="#333" stroke="#333" stroke-width="0.04" text-anchor="middle">0</text>
<text x="276.00" y="441.30" font-size="3.6" fill="#333" stroke="#333" stroke-width="0.04" text-anchor="middle">4</text>
<text x="263.80" y="448.80" font-size="4.8" fill="#333" stroke="#333" stroke-width="0.04" text-anchor="middle" textLength="18.40" lengthAdjust="spacingAndGlyphs">M-Value</text>
<text x="246.50" y="427.80" font-size="4.6" fill="#333" stroke="#333" stroke-width="0.04" text-anchor="middle" transform="rotate(-90 246.50 427.80)">Count</text>
<path d="M68.8 458.3V454.8H71.3V458.3M76.1 458.3V454.8H78.6V458.3M73.7 458.3V453.5H77.3V454.8M70.0 454.8V452.5H75.5V453.5M81.0 458.3V454.8H83.4V458.3M82.2 454.8V453.5H85.9V458.3M88.3 458.3V454.8H90.7V458.3M84.0 453.5V452.0H89.5V454.8M72.8 452.5V449.1H86.8V452.0M95.6 458.3V454.8H98.0V458.3M93.2 458.3V452.9H96.8V454.8M100.5 458.3V454.8H102.9V458.3M95.0 452.9V451.5H101.7V454.8M79.8 449.1V448.2H98.4V451.5M107.8 458.3V454.8H110.2V458.3M105.4 458.3V453.4H109.0V454.8M112.7 458.3V454.8H115.1V458.3M113.9 454.8V453.0H117.5V458.3M107.2 453.4V451.0H115.7V453.0M89.1 448.2V447.3H111.4V451.0M120.0 458.3V454.8H122.4V458.3M124.8 458.3V454.8H127.3V458.3M129.7 458.3V454.8H132.1V458.3M126.1 454.8V452.2H130.9V454.8M121.2 454.8V451.0H128.5V452.2M100.3 447.3V446.4H124.8V451.0M134.6 458.3V454.8H137.0V458.3M139.5 458.3V454.8H141.9V458.3M140.7 454.8V452.9H144.3V458.3M142.5 452.9V452.0H146.8V458.3M135.8 454.8V450.5H144.6V452.0M112.5 446.4V445.5H140.2V450.5M149.2 458.3V454.8H151.6V458.3M156.5 458.3V454.8H158.9V458.3M157.7 454.8V452.5H161.4V458.3M154.1 458.3V451.4H159.5V452.5M150.4 454.8V449.0H156.8V451.4M126.4 445.5V443.1H153.6V449.0M163.8 458.3V454.8H166.2V458.3M165.0 454.8V451.7H168.7V458.3M171.1 458.3V454.8H173.6V458.3M172.3 454.8V451.2H176.0V458.3M166.9 451.7V446.2H174.2V451.2M140.0 443.1V438.5H170.5V446.2M178.4 458.3V454.8H180.9V458.3M183.3 458.3V454.8H185.7V458.3M179.6 454.8V451.8H184.5V454.8M193.0 458.3V454.8H195.5V458.3M190.6 458.3V452.4H194.3V454.8M188.2 458.3V451.5H192.4V452.4M182.1 451.8V448.0H190.3V451.5M197.9 458.3V454.8H200.3V458.3M202.8 458.3V454.8H205.2V458.3M204.0 454.8V452.8H207.7V458.3M199.1 454.8V451.0H205.8V452.8M210.1 458.3V454.8H212.5V458.3M211.3 454.8V452.3H215.0V458.3M217.4 458.3V454.8H219.8V458.3M213.1 452.3V450.5H218.6V454.8M202.5 451.0V447.8H215.9V450.5M224.7 458.3V454.8H227.1V458.3M222.3 458.3V453.2H225.9V454.8M232.0 458.3V454.8H234.4V458.3M233.2 454.8V452.8H236.9V458.3M229.6 458.3V451.9H235.1V452.8M224.1 453.2V450.0H232.3V451.9M209.2 447.8V446.5H228.2V450.0M186.2 448.0V444.6H218.7V446.5M155.3 438.5V435.1H202.4V444.6" stroke="#333" stroke-width="0.45" fill="none"/>
<text x="65.50" y="463.30" font-size="5.4" stroke="#222" stroke-width="0.04" text-anchor="end" font-style="italic" textLength="18.00" lengthAdjust="spacingAndGlyphs">IDH1/2</text>
<text x="65.50" y="471.80" font-size="5.4" stroke="#222" stroke-width="0.04" text-anchor="end" font-style="italic" textLength="23.50" lengthAdjust="spacingAndGlyphs">DNMT3A</text>
<rect x="67.60" y="458.30" width="170.40" height="7.70" fill="#b8b8b8"/>
<rect x="102.70" y="458.30" width="2.50" height="7.70" fill="#000"/>
<rect x="109.60" y="458.30" width="3.30" height="7.70" fill="#000"/>
<rect x="130.80" y="458.30" width="2.30" height="7.70" fill="#000"/>
<rect x="155.80" y="458.30" width="3.80" height="7.70" fill="#000"/>
<rect x="162.50" y="458.30" width="75.50" height="7.70" fill="#000"/>
<rect x="67.60" y="466.00" width="170.40" height="8.20" fill="#000"/>
<rect x="103.80" y="466.00" width="1.60" height="8.20" fill="#b8b8b8"/>
<rect x="165.40" y="466.00" width="2.30" height="8.20" fill="#b8b8b8"/>
<rect x="180.40" y="466.00" width="10.00" height="8.20" fill="#b8b8b8"/>
<rect x="192.70" y="466.00" width="22.30" height="8.20" fill="#b8b8b8"/>
<rect x="217.30" y="466.00" width="2.30" height="8.20" fill="#b8b8b8"/>
<rect x="225.00" y="466.00" width="13.00" height="8.20" fill="#b8b8b8"/>
<rect x="67.60" y="474.20" width="100.10" height="2.80" fill="#2b4a86"/>
<rect x="167.70" y="474.20" width="12.70" height="2.80" fill="#e39a1e"/>
<rect x="180.40" y="474.20" width="57.60" height="2.80" fill="#4b216f"/>
<path d="M67.4 477.0L56.6 477.0L56.0 478.1L57.2 480.2L57.2 482.0L57.7 483.3L57.8 484.9L58.0 486.6L56.0 488.1L57.7 489.1L57.5 490.1L55.7 491.8L55.6 493.7L58.0 495.7L57.7 496.8L55.9 498.6L55.9 500.3L57.6 502.4L55.7 504.6L57.4 505.8L56.0 507.5L58.0 509.5L55.9 510.8L56.7 512.5L57.0 514.2L55.6 515.6L56.9 516.6L56.8 518.4L57.1 520.2L57.5 522.3L55.9 523.5L55.6 524.4L58.1 526.4L55.8 528.3L55.9 530.0L57.5 532.0L57.3 533.9L58.0 535.3L56.2 537.4L57.7 538.8L56.7 540.6L58.4 542.0L56.1 543.2L56.3 544.9L56.5 547.0L56.6 549.1L57.8 551.1L56.1 553.0L55.6 554.0L57.5 555.0L56.2 555.9L56.0 557.5L56.2 558.8L55.9 560.5L57.3 562.7L57.2 564.5L58.4 566.0L58.0 568.1L57.3 568.9L57.4 571.0L57.4 572.6L57.7 573.6L55.7 575.5L57.3 577.0L57.5 578.3L58.2 580.4L56.0 581.6L57.3 583.6L58.1 585.6L57.3 586.8L57.9 588.0L56.2 589.8L57.3 591.3L56.0 592.4L55.7 593.9L58.3 595.4L55.7 597.3L57.6 599.3L55.6 601.1L56.1 602.9L56.5 604.8L56.0 606.2L56.2 608.2L57.0 610.2L57.5 611.2L55.6 612.8L56.3 614.7L57.8 615.5L56.7 617.4L57.1 618.4L57.6 618.8L67.4 618.8Z" fill="#000"/>
<path d="M52.4 477.5H58.5M50.6 479.0H58.5M50.6 479.0V480.6H58.5M54.3 480.5H58.5M53.8 481.7H58.5M53.8 481.7V483.2H58.5M54.5 482.5H58.5M54.0 483.9H58.5M54.0 483.9V486.1H58.5M51.7 484.7H58.5M51.7 484.7V487.0H58.5M50.5 485.6H58.5M50.5 485.6V487.8H58.5M54.9 486.6H58.5M54.9 486.6V488.9H58.5M54.9 487.6H58.5M53.7 489.2H58.5M55.3 490.9H58.5M55.3 490.9V493.2H58.5M51.6 492.5H58.5M51.6 492.5V494.8H58.5M52.7 493.7H58.5M51.0 494.9H58.5M51.1 496.2H58.5M51.0 497.9H58.5M52.6 499.5H58.5M52.6 499.5V501.4H58.5M51.0 500.5H58.5M50.1 501.5H58.5M51.3 503.3H58.5M51.3 503.3V505.0H58.5M49.6 504.8H58.5M55.1 505.7H58.5M55.1 505.7V508.1H58.5M53.4 506.9H58.5M53.4 506.9V508.1H58.5M51.7 508.0H58.5M51.7 508.0V509.5H58.5M52.9 508.8H58.5M53.2 510.4H58.5M53.3 511.9H58.5M53.3 511.9V512.8H58.5M54.9 513.6H58.5M54.4 515.0H58.5M54.1 516.8H58.5M54.1 516.8V519.2H58.5M52.2 518.1H58.5M52.2 518.1V519.4H58.5M53.2 518.9H58.5M55.0 519.7H58.5M52.7 521.3H58.5M52.7 521.3V522.9H58.5M55.2 522.4H58.5M52.6 524.1H58.5M51.2 525.6H58.5M51.2 525.6V528.0H58.5M51.1 526.6H58.5M51.1 526.6V527.5H58.5M50.5 527.8H58.5M54.3 528.6H58.5M54.3 528.6V530.8H58.5M55.2 530.2H58.5M55.2 530.2V532.7H58.5M51.6 531.1H58.5M51.6 531.1V532.7H58.5M52.8 531.9H58.5M53.4 533.4H58.5M53.4 533.4V535.9H58.5M55.2 534.5H58.5M55.2 534.5V535.8H58.5M54.0 536.3H58.5M54.0 536.3V537.8H58.5M51.0 537.6H58.5M51.0 537.6V538.5H58.5M52.0 538.8H58.5M52.0 538.8V540.4H58.5M51.8 539.9H58.5M50.1 540.8H58.5M50.1 540.8V542.1H58.5M54.7 542.0H58.5M55.0 543.6H58.5M55.0 543.6V545.0H58.5M51.2 544.4H58.5M51.2 544.4V545.6H58.5M55.1 545.5H58.5M52.7 547.2H58.5M53.1 548.6H58.5M52.5 550.0H58.5M52.5 550.0V550.9H58.5M51.9 551.1H58.5M51.9 551.1V553.6H58.5M52.1 551.9H58.5M52.1 551.9V553.3H58.5M55.3 553.5H58.5M55.3 553.5V555.5H58.5M51.2 555.2H58.5M51.2 555.2V556.7H58.5M51.3 556.8H58.5M53.6 557.7H58.5M51.5 558.4H58.5M49.8 559.6H58.5M49.8 559.6V561.3H58.5M52.0 560.8H58.5M52.2 562.2H58.5M52.2 562.2V564.3H58.5M52.4 563.2H58.5M50.4 564.0H58.5M50.4 564.0V565.9H58.5M53.5 565.6H58.5M51.7 566.3H58.5M51.7 566.3V567.7H58.5M51.7 567.3H58.5M51.7 567.3V568.2H58.5M49.6 568.6H58.5M49.6 568.6V570.1H58.5M53.7 570.2H58.5M53.7 570.2V571.0H58.5M53.8 571.7H58.5M52.5 573.5H58.5M52.5 573.5V575.2H58.5M53.3 574.3H58.5M53.3 574.3V576.2H58.5M53.6 575.6H58.5M53.6 575.6V577.7H58.5M55.4 577.4H58.5M54.1 578.3H58.5M54.1 578.3V580.7H58.5M49.6 579.0H58.5M49.6 579.0V579.9H58.5M55.1 580.7H58.5M55.1 580.7V583.0H58.5M54.4 581.8H58.5M54.4 581.8V584.2H58.5M50.9 583.0H58.5M50.9 583.0V583.8H58.5M52.3 583.8H58.5M52.6 585.6H58.5M52.6 585.6V586.8H58.5M55.0 586.3H58.5M54.0 587.3H58.5M52.2 588.7H58.5M54.0 590.4H58.5M54.0 590.4V591.9H58.5M55.2 591.8H58.5M49.9 593.0H58.5M49.9 593.0V594.3H58.5M50.8 594.5H58.5M51.2 595.9H58.5M49.7 597.5H58.5M55.3 599.0H58.5M55.3 599.0V600.9H58.5M51.3 600.6H58.5M55.2 602.1H58.5M55.2 602.1V603.1H58.5M53.6 603.4H58.5M52.8 604.9H58.5M53.2 606.6H58.5M53.2 606.6V607.4H58.5M49.6 607.9H58.5M49.6 607.9V610.4H58.5M53.6 608.9H58.5M53.1 610.0H58.5M51.5 611.5H58.5M50.9 612.9H58.5M54.8 614.5H58.5M51.8 616.0H58.5M54.4 617.6H58.5M54.4 617.6V618.8H58.5" stroke="#000" stroke-width="0.5" fill="none"/>
<path d="M57.6 602.4L61.9 602.7M57.5 518.5L61.9 517.8M58.4 604.6L62.8 604.7M58.0 575.2L61.3 573.7M58.3 555.1L61.9 554.8M55.9 553.3L59.9 552.0M55.8 496.9L60.7 498.1M59.3 564.0L61.9 564.5M55.9 543.3L59.7 542.2M56.1 517.1L58.8 518.3M57.7 546.0L60.1 545.0M58.3 493.3L62.0 494.0M56.5 558.6L59.7 558.2M58.3 604.9L62.8 605.3M58.6 609.7L60.6 608.4M59.1 484.3L61.7 484.1M56.4 558.4L59.2 559.5M58.8 503.8L62.2 504.4M58.2 532.3L62.3 532.1M57.2 519.7L61.5 518.2M56.9 507.2L61.0 507.2M59.0 509.5L62.7 510.7M59.3 530.6L63.0 530.1M58.7 499.9L61.2 500.8M56.0 589.2L60.2 589.8M58.5 491.7L63.4 491.2M57.1 551.0L59.9 550.0M59.4 569.2L61.8 567.8M56.6 552.4L61.2 551.8M56.7 482.1L60.0 481.9M56.6 534.7L61.5 533.2M58.8 509.4L61.4 508.5M58.0 532.1L62.5 532.9M59.2 503.0L61.8 504.0M56.0 595.7L59.1 594.8M58.6 541.6L63.0 542.4M56.7 483.1L61.4 483.8M56.2 582.6L58.7 582.6M56.0 561.8L60.6 562.0M59.1 605.0L62.3 604.3" stroke="#fff" stroke-width="0.35" fill="none"/>
<path d="M23.4 516V566.5M23.4 516H40.4M40.4 510V523M40.4 510H44M44 500V520M44 500H49.3M49.3 489.4V514.2M49.3 489.4H56M49.3 514.2H56M44 520H56M40.4 523H42.2M42.2 523V545M42.2 536H56M42.2 545H56M49.3 495H56M49.3 505H56" stroke="#666" stroke-width="0.55" fill="none"/>
<path d="M23.4 566.5H37.5M37.5 542V591.1M37.5 542H41.5M41.5 530V555H56M41.5 530H56M37.5 591.1H43.3M43.3 581.3V600.3M43.3 581.3H50M50 575V588H56M50 575H56M43.3 600.3H48M48 592V608H56M48 592H56M48 614H56M48 608V614" stroke="#666" stroke-width="0.55" fill="none"/>
<text x="281.60" y="405.20" font-size="11" fill="#000" font-weight="bold">I</text>
<text x="378.50" y="417.40" font-size="7.8" stroke="#222" stroke-width="0.03" text-anchor="middle" textLength="102.80" lengthAdjust="spacingAndGlyphs">H3K27ac marked enhancers in</text>
<text x="377.90" y="426.10" font-size="7.8" stroke="#222" stroke-width="0.03" text-anchor="middle" textLength="67.20" lengthAdjust="spacingAndGlyphs">normal CD34+ cells</text>
<path d="M333.0 455.4V453.4H335.8V455.4M334.4 453.4V452.5H338.5V455.4M330.2 455.4V451.6H336.5V452.5M341.3 455.4V453.4H344.1V455.4M342.7 453.4V452.5H346.9V455.4M349.7 455.4V453.4H352.4V455.4M344.8 452.5V451.6H351.1V453.4M333.3 451.6V450.8H347.9V451.6M358.0 455.4V453.4H360.8V455.4M355.2 455.4V452.5H359.4V453.4M363.6 455.4V453.4H366.4V455.4M357.3 452.5V451.6H365.0V453.4M340.6 450.8V450.0H361.1V451.6M369.1 455.4V453.4H371.9V455.4M377.5 455.4V453.4H380.3V455.4M374.7 455.4V452.5H378.9V453.4M370.5 453.4V451.5H376.8V452.5M350.9 450.0V449.0H373.7V451.5M385.8 455.4V453.4H388.6V455.4M383.0 455.4V452.2H387.2V453.4M385.1 452.2V451.3H391.4V455.4M388.3 451.3V450.4H394.2V455.4M362.3 449.0V448.0H391.2V450.4M397.0 455.4V453.4H399.7V455.4M398.4 453.4V452.1H402.5V455.4M400.4 452.1V451.2H405.3V455.4M402.9 451.2V450.3H408.1V455.4M376.7 448.0V447.0H405.5V450.3M410.9 455.4V453.4H413.7V455.4M416.4 455.4V453.4H419.2V455.4M412.3 453.4V450.2H417.8V453.4M422.0 455.4V453.4H424.8V455.4M415.0 450.2V448.5H423.4V453.4M391.1 447.0V445.3H419.2V448.5M433.1 455.4V453.4H435.9V455.4M430.3 455.4V451.7H434.5V453.4M427.6 455.4V450.8H432.4V451.7M438.7 455.4V453.4H441.5V455.4M440.1 453.4V451.5H444.3V455.4M430.0 450.8V448.5H442.2V451.5M447.0 455.4V453.4H449.8V455.4M448.4 453.4V451.8H452.6V455.4M455.4 455.4V453.4H458.2V455.4M456.8 453.4V452.0H460.9V455.4M450.5 451.8V450.6H458.9V452.0M463.7 455.4V453.4H466.5V455.4M454.7 450.6V448.5H465.1V453.4M436.1 448.5V444.0H459.9V448.5M405.2 445.3V437.0H448.0V444.0" stroke="#000" stroke-width="0.8" fill="none"/>
<text x="322.80" y="462.60" font-size="5.4" stroke="#222" stroke-width="0.04" text-anchor="end" font-style="italic" textLength="17.00" lengthAdjust="spacingAndGlyphs">IDH1/2</text>
<text x="322.80" y="471.80" font-size="5.4" stroke="#222" stroke-width="0.04" text-anchor="end" font-style="italic" textLength="22.60" lengthAdjust="spacingAndGlyphs">DNMT3A</text>
<rect x="328.80" y="455.40" width="139.10" height="8.90" fill="#b8b8b8"/>
<rect x="353.00" y="455.40" width="6.40" height="8.90" fill="#000"/>
<rect x="365.50" y="455.40" width="2.10" height="8.90" fill="#000"/>
<rect x="400.80" y="455.40" width="2.70" height="8.90" fill="#000"/>
<rect x="406.00" y="455.40" width="2.00" height="8.90" fill="#000"/>
<rect x="411.00" y="455.40" width="56.90" height="8.90" fill="#000"/>
<rect x="328.80" y="464.30" width="139.10" height="8.00" fill="#000"/>
<rect x="400.80" y="464.30" width="1.90" height="8.00" fill="#b8b8b8"/>
<rect x="410.80" y="464.30" width="3.80" height="8.00" fill="#b8b8b8"/>
<rect x="425.20" y="464.30" width="1.50" height="8.00" fill="#b8b8b8"/>
<rect x="429.00" y="464.30" width="2.00" height="8.00" fill="#b8b8b8"/>
<rect x="433.00" y="464.30" width="17.20" height="8.00" fill="#b8b8b8"/>
<rect x="452.10" y="464.30" width="15.80" height="8.00" fill="#b8b8b8"/>
<line x1="330.20" y1="464.60" x2="330.20" y2="472.00" stroke="#555" stroke-width="0.25"/>
<line x1="332.98" y1="464.60" x2="332.98" y2="472.00" stroke="#555" stroke-width="0.25"/>
<line x1="335.76" y1="464.60" x2="335.76" y2="472.00" stroke="#555" stroke-width="0.25"/>
<line x1="338.54" y1="464.60" x2="338.54" y2="472.00" stroke="#555" stroke-width="0.25"/>
<line x1="341.32" y1="464.60" x2="341.32" y2="472.00" stroke="#555" stroke-width="0.25"/>
<line x1="344.10" y1="464.60" x2="344.10" y2="472.00" stroke="#555" stroke-width="0.25"/>
<line x1="346.88" y1="464.60" x2="346.88" y2="472.00" stroke="#555" stroke-width="0.25"/>
<line x1="349.66" y1="464.60" x2="349.66" y2="472.00" stroke="#555" stroke-width="0.25"/>
<line x1="352.44" y1="464.60" x2="352.44" y2="472.00" stroke="#555" stroke-width="0.25"/>
<line x1="355.22" y1="464.60" x2="355.22" y2="472.00" stroke="#555" stroke-width="0.25"/>
<line x1="358.00" y1="464.60" x2="358.00" y2="472.00" stroke="#555" stroke-width="0.25"/>
<line x1="360.78" y1="464.60" x2="360.78" y2="472.00" stroke="#555" stroke-width="0.25"/>
<line x1="363.56" y1="464.60" x2="363.56" y2="472.00" stroke="#555" stroke-width="0.25"/>
<line x1="366.34" y1="464.60" x2="366.34" y2="472.00" stroke="#555" stroke-width="0.25"/>
<line x1="369.12" y1="464.60" x2="369.12" y2="472.00" stroke="#555" stroke-width="0.25"/>
<line x1="371.90" y1="464.60" x2="371.90" y2="472.00" stroke="#555" stroke-width="0.25"/>
<line x1="374.68" y1="464.60" x2="374.68" y2="472.00" stroke="#555" stroke-width="0.25"/>
<line x1="377.46" y1="464.60" x2="377.46" y2="472.00" stroke="#555" stroke-width="0.25"/>
<line x1="380.24" y1="464.60" x2="380.24" y2="472.00" stroke="#555" stroke-width="0.25"/>
<line x1="383.02" y1="464.60" x2="383.02" y2="472.00" stroke="#555" stroke-width="0.25"/>
<line x1="385.80" y1="464.60" x2="385.80" y2="472.00" stroke="#555" stroke-width="0.25"/>
<line x1="388.58" y1="464.60" x2="388.58" y2="472.00" stroke="#555" stroke-width="0.25"/>
<line x1="391.36" y1="464.60" x2="391.36" y2="472.00" stroke="#555" stroke-width="0.25"/>
<line x1="394.14" y1="464.60" x2="394.14" y2="472.00" stroke="#555" stroke-width="0.25"/>
<line x1="396.92" y1="464.60" x2="396.92" y2="472.00" stroke="#555" stroke-width="0.25"/>
<line x1="399.70" y1="464.60" x2="399.70" y2="472.00" stroke="#555" stroke-width="0.25"/>
<rect x="328.80" y="472.30" width="85.80" height="5.40" fill="#2b4a86"/>
<rect x="414.60" y="472.30" width="10.00" height="5.40" fill="#e39a1e"/>
<rect x="424.60" y="472.30" width="43.30" height="5.40" fill="#4b216f"/>
<path d="M327.8 478.0L317.6 478.0L316.5 479.7L319.4 481.8L317.4 484.0L316.7 485.1L316.6 486.2L317.8 488.0L319.2 489.9L317.1 491.2L316.6 492.5L317.2 494.2L319.6 495.2L319.8 496.6L318.8 498.8L317.0 499.9L319.1 501.1L317.5 502.6L317.7 503.4L316.7 504.8L317.5 505.9L318.2 507.3L319.5 508.9L316.8 510.1L317.3 511.3L318.2 512.9L316.8 514.2L318.7 516.0L319.0 517.7L316.6 519.7L318.2 520.8L318.3 522.5L317.6 524.1L319.6 525.2L318.2 527.4L316.9 528.8L317.2 530.5L317.5 532.1L319.5 533.6L318.4 534.8L318.2 536.1L318.2 538.1L317.9 540.2L318.8 541.7L318.9 543.2L316.5 544.4L316.7 545.8L318.6 546.9L319.7 548.7L318.4 550.4L318.2 551.7L316.9 552.9L318.7 554.5L319.1 555.7L317.6 557.3L316.6 559.2L317.6 560.4L317.4 562.2L316.9 564.3L318.1 565.8L317.4 567.6L319.1 568.6L318.5 570.5L317.9 572.6L318.2 574.0L319.4 575.0L316.8 575.9L318.1 578.0L319.6 579.0L318.1 580.0L317.0 580.9L319.0 582.3L319.2 583.3L318.9 585.0L318.2 587.2L316.7 588.0L316.9 590.0L318.8 591.2L319.1 593.0L317.6 594.6L316.6 596.7L320.0 597.8L319.4 598.9L318.7 600.5L318.1 602.2L316.7 604.2L319.2 605.4L318.7 607.2L317.5 609.0L318.5 610.6L317.3 612.6L317.6 613.8L319.0 614.8L316.7 616.3L327.8 616.3Z" fill="#000"/>
<path d="M315.9 478.5H320.0M315.0 480.1H320.0M315.0 480.1V481.5H320.0M316.1 481.4H320.0M313.9 483.2H320.0M313.8 484.2H320.0M315.5 485.7H320.0M314.4 486.7H320.0M314.4 486.7V488.0H320.0M310.5 488.1H320.0M311.9 489.4H320.0M311.9 489.4V491.4H320.0M316.0 490.2H320.0M311.7 491.4H320.0M310.9 492.4H320.0M315.1 493.5H320.0M315.1 493.5V495.2H320.0M315.4 494.6H320.0M313.8 495.7H320.0M313.8 495.7V498.1H320.0M314.1 496.9H320.0M312.5 497.7H320.0M312.0 499.1H320.0M312.0 499.1V501.4H320.0M315.8 500.7H320.0M315.8 500.7V502.4H320.0M313.1 501.9H320.0M313.1 501.9V503.8H320.0M310.9 503.2H320.0M310.9 503.2V504.3H320.0M315.7 504.8H320.0M313.7 505.9H320.0M316.3 506.8H320.0M312.0 507.5H320.0M312.0 507.5V509.8H320.0M316.2 509.2H320.0M316.2 509.2V510.9H320.0M310.7 510.1H320.0M315.8 511.4H320.0M310.8 512.7H320.0M313.4 514.5H320.0M313.2 515.7H320.0M313.2 515.7V516.9H320.0M315.3 516.9H320.0M311.8 517.6H320.0M311.8 517.6V518.6H320.0M314.9 518.4H320.0M314.9 518.4V520.3H320.0M311.4 520.0H320.0M311.4 520.0V521.0H320.0M316.4 520.8H320.0M311.6 522.6H320.0M311.6 522.6V524.3H320.0M314.4 523.4H320.0M315.7 525.1H320.0M315.7 525.1V527.2H320.0M313.3 526.0H320.0M313.3 526.0V527.0H320.0M312.6 526.8H320.0M311.5 528.1H320.0M311.5 528.1V529.5H320.0M311.5 528.9H320.0M314.6 530.5H320.0M314.6 530.5V532.2H320.0M315.4 532.1H320.0M315.4 532.1V533.5H320.0M311.4 533.4H320.0M315.4 534.2H320.0M315.4 534.2V535.6H320.0M314.1 535.7H320.0M312.1 537.1H320.0M312.1 537.1V539.2H320.0M311.7 538.6H320.0M311.6 539.7H320.0M311.6 539.7V541.3H320.0M313.6 541.3H320.0M313.6 541.3V543.2H320.0M314.9 542.0H320.0M310.9 543.2H320.0M310.9 543.2V545.5H320.0M315.0 544.9H320.0M312.1 546.7H320.0M315.5 548.4H320.0M315.5 548.4V550.3H320.0M311.9 549.2H320.0M314.4 550.0H320.0M314.4 550.0V552.5H320.0M316.3 551.7H320.0M311.4 553.5H320.0M314.1 554.4H320.0M315.2 555.9H320.0M314.2 557.5H320.0M312.0 558.4H320.0M312.9 559.9H320.0M312.9 559.9V561.3H320.0M313.2 561.5H320.0M313.2 561.5V562.6H320.0M315.8 562.7H320.0M315.8 562.7V563.5H320.0M312.6 563.8H320.0M313.9 565.0H320.0M313.9 565.0V566.5H320.0M313.5 566.3H320.0M313.5 566.3V568.8H320.0M312.6 567.7H320.0M311.2 568.5H320.0M311.2 568.5V570.2H320.0M311.2 569.9H320.0M312.0 571.6H320.0M312.0 571.6V573.3H320.0M315.6 573.2H320.0M311.6 574.5H320.0M310.7 575.3H320.0M310.7 575.3V577.6H320.0M311.4 576.3H320.0M311.2 577.5H320.0M310.6 579.3H320.0M314.9 580.6H320.0M312.6 581.7H320.0M314.9 582.9H320.0M313.1 584.5H320.0M313.1 584.5V586.0H320.0M314.8 585.8H320.0M316.4 586.6H320.0M316.4 586.6V587.6H320.0M311.4 588.1H320.0M311.4 588.1V590.5H320.0M314.2 589.4H320.0M314.2 589.4V590.4H320.0M310.7 591.2H320.0M310.7 591.2V593.2H320.0M311.4 592.6H320.0M311.4 592.6V593.8H320.0M311.7 593.7H320.0M311.7 593.7V595.9H320.0M312.9 595.3H320.0M312.9 595.3V597.4H320.0M315.7 596.6H320.0M314.3 597.8H320.0M314.4 599.6H320.0M311.8 600.8H320.0M311.8 600.8V602.8H320.0M312.6 602.0H320.0M312.6 602.0V603.1H320.0M312.2 602.8H320.0M312.2 602.8V604.4H320.0M312.5 604.4H320.0M316.4 605.4H320.0M312.9 606.6H320.0M314.4 607.5H320.0M311.4 609.0H320.0M315.4 610.0H320.0M315.4 610.0V611.5H320.0M314.9 611.1H320.0M316.1 612.1H320.0M316.1 612.1V612.9H320.0M316.0 613.7H320.0M316.0 613.7V614.5H320.0M310.8 614.7H320.0M310.5 615.8H320.0" stroke="#000" stroke-width="0.5" fill="none"/>
<path d="M316.7 493.3L320.0 493.4M319.1 606.3L323.8 606.0M317.3 594.4L321.7 594.1M320.2 551.6L322.5 551.9M318.8 549.0L321.4 550.2M319.0 526.2L321.7 525.1M316.7 525.5L321.7 524.5M318.6 509.3L321.6 508.6M317.3 482.2L321.7 481.6M319.4 582.5L324.3 581.5M316.8 556.5L319.9 557.3M320.8 541.5L325.1 540.2M317.7 553.1L319.8 553.7M317.2 582.5L321.8 583.4M318.9 559.7L322.4 560.7M318.0 588.4L322.1 587.4M320.1 603.0L324.6 604.2M319.5 503.3L323.6 503.8M320.3 573.2L324.0 573.8M319.5 486.2L323.4 487.4M317.8 548.3L322.7 547.4M319.9 556.8L324.9 556.4M319.9 581.8L322.2 583.0M320.5 490.4L325.1 490.4M316.9 585.6L319.0 585.0M318.7 511.0L323.4 511.3M319.4 566.8L321.5 567.0M318.1 534.8L320.9 534.4M319.0 552.5L321.4 551.4M318.1 578.7L322.5 578.2M319.7 538.6L322.7 538.8M316.8 610.1L320.9 610.9M320.8 606.3L323.7 605.8M319.5 541.1L322.2 540.3M318.0 530.6L321.4 530.5M320.0 569.8L324.0 570.7M319.8 488.3L323.2 488.4M318.7 574.3L321.4 574.5M318.3 519.4L322.1 519.5M318.3 504.5L320.4 504.2" stroke="#fff" stroke-width="0.35" fill="none"/>
<path d="M289.2 495.3V538.5M289.2 495.3H307.8M307.8 488.2V502.4M307.8 488.2H314M307.8 502.4H314M289.2 538.5H299.5M299.5 508.3V567.8M299.5 508.3H309M309 508.3V525M309 525H314M309 514H314M299.5 567.8H307M307 550.4V586.9M307 550.4H314M307 586.9H310M310 578V600M310 578H314M310 600H314M310 608H314M310 600V608" stroke="#333" stroke-width="0.6" fill="none"/>
<rect x="0.5" y="0.5" width="519" height="625" fill="none" stroke="#000" stroke-width="1"/>
</svg>
</body></html>
